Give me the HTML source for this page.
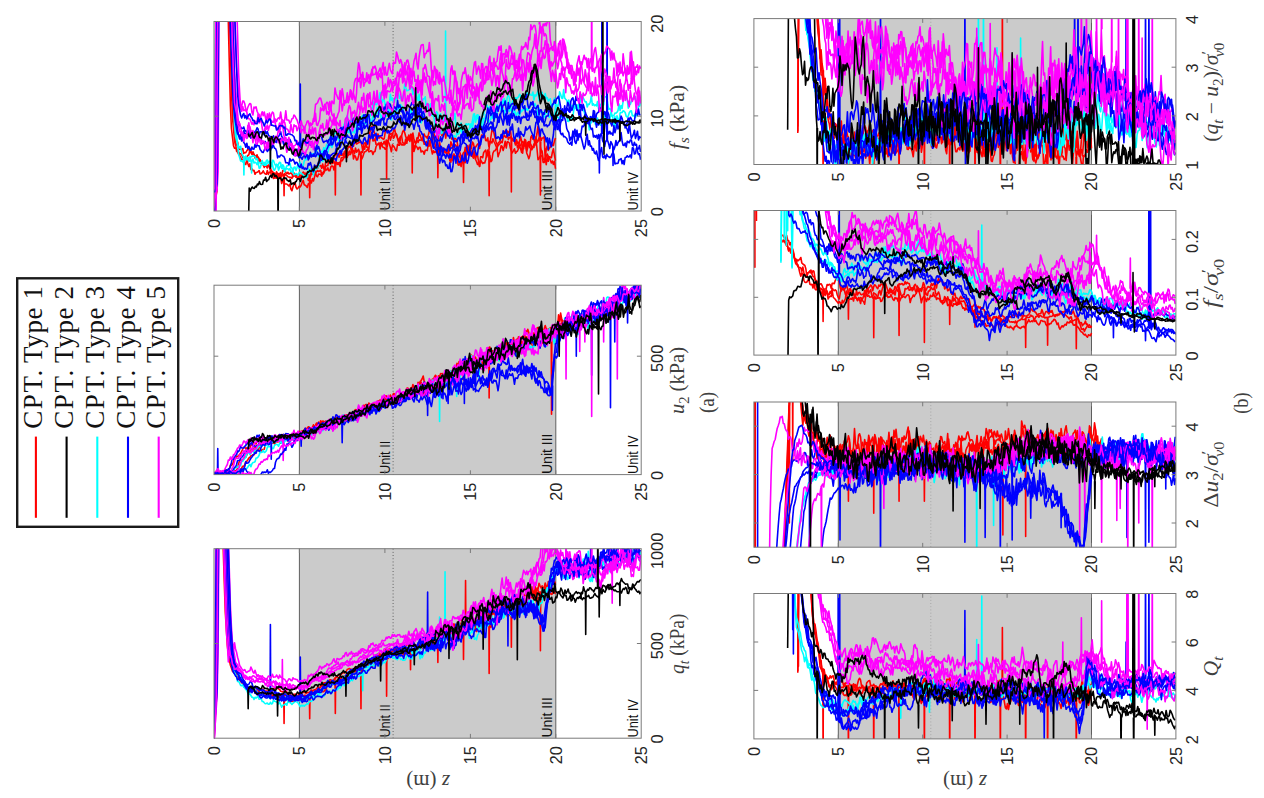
<!DOCTYPE html>
<html><head><meta charset="utf-8"><title>CPT profiles</title>
<style>html,body{margin:0;padding:0;background:#fff}body{width:1264px;height:798px;overflow:hidden;font-family:"Liberation Sans",sans-serif}svg{display:block}.ns path{vector-effect:non-scaling-stroke}</style>
</head><body>
<svg width="1264" height="798" viewBox="0 0 1264 798">
<rect width="1264" height="798" fill="#fff"/>
<rect x="299.4" y="21.5" width="256.3" height="189.5" fill="#cbcbcb"/>
<path d="M299.4,21.5V211.0M555.8,21.5V211.0" stroke="#5e5e5e" stroke-width="1" fill="none"/>
<path d="M393.1,21.5V211.0" stroke="#3a3a3a" stroke-width="0.8" stroke-dasharray="0.9,2.3" fill="none"/>
<text transform="translate(389.5,210.4) rotate(-90)" font-size="14" text-anchor="start" font-family="Liberation Sans, sans-serif" fill="#111" textLength="33.3" lengthAdjust="spacingAndGlyphs">Unit II</text>
<text transform="translate(552.2,210.4) rotate(-90)" font-size="14" text-anchor="start" font-family="Liberation Sans, sans-serif" fill="#111" textLength="40.5" lengthAdjust="spacingAndGlyphs">Unit III</text>
<text transform="translate(637.6,210.4) rotate(-90)" font-size="14" text-anchor="start" font-family="Liberation Sans, sans-serif" fill="#111" textLength="38.5" lengthAdjust="spacingAndGlyphs">Unit IV</text>
<clipPath id="c_fs"><rect x="214.0" y="21.5" width="427.2" height="189.5"/></clipPath>
<g clip-path="url(#c_fs)"><g transform="translate(214.00 0) scale(1.02540 0.25)" fill="none" stroke-width="1.60" stroke-linejoin="round" vector-effect="non-scaling-stroke" class="ns">
<path d="M0.00 817l1-14 1-20 1-21 1-903 1 0 1 0 1 0 1 0 1 0 1 0 1 0 1 0 1 26 1 209 1 173 1 157 1 90 1 34 1 35 1 10 1-1 1 5 1 4 1 6 1 8 1 0 1 4 1 11 1-2 1 5 1 2 1-7 1-6 1-3 1-19 1 11 1 5 1-9 1 10 1 15 1-9 1-4 1 20 1 10 1-11 1 15 1 2 1 3 1 0 1 0 1 7 1 7 1-10 1 0 1 10 1 12 1 2 1 5 1 1 1 11 1-16 1 11 1-3 1 2 1-7 1 12 1 0 1-5 1-2 1 5 1 2 1 5 1 1 1 3 1-2 1 5 1-13 1-9 1 7 1 10 1 1 1 7 1-6 1-10 1 5 1-8 1-10 1 4 1 1 1 0 1 6 1-13 1 23 1-2 1-12 1 2 1-11 1-4 1 11 1 11 1 3 1-11 1 1 1 0 1 8 1-13 1-6 1-6 1-15 1-2 1-1 1-23 1-2 1 3 1 15 1-8 1-1 1 10 1-7 1 4 1-2 1 2 1-5 1-5 1 0 1-7 1-29 1-4 1 17 1-19 1-14 1 2 1-8 1 24 1-11 1 42 1-15 1 5 1 14 1-1 1-16 1-18 1 15 1-14 1 4 1-33 1-5 1-2 1 19 1 0 1 10 1-38 1-18 1-13 1 34 1-2 1-7 1 22 1 1 1 0 1-1 1 1 1-8 1 11 1-6 1-10 1 14 1-19 1 26 1-29 1-23 1 27 1-14 1-12 1-9 1-13 1 20 1 4 1 15 1 9 1 20 1-33 1-6 1-15 1-6 1 10 1 16 1 7 1 2 1-16 1 26 1-18 1-7 1 36 1 29 1-14 1-26 1-5 1 9 1-11 1 2 1-1 1-6 1 7 1 16 1-3 1-8 1 10 1 9 1-21 1-2 1-5 1 0 1-12 1 19 1 23 1 5 1-2 1 0 1-21 1 25 1 1 1-3 1 17 1-11 1 3 1 16 1-5 1-6 1-4 1-35 1 9 1 20 1-13 1-5 1 6 1 0 1 20 1 22 1 3 1 30 1-18 1 9 1-7 1 8 1-27 1-42 1 11 1 16 1 5 1 11 1-22 1 15 1-7 1 27 1 8 1 12 1-7 1 15 1-39 1 0 1 4 1-21 1-5 1-5 1 28 1-15 1-8 1-40 1 2 1 5 1-17 1 11 1 8 1 10 1 11 1-22 1-4 1-6 1-16 1-11 1-2 1-9 1 2 1 6 1-9 1 35 1-8 1-3 1 0 1 12 1 4 1-2 1 13 1-7 1 23 1-5 1-22 1-17 1 19 1 47 1-41 1 12 1-3 1 32 1 9 1 13 1-12 1-31 1 7 1-8 1-15 1 6 1-26 1-22 1-30 1 37 1 26 1 32 1 6 1 32 1 3 1-9 1 28 1-32 1 18 1-18 1 2 1 2 1-22 1-14 1 26 1 22M68.03 697 L68.33 783 68.63 697M93.03 709 L93.33 791 93.63 709M118.03 656 L118.33 780 118.63 656M143.03 620 L143.33 780 143.63 620M168.03 560 L168.33 715 168.63 560M193.03 541 L193.33 692 193.63 541M218.03 590 L218.33 711 218.63 590M243.03 650 L243.33 730 243.63 650M268.03 605 L268.33 783 268.63 605M289.70 548 L290.00 768 290.30 548M318.03 567 L318.33 780 318.63 567" stroke="#ff0000"/>
<path d="M0.00 831l1-40 1-108 1-824 1 0 1 0 1 0 1 0 1 0 1 0 1 0 1 0 1 0 1 0 1 0 1 171 1 169 1 159 1 113 1 42 1 50 1 18 1-2 1-11 1 24 1 6 1-2 1 2 1-4 1 20 1-4 1 1 1-8 1-5 1 1 1-6 1 11 1 13 1 2 1-1 1 7 1 0 1 5 1-2 1 7 1 9 1 1 1 7 1 8 1 10 1-12 1 7 1 1 1-6 1 9 1 13 1 2 1 7 1 4 1 13 1-6 1 8 1-17 1 13 1-10 1 10 1 2 1-26 1 1 1-8 1 16 1 4 1-6 1 7 1-2 1-3 1 5 1 11 1-3 1-3 1 7 1-10 1 7 1 6 1 4 1-14 1 6 1 0 1-8 1 0 1 4 1 1 1 17 1-7 1-15 1-22 1 12 1 4 1 6 1-27 1-10 1 12 1-11 1 0 1-1 1 11 1-17 1 20 1-5 1-23 1-3 1-18 1 18 1-4 1 6 1 3 1 3 1-19 1-15 1-10 1 12 1-7 1 15 1-12 1 4 1 0 1-7 1 5 1-10 1-10 1 17 1 5 1-4 1 1 1-14 1-22 1 3 1-21 1 5 1 7 1-3 1-2 1-2 1-5 1 13 1 24 1-16 1 12 1-27 1 9 1-16 1-8 1-26 1-9 1-16 1 12 1 9 1 16 1 13 1-16 1-2 1 17 1-8 1 5 1 3 1 4 1-2 1-27 1-7 1-1 1 4 1 7 1 6 1-2 1-2 1 20 1-6 1-14 1 7 1 14 1 17 1-18 1-7 1-2 1 28 1 0 1 6 1-9 1-11 1-5 1 7 1-14 1-10 1 11 1-15 1 26 1 13 1 2 1-22 1 4 1-24 1 10 1 12 1 10 1-21 1-6 1 11 1-1 1 7 1-13 1-15 1-3 1-7 1 37 1-26 1 17 1 5 1 4 1 16 1-25 1-26 1-8 1 32 1 2 1-29 1 12 1 27 1-31 1 8 1-15 1 16 1 4 1 22 1-13 1 18 1-10 1 4 1 8 1 27 1 11 1 11 1 12 1 7 1-20 1-4 1-9 1-6 1 22 1-18 1-17 1 9 1 5 1-26 1 6 1 21 1-6 1-6 1-6 1-4 1 21 1-37 1-17 1 5 1-9 1 5 1 21 1 1 1-12 1 35 1-10 1-27 1-26 1-2 1 10 1 19 1 16 1 11 1 6 1-5 1-4 1-8 1 5 1-21 1-9 1 6 1 3 1-21 1 0 1-3 1-11 1 39 1 1 1 6 1-1 1 20 1-22 1 15 1-4 1 18 1 7 1 16 1-27 1 12 1-38 1 4 1 44 1-15 1-24 1 25 1-42 1-7 1 15 1 1 1 15 1-26 1 23 1-5 1-14 1-8 1 20 1-11 1 0 1-5 1 90 1-41 1-12 1 18 1-9 1-5 1-18 1 12 1 0 1-18 1-12" stroke="#ff0000"/>
<path d="M0.00 850l1-51 1-639 1-301 1 0 1 0 1 0 1 0 1 0 1 0 1 0 1 0 1 0 1 0 1 0 1 0 1 87 1 217 1 163 1 157 1 39 1 51 1 32 1 4 1 7 1 5 1 9 1 9 1-2 1 3 1 17 1 1 1-20 1 16 1 12 1-11 1 23 1-3 1 8 1-2 1 16 1-7 1-1 1-2 1-5 1 14 1-2 1-3 1-8 1 9 1 4 1 1 1-15 1 16 1-9 1-2 1 11 1-1 1 17 1-2 1-1 1 2 1 0 1-6 1 0 1 4 1 23 1-11 1 1 1 12 1 0 1 0 1 4 1 4 1-8 1 20 1 7 1-15 1-11 1-8 1 20 1 7 1-4 1-7 1 3 1-7 1-12 1-8 1 18 1 2 1 3 1 6 1-15 1 3 1-16 1 10 1-18 1 10 1-16 1-13 1-9 1-3 1 3 1-2 1-3 1 17 1 0 1-5 1-9 1-7 1 3 1-9 1 12 1 0 1-16 1-3 1 1 1 15 1-19 1-15 1 12 1-2 1 1 1 9 1-34 1-2 1 0 1 1 1-10 1 10 1-2 1-17 1-8 1 13 1-10 1-5 1 0 1 12 1-22 1 17 1-6 1-6 1 16 1 1 1 23 1-8 1-14 1-8 1-1 1-5 1-5 1 11 1-1 1-3 1 2 1 13 1-11 1-1 1-19 1-8 1-3 1-5 1 25 1-26 1 14 1 6 1 0 1 7 1-1 1-32 1 3 1 9 1 14 1 17 1-28 1 5 1 6 1 10 1 3 1-26 1 4 1-4 1-6 1 9 1-1 1 1 1-2 1-22 1 17 1-22 1-7 1 8 1-4 1 16 1-1 1 37 1-17 1 1 1 5 1 9 1-9 1 0 1 19 1-4 1 2 1 11 1-16 1 0 1 1 1-26 1 8 1-17 1 30 1 19 1-13 1 7 1-4 1 5 1-13 1 21 1-20 1 7 1-5 1 11 1-8 1 4 1 3 1-3 1-23 1 24 1 34 1 6 1-30 1 24 1-28 1 14 1-6 1-3 1 39 1 2 1-11 1 16 1-20 1-7 1-7 1-43 1 15 1 15 1-4 1 6 1-34 1 29 1 9 1 8 1-29 1 32 1-15 1-1 1 27 1 18 1-25 1 7 1 7 1-3 1 1 1-14 1-23 1-15 1 22 1-1 1 26 1-5 1-29 1-9 1-1 1-6 1-9 1 39 1-13 1-9 1-22 1 3 1 16 1-16 1-21 1 27 1-25 1 1 1 4 1 20 1 12 1 7 1-8 1-8 1 18 1-6 1-3 1-10 1-6 1-8 1-9 1-5 1 8 1-10 1 7 1 29 1-30 1-3 1 5 1 5 1 14 1-5 1 4 1-28 1-6 1 39 1 44 1-4 1-11 1 0 1-1 1 27 1 0 1-11 1-15 1-8 1 9 1 5 1 10 1 12 1-8 1 14 1-13 1 30" stroke="#ff0000"/>
<path d="M0.00 862l1-431 1-572 1 0 1 0 1 0 1 0 1 0 1 0 1 0 1 0 1 0 1 0 1 0 1 0 1 0 1 136 1 137 1 141 1 135 1 95 1 43 1 16 1 14 1 9 1 7 1-7 1 28 1 8 1 7 1 0 1-4 1 9 1 6 1-8 1-3 1 18 1-3 1-7 1 16 1-3 1 2 1 8 1-11 1 2 1 2 1-2 1-8 1 13 1 6 1 0 1-2 1-7 1-4 1-3 1 17 1 5 1-26 1 1 1 12 1 8 1-5 1 9 1-10 1-7 1 3 1 22 1-15 1 6 1 22 1-13 1-11 1 0 1-4 1-6 1 17 1 2 1 16 1-19 1-1 1 14 1-12 1-15 1 20 1-26 1 20 1-6 1 0 1-19 1-6 1 1 1-18 1 14 1-16 1 4 1-5 1-3 1 1 1 3 1-12 1-6 1 12 1 13 1 1 1-15 1-8 1 7 1-21 1 7 1-5 1-15 1 10 1 2 1-40 1 10 1-14 1 14 1-19 1-7 1 0 1-17 1 23 1 8 1-16 1 1 1-6 1-8 1-22 1 2 1-24 1-13 1 26 1 8 1-5 1-13 1 15 1 4 1 10 1-14 1-27 1 30 1-8 1 2 1-12 1-10 1-6 1 5 1-7 1 20 1 0 1-8 1 1 1-7 1-7 1-18 1-21 1-13 1 8 1 5 1-3 1-13 1-8 1-25 1 13 1 27 1-11 1 2 1 26 1-15 1 6 1 25 1-28 1-38 1 24 1-9 1 17 1 0 1-20 1 9 1-20 1-3 1 18 1-8 1 17 1-8 1-20 1-38 1 14 1 13 1-1 1-2 1-8 1-7 1 7 1 26 1-19 1 16 1-9 1 29 1 7 1-25 1 48 1-6 1-10 1-14 1 1 1-9 1 47 1 5 1-24 1 14 1-14 1 26 1 7 1 15 1 4 1-11 1-9 1 6 1 23 1 6 1-27 1 24 1 9 1-9 1-25 1 33 1-26 1 35 1 9 1-1 1 4 1-21 1-4 1-9 1-20 1 55 1-15 1 1 1 13 1-6 1-10 1 22 1-1 1-4 1-7 1-7 1 5 1-5 1 3 1 13 1-15 1 15 1-21 1-20 1-1 1-8 1 12 1-12 1 20 1 1 1 15 1-45 1 7 1-26 1-3 1-11 1 10 1 10 1-14 1 8 1 14 1-2 1-19 1 27 1-4 1-30 1 4 1 9 1-6 1-6 1-22 1 18 1-22 1 11 1 10 1-26 1-8 1 8 1 42 1-7 1-17 1-10 1 1 1-7 1 6 1-7 1-2 1-11 1 5 1 26 1 3 1-9 1-7 1-4 1-21 1 6 1 5 1-5 1 4 1 1 1-13 1 32 1-21 1 5 1-10 1-11 1 40 1-30 1 15 1-19 1 26 1 1 1-22 1 21 1-5 1 14 1-5 1-4 1 34 1-5 1-5 1-27 1 28 1-2 1 21 1-29 1-43 1 10 1 15 1 2 1-36 1 34 1 5 1 4 1 18 1-19 1 21 1 4 1-4 1 11 1-17 1 20 1-3 1-3 1 8 1-19 1-10 1-29 1 6 1 6 1 8 1 9 1-1 1 21 1-12 1 2 1-10 1-26 1 39 1-6 1 8 1-4 1 5 1-18 1 28 1-3 1-14 1 21 1-26 1 8 1-34 1 2 1-2 1 32 1 20 1-4 1 5 1 25 1-1 1-1 1-10 1 1 1-4 1-7 1-26 1 26 1-20 1 12 1-30 1-24 1 2 1 13 1 1 1 37 1-26 1 11 1-12 1-10 1-4 1 4 1-9 1 33 1-9 1 7 1 4 1-26M225.53 487 L225.83 124 226.13 487M28.87 628 L29.17 700 29.47 628M36.37 643 L36.67 692 36.97 643" stroke="#00ffff"/>
<path d="M0.00 868l1-27 1-27 1-581 1-374 1 0 1 0 1 0 1 0 1 0 1 0 1 0 1 0 1 0 1 0 1 0 1 0 1 10 1 157 1 160 1 124 1 124 1 106 1 39 1 39 1 12 1 14 1-1 1 5 1-7 1-8 1 8 1-9 1-2 1 15 1-2 1-17 1 0 1-3 1 2 1 1 1 13 1-5 1 13 1 26 1-1 1-15 1 1 1-4 1-5 1 10 1-16 1-3 1 10 1 3 1-2 1 0 1 7 1 20 1 3 1-9 1-14 1 3 1 20 1-12 1-6 1 7 1 4 1 3 1 6 1-5 1-4 1 1 1 5 1-6 1 13 1-2 1 3 1 11 1-1 1-4 1 3 1 5 1-12 1-1 1 4 1 3 1 4 1 7 1-5 1 10 1-4 1-33 1 17 1-16 1 3 1 1 1 20 1-19 1-1 1-8 1 0 1-8 1-13 1-33 1 23 1 5 1-9 1-2 1 4 1-19 1-10 1-19 1-9 1-2 1 10 1-15 1-10 1-4 1-4 1-5 1 3 1 11 1-11 1 8 1-5 1-12 1-10 1-6 1 7 1-21 1 15 1-14 1 17 1 5 1-25 1 14 1 4 1-20 1 0 1 14 1-22 1-2 1-9 1-14 1 21 1-9 1 0 1 5 1-4 1-17 1-5 1 4 1 12 1 2 1-29 1 15 1-22 1 11 1-34 1 24 1 2 1 0 1 19 1-13 1 2 1-14 1 13 1 3 1-2 1-30 1-7 1 31 1 23 1-43 1 21 1-9 1-16 1 13 1-17 1-8 1 27 1-30 1 22 1-14 1 20 1 14 1 27 1 3 1-6 1-20 1-17 1-14 1 42 1-25 1-2 1 11 1 0 1 3 1 19 1 5 1-6 1 12 1-16 1-8 1-20 1-2 1-32 1 14 1 15 1 11 1 2 1 2 1 5 1-3 1 22 1 40 1-8 1-15 1 40 1-5 1-16 1 16 1-6 1-13 1-6 1 17 1-20 1 22 1 16 1-4 1 4 1 2 1 3 1-7 1 5 1 1 1-21 1 11 1-6 1-9 1-11 1 23 1-32 1 10 1 10 1 3 1-5 1-1 1-3 1-21 1 9 1-20 1-27 1-3 1 34 1-15 1-15 1 21 1 12 1-1 1 30 1-9 1-38 1 2 1-17 1 9 1 19 1 2 1-7 1-6 1-23 1 20 1-14 1 16 1-33 1 10 1-22 1-1 1 4 1 9 1-16 1 5 1 28 1-17 1 0 1-4 1-20 1 28 1-17 1 14 1 0 1 15 1-20 1 17 1 9 1-15 1 4 1 11 1-24 1 7 1-9 1 2 1-17 1 19 1-8 1 8 1-10 1-12 1 2 1-7 1 1 1 7 1-9 1 9 1 21 1 42 1-54 1 13 1 4 1-2 1 3 1 19 1-14 1-4 1 2 1 8 1 9 1-9 1-3 1 18 1 14 1-10 1-55 1 13 1 32 1-1 1 28 1-18 1-20 1 1 1-6 1 7 1-25 1 30 1 19 1 1 1-15 1 5 1-2 1-9 1-28 1-10 1-5 1-3 1 7 1 3 1-3 1 4 1 2 1 6 1 9 1 16 1 31 1-7 1-3 1 36 1-28 1-1 1-21 1 0 1 9 1 19 1-1 1-25 1 24 1-8 1 13 1-11 1 6 1-10 1-24 1 25 1 13 1-26 1 4 1 3 1-30 1 9 1 11 1 34 1-39 1 45 1-48 1 19 1 5 1-34 1-3 1 0 1-7 1 2 1 5 1 15 1 3 1-4 1-13 1-6 1-2 1 20 1 1 1-4 1 10 1-11 1-4 1-28 1-2 1-21" stroke="#00ffff"/>
<path d="M0.00 848l1-33 1-26 1-828 1-102 1 0 1 0 1 0 1 0 1 0 1 0 1 0 1 0 1 0 1 0 1 124 1 144 1 107 1 118 1 70 1 42 1 26 1 28 1 17 1 5 1 6 1-10 1 16 1-3 1-26 1 11 1 2 1 16 1-15 1-6 1 3 1 19 1-8 1-9 1 17 1-15 1 9 1 2 1 1 1 9 1-1 1-3 1 19 1-6 1 5 1-7 1 8 1 1 1-4 1 16 1-14 1-5 1 23 1-30 1 6 1 1 1-12 1 4 1-5 1 6 1-7 1 8 1-4 1 20 1-2 1-10 1 9 1-13 1-3 1-2 1 10 1 15 1 24 1 2 1-8 1 1 1-5 1 26 1 9 1-2 1 2 1 6 1-11 1-2 1-8 1 4 1 1 1 4 1 2 1-5 1 6 1-7 1 4 1-3 1 5 1-6 1-12 1 10 1-3 1 16 1-17 1 11 1-18 1-6 1 13 1 11 1 14 1-16 1 7 1-10 1-3 1-4 1-1 1 2 1-18 1-13 1-6 1-1 1-19 1-22 1 0 1 14 1-1 1-12 1 17 1-14 1 9 1 0 1 4 1 0 1-10 1 21 1-8 1-15 1-9 1-47 1 2 1-6 1 14 1 40 1-19 1-23 1 21 1-9 1-5 1 12 1 3 1-3 1 8 1-10 1 1 1-5 1-18 1 4 1-3 1-1 1-8 1 21 1-22 1-4 1 2 1 1 1-17 1-18 1 5 1-2 1 23 1-19 1-1 1 13 1 2 1 9 1-21 1 5 1-2 1 21 1 14 1-1 1 13 1-23 1-18 1 6 1 19 1 10 1-19 1-11 1 2 1-1 1 5 1-12 1-22 1 13 1 4 1 11 1-15 1 3 1 11 1 4 1 13 1-12 1 4 1-1 1 21 1-17 1 31 1-14 1 18 1 22 1 35 1 18 1 1 1 11 1 2 1 18 1 5 1 29 1-17 1-10 1-4 1-7 1 6 1 12 1-16 1 6 1 9 1-16 1 15 1-19 1-12 1-4 1 6 1 10 1 9 1-4 1-11 1-4 1-23 1-4 1-24 1 11 1-40 1 32 1-6 1 9 1 9 1-4 1-21 1 13 1-1 1 2 1-11 1 10 1-12 1 23 1 19 1-22 1-13 1-7 1 3 1-19 1-25 1 5 1 3 1 11 1-10 1-3 1 12 1-30 1 34 1-11 1-1 1-11 1-31 1 3 1-16 1 14 1 12 1 18 1-23 1-12 1-12 1 37 1-29 1 41 1-26 1-16 1 13 1-19 1 8 1 18 1-14 1 23 1-24 1 3 1 26 1-25 1 3 1-7 1 5 1 0 1-18 1 16 1-4 1-20 1 7 1-12 1 8 1-3 1 26 1-2 1 5 1 24 1-18 1-6 1 6 1-11 1 15 1 20 1 0 1-5 1 9 1-6 1-1 1-15 1-5 1-13 1 33 1-11 1-21 1 25 1-9 1-6 1 15 1-39 1 6 1 11 1-8 1 9 1 14 1 28 1 10 1 6 1 33 1-14 1 8 1-33 1 14 1-21 1 29 1-25 1 40 1-26 1 13 1-15 1-29 1 3 1-5 1-24 1-2 1 17 1-11 1 11 1 15 1 10 1-5 1 35 1-6 1 7 1-8 1 14 1-17 1 22 1-24 1 0 1 27 1 7 1 16 1-22 1 0 1-1 1 14 1 17 1-28 1 8 1 12 1 13 1-12 1-25 1 20 1-11 1-7 1-3 1-31 1 35 1 16 1 1 1-10 1 16 1-23 1 3 1 3 1-11 1 0 1 20 1 4 1-15 1 12 1-4 1 30 1 11 1-3 1 24M83.87 629 L84.17 336 84.47 629M378.03 536 L378.33 -141 378.63 536M383.03 564 L383.33 -141 383.63 564M375.53 560 L375.83 692 376.13 560M388.87 586 L389.17 662 389.47 586" stroke="#0000ff"/>
<path d="M0.00 869l1-48 1-25 1-918 1-19 1 0 1 0 1 0 1 0 1 0 1 0 1 0 1 0 1 0 1 0 1 0 1 0 1 0 1 0 1 56 1 122 1 118 1 113 1 53 1 54 1 44 1 17 1 9 1-19 1 16 1-2 1 3 1 5 1 24 1 3 1 1 1 10 1 11 1-7 1 9 1-15 1 5 1-4 1-27 1-1 1 30 1-4 1 28 1 23 1-6 1-23 1 12 1-17 1 21 1-16 1-5 1-18 1 7 1 0 1-15 1 25 1 10 1 4 1-4 1-17 1 6 1 3 1-14 1 2 1 1 1 24 1 2 1 2 1 11 1 1 1-33 1 22 1 12 1-32 1 6 1-2 1 20 1-9 1-18 1 10 1 25 1-11 1-2 1-9 1 18 1 8 1 16 1-14 1-21 1-23 1 4 1 0 1-23 1 11 1-32 1 46 1 3 1-13 1-10 1-48 1 11 1-8 1 9 1-10 1-12 1 36 1-11 1 14 1-19 1-9 1 26 1 6 1 0 1 8 1 3 1-6 1-14 1-9 1-56 1 6 1 48 1-28 1-2 1-6 1-9 1-28 1 40 1-24 1-28 1 7 1 32 1-30 1-39 1-13 1-3 1 1 1 12 1-16 1 41 1-27 1-35 1 31 1-5 1 12 1-5 1-9 1-15 1 31 1-33 1 6 1-35 1 5 1-8 1 13 1 24 1-9 1-10 1-10 1 29 1-30 1-21 1 50 1-32 1 33 1-1 1-26 1-21 1 27 1 8 1 7 1-47 1 6 1-2 1-44 1 14 1 19 1 12 1-15 1 10 1 39 1 29 1-65 1 49 1-9 1-27 1-2 1 71 1-60 1 36 1-7 1-17 1 41 1-7 1 27 1-45 1 52 1-12 1 7 1 32 1-107 1 1 1-16 1 20 1 24 1 3 1 1 1 67 1-60 1-31 1 29 1-46 1 12 1 36 1-30 1 37 1 16 1-24 1 12 1 82 1-20 1 3 1-2 1 15 1-16 1 6 1 21 1-53 1 62 1-25 1-48 1-64 1 43 1 66 1 46 1-15 1-29 1-20 1 5 1-34 1 0 1-7 1-3 1 15 1-52 1 52 1 15 1 13 1-60 1 33 1-5 1 53 1-49 1 29 1 8 1-36 1-24 1 19 1-71 1 53 1 3 1-4 1-47 1 18 1 8 1-6 1-45 1-6 1 45 1-21 1-13 1-2 1 6 1 11 1-1 1-40 1-25 1 53 1-9 1-4 1-33 1 10 1-14 1 15 1 41 1-10 1-38 1 5 1 18 1-33 1 76 1 25 1-14 1-66 1 53 1-16 1-3 1-29 1 4 1 44 1 3 1-50 1-28 1 3 1 5 1 19 1-29 1-15 1-11 1-47 1 57 1 0 1-17 1-34 1-44 1 36 1-28 1 11 1 27 1-9 1 7 1 38 1-3 1 29 1-13 1-4 1 12 1-3 1-32 1 15 1 38 1 4 1-49 1 51 1 11 1-25 1-55 1 2 1 16 1 15 1 61 1 23 1-13 1 2 1 0 1 0 1 22 1 14 1 38 1 3 1 27 1-6 1-10 1-60 1-41 1 9 1-21 1-16 1 17 1-6 1 39 1-37 1 45 1-9 1-2 1 17 1-56 1-29 1-10 1 31 1 42 1-14 1-14 1 2 1 41 1 16 1 11 1-29 1 12 1 13 1 23 1-16 1-2 1 50 1-32 1 3 1-55 1 46 1 19 1 18 1-48 1-9 1-6 1-22 1 13 1 20 1-15 1-15 1 39 1-17 1-16 1 16 1-86 1 105 1-68 1 2 1 49 1-29 1 1 1-10 1 32 1-27 1 10M368.03 268 L368.33 -141 368.63 268M317.20 98 L317.50 48 317.80 98" stroke="#ff00ff"/>
<path d="M0.00 854l1-74 1-921 1 0 1 0 1 0 1 0 1 0 1 0 1 0 1 0 1 0 1 0 1 0 1 0 1 0 1 56 1 145 1 113 1 122 1 132 1 23 1 33 1 23 1-21 1 15 1 8 1 6 1 0 1-6 1 14 1 2 1 6 1-10 1 10 1 8 1-13 1 10 1 5 1-6 1-8 1-4 1-11 1 5 1 25 1-14 1 0 1 1 1 3 1 9 1-16 1 11 1-9 1 14 1 5 1 1 1 7 1-2 1-8 1 12 1 1 1 14 1-21 1-3 1-8 1-11 1 19 1 4 1 26 1 3 1 0 1-21 1 17 1 5 1 15 1-2 1 8 1 5 1 15 1-12 1 14 1-12 1 6 1 4 1 0 1 0 1-9 1 0 1 3 1 17 1-8 1-4 1 20 1-8 1-23 1 14 1 1 1-8 1 7 1-16 1-23 1 12 1-10 1 13 1 19 1 5 1-2 1-6 1-9 1-1 1-8 1-9 1-12 1 5 1-24 1 23 1-4 1-25 1 8 1 26 1-6 1-8 1 8 1 11 1-14 1-9 1-21 1-9 1-7 1-12 1 2 1-27 1 20 1 12 1 18 1 13 1 10 1 7 1-32 1 25 1-44 1-10 1 5 1-3 1-29 1 8 1-32 1 8 1 22 1-30 1 47 1 14 1-7 1-3 1-2 1 19 1-12 1-15 1-1 1-13 1 13 1-18 1 3 1-10 1 3 1-13 1 35 1-8 1 9 1-26 1 0 1-11 1 11 1-10 1-3 1 2 1 12 1 1 1-5 1-13 1-13 1-8 1 5 1-1 1 7 1 17 1-6 1 14 1-31 1 12 1-3 1 27 1-23 1-4 1 7 1-5 1-11 1-21 1 20 1-15 1 12 1 49 1-26 1-9 1-8 1 12 1 17 1 28 1-8 1-1 1 31 1 1 1 8 1-6 1 16 1 10 1 9 1 7 1 42 1 7 1 2 1-37 1 4 1 33 1-29 1 7 1-2 1 8 1-16 1-11 1 24 1-10 1 0 1-4 1-16 1 20 1 15 1-20 1 21 1-21 1-8 1-41 1 5 1 18 1 12 1 1 1 4 1 24 1 11 1 3 1-36 1-23 1-23 1-20 1 15 1 6 1 4 1-16 1-23 1-33 1 46 1-7 1 13 1-3 1-8 1 16 1-28 1-4 1-42 1-9 1-14 1 18 1-5 1 46 1-43 1 27 1-16 1 34 1 2 1-27 1-13 1-17 1-13 1 0 1-16 1 33 1 18 1-45 1 24 1-8 1-10 1 0 1-3 1 8 1 7 1-10 1 13 1 4 1-10 1-15 1-1 1 19 1 6 1-11 1 36 1 19 1 3 1-1 1-19 1 3 1-16 1-18 1 28 1-14 1 0 1 44 1-23 1 23 1-22 1 9 1 12 1-36 1 6 1-18 1 2 1 3 1-1 1 3 1-4 1 20 1 22 1-23 1 5 1 12 1 15 1 25 1-13 1 18 1-30 1-15 1 4 1-30 1-29 1 36 1-27 1-23 1 11 1 29 1-22 1 15 1-13 1-24 1 6 1 9 1 21 1-1 1 21 1-26 1 39 1-1 1 0 1-4 1-13 1 19 1 19 1-13 1 17 1-32 1 8 1-9 1 22 1-43 1 35 1 30 1-22 1 13 1-12 1-2 1-3 1-8 1 10 1-9 1 8 1 45 1-4 1 11 1-11 1 11 1-4 1 9 1-39 1 29 1-16 1-21 1 22 1-13 1-17 1-22 1 9 1 20 1 8 1-2 1 10 1 9 1 15 1-43 1 37 1 27 1-9 1-7 1-17 1 33 1-13 1-16 1 35 1-14 1 7" stroke="#0000ff"/>
<path d="M0.00 939l1-442 1-638 1 0 1 0 1 0 1 0 1 0 1 0 1 0 1 0 1 0 1 0 1 0 1 0 1 0 1 21 1 46 1 106 1 95 1 152 1 84 1 39 1 51 1 41 1-1 1 20 1 14 1 12 1 9 1-9 1 2 1 7 1-35 1-22 1 36 1 16 1 1 1 27 1-31 1-3 1-7 1 35 1-24 1 3 1 26 1 8 1-13 1-1 1 1 1 9 1-2 1 25 1-33 1-15 1 10 1 16 1-2 1 5 1-27 1 8 1-9 1-11 1-26 1 16 1-22 1-24 1 18 1 38 1 14 1-4 1 20 1-4 1-16 1 34 1-6 1-4 1 21 1-11 1-1 1-5 1-14 1 12 1 28 1 0 1-3 1-14 1-22 1 6 1 5 1 8 1-24 1 7 1-20 1-27 1 17 1-28 1 28 1-22 1-2 1 53 1-10 1-1 1-33 1-20 1 11 1-18 1 29 1-7 1-1 1-35 1 39 1-31 1-21 1 15 1 6 1 6 1-39 1 45 1 1 1-12 1 7 1 7 1-21 1 61 1-1 1 5 1-27 1-43 1-6 1-5 1-28 1-16 1 10 1 49 1-33 1 5 1-11 1 16 1 1 1-29 1-21 1 29 1 2 1-50 1 10 1-27 1 57 1-9 1-40 1 10 1 37 1-8 1 9 1 32 1-11 1-28 1-15 1 1 1-13 1 13 1 12 1-10 1-33 1-12 1-8 1 39 1-60 1 55 1-28 1 2 1 2 1-1 1-15 1-9 1-18 1 12 1-23 1 9 1 35 1-15 1-54 1-12 1 11 1 45 1-11 1-7 1 31 1-17 1-40 1 35 1 34 1-15 1 5 1 5 1 6 1 15 1-32 1 1 1 29 1-11 1-7 1-34 1 29 1-25 1-31 1 37 1-21 1 29 1 16 1 18 1 20 1-17 1 47 1 11 1-25 1-13 1 2 1 7 1-21 1 56 1 7 1-28 1 4 1 20 1-27 1 53 1 17 1 59 1-59 1 51 1-80 1 7 1-45 1-5 1-10 1 18 1 29 1-38 1 11 1-8 1-41 1-12 1 65 1-17 1-62 1 3 1 43 1-90 1 30 1 11 1-3 1 50 1-22 1-4 1 38 1-68 1 23 1 3 1-17 1-10 1 30 1-3 1-38 1 13 1-43 1 28 1-6 1 3 1-32 1 24 1 32 1-21 1-40 1 23 1 41 1-43 1 1 1 55 1-61 1-50 1 44 1 13 1 26 1-17 1-75 1 24 1 14 1-2 1-21 1 3 1 2 1-14 1 37 1-36 1-3 1 19 1-21 1-23 1 2 1 38 1 55 1-11 1-14 1 35 1-42 1-29 1 4 1 22 1 25 1-14 1-17 1 38 1-20 1-26 1 3 1-51 1 30 1 18 1-32 1-1 1-39 1 5 1-33 1 14 1 34 1-12 1 25 1 53 1-30 1 17 1-12 1-7 1-58 1 51 1 37 1-19 1-50 1 34 1 11 1 31 1-14 1 21 1-18 1-6 1-29 1 56 1-2 1-25 1 31 1 12 1 34 1-8 1-30 1-43 1 41 1-30 1 27 1 37 1-16 1-9 1 22 1 8 1 8 1 2 1 4 1-15 1-7 1 38 1 13 1-11 1-28 1 23 1 1 1-29 1 8 1-2 1-5 1 37 1-35 1 37 1-47 1-32 1 30 1 37 1-3 1-32 1 17 1-9 1-9 1-3 1-9 1 29 1-16 1 79 1-66 1-28 1 36 1 41 1 11 1-65 1-8 1-28 1 18 1 38 1-23 1 17 1-42 1 23 1-68 1 59 1 35 1 13 1 1 1 45 1-57 1 42" stroke="#ff00ff"/>
<path d="M0.00 883l1-41 1-27 1-913 1-43 1 0 1 0 1 0 1 0 1 0 1 0 1 0 1 0 1 0 1 0 1 0 1 0 1 59 1 156 1 123 1 121 1 125 1 54 1 19 1 26 1 14 1-5 1 13 1-14 1 20 1 5 1 14 1-16 1 21 1-8 1 14 1 1 1-13 1 9 1-1 1-19 1 12 1-10 1 4 1 0 1 15 1 5 1 6 1 1 1-10 1-6 1 3 1 9 1-5 1-7 1 8 1-13 1-3 1-4 1 11 1 1 1 10 1 28 1-8 1 4 1-8 1 0 1 4 1 1 1 9 1 17 1 0 1 0 1 8 1-25 1 10 1-3 1-4 1 7 1 12 1-7 1 1 1 10 1 6 1 4 1-14 1 18 1-6 1 9 1-5 1 5 1-3 1-20 1 6 1-10 1 14 1 18 1 5 1-27 1 6 1-1 1-2 1-16 1 5 1-23 1 12 1-9 1 0 1-19 1-10 1 3 1 19 1-6 1 17 1 1 1 10 1-16 1 4 1-1 1 9 1-17 1-8 1-5 1-11 1 15 1-18 1-3 1-6 1-34 1 13 1 4 1 4 1-4 1-1 1-3 1 19 1-14 1-12 1-15 1-12 1 8 1 20 1-6 1 8 1 8 1 2 1-18 1-7 1 14 1 2 1 10 1-37 1 10 1 5 1-26 1 27 1-17 1 4 1-9 1 28 1-18 1 1 1 0 1-1 1-1 1-23 1 7 1-5 1 0 1 11 1-10 1 10 1-9 1 0 1-12 1 5 1-2 1-7 1-12 1-12 1 2 1-8 1-14 1 13 1 8 1 6 1 31 1-21 1-20 1 21 1-3 1-16 1 8 1 5 1 2 1 20 1-19 1-12 1-21 1 40 1-3 1 23 1 2 1 11 1-1 1 28 1 4 1 14 1 0 1-25 1-12 1 9 1 8 1 13 1 17 1-35 1-9 1-7 1 28 1 28 1-7 1 22 1 22 1 15 1-9 1 4 1 18 1-4 1 14 1 1 1-23 1 36 1-1 1-20 1-42 1 4 1 25 1-41 1 22 1 16 1-3 1 0 1-26 1 20 1 3 1-33 1 27 1 15 1-14 1-24 1-8 1 16 1-10 1-21 1-3 1 17 1 14 1-2 1-34 1-4 1-2 1-25 1-7 1 5 1-25 1 0 1-6 1-11 1-12 1-2 1-8 1 8 1 5 1 23 1-9 1 40 1-1 1-6 1 4 1 8 1-21 1 15 1-30 1 12 1-3 1-15 1 29 1-10 1 6 1-34 1 11 1-23 1 41 1 29 1-17 1-15 1 12 1-34 1 40 1-26 1 10 1 3 1 6 1-11 1-27 1 13 1-4 1-5 1-7 1 17 1 10 1 10 1 14 1-38 1-28 1 0 1 6 1 18 1 32 1-28 1-1 1 15 1 7 1 8 1 21 1-16 1 47 1-45 1 17 1 17 1-25 1-23 1-52 1 32 1-23 1-10 1 18 1-5 1 34 1 6 1-6 1 14 1-1 1 4 1 4 1 14 1 5 1 4 1-8 1 12 1-51 1 10 1 27 1 7 1-16 1-20 1 5 1-8 1 13 1 16 1 18 1 14 1-13 1-30 1-16 1 43 1-17 1 22 1-1 1 17 1-7 1 18 1 4 1-12 1 20 1 18 1-9 1-30 1-13 1 38 1 3 1-9 1 13 1-18 1 8 1 2 1 3 1-3 1-10 1-8 1 8 1 39 1-3 1 1 1-1 1-15 1 0 1-4 1 21 1-13 1 16 1-28 1-1 1-6 1 5 1-1 1-7 1 12 1-41 1 1 1 24 1-2 1-22 1 2 1 2 1-14 1 26" stroke="#0000ff"/>
<path d="M0.00 821l1-28 1-22 1-9 1-76 1-827 1 0 1 0 1 0 1 0 1 0 1 0 1 0 1 0 1 0 1 0 1 0 1 0 1 0 1 0 1 0 1 37 1 108 1 135 1 153 1 77 1 67 1-12 1-20 1 0 1 11 1 24 1 4 1-14 1-9 1-6 1 3 1 33 1 10 1-32 1 4 1-5 1 18 1 9 1 38 1-15 1-18 1-12 1 16 1-15 1 19 1 18 1-30 1 24 1-27 1 24 1-18 1-10 1 4 1 28 1-3 1 9 1-11 1-4 1 5 1-28 1 30 1 2 1 11 1-13 1-35 1 37 1 0 1 1 1 12 1-5 1-13 1-1 1-14 1 4 1 9 1 7 1 13 1 10 1-3 1-17 1 18 1 4 1 28 1-29 1-8 1-12 1 0 1 20 1-12 1 10 1-9 1-8 1-26 1-41 1-3 1-4 1-11 1-8 1 1 1 15 1 19 1 6 1-16 1 1 1-9 1 1 1 29 1-33 1 32 1-34 1 7 1 4 1-63 1 22 1 10 1 11 1 2 1-35 1 34 1-41 1 25 1 41 1-19 1 9 1-4 1-11 1 3 1-34 1 23 1 10 1-24 1 15 1 20 1-36 1-80 1-42 1 17 1 47 1-17 1 5 1 42 1-14 1-7 1-33 1 32 1 9 1 2 1-33 1-24 1 23 1-2 1-1 1-9 1 23 1 8 1-25 1 12 1 5 1-19 1 90 1-40 1 15 1-2 1-12 1-32 1 36 1-29 1 8 1 39 1-19 1-5 1-1 1-21 1-31 1 17 1-12 1 15 1-9 1-40 1 22 1-14 1-6 1-19 1-2 1 18 1 34 1 45 1 0 1-58 1-33 1-14 1-19 1 43 1 20 1-48 1-25 1-21 1-3 1-1 1 53 1-16 1-2 1-12 1 5 1-36 1 46 1 64 1 25 1 37 1-16 1 12 1-60 1 21 1 33 1-42 1 34 1-3 1 4 1-20 1 26 1 23 1 26 1 14 1-15 1-33 1-69 1-14 1 35 1-14 1 16 1 18 1 10 1 46 1-21 1 55 1-79 1-23 1-17 1 5 1-23 1 30 1 32 1-8 1 8 1-27 1 14 1 0 1-40 1-30 1-4 1 51 1-18 1-15 1 18 1 31 1-59 1 1 1 51 1-30 1-10 1 0 1 44 1-69 1-16 1 56 1-5 1 0 1-43 1 32 1-16 1-4 1-34 1-25 1 15 1-18 1 71 1-39 1 2 1-2 1-17 1 12 1 18 1-44 1 5 1 14 1 20 1 2 1 33 1-11 1 26 1-16 1 29 1-46 1-23 1-32 1 13 1-11 1 1 1-18 1 17 1 10 1-48 1 10 1-60 1 19 1-9 1-8 1 2 1 23 1 47 1 66 1 4 1-40 1 3 1-81 1-29 1 7 1-10 1 10 1-15 1-35 1 36 1 72 1 22 1 9 1-7 1 22 1 8 1 14 1-20 1-20 1-21 1-6 1 69 1-16 1-44 1 29 1 31 1-22 1 52 1-9 1 43 1-3 1 21 1-11 1-16 1 14 1 26 1-68 1-17 1-18 1 34 1-10 1 33 1 36 1 11 1-48 1 25 1 28 1 31 1-98 1-30 1 9 1 32 1-2 1 16 1-20 1 1 1-23 1 24 1 73 1-118 1-10 1 32 1-40 1 6 1-13 1-18 1 4 1 6 1 3 1 44 1-37 1 35 1-27 1 28 1 6 1 57 1-50 1 37 1-42 1 44 1-7 1-70 1 38 1 31 1 24 1-46 1 35 1-29 1-5 1-58 1 42 1 16 1 45 1-29 1 20 1-15 1-10 1 0 1-5" stroke="#ff00ff"/>
<path d="M0.00 769l1-5 1-12 1-17 1-362 1-514 1 0 1 0 1 0 1 0 1 0 1 0 1 0 1 0 1 0 1 0 1 0 1 0 1 0 1 18 1 151 1 128 1 114 1 107 1 41 1 23 1 21 1 10 1-12 1-6 1 18 1-10 1 14 1-10 1-7 1-4 1 12 1 5 1 11 1-2 1 12 1 2 1 0 1-24 1 16 1-9 1-5 1 12 1 7 1 12 1-11 1-12 1 11 1-9 1-7 1 1 1 24 1 0 1 2 1 1 1-1 1 17 1-2 1-7 1-8 1-1 1 2 1-1 1 9 1-4 1 33 1 0 1-6 1 1 1 0 1 2 1 1 1 4 1 4 1 16 1-2 1 15 1 3 1-10 1 21 1-8 1-13 1-14 1 10 1 1 1 6 1-1 1 2 1-7 1 15 1-13 1 12 1 6 1 3 1 18 1-16 1-21 1-16 1-13 1 3 1 4 1 15 1 7 1-5 1 0 1-4 1 11 1-14 1 1 1-16 1 15 1-6 1 8 1-16 1 17 1-13 1-10 1-16 1-8 1-4 1 18 1-20 1 21 1-2 1-23 1 6 1-8 1-18 1 14 1 4 1-11 1-18 1 1 1 18 1-5 1 6 1 8 1-20 1 38 1-22 1-15 1-22 1 0 1-1 1 15 1-10 1-6 1 37 1-4 1 2 1-8 1-3 1-9 1-11 1 2 1 5 1-27 1-1 1-16 1 23 1-4 1-16 1 18 1-29 1 18 1-11 1-9 1 3 1 15 1 12 1-11 1-8 1 7 1 6 1-38 1 30 1-11 1 9 1 17 1-6 1 9 1 12 1 12 1 22 1-8 1-33 1-26 1-6 1-12 1 7 1 3 1 43 1-22 1 12 1-17 1-16 1 29 1-15 1 28 1 13 1-7 1 35 1 13 1-20 1 22 1-35 1 17 1 4 1-1 1 20 1 7 1-8 1 4 1 35 1 2 1 1 1-17 1 20 1-14 1-14 1-7 1-9 1 7 1 13 1 0 1 10 1-23 1 8 1 16 1 16 1-7 1 4 1-2 1-13 1-3 1 15 1-22 1-1 1-16 1 21 1 1 1-12 1 6 1 8 1-7 1-13 1-7 1-8 1 2 1 5 1-19 1 20 1-20 1-5 1 6 1 3 1 12 1 14 1-28 1-11 1-16 1-20 1-25 1 22 1-12 1 20 1-9 1-3 1 1 1 13 1-28 1-11 1 20 1-18 1-9 1-11 1 39 1-4 1 37 1-12 1 9 1 23 1-21 1-6 1-16 1 12 1-32 1-12 1 16 1-9 1 1 1-15 1 13 1 25 1-43 1-2 1 7 1-17 1-15 1 13 1-20 1 41 1 14 1-6 1-18 1 10 1-13 1 25 1 1 1 4 1-10 1-5 1 39 1-20 1-1 1 15 1 34 1 8 1-14 1-17 1-1 1 0 1-44 1 14 1 8 1-24 1-3 1-15 1 13 1-18 1-3 1-7 1 19 1 23 1 34 1-26 1 24 1-18 1-6 1 6 1-7 1 11 1 3 1-43 1-10 1-4 1 20 1 7 1-33 1 16 1-7 1 10 1 27 1-13 1 24 1-25 1 14 1 16 1 13 1 7 1 22 1-2 1-7 1-9 1 9 1-38 1 17 1 26 1-28 1-6 1-2 1-19 1 8 1-9 1 22 1 6 1-11 1 21 1-23 1 4 1 10 1 31 1 4 1 11 1-22 1 6 1-13 1 16 1 1 1-2 1-1 1-11 1 14 1-6 1 2 1-1 1 25 1-9 1-14 1-17 1 9 1-12 1 7 1 8 1-1 1 0 1-28 1-17 1 24 1-26 1 23 1 0" stroke="#0000ff"/>
<path d="M0.00 907l1-1 1-18 1-518 1-511 1 0 1 0 1 0 1 0 1 0 1 0 1 0 1 0 1 0 1 0 1 8 1 75 1 97 1 147 1 105 1 119 1 26 1 18 1 40 1 12 1 21 1 0 1 16 1-14 1 36 1-15 1-11 1 15 1-52 1 3 1 2 1 18 1 4 1-7 1 28 1 4 1 21 1 1 1-9 1-11 1-6 1 15 1 0 1 8 1 4 1 23 1-11 1-20 1 22 1-17 1 1 1 4 1-21 1 17 1-13 1-17 1 5 1-1 1 22 1-9 1 15 1-26 1 9 1 2 1-11 1 33 1 25 1-14 1-24 1 9 1-4 1 16 1 13 1-14 1 34 1-15 1 10 1-15 1-16 1 9 1-2 1 1 1 12 1 0 1 11 1-18 1-5 1-12 1-13 1-7 1 24 1-25 1 35 1-29 1-9 1 15 1-1 1-26 1-26 1 14 1 6 1 4 1-14 1 8 1-6 1-1 1 2 1-9 1 5 1-23 1-8 1-21 1 20 1-23 1 2 1 60 1-20 1-1 1 0 1 39 1-34 1 12 1-16 1-13 1 1 1-38 1 10 1 4 1 20 1-11 1 32 1-10 1-44 1-16 1 12 1 23 1-22 1-11 1-27 1-5 1 25 1-17 1-2 1 21 1-51 1-25 1 21 1-26 1 48 1 1 1-18 1-36 1 39 1 4 1-46 1 40 1 20 1-22 1 5 1 23 1 39 1 0 1-26 1 9 1-42 1 2 1 24 1-4 1 9 1 6 1-16 1-33 1-7 1-43 1 48 1-46 1 10 1 14 1 31 1 1 1-37 1-8 1 85 1-47 1-15 1 23 1-28 1-2 1 14 1 27 1-5 1-41 1-36 1 11 1 25 1-48 1 8 1 49 1 33 1 2 1 19 1 16 1-25 1-10 1 4 1 45 1-2 1-9 1-85 1 47 1 36 1 6 1 79 1 17 1-43 1 26 1-55 1-2 1 20 1-11 1-4 1-25 1 37 1-5 1 41 1-25 1 25 1-48 1-5 1-58 1 19 1-1 1 15 1 11 1-10 1 4 1 20 1-39 1-20 1 16 1-15 1 0 1-6 1 0 1 21 1-46 1 55 1-3 1-6 1-55 1-11 1 15 1-35 1 17 1 49 1-10 1 20 1-4 1 20 1-7 1-20 1-28 1 12 1-1 1-12 1-22 1 35 1 33 1 15 1-64 1 15 1-23 1 18 1-24 1-11 1 45 1-15 1 0 1-22 1-37 1-24 1 23 1 43 1-21 1 31 1-7 1-58 1 1 1-17 1-18 1 43 1-8 1-7 1-21 1 33 1-23 1 64 1-54 1-16 1-18 1 2 1-16 1 28 1-57 1 34 1 38 1 41 1-17 1-35 1 15 1-13 1-11 1-28 1-5 1 24 1-43 1-18 1 21 1-4 1-38 1-15 1 65 1 28 1 18 1 38 1-45 1 16 1 29 1-48 1 34 1 40 1-18 1-40 1 24 1-45 1 24 1 13 1-19 1 80 1-60 1 19 1 13 1-4 1 17 1 17 1-10 1 14 1-17 1-16 1 44 1 15 1 9 1-45 1 18 1 28 1-41 1 10 1-2 1-7 1-23 1-58 1 12 1 71 1-28 1-20 1 25 1 30 1-72 1 72 1-30 1 25 1 69 1-2 1-11 1-44 1 17 1-37 1-36 1 14 1 25 1-66 1 28 1 82 1 31 1-63 1 4 1-2 1-20 1 36 1 20 1-51 1 26 1-61 1 27 1 6 1-8 1 41 1-40 1 36 1 11 1 18 1-65 1 27 1 17 1-11 1-23 1 32 1 46 1-82 1-19 1 41 1 24" stroke="#ff00ff"/>
<path d="M33.33 962l1-210 1 13 1-11 1-6 1 5 1 1 1-9 1 3 1-12 1 3 1-13 1 11 1 1 1-1 1-17 1 1 1-12 1 17 1-6 1-1 1-12 1-6 1 9 1-15 1 0 1 11 1-5 1 6 1 7 1 1 1-5 1 5 1 8 1-8 1-4 1 3 1-2 1 9 1 2 1 3 1-7 1 19 1-3 1-4 1 6 1-9 1-3 1-10 1 0 1 0 1 11 1-16 1-5 1 6 1-5 1 0 1-7 1-12 1 2 1-8 1 4 1-1 1-8 1 6 1-17 1 7 1-3 1-9 1-13 1-25 1-2 1 7 1 10 1-1 1 1 1 13 1-2 1-9 1 8 1 8 1-24 1 19 1-25 1-3 1-4 1-7 1-18 1 3 1-9 1-15 1-3 1 0 1 9 1 4 1 13 1-12 1 2 1-12 1-9 1 15 1 2 1-14 1-7 1-3 1 12 1-11 1 7 1-8 1-17 1 4 1-1 1 2 1-8 1 0 1-2 1-1 1-1 1-21 1-11 1-11 1 7 1 4 1 0 1 0 1 4 1 17 1-5 1 1 1-3 1 5 1-6 1-7 1 8 1 5 1-5 1-10 1 4 1-1 1 3 1-5 1-3 1-15 1 8 1 0 1-1 1-17 1 0 1-6 1 17 1 11 1-11 1 3 1 5 1-6 1 9 1-5 1 15 1-11 1-5 1-13 1-5 1 0 1 6 1-23 1 13 1-8 1 1 1 2 1 6 1 5 1-2 1-2 1-1 1-5 1 16 1-4 1 2 1 14 1-8 1 17 1 16 1-8 1-17 1 8 1 5 1-12 1 12 1 4 1 1 1 9 1-9 1 6 1-25 1 20 1-8 1 6 1-19 1 17 1 19 1-8 1 4 1-10 1-12 1-13 1 6 1 5 1-3 1-2 1 21 1-6 1 0 1 17 1-6 1 21 1-5 1-7 1 18 1-17 1 9 1-7 1-1 1-11 1 14 1 3 1-3 1-29 1-26 1-13 1-18 1-11 1-3 1-23 1-12 1-17 1-5 1 23 1 15 1 2 1-1 1-11 1-6 1 4 1-23 1-3 1-4 1 10 1-13 1 4 1-11 1 2 1-6 1 10 1 6 1-9 1-5 1-1 1 24 1 9 1 4 1 20 1-22 1 19 1 12 1 10 1-31 1 1 1-2 1-32 1 18 1 5 1-2 1 0 1-12 1-13 1-28 1-13 1-35 1-4 1-20 1-10 1 29 1 32 1 42 1 23 1 28 1-12 1-23 1 12 1 10 1 17 1 30 1-29 1 18 1-8 1 19 1 13 1 0 1 1 1 4 1 15 1-22 1 2 1-9 1-7 1-3 1 10 1 10 1 1 1-6 1 6 1-1 1-1 1 7 1-1 1 1 1-10 1 5 1 8 1-1 1 6 1-5 1 1 1-7 1 7 1 10 1 6 1-4 1 3 1-2 1 0 1 0 1-9 1 1 1 2 1-2 1 0 1 7 1-3 1-1 1 7 1 2 1 5 1-9 1 5 1 1 1-1 1-1 1-6 1 1 1 10 1-3 1-10 1-2 1 0 1 1 1-2 1 5 1 8 1-7 1 1 1-3 1 3 1 0 1 4 1 0 1 6 1 3 1 3 1-1 1 1 1-5 1-1 1-1 1-5 1 2 1-5 1-3 1 5 1-1 1 2 1 2 1-1 1-6M62.20 714 L62.50 958 62.80 714M128.87 583 L129.17 647 129.47 583M196.37 482 L196.67 351 196.97 482M378.87 491 L379.17 -141 379.47 491M380.03 490 L380.33 617 380.63 490M395.53 486 L395.83 564 396.13 486M362.20 486 L362.50 541 362.80 486" stroke="#000000"/>
<path d="M33.33 534l1 13 1-5 1-6 1-6 1 20 1 2 1-13 1-11 1-1 1 9 1 12 1 3 1 1 1-23 1-2 1 12 1 9 1-6 1 8 1 13 1-11 1 8 1-14 1 12 1 13 1-17 1-6 1 2 1 8 1 2 1 14 1 23 1-9 1 7 1-13 1-6 1-5 1 20 1 5 1 5 1-8 1 9 1 13 1 2 1-13 1-7 1 3 1 9 1 15 1-4 1-21 1-1 1-23 1-13 1 1 1-7 1-17 1 6 1-6 1 14 1 3 1-6 1-1 1 3 1-1 1 8 1 4 1-13 1 3 1-14 1 0 1-1 1 11 1-14 1 0 1-5 1 5 1-6 1-17 1 7 1 23 1-23 1 28 1-30 1 8 1 2 1 13 1-6 1 18 1-11 1-6 1 6 1-2 1 4 1 1 1-19 1-14 1 4 1-6 1-2 1-11 1-4 1 16 1-24 1-8 1-8 1 23 1-13 1-11 1 10 1-3 1-3 1 0 1 1 1-5 1-4 1-20 1 0 1 5 1 0 1-5 1 8 1 17 1-10 1-11 1-6 1-6 1-10 1 5 1 18 1-1 1 8 1-1 1-5 1 4 1 2 1 13 1-15 1 6 1-7 1 2 1-9 1-1 1 5 1 5 1-2 1 2 1-15 1 0 1-9 1 0 1 2 1-2 1 12 1-22 1 0 1 8 1 0 1 5 1 7 1-8 1-4 1 6 1-11 1-6 1 9 1-18 1-2 1 22 1-16 1 22 1 0 1-7 1 19 1-1 1-4 1 1 1-9 1 15 1 9 1 1 1 7 1-5 1 21 1-3 1 8 1-25 1 2 1 13 1-12 1-3 1 1 1 0 1 16 1-3 1 25 1-29 1 15 1 2 1 18 1 18 1-6 1-1 1 13 1-17 1 2 1-3 1-4 1 5 1-6 1-4 1-1 1 10 1 12 1 7 1 8 1 10 1-7 1-16 1-6 1-2 1-3 1 10 1 0 1 4 1-25 1 13 1 2M54.70 560 L55.00 673 55.30 560" stroke="#000000"/>
<path d="M263.33 421l1-18 1-12 1 5 1-7 1 17 1-3 1-11 1-18 1-7 1 9 1 6 1-10 1-22 1 7 1-3 1 11 1-5 1-6 1-17 1-3 1-12 1 6 1 6 1-3 1 9 1 21 1 3 1-7 1 32 1 16 1 4 1 5 1 4 1 10 1-20 1-15 1-11 1 5 1 4 1-10 1-17 1 2 1-24 1-17 1-4 1-27 1-12 1 5 1-29 1-1 1 13 1 13 1 30 1 28 1 18 1 23 1 13 1-10 1 4 1 23 1 2 1 0 1 3 1 7 1 7 1 5 1 22 1 22 1-7 1-18 1-11 1-14 1 5 1 21 1-2 1-6 1 4 1 9 1-2 1-5 1 15 1 2 1-5 1 15 1 0 1-2 1-6 1 10 1-5 1-5 1-2 1 2 1-3 1 10 1-3 1-5 1 6 1-13 1 6 1 3 1 2 1-4 1 5 1-1 1-1 1 3 1-1 1-2 1 7 1 0 1 1 1-3 1 2 1-4 1-2 1 4 1 1 1-6 1 2 1 3 1-1 1-1 1 5 1 4 1 1 1-2 1-3 1-5 1 4 1 3 1-2 1 3 1 1 1 6 1-6 1 3 1-1 1-4 1-1 1 1 1 2 1-2 1 6 1-3 1 9 1-4 1 4 1-6 1 0 1-1 1-2 1-8 1 3" stroke="#000000"/>
</g></g>
<rect x="214.0" y="21.5" width="427.2" height="189.5" fill="none" stroke="#7a7a7a" stroke-width="1"/>
<path d="M299.4,21.5v4.3M299.4,211.0v-4.3M384.9,21.5v4.3M384.9,211.0v-4.3M470.4,21.5v4.3M470.4,211.0v-4.3M555.8,21.5v4.3M555.8,211.0v-4.3M214.0,116.2h4.3M641.2,116.2h-4.3" stroke="#7a7a7a" stroke-width="1" fill="none"/>
<text transform="translate(219.9,219.0) rotate(-90)" font-size="16.3" text-anchor="end" font-family="Liberation Sans, sans-serif" fill="#262626" >0</text>
<text transform="translate(305.3,219.0) rotate(-90)" font-size="16.3" text-anchor="end" font-family="Liberation Sans, sans-serif" fill="#262626" >5</text>
<text transform="translate(390.8,219.0) rotate(-90)" font-size="16.3" text-anchor="end" font-family="Liberation Sans, sans-serif" fill="#262626" >10</text>
<text transform="translate(476.2,219.0) rotate(-90)" font-size="16.3" text-anchor="end" font-family="Liberation Sans, sans-serif" fill="#262626" >15</text>
<text transform="translate(561.7,219.0) rotate(-90)" font-size="16.3" text-anchor="end" font-family="Liberation Sans, sans-serif" fill="#262626" >20</text>
<text transform="translate(647.1,219.0) rotate(-90)" font-size="16.3" text-anchor="end" font-family="Liberation Sans, sans-serif" fill="#262626" >25</text>
<text transform="translate(662.9,211.8) rotate(-90)" font-size="16.3" text-anchor="middle" font-family="Liberation Sans, sans-serif" fill="#262626" >0</text>
<text transform="translate(662.9,118.5) rotate(-90)" font-size="16.3" text-anchor="middle" font-family="Liberation Sans, sans-serif" fill="#262626" >10</text>
<text transform="translate(662.9,23.7) rotate(-90)" font-size="16.3" text-anchor="middle" font-family="Liberation Sans, sans-serif" fill="#262626" >20</text>
<rect x="299.4" y="285.2" width="256.3" height="189.4" fill="#cbcbcb"/>
<path d="M299.4,285.2V474.6M555.8,285.2V474.6" stroke="#5e5e5e" stroke-width="1" fill="none"/>
<path d="M393.1,285.2V474.6" stroke="#3a3a3a" stroke-width="0.8" stroke-dasharray="0.9,2.3" fill="none"/>
<text transform="translate(389.5,474.0) rotate(-90)" font-size="14" text-anchor="start" font-family="Liberation Sans, sans-serif" fill="#111" textLength="33.3" lengthAdjust="spacingAndGlyphs">Unit II</text>
<text transform="translate(552.2,474.0) rotate(-90)" font-size="14" text-anchor="start" font-family="Liberation Sans, sans-serif" fill="#111" textLength="40.5" lengthAdjust="spacingAndGlyphs">Unit III</text>
<text transform="translate(637.6,474.0) rotate(-90)" font-size="14" text-anchor="start" font-family="Liberation Sans, sans-serif" fill="#111" textLength="38.5" lengthAdjust="spacingAndGlyphs">Unit IV</text>
<clipPath id="c_u2"><rect x="214.0" y="285.2" width="427.2" height="189.4"/></clipPath>
<g clip-path="url(#c_u2)"><g transform="translate(214.00 0) scale(1.02540 0.25)" fill="none" stroke-width="1.60" stroke-linejoin="round" vector-effect="non-scaling-stroke" class="ns">
<path d="M0.00 1890l1 7 1-2 1 5 1-2 1 6 1-4 1-4 1 5 1-6 1-4 1 9 1-7 1-2 1-5 1-11 1-15 1 2 1-4 1-11 1-12 1-3 1-5 1-2 1-1 1-7 1-4 1-8 1-8 1-8 1 0 1 6 1-4 1 4 1-1 1-1 1-12 1-3 1-5 1-2 1 2 1 3 1-11 1-11 1 12 1-8 1 3 1 4 1-5 1-4 1 7 1-4 1-2 1-2 1 0 1 12 1-7 1 13 1-8 1-6 1-1 1 2 1-11 1-3 1-4 1 4 1 9 1-3 1-6 1 3 1 4 1-1 1 2 1-1 1 4 1-8 1-3 1-12 1 9 1-5 1 0 1-4 1-7 1 2 1-3 1 8 1-10 1 1 1-5 1-7 1 1 1 2 1 1 1-1 1-5 1 5 1 4 1-10 1 2 1-9 1 9 1-4 1 2 1-4 1 0 1 1 1 2 1 5 1-2 1 5 1-26 1 7 1-13 1-3 1-2 1 13 1-11 1-6 1-3 1 6 1-1 1-6 1-3 1 3 1-6 1 8 1 1 1-8 1-2 1-6 1 9 1 6 1-12 1 2 1 7 1-17 1-4 1 11 1 3 1-3 1-9 1 5 1-7 1-7 1-3 1-3 1-16 1 14 1 2 1-12 1 3 1 2 1 8 1-15 1-5 1-4 1 3 1-1 1 18 1-6 1-19 1 10 1-20 1 11 1-19 1-2 1-2 1-2 1-2 1 19 1 0 1-2 1 19 1-10 1-6 1 1 1 0 1-6 1 4 1 3 1 1 1 6 1-10 1-7 1-7 1 2 1-4 1-21 1-12 1-1 1 5 1 17 1-20 1 2 1-3 1 8 1-10 1-5 1-2 1 2 1 3 1-23 1-4 1-7 1-11 1 22 1 14 1-2 1 4 1-11 1-4 1-6 1 11 1-16 1 3 1-11 1-7 1 6 1 11 1-15 1 4 1-13 1 1 1-1 1 12 1 10 1-7 1-9 1-10 1-4 1 29 1-31 1 2 1 35 1-33 1-6 1 11 1-11 1 21 1-19 1-7 1-13 1 12 1-1 1 4 1 2 1-28 1 33 1-40 1 23 1-12 1-37 1 9 1 11 1 1 1 20 1 3 1-19 1-8 1 5 1-5 1-5 1 12 1 6 1-15 1-13 1-16 1 15 1-30 1-3 1 15 1 17 1 2 1 2 1-6 1 9 1-12 1-11 1 12 1-12 1-10 1 9 1-22 1 7 1-11 1-6 1 10 1-4 1 12 1 1 1-9 1 0 1-31 1 21 1-2 1-8 1 14 1 41 1-27 1-10 1-16 1 10 1-6 1-27 1 14 1-7 1 37 1-18 1-26 1-6 1 25 1-1 1-27 1 16 1-6 1-28 1-3 1 3 1 6 1 12 1 11 1-9 1-17 1-14 1 13 1 24 1-18 1 9 1-20 1 26 1 22 1-4 1 2 1-9 1-28 1-5 1-12 1 11 1-18 1 1 1-14 1 13 1-11 1 40M118.03 1673 L118.33 1690 118.63 1673M143.03 1643 L143.33 1662 143.63 1643M268.03 1391 L268.33 1592 268.63 1391M328.87 1336 L329.17 1657 329.47 1336M243.03 1475 L243.33 1520 243.63 1475M218.03 1518 L218.33 1557 218.63 1518M93.03 1716 L93.33 1747 93.63 1716M193.03 1556 L193.33 1586 193.63 1556" stroke="#ff0000"/>
<path d="M0.00 1911l1-10 1-4 1-6 1 3 1-4 1-1 1 6 1-2 1-4 1 2 1-6 1 7 1 7 1-6 1 3 1 0 1-3 1-4 1-4 1-4 1 4 1-5 1-8 1-17 1-13 1-2 1 1 1 1 1-5 1-8 1 0 1-9 1-22 1 5 1 2 1-5 1-5 1 0 1 6 1-13 1 11 1-1 1 3 1-10 1-2 1-10 1-7 1 5 1-2 1-11 1-4 1-1 1 2 1-3 1 0 1 8 1-10 1 11 1 9 1-6 1-4 1 2 1-1 1-1 1 7 1-7 1-2 1 3 1-6 1-1 1-3 1 9 1-8 1-6 1 2 1-2 1-2 1-2 1 9 1-2 1-5 1-14 1 6 1-4 1-4 1-2 1 1 1-7 1 3 1 14 1-14 1-4 1-6 1 9 1-12 1 4 1-4 1-8 1-6 1-7 1 11 1 5 1-14 1-14 1 6 1 0 1 4 1 7 1-16 1 4 1 0 1 1 1 3 1-2 1 1 1-3 1 12 1-7 1-3 1 3 1-2 1 1 1-8 1-6 1 9 1 0 1 0 1 4 1-13 1 2 1-7 1 11 1-6 1-13 1 0 1-8 1 0 1-6 1-12 1 2 1-7 1 2 1 12 1 0 1-2 1 0 1-4 1-10 1 0 1 10 1-3 1 7 1-19 1 2 1 2 1-11 1 13 1-12 1-8 1-10 1 4 1 12 1-12 1-1 1-5 1-10 1 2 1 6 1 16 1-10 1-6 1 12 1-2 1-7 1-1 1 9 1-3 1-16 1-1 1-4 1-4 1-2 1 13 1-9 1 8 1 5 1 1 1-14 1 1 1-12 1-1 1-1 1 1 1 16 1-12 1-1 1 1 1-3 1-9 1-13 1-3 1 11 1-6 1 7 1 26 1-24 1 2 1-4 1-11 1 1 1-4 1-8 1-12 1 3 1-17 1-4 1 3 1 12 1 2 1-14 1-5 1 8 1 4 1-5 1-17 1-2 1 5 1-3 1 13 1-3 1 11 1-24 1-3 1-1 1-19 1 5 1-22 1 11 1 21 1-1 1-25 1 9 1 4 1 6 1-7 1 18 1-27 1 6 1-11 1-14 1 13 1 8 1-4 1-27 1-5 1 16 1 1 1-8 1 9 1-19 1 12 1 19 1 25 1-33 1-9 1-1 1-20 1-2 1-3 1-5 1-7 1 2 1 6 1-13 1 10 1-3 1 18 1-2 1 16 1-24 1-8 1-10 1-18 1 2 1 19 1 12 1-18 1-12 1 1 1-10 1 24 1 7 1 13 1 1 1 1 1-8 1-25 1-15 1 21 1-20 1 10 1-7 1-3 1 22 1-15 1 1 1-17 1-5 1 1 1 21 1 9 1-1 1-15 1 7 1-11 1-21 1 21 1 0 1-3 1 7 1 2 1 5 1-24 1-4 1-21 1-14 1 10 1 24 1 13 1-14 1 3 1 3 1-7 1-8 1-29 1-51 1 33 1-40 1 22 1 23 1-6 1 33 1 19" stroke="#ff0000"/>
<path d="M0.00 1890l1 4 1-9 1 7 1-10 1 8 1-5 1 3 1 6 1-4 1 1 1-13 1 6 1 5 1 1 1 0 1-1 1 1 1 0 1 2 1 0 1-2 1 2 1-2 1-7 1 1 1-6 1-6 1-7 1 1 1-7 1-13 1-1 1-6 1-7 1-2 1-7 1-1 1-3 1 0 1-5 1-14 1-1 1 3 1-1 1 8 1-5 1-6 1 1 1-2 1-19 1-7 1-4 1-2 1 1 1-2 1 0 1-6 1 4 1 2 1-10 1-5 1 6 1-14 1 7 1 0 1-1 1-9 1 12 1 4 1 0 1 0 1 9 1-3 1-8 1-5 1-2 1 1 1-6 1-1 1 4 1-5 1 1 1-5 1 0 1-9 1 0 1 5 1-9 1-4 1 1 1-4 1-7 1 2 1 5 1-1 1-3 1-11 1 12 1-9 1-10 1 5 1-9 1 12 1-1 1-11 1-4 1 1 1 6 1 1 1 3 1-9 1 0 1 0 1 0 1-7 1-6 1-3 1 10 1-11 1 2 1-1 1 4 1 1 1 3 1-6 1-1 1-11 1 10 1-8 1 6 1-9 1-6 1-3 1 11 1-6 1-6 1-6 1-5 1 5 1-3 1 8 1 3 1-5 1-13 1 3 1 1 1-15 1-4 1 0 1 5 1-11 1 7 1 1 1-5 1 10 1-2 1 2 1-6 1-3 1 2 1-3 1-7 1-5 1-4 1 1 1 1 1-7 1-2 1-5 1 11 1-6 1-12 1 8 1 2 1-16 1 2 1 5 1 24 1-15 1 8 1-1 1-7 1-8 1 14 1-25 1-4 1 14 1-12 1 23 1-14 1 8 1-35 1 3 1-16 1 21 1 13 1-6 1-6 1-31 1 21 1-17 1-5 1 23 1-10 1-4 1-7 1 20 1 17 1-6 1-21 1 11 1-20 1 7 1 15 1-8 1 15 1-17 1 2 1 26 1-38 1-4 1-1 1 20 1-26 1 1 1 18 1-47 1-5 1 27 1-4 1-2 1 5 1-23 1 25 1-6 1-12 1-14 1 5 1-44 1 3 1 15 1-1 1 2 1-11 1 23 1-5 1 13 1-23 1-14 1 8 1-4 1-2 1-25 1 17 1 2 1 2 1 25 1-4 1-21 1-26 1 15 1-2 1 10 1-16 1-17 1 4 1 14 1-7 1 26 1 0 1-7 1-14 1-12 1-20 1 24 1-10 1 2 1 9 1-1 1 12 1-22 1-15 1 5 1-7 1 6 1-19 1-7 1 23 1-25 1 6 1 4 1 14 1-6 1-19 1-11 1 5 1-15 1 6 1 6 1-12 1 3 1-10 1 16 1-33 1 7 1-13 1 13 1 12 1 6 1-2 1 14 1-8 1-18 1 11 1 13 1-30 1 1 1-18 1 7 1 27 1 29 1-31 1 5 1 1 1-27 1 0 1-2 1-2 1 21 1-10 1 3 1-19 1-9 1 14 1-23 1-12 1 1 1-18 1 14 1 2 1 7 1 11 1 28" stroke="#ff0000"/>
<path d="M0.00 1901l1 1 1-10 1 5 1-1 1 5 1 6 1-8 1 4 1-5 1-5 1 16 1-6 1-1 1-8 1-5 1 8 1-14 1-11 1 9 1-4 1-8 1 0 1 1 1-6 1-1 1 0 1-19 1 1 1-7 1-4 1-4 1-15 1-4 1 1 1 6 1-6 1-8 1 2 1 5 1-10 1-2 1-5 1-4 1-7 1-1 1 5 1-6 1-1 1-1 1 6 1-4 1-1 1-5 1-2 1-2 1 2 1-4 1-6 1 3 1 2 1-4 1-4 1-8 1 3 1 5 1-9 1 10 1 0 1-1 1 3 1-1 1-10 1 8 1 9 1-10 1-9 1 0 1 9 1-2 1-4 1 0 1 1 1 0 1-1 1-11 1 5 1-11 1 1 1 9 1-7 1 5 1-11 1-1 1 5 1 3 1-11 1-3 1 1 1 5 1-3 1-1 1-2 1-18 1 8 1-6 1 1 1-2 1-6 1 0 1-5 1-3 1 4 1 10 1-9 1-2 1 2 1-7 1-5 1-2 1-1 1 2 1-4 1 1 1-2 1-2 1 15 1-2 1-16 1 6 1-4 1 5 1-14 1 6 1-11 1-1 1-6 1-11 1 1 1 7 1 5 1 6 1-8 1 2 1-8 1-9 1 3 1-6 1 10 1 4 1-15 1 2 1 11 1-6 1-2 1-8 1 3 1-8 1 7 1 10 1-15 1-2 1-5 1-13 1 1 1 8 1 9 1-2 1-16 1 2 1 1 1-1 1-11 1-14 1 15 1 12 1 1 1-18 1 1 1 12 1-10 1-2 1 1 1-19 1-1 1 3 1-15 1 16 1 6 1 2 1-4 1-5 1-2 1-7 1-22 1 7 1 1 1 9 1-7 1-2 1 14 1-27 1-9 1 10 1-3 1 9 1-15 1 14 1 5 1-14 1-20 1 10 1 20 1-3 1 0 1 6 1-9 1-10 1 7 1-6 1 1 1-10 1 4 1 5 1-21 1 1 1 14 1-26 1 0 1-8 1-17 1 1 1 48 1-30 1-20 1 27 1 1 1-1 1 19 1-9 1-10 1-15 1-3 1-37 1 25 1 2 1 2 1-5 1-17 1-5 1-6 1-28 1 21 1-7 1 23 1-6 1-15 1 8 1-2 1-3 1-29 1 27 1 0 1-10 1-1 1-17 1 3 1 13 1-10 1 14 1-11 1 0 1-11 1 3 1-8 1 16 1-5 1 10 1 18 1-8 1-24 1 5 1 5 1-10 1 7 1 2 1 1 1-24 1-1 1-6 1-8 1 14 1 5 1-9 1 20 1 1 1-25 1-13 1 23 1-8 1 4 1 5 1-3 1-13 1-8 1-2 1 19 1-3 1 4 1-9 1 3 1 16 1-34 1 16 1-22 1 2 1-2 1-2 1-4 1-12 1-6 1-9 1 11 1-3 1-2 1 3 1-5 1-20 1 22 1 15 1-13 1 15 1-12 1-27 1-4 1-1 1 29 1-15 1-8 1 15 1-5 1-3 1-51 1 27 1 4 1-3 1 16 1 11 1-5 1-35 1 0 1 10 1-8 1 22 1-14 1 41 1-14 1-7 1-20 1-2 1 15 1-18 1-10 1 12 1 4 1 21 1-31 1 8 1-16 1 6 1-17 1 17 1-31 1-8 1-14 1-12 1 30 1-13 1-9 1-10 1-24 1 37 1-19 1 9 1 26 1 5 1-55 1 30 1-7 1 20 1-24 1 0 1 22 1-1 1-23 1-14 1 0 1 0 1-27 1 4 1 17 1-4 1 11 1 25 1-11 1-21 1 10 1-5 1-11 1-24 1 1 1-35 1 0 1-7 1 31 1 13 1-31M219.70 1542 L220.00 1686 220.30 1542M236.37 1510 L236.67 1586 236.97 1510M258.03 1445 L258.33 1520 258.63 1445" stroke="#00ffff"/>
<path d="M0.00 1895l1 0 1 10 1-18 1 4 1-4 1 3 1 1 1 0 1 0 1 4 1 1 1 5 1-1 1-5 1 2 1 0 1-3 1 4 1-1 1 2 1-5 1-1 1-3 1-13 1 7 1-1 1 1 1 1 1-9 1 3 1-5 1 0 1-6 1-7 1-4 1 10 1-12 1-5 1-1 1-2 1-15 1 0 1-4 1-7 1-14 1 3 1-1 1-8 1 9 1-2 1-5 1-13 1-5 1 2 1-1 1 0 1 9 1-1 1-13 1-2 1-2 1 2 1 6 1-12 1-8 1 9 1-9 1 9 1-9 1-4 1 0 1 1 1 2 1 0 1-4 1-3 1-2 1-10 1 0 1 1 1-4 1 3 1-7 1 2 1 2 1-5 1 7 1-3 1-8 1 5 1-1 1 1 1 0 1-2 1-6 1-8 1-1 1-2 1-4 1 0 1 4 1-5 1-10 1 6 1-12 1 25 1-6 1-9 1 1 1 1 1-1 1-4 1 3 1-3 1-12 1-7 1 1 1 15 1-14 1-6 1 4 1-5 1 14 1-11 1-15 1-10 1 6 1 7 1-8 1 11 1-9 1-12 1 5 1-9 1 1 1-3 1 13 1-9 1 9 1-5 1 4 1-14 1 0 1-2 1 1 1-4 1 16 1-1 1 0 1-15 1 10 1-5 1-14 1 8 1-23 1 9 1-7 1 6 1 9 1-12 1 11 1-16 1-9 1-4 1 4 1 7 1-4 1-8 1 6 1-1 1 2 1-7 1-6 1-4 1-2 1 9 1-6 1 7 1-3 1-1 1-10 1-8 1 16 1-11 1-8 1 11 1-10 1 1 1-16 1 0 1-1 1 2 1-5 1-1 1 0 1 26 1-17 1-17 1-5 1-3 1 12 1 1 1 13 1-13 1-4 1-14 1 6 1 10 1 7 1-31 1 11 1-4 1-15 1 2 1 22 1-6 1-2 1 0 1-22 1 2 1 43 1-38 1-3 1 1 1 4 1-4 1-15 1 2 1-12 1 7 1-5 1-3 1-5 1-1 1 10 1-10 1 4 1-15 1-2 1-3 1 13 1-20 1 12 1 0 1-7 1-18 1 24 1 10 1 0 1-5 1-7 1-13 1 14 1-23 1-7 1 28 1-15 1-10 1 5 1-35 1 12 1-11 1 16 1 0 1 1 1 2 1-23 1 13 1-8 1-8 1 14 1-2 1 24 1-10 1-8 1 3 1-3 1 7 1-36 1 24 1-27 1-22 1-3 1 25 1 15 1 9 1-11 1-10 1-8 1-2 1 3 1 7 1-21 1 24 1 18 1-25 1 16 1-33 1 1 1 9 1-11 1 11 1-9 1-16 1 8 1 0 1 15 1-37 1-12 1 26 1 3 1 1 1-14 1-15 1 7 1 8 1 7 1-16 1 1 1 0 1 19 1 0 1 7 1 14 1-36 1 7 1-9 1-7 1 16 1 1 1 1 1 17 1-33 1-3 1 22 1-22 1 8 1 4 1-13 1-6 1-18 1-3 1 27 1-26 1-2 1-17 1-8 1-19 1-2 1-12 1 16 1 23 1-33 1 6 1 19 1 3 1-21 1 5 1-3 1 6 1 8 1-10 1 8 1 14 1-17 1 17 1-14 1-2 1-20 1-2 1-13 1-6 1 38 1 20 1-18 1-32 1 9 1 18 1-9 1-35 1-18 1 14 1-33 1-3 1 1 1 11 1 4 1 12 1 21 1-4 1-16 1 27 1-34 1-17 1-7 1 16 1 35 1-17 1-15 1-27 1 7 1-8 1 1 1 1 1-11 1-10 1 0 1 29 1-26 1 12 1 29 1-30 1-28 1-14 1 7 1 43" stroke="#00ffff"/>
<path d="M0.00 1894l1-5 1 8 1 3 1-9 1 0 1-1 1-1 1 4 1 2 1-4 1-6 1-6 1 4 1-8 1 2 1-12 1-15 1-23 1 10 1-5 1-11 1-1 1-17 1 4 1-9 1-14 1 8 1 0 1 0 1-7 1-2 1-15 1 5 1-6 1-2 1-2 1 0 1 5 1-19 1 4 1-1 1-11 1 7 1-8 1 16 1 3 1 4 1-5 1 6 1-9 1 1 1-8 1 7 1-6 1-3 1-2 1 0 1 8 1-7 1 4 1 3 1 12 1-19 1 5 1 2 1 5 1 4 1-2 1-1 1-4 1-8 1 12 1 6 1 2 1-12 1 1 1 2 1 9 1-11 1 3 1-4 1 0 1 4 1-9 1-5 1 2 1-11 1 2 1 1 1-5 1-4 1-8 1 12 1-9 1 3 1-4 1-9 1-6 1 6 1 8 1-5 1 2 1-5 1-6 1-2 1 4 1-12 1 5 1-2 1 5 1 3 1 12 1-9 1-10 1-7 1 9 1-6 1-19 1 14 1-4 1-1 1 0 1 3 1 2 1 5 1-1 1-15 1-4 1-3 1 0 1-1 1 3 1 5 1 1 1-1 1-6 1-1 1-4 1-16 1-3 1 15 1-12 1-2 1-9 1 3 1-8 1-9 1 0 1 19 1-13 1 1 1 6 1-8 1-12 1 0 1 1 1 2 1 2 1 1 1 11 1 6 1-6 1-4 1-14 1-3 1 8 1 1 1-18 1 12 1 1 1-10 1-9 1 8 1 21 1-2 1-6 1-20 1 1 1 1 1 7 1-3 1-12 1-2 1-7 1 2 1 14 1-10 1-5 1-8 1-3 1 8 1-8 1-7 1 2 1 15 1-1 1-7 1 7 1-28 1 1 1 12 1 16 1-11 1-16 1-7 1 3 1-10 1 5 1 4 1 0 1 10 1-12 1-22 1 12 1 12 1 7 1-16 1-32 1 14 1 0 1 18 1-4 1-19 1-11 1 2 1-20 1 11 1-22 1 21 1 9 1 10 1-19 1-35 1 19 1 4 1 1 1-12 1-1 1-9 1-5 1-12 1-3 1-18 1 17 1-27 1 26 1-5 1 18 1-9 1-19 1 18 1 16 1-18 1 9 1-8 1 33 1 19 1-22 1-19 1-12 1 11 1-2 1-4 1 12 1-7 1-14 1 3 1-3 1-10 1 17 1-14 1 10 1-17 1-13 1 4 1-41 1 37 1-3 1 12 1-15 1 1 1 12 1-50 1 14 1 5 1 13 1-5 1-6 1-41 1 0 1 11 1-6 1 27 1 31 1 4 1 0 1-22 1-6 1-19 1 1 1 24 1-8 1-4 1-8 1 4 1 0 1-36 1 6 1 1 1 12 1-6 1 15 1-25 1-20 1 30 1 16 1 7 1 5 1-28 1-5 1-6 1 30 1 4 1-21 1 9 1-21 1-15 1-5 1-6 1 20 1-6 1-13 1-12 1-4 1-14 1 33 1 0 1-16 1 25 1-20 1 5 1-15 1-5 1 3 1-18 1 16 1-8 1 12 1-28 1 16 1 6 1-21 1-12 1 10 1 8 1 21 1-10 1-48 1 8 1 4 1-8 1-9 1-8 1 30 1-2 1-8 1 19 1-10 1-10 1-28 1 17 1 4 1-15 1 31 1 3 1-16 1-15 1-5 1 10 1-22 1 7 1 5 1 16 1 5 1-15 1-10 1 6 1-4 1-5 1-36 1-6 1 18 1 21 1 25 1-40 1-20 1 10 1-12 1-6 1-17 1 6 1 4 1 31 1-28 1-14 1 25 1 4 1 4 1-43 1-22 1 7 1-22 1 54 1-4 1-5 1-23M3.37 1891 L3.67 1794 3.97 1891M55.53 1744 L55.83 1837 56.13 1744M84.70 1744 L85.00 1785 85.30 1744M124.70 1698 L125.00 1771 125.30 1698M208.03 1554 L208.33 1662 208.63 1554M228.03 1486 L228.33 1614 228.63 1486M238.03 1483 L238.33 1576 238.63 1483M243.87 1453 L244.17 1614 244.47 1453M368.03 1270 L368.33 1501 368.63 1270M386.37 1238 L386.67 1631 386.97 1238M390.53 1187 L390.83 1368 391.13 1187" stroke="#0000ff"/>
<path d="M0.00 1900l1-5 1 5 1 0 1 4 1-7 1 5 1 0 1-5 1 1 1-15 1-10 1-8 1-7 1-18 1 1 1-13 1 10 1-4 1-15 1-2 1-8 1-7 1-10 1-1 1-11 1 1 1 3 1-9 1-11 1 2 1 7 1-5 1-9 1 6 1 0 1-13 1 12 1-2 1 0 1-11 1 4 1 7 1-1 1-10 1-2 1 8 1-2 1-11 1 24 1 1 1 2 1 2 1-14 1 6 1-2 1-1 1-4 1-7 1-11 1 2 1 5 1-1 1-3 1-5 1 6 1 4 1-8 1 13 1-4 1 6 1-2 1-1 1-13 1 1 1 3 1-10 1 16 1-10 1 7 1 5 1-13 1 14 1-10 1-3 1 3 1-10 1 8 1-6 1-4 1 0 1 2 1-2 1-3 1 0 1-9 1 9 1 8 1-18 1 2 1 1 1-5 1-1 1-9 1 3 1 0 1-11 1 19 1-8 1 5 1 4 1-13 1 11 1-11 1-4 1-12 1-7 1 7 1-2 1 5 1 0 1-7 1 2 1-4 1-8 1 3 1-5 1 7 1 0 1 3 1-6 1-2 1-3 1-8 1 2 1 2 1 12 1-8 1 5 1-21 1-5 1 1 1-10 1 5 1 4 1-15 1 2 1 11 1 6 1-9 1 2 1 9 1-21 1 0 1-6 1 1 1-8 1 16 1 9 1-17 1 1 1-4 1 2 1-3 1-1 1-6 1 1 1-5 1-10 1 8 1 0 1 4 1 1 1-9 1-1 1 5 1-7 1 14 1-16 1 3 1-2 1-11 1 11 1-16 1-6 1 4 1 2 1-7 1-5 1 12 1-18 1-1 1-11 1 8 1 9 1 0 1-23 1 0 1 6 1 8 1-6 1 4 1-3 1 15 1 8 1-7 1-5 1-26 1 15 1 22 1-49 1 39 1-19 1-8 1-1 1 6 1-8 1 4 1 11 1-17 1 28 1-22 1-10 1-8 1 0 1-2 1-9 1-6 1-1 1-31 1 10 1 33 1 3 1 13 1-4 1-1 1-24 1 1 1 5 1-22 1-15 1 19 1-4 1 5 1-15 1-16 1-12 1 20 1 16 1 9 1-28 1 8 1-25 1 1 1-18 1 19 1-19 1 0 1-6 1-24 1 8 1 9 1 4 1-18 1-4 1 21 1-39 1-1 1 26 1 8 1-10 1-3 1 6 1-13 1 12 1 17 1-23 1 7 1-37 1 12 1-17 1 5 1-25 1 19 1 15 1 20 1-26 1 13 1-5 1 4 1 2 1-10 1 25 1-20 1 7 1 1 1-35 1 36 1 0 1-13 1 24 1-10 1 3 1 21 1-42 1 9 1-1 1-13 1-16 1-21 1 9 1-2 1 6 1-14 1 1 1 20 1 9 1 0 1 11 1 2 1-30 1-8 1 3 1-22 1 15 1-24 1 19 1 16 1-33 1-1 1-21 1 19 1 21 1 13 1-11 1-13 1-10 1 1 1-5 1 0 1 21 1-5 1-30 1 2 1 30 1-65 1 3 1 6 1 8 1-21 1-17 1 16 1 42 1 27 1 0 1-16 1 15 1-45 1 22 1-45 1 43 1-25 1 38 1-14 1-6 1-9 1-5 1 2 1 5 1-37 1-3 1 24 1-11 1 6 1-17 1-15 1 4 1 11 1 19 1-19 1-13 1 7 1 14 1-7 1-8 1 7 1-33 1 57 1-23 1-17 1-9 1 25 1-37 1 2 1 10 1-11 1-44 1 2 1-11 1 7 1-7 1 12 1-20 1 8 1 34 1-15 1 18 1-8 1-1 1-15 1-20 1-13 1 2 1-9 1 29 1-5 1 1M67.20 1753 L67.50 1842 67.80 1753M343.03 1301 L343.33 1516 343.63 1301M368.03 1290 L368.33 1666 368.63 1290M393.03 1217 L393.33 1516 393.63 1217M356.37 1284 L356.67 1406 356.97 1284M379.70 1239 L380.00 1368 380.30 1239" stroke="#ff00ff"/>
<path d="M0.00 1891l1 1 1 5 1 6 1-11 1 8 1-8 1 3 1-7 1-3 1 0 1-2 1-1 1 4 1-1 1 4 1 11 1-6 1-10 1-5 1-10 1-1 1-10 1-16 1 0 1 0 1-10 1-3 1-4 1-6 1-11 1-7 1 3 1-12 1-7 1-7 1-6 1-1 1 17 1-6 1 2 1 1 1-4 1 0 1-9 1 8 1-10 1 4 1-7 1-8 1 3 1-6 1-3 1 1 1-2 1-6 1 14 1-7 1-1 1 2 1-3 1 6 1-4 1-4 1-11 1 2 1 2 1-1 1-4 1 8 1-11 1 1 1 0 1 3 1 7 1-3 1 14 1-11 1-4 1-2 1-3 1 8 1-3 1-6 1 4 1-2 1-4 1 6 1 2 1 6 1-7 1-7 1-6 1 17 1-18 1-4 1 4 1 1 1-9 1-6 1-2 1 2 1 5 1-7 1 7 1-13 1 7 1-6 1 5 1 6 1-22 1 10 1-7 1 3 1-1 1 6 1 10 1-13 1-12 1 1 1-9 1 1 1-5 1 4 1 5 1 1 1 4 1 7 1-8 1-13 1 5 1 7 1-11 1-11 1-11 1-3 1 14 1 0 1 11 1 1 1-17 1-9 1 9 1-10 1 10 1-11 1-16 1-3 1-2 1 13 1-2 1-3 1-4 1 13 1-12 1-4 1-11 1 5 1 10 1-6 1 3 1-7 1-17 1 8 1-2 1-11 1 17 1 12 1-11 1 3 1-5 1-9 1-12 1 11 1-17 1 5 1-12 1 22 1-4 1-2 1-7 1-1 1-3 1 2 1 2 1-21 1 6 1-16 1 7 1 9 1 2 1-1 1-1 1-16 1-10 1 15 1 4 1 2 1-10 1-7 1 1 1 0 1-18 1 20 1 4 1-11 1-3 1 35 1-12 1-10 1-8 1 17 1-14 1 8 1-6 1-3 1-9 1 19 1-45 1 30 1-10 1-5 1-4 1 6 1-7 1-18 1-20 1 22 1-24 1 10 1 34 1-5 1-15 1 0 1 11 1-10 1 35 1-16 1-12 1 25 1-19 1-17 1 4 1-9 1-4 1 32 1-20 1 35 1-40 1 37 1-15 1 16 1-35 1 18 1-44 1-2 1-5 1 12 1 8 1 5 1 13 1-7 1-10 1 17 1-4 1 13 1-8 1 11 1-35 1 7 1 9 1-32 1-7 1-1 1 14 1-1 1-8 1-22 1 2 1 4 1-3 1-15 1-1 1 9 1-1 1 7 1-1 1-26 1 27 1 19 1-15 1 19 1-6 1-2 1 7 1 4 1-16 1-6 1 5 1 28 1-36 1-22 1 32 1 30 1 6 1-18 1-21 1 17 1 2 1-4 1 6 1-7 1-16 1 21 1-14 1 23 1 8 1 6 1-12 1 13 1 1 1 3 1 5 1 14 1-6 1 2 1 7 1 11 1 10 1 24 1-38 1-56 1-68 1-9 1 0 1-40 1-26 1-16 1-12 1 20 1 6 1 13 1-23 1-37 1 32 1-32 1 15 1-7 1 3 1 0 1-11 1-11 1-5 1-32 1 8 1-12 1 8 1 14 1 12 1 30 1-24 1 25 1-27 1-15 1-4 1 6 1-5 1-42 1-12 1 13 1 21 1 7 1-28 1-3 1-16 1 11 1 4 1-10 1-4 1 31 1 34 1-44 1-13 1 29 1-27 1-5 1-10 1 7 1-15 1 3 1-12 1 11 1-6 1 5 1-35 1-2 1 6 1 15 1-3 1 9 1 5 1 16 1 22 1-21 1 2 1-26 1-12 1 28 1-46 1 23 1 3 1-39 1 6 1 4 1 11 1-23 1 24M223.03 1540 L223.33 1595 223.63 1540M254.70 1487 L255.00 1567 255.30 1487M329.70 1542 L330.00 1641 330.30 1542M353.03 1246 L353.33 1425 353.63 1246" stroke="#0000ff"/>
<path d="M0.00 1902l1-6 1-3 1-4 1-7 1 4 1 7 1-3 1 4 1 0 1-7 1 17 1-7 1-1 1-7 1-3 1-3 1-2 1-11 1-5 1-18 1-15 1 2 1-1 1 0 1-13 1 9 1-14 1-3 1-9 1 7 1-10 1-1 1 6 1-2 1-3 1-7 1 3 1-11 1-8 1-6 1-4 1 2 1-2 1-5 1 5 1 0 1 6 1-7 1 8 1-1 1 4 1-10 1 4 1-5 1 3 1-4 1-5 1 4 1-11 1 2 1 11 1-8 1 7 1-1 1-6 1-2 1 10 1-14 1 6 1-8 1 4 1 10 1 0 1-1 1 0 1-12 1 9 1-1 1-1 1-2 1 2 1-11 1 13 1-9 1-6 1 13 1-7 1-6 1 0 1-1 1 1 1-6 1-2 1 1 1 17 1-7 1 9 1-5 1-17 1-8 1-7 1-3 1-6 1 6 1-11 1 13 1-2 1 0 1 4 1-6 1-12 1-2 1 1 1 10 1-6 1 19 1-9 1 0 1-10 1 5 1-16 1-1 1-10 1-2 1 1 1 1 1-6 1-4 1 4 1-7 1 2 1-13 1 21 1-4 1-4 1 3 1-1 1-2 1-4 1 20 1-12 1-12 1-1 1 1 1-4 1-20 1 22 1 1 1 8 1-22 1-10 1-9 1-3 1 6 1-1 1 5 1 2 1-20 1 11 1-13 1 5 1 0 1 13 1-16 1-5 1 0 1 3 1 6 1 7 1-15 1 2 1-4 1-1 1-16 1-13 1 10 1-2 1-3 1 4 1 13 1-6 1 5 1-9 1-13 1-2 1-3 1-13 1-9 1 5 1 18 1-1 1-8 1 5 1-10 1 1 1 6 1 5 1-5 1 5 1-6 1 2 1-1 1-15 1-4 1-3 1 14 1 13 1-18 1 1 1 8 1-9 1 9 1-11 1-9 1 10 1 5 1-20 1 23 1-31 1 6 1-19 1 21 1-28 1 14 1-19 1-2 1 8 1-3 1-1 1 6 1 5 1-5 1-16 1-1 1 1 1 13 1 13 1-6 1-7 1-48 1 12 1 20 1-21 1-4 1 16 1-18 1 10 1 25 1-13 1-7 1-5 1-11 1-10 1-1 1-21 1 6 1 3 1-9 1 30 1 6 1-2 1 6 1 5 1-16 1-7 1 13 1-29 1 12 1-10 1-7 1-8 1 1 1-14 1-4 1 10 1 16 1-24 1 13 1-2 1-15 1 26 1-6 1 8 1-8 1-21 1 10 1-20 1 15 1-8 1 14 1-22 1 9 1-13 1-21 1-3 1-13 1 12 1-7 1 22 1 27 1-30 1-23 1-5 1 26 1 19 1-18 1 16 1-3 1 1 1 19 1-24 1 28 1-19 1 11 1-4 1 8 1-52 1-29 1 16 1 9 1 4 1 1 1-32 1 34 1 16 1-26 1 12 1-8 1 3 1-40 1 4 1 9 1-8 1-10 1-8 1 7 1 8 1 3 1 21 1-13 1 2 1-1 1-23 1 11 1-16 1-10 1-3 1 1 1-6 1-4 1-39 1 25 1-6 1 22 1 5 1 3 1 20 1 2 1-13 1-42 1 17 1-4 1-15 1-27 1-3 1-5 1 39 1 18 1-22 1 7 1 1 1-20 1 48 1-39 1-22 1-12 1 10 1 6 1 23 1 2 1-26 1-11 1-13 1 20 1-16 1 37 1-11 1-4 1-20 1-30 1-10 1 15 1 1 1-14 1 4 1 12 1-28 1 24 1-3 1-12 1-17 1 9 1-19 1 39 1 19 1-42 1 20 1 5 1-28 1 24 1-2 1-3 1-22 1 7 1-17 1-23M128.03 1674 L128.33 1662 128.63 1674M361.37 1278 L361.67 1368 361.97 1278" stroke="#ff00ff"/>
<path d="M0.00 1891l1 6 1 4 1-7 1 5 1-8 1-5 1 11 1-3 1 1 1 0 1 0 1 0 1-2 1-8 1 2 1 10 1-5 1-2 1-4 1 5 1 12 1-5 1 4 1 7 1-7 1-19 1-7 1 1 1-3 1-8 1-19 1 6 1-1 1-3 1-9 1-7 1-5 1-6 1-5 1-7 1 3 1-11 1-1 1 4 1-3 1-13 1-7 1-8 1 8 1-2 1-12 1 3 1 8 1-1 1-10 1-4 1-10 1 12 1 3 1-3 1-4 1-6 1 2 1-13 1 3 1-10 1 8 1 6 1 3 1 1 1-1 1 8 1-6 1-11 1 0 1-2 1-3 1 0 1 1 1 5 1-9 1-3 1 2 1-5 1 1 1-3 1 8 1-11 1-14 1 11 1-5 1 5 1-13 1 7 1-1 1 0 1-2 1-3 1 6 1-10 1 1 1-18 1 10 1 9 1-13 1 7 1 10 1-7 1-11 1 17 1-12 1-14 1-7 1 8 1-4 1-13 1 13 1 4 1-14 1 8 1-5 1 8 1-6 1 4 1 0 1-14 1 10 1-6 1 1 1-5 1 0 1 8 1 2 1-5 1-17 1 26 1-5 1-6 1-14 1 4 1-8 1 3 1-9 1-9 1 7 1-12 1 2 1 6 1-2 1 4 1-10 1 13 1-17 1 1 1-5 1 11 1 0 1 10 1-16 1-9 1 6 1-3 1 8 1-21 1 17 1-19 1 3 1-5 1 15 1-13 1-5 1-1 1 6 1-13 1 4 1-2 1-1 1 2 1 2 1-2 1 3 1-12 1-2 1-10 1 9 1 4 1 14 1-12 1-5 1-1 1 7 1-3 1-27 1 12 1-4 1-5 1 17 1-26 1 9 1 1 1 6 1-7 1-14 1 4 1-30 1 27 1-13 1 9 1 11 1-21 1 3 1 16 1 5 1-7 1 14 1-19 1 26 1-22 1 28 1-8 1-8 1 22 1-16 1-29 1 4 1-6 1-10 1 15 1 18 1 13 1-42 1-13 1-19 1 23 1 19 1 1 1-4 1-5 1 2 1 23 1 13 1-9 1-31 1-6 1 20 1 13 1-13 1 7 1-7 1-41 1 22 1-17 1-20 1 33 1 17 1-8 1-11 1-6 1-9 1 23 1-20 1 23 1-2 1-3 1 8 1-9 1 17 1-17 1-49 1 31 1 0 1-23 1-15 1 7 1 15 1 14 1-31 1-19 1 23 1 14 1 3 1 1 1 0 1 12 1-10 1-10 1-19 1-12 1 20 1-21 1 14 1-1 1 7 1-6 1-4 1 19 1-10 1-17 1-14 1 48 1-15 1 11 1-30 1 21 1-25 1 29 1 2 1-22 1 28 1 18 1-34 1 11 1 30 1 10 1-17 1-8 1-25 1 20 1-16 1 16 1 9 1 8 1 50 1-1 1 7 1 6 1 1 1-4 1-4 1-73 1-17 1-66 1-44 1-1 1-36 1 31 1-5 1-43 1 2 1-4 1-25 1-2 1-22 1 3 1 12 1 10 1-17 1 49 1-28 1 4 1-39 1 42 1-10 1-4 1-20 1 15 1 5 1-9 1-26 1 37 1-52 1 9 1-4 1 10 1-6 1-10 1-1 1 3 1 12 1-44 1 7 1-3 1 4 1-8 1 12 1 0 1 31 1-20 1 26 1 13 1-24 1-5 1-9 1-8 1-2 1-1 1-14 1-3 1 19 1-20 1-20 1-12 1 6 1 8 1-16 1-27 1 27 1-12 1 25 1 14 1-37 1 33 1-8 1-4 1 11 1-33 1-7 1 41 1-24 1-25 1-13 1 5 1-2 1-18 1 12 1-5M214.70 1572 L215.00 1586 215.30 1572" stroke="#0000ff"/>
<path d="M0.00 1896l1-6 1-4 1-8 1-4 1 13 1 0 1-3 1 1 1-3 1 13 1 3 1 3 1-13 1 2 1-8 1 7 1 5 1-6 1-4 1 3 1 0 1-2 1-6 1-1 1-16 1-11 1-10 1-4 1-5 1-11 1-9 1 0 1-2 1-4 1 5 1 1 1-9 1 2 1-8 1-3 1 2 1-9 1-9 1 1 1-7 1 3 1-2 1 0 1-4 1-1 1 0 1-3 1-3 1 3 1-11 1 3 1-1 1 0 1 1 1-17 1 11 1 3 1 6 1-1 1-6 1 1 1-13 1 6 1-7 1 2 1 5 1-8 1 1 1 10 1-3 1-5 1-8 1-13 1 19 1-8 1 0 1-8 1 14 1-6 1-6 1 13 1-1 1-1 1-2 1-4 1-14 1 10 1-9 1-1 1-7 1 3 1 4 1-4 1-8 1 6 1-6 1-6 1 3 1 9 1 3 1-11 1-2 1-10 1-2 1 2 1 1 1-14 1 0 1 6 1 6 1-13 1 9 1-8 1-3 1 1 1-3 1-8 1 1 1 8 1-13 1 14 1-14 1 0 1 1 1 2 1-3 1-10 1 10 1-11 1 7 1 1 1 2 1-5 1-7 1-2 1-8 1 1 1-5 1 1 1-13 1 16 1-8 1-1 1-10 1 4 1 0 1-4 1-3 1 0 1-4 1-2 1-1 1 0 1-5 1 7 1 2 1 1 1-11 1-19 1 7 1-12 1 9 1 4 1 1 1-12 1 10 1 1 1 10 1-18 1 15 1-8 1-12 1-11 1-4 1 4 1-12 1 19 1-4 1 6 1-1 1-9 1 1 1-5 1-7 1 2 1 12 1 6 1-21 1 7 1 2 1-21 1 0 1 1 1-9 1 20 1 8 1 4 1-4 1-12 1 6 1-10 1-4 1 5 1 15 1-9 1-20 1-11 1 6 1 2 1-19 1 8 1-11 1 7 1 32 1-19 1-19 1 5 1-6 1 1 1-16 1 3 1-17 1 8 1 1 1 12 1 3 1 1 1-34 1-5 1-6 1 20 1-11 1-10 1 4 1-1 1-10 1 5 1 11 1-17 1 21 1-29 1-8 1 30 1-7 1-1 1 11 1-11 1-22 1-12 1-23 1 3 1 20 1 0 1 0 1-25 1 0 1 35 1 13 1 1 1-25 1 26 1-2 1 19 1-28 1 12 1-7 1-13 1 3 1 0 1-24 1-9 1 0 1 24 1-3 1 28 1-45 1-5 1 17 1-10 1 13 1 13 1-11 1-14 1-32 1 1 1-15 1 27 1 2 1 4 1-11 1 0 1 12 1-5 1 19 1 8 1-24 1 22 1 6 1 2 1-36 1-7 1-10 1-35 1 15 1-33 1-17 1 16 1 6 1 22 1 8 1 2 1-34 1 10 1 18 1-10 1-9 1 5 1-16 1 13 1-9 1 18 1 3 1-6 1-17 1 10 1 18 1-50 1 4 1-3 1-8 1 15 1 12 1 3 1-8 1 25 1-27 1-6 1-3 1-36 1-12 1-3 1 34 1 10 1 4 1-20 1 22 1-9 1 15 1-48 1 17 1 7 1 24 1-11 1 3 1-19 1 0 1-11 1-19 1 38 1-31 1 29 1-19 1-38 1 43 1-26 1 9 1 17 1-9 1 0 1-5 1 8 1-11 1-16 1 10 1-58 1 41 1-7 1-17 1 16 1-23 1-10 1 5 1 6 1-17 1 22 1-22 1 16 1 4 1-21 1-1 1 6 1-21 1-25 1-6 1 20 1-12 1 14 1 4 1 22 1-15 1 20 1 2 1-12 1-3 1 18 1 4 1-8 1-11 1-15 1 7 1 18" stroke="#ff00ff"/>
<path d="M0.00 1899l1-8 1 7 1-8 1 8 1-1 1 1 1-2 1-3 1 6 1-8 1-6 1 9 1-2 1 3 1-11 1 3 1 4 1 1 1 8 1-6 1 1 1-4 1-4 1-1 1 1 1-10 1 5 1 12 1-17 1-4 1 4 1 9 1 4 1-1 1 6 1-2 1 5 1 4 1-3 1 1 1 0 1 3 1-2 1 5 1-4 1-6 1-8 1 3 1-3 1 2 1-2 1-9 1 14 1-5 1 2 1-4 1-4 1-8 1 0 1-25 1-10 1-5 1 0 1-7 1-11 1 2 1-9 1-2 1-12 1 6 1-25 1 3 1-7 1 4 1-2 1 15 1-7 1-10 1-4 1-15 1 10 1-4 1 0 1-27 1 13 1-9 1 2 1 1 1-2 1-6 1-3 1-6 1 1 1 5 1-1 1-11 1 1 1-10 1 8 1-3 1 1 1-4 1 2 1-4 1-12 1-4 1 4 1-1 1-4 1-5 1 6 1-2 1-5 1-3 1-2 1-12 1 13 1-6 1-15 1 2 1 9 1-5 1 8 1 0 1-5 1 4 1-2 1 4 1 1 1-7 1-3 1 1 1-1 1-1 1-10 1-4 1-1 1 1 1-6 1-5 1 2 1 8 1 8 1-12 1 11 1-6 1 4 1-2 1-9 1 2 1 5 1 9 1-19 1 13 1-13 1 3 1-6 1 19 1-12 1-1 1-21 1-3 1-3 1-12 1-1 1 4 1 8 1 2 1-7 1-16 1 5 1 3 1 18 1-19 1 11 1-7 1 25 1-8 1-12 1 7 1 5 1 0 1-8 1-10 1 3 1-19 1 13 1-3 1-17 1 17 1-2 1-11 1 5 1 10 1 8 1-17 1-8 1 17 1 1 1 8 1-12 1-7 1 9 1-7 1-6 1 4 1 13 1 15 1-7 1-21 1 24 1 12 1-23 1-30 1 15 1 2 1-12 1 1 1-12 1 2 1-7 1-7 1 6 1 15 1-3 1 11 1 20 1-25 1-6 1-21 1-3 1 30 1-16 1-18 1-2 1 22 1-3 1 5 1-2 1-26 1-17 1 15 1 3 1-11 1-7 1 14 1 10 1 9 1-26 1 17 1-14 1 7 1 21 1-5 1 2 1 6 1-1 1 4 1-10 1-5 1-8 1-2 1 3 1-17 1 9 1-24 1 20 1-9 1 0 1-21 1 29 1 1 1-12 1 5 1-3 1 17 1 24 1-26 1-49 1 9 1-16 1 14 1 11 1 7 1-33 1 36 1-10 1-12 1 7 1 1 1-8 1 15 1 28 1-25 1 0 1 2 1-14 1-2 1-1 1-15 1 5 1-19 1 2 1 24 1-5 1-7 1-9 1 11 1-9 1-21 1 24 1 13 1 18 1 14 1-7 1 26 1-20 1 6 1 24 1-3 1 6 1 15 1-2 1-16 1 21 1-32 1 16 1 22 1-13 1-53 1-63 1-17 1-8 1 7 1-9 1-53 1-6 1-11 1-25 1-35 1 0 1-1 1 8 1 33 1 9 1-12 1-34 1-9 1 3 1 16 1 11 1 8 1-14 1 20 1-46 1-5 1-11 1 1 1-28 1-2 1 12 1 18 1 14 1-10 1 20 1-32 1-15 1 13 1-7 1 20 1-8 1 33 1-31 1 15 1-29 1-19 1 30 1-34 1 9 1-35 1 11 1 14 1 0 1 34 1 2 1-14 1-23 1 11 1-7 1-4 1-3 1-5 1 16 1-32 1-38 1 36 1-4 1-48 1 26 1 34 1-2 1-29 1 31 1-15 1-14 1 8 1-1 1-14 1-21 1 19 1 0 1-3 1 2 1 3 1 15 1-33M403.03 1210 L403.33 1292 403.63 1210" stroke="#0000ff"/>
<path d="M0.00 1902l1 0 1 3 1-6 1 6 1 5 1-3 1 9 1-14 1 6 1-2 1 7 1 2 1-4 1-2 1-6 1-4 1 7 1 7 1-2 1 1 1-7 1 1 1-9 1-4 1 9 1-4 1-1 1-7 1 3 1 10 1-9 1 1 1 4 1-10 1 8 1-7 1 10 1 0 1-5 1-13 1-6 1-1 1-9 1-10 1 1 1-11 1 3 1-5 1-6 1 2 1-5 1 3 1-18 1 5 1-6 1-3 1-6 1 1 1 1 1-6 1 4 1-9 1 8 1-12 1-7 1-7 1 5 1-15 1 9 1 3 1-5 1 4 1-6 1-4 1 6 1-9 1 1 1-3 1 5 1-13 1-5 1 3 1 3 1-12 1 0 1-4 1-8 1 8 1 3 1 1 1-3 1-6 1-5 1 0 1-9 1 1 1 13 1-8 1-5 1 0 1-3 1-4 1 13 1-3 1-16 1 3 1-4 1-5 1-1 1-6 1 10 1-28 1 5 1 9 1 19 1-6 1-9 1 6 1-27 1-3 1 1 1 9 1-9 1-14 1 9 1-3 1 6 1 7 1-5 1-15 1 7 1-11 1 2 1 0 1-1 1 1 1 4 1-9 1-11 1-8 1-18 1 10 1 16 1 4 1-18 1 3 1 8 1-5 1-6 1-5 1 5 1-6 1 1 1-6 1-4 1 5 1 2 1-8 1 2 1-7 1-6 1 6 1-5 1 3 1-20 1 11 1 9 1 8 1-9 1 7 1-14 1 0 1-7 1 13 1-11 1 17 1-26 1 0 1 10 1 11 1-39 1-1 1 9 1-10 1 0 1 18 1-5 1-12 1 9 1 7 1-1 1 11 1-12 1 2 1-5 1-1 1-16 1 12 1-19 1 16 1-14 1 27 1-51 1 4 1-3 1-4 1 17 1-1 1-7 1-25 1 19 1 10 1 13 1-15 1 2 1 4 1-13 1-28 1 18 1 13 1-5 1-24 1-7 1 10 1-29 1 10 1 32 1-16 1-5 1 1 1-8 1-1 1 6 1-13 1 13 1 0 1-8 1-26 1 13 1-44 1 12 1-2 1 4 1-7 1 32 1 20 1-19 1 1 1 4 1-32 1 10 1-33 1 2 1 12 1 25 1-24 1 5 1 11 1-23 1-43 1 54 1-36 1 5 1-3 1 21 1 9 1-5 1-14 1 13 1-29 1 27 1-16 1-15 1 11 1 24 1-39 1 3 1 15 1 1 1 28 1-23 1 9 1-6 1-3 1 1 1-39 1 0 1 26 1-11 1 10 1 17 1-30 1 6 1-42 1 2 1-1 1 8 1-23 1 18 1-8 1 0 1-12 1-29 1 25 1-10 1 9 1 6 1 22 1-27 1 4 1-28 1-14 1 22 1-10 1 31 1 0 1-16 1 3 1 3 1-8 1-4 1 2 1 24 1 28 1-14 1-25 1-1 1 18 1-1 1 3 1-31 1 2 1-2 1-9 1 18 1-26 1-19 1 53 1-37 1-10 1 10 1-23 1-4 1-4 1 12 1-7 1-4 1-4 1 2 1 15 1 5 1 3 1-38 1 13 1-4 1 9 1 19 1-17 1-20 1 25 1-4 1-6 1-11 1 12 1-27 1-25 1 16 1 18 1 3 1-24 1-14 1 12 1 6 1 17 1-19 1 12 1 2 1 2 1-37 1-3 1 15 1-12 1 13 1-1 1 4 1-40 1 22 1 21 1 34 1-54 1 18 1-48 1-3 1 9 1 15 1-1 1-2 1-3 1-23 1-3 1 4 1-3 1-7 1 11 1-6 1-15 1-6 1-1 1 8 1 8 1-10 1 1 1-20 1-25 1 14 1 5" stroke="#ff00ff"/>
<path d="M33.33 1781l1-24 1 1 1-1 1-6 1 6 1-9 1 11 1-5 1 2 1 10 1-9 1-9 1 1 1-15 1 5 1 13 1-1 1 6 1-15 1 5 1-5 1 7 1 9 1-7 1 1 1-10 1 4 1 4 1-5 1-3 1 5 1 5 1-6 1-2 1 9 1-12 1 1 1 1 1 3 1-2 1 9 1-14 1 2 1-5 1 8 1-8 1 0 1 2 1 2 1-3 1-4 1 1 1-4 1-8 1 11 1-11 1 9 1-1 1 3 1-6 1-11 1 2 1 3 1 5 1-6 1 12 1-17 1 3 1-10 1 2 1-5 1 4 1-4 1-2 1-6 1-6 1-5 1-4 1 1 1-6 1-1 1 15 1 4 1-18 1-2 1 6 1-9 1 4 1 0 1-2 1 9 1-17 1 0 1-4 1 5 1 0 1-6 1-2 1-9 1 4 1-1 1-7 1 9 1-12 1 0 1 5 1-2 1-7 1 4 1 0 1 6 1-7 1-6 1-3 1 4 1-18 1 16 1 5 1-15 1-4 1-3 1 0 1 3 1 7 1-4 1 7 1-9 1-9 1 14 1-4 1 3 1 1 1-9 1-13 1-1 1-3 1-2 1 10 1 8 1-7 1-2 1 9 1-26 1 13 1-14 1-6 1 6 1-8 1-9 1 12 1 2 1 6 1-14 1-19 1-1 1 15 1-17 1 8 1-13 1 11 1-1 1-8 1-11 1 0 1 25 1-2 1-9 1-11 1 15 1-23 1 17 1 2 1-14 1 8 1-16 1 8 1 15 1-18 1 0 1 9 1 15 1-26 1-8 1 22 1-23 1-15 1-5 1 4 1-11 1-2 1 28 1-26 1-18 1 31 1-28 1 0 1 14 1-11 1 11 1-1 1 5 1-19 1-12 1 36 1-38 1 4 1-10 1 16 1-6 1-9 1 4 1 13 1-41 1 16 1-23 1-23 1 29 1-7 1 44 1-33 1 10 1-1 1-15 1 27 1-17 1 22 1-14 1 7 1 4 1-21 1-5 1 9 1-13 1 1 1-3 1-13 1 7 1-10 1-5 1-8 1-18 1 2 1 2 1 10 1 34 1-14 1-22 1-34 1 30 1-8 1-37 1 8 1 10 1 28 1-20 1 19 1-11 1 14 1-29 1 23 1 0 1-2 1 9 1 26 1-20 1-16 1-1 1 0 1-8 1-14 1-18 1 10 1 3 1-2 1 13 1-25 1 5 1 2 1-6 1 30 1-16 1-21 1-19 1-12 1 0 1-28 1 47 1 39 1-1 1 2 1 5 1-7 1-3 1 6 1-27 1-21 1 11 1-18 1-8 1-11 1 5 1-18 1 14 1 21 1-17 1 18 1-27 1 27 1-39 1 31 1-29 1 34 1-21 1-2 1 15 1 8 1-14 1-8 1-11 1 6 1-7 1-22 1 40 1-24 1 11 1-5 1 23 1 3 1 15 1 9 1-17 1 18 1-35 1 4 1 10 1-22 1-8 1 7 1 6 1-21 1 42 1-16 1-39 1 19 1-11 1 5 1-18 1 10 1 24 1-16 1 7 1-33 1-1 1 5 1 1 1 6 1 11 1-39 1-26 1 33 1 36 1-13 1-47 1 0 1 7 1 45 1-26 1-11 1-4 1 8 1-59 1 47 1 12 1 5 1-1 1-16 1-3 1-17 1-16 1-4 1 24 1 22 1-7M195.53 1554 L195.83 1586 196.13 1554M228.87 1487 L229.17 1557 229.47 1487M336.37 1300 L336.67 1425 336.97 1300M374.70 1303 L375.00 1576 375.30 1303M262.20 1469 L262.50 1491 262.80 1469M295.53 1393 L295.83 1434 296.13 1393" stroke="#000000"/>
<path d="M33.33 1797l1-37 1 5 1-5 1 3 1 5 1-10 1-2 1 2 1 3 1 3 1-13 1 13 1 3 1-10 1 2 1-1 1 4 1-2 1 5 1-9 1 3 1-5 1 6 1 0 1 11 1-5 1-4 1-3 1 1 1-12 1 3 1-11 1-1 1 7 1-3 1-3 1 10 1 3 1-7 1 0 1-7 1-1 1 6 1-7 1 1 1 4 1 7 1-1 1-2 1-3 1 1 1 1 1 1 1 3 1 5 1-4 1-6 1-1 1 10 1-18 1-1 1-13 1 11 1 1 1-7 1-2 1-5 1-8 1-2 1-9 1-3 1 0 1 1 1 7 1-8 1 5 1 5 1-5 1-1 1-3 1-8 1-6 1-1 1 10 1-2 1-3 1-3 1 12 1 1 1-5 1-12 1 9 1-10 1-3 1 1 1-5 1-7 1 16 1-11 1-6 1-3 1 18 1-10 1-13 1 16 1-13 1 3 1 0 1-13 1 14 1-9 1-3 1 5 1 3 1-19 1 3 1 3 1-11 1 3 1-15 1-2 1-3 1 0 1 4 1-1 1 10 1 9 1-3 1-11 1-6 1-14 1-10 1 16 1 16 1 1 1-1 1-10 1-20 1-4 1-5 1 27 1-6 1-2 1 5 1-2 1-11 1-19 1 5 1 0 1-8 1 2 1 6 1-17 1 7 1 7 1-24 1 6 1 10 1 2 1-9 1-2 1-8 1 9 1-1 1 2 1 1 1-7 1-12 1-1 1-1 1 11 1-9 1 2 1 1 1-25 1 4 1 16 1 13 1 7 1 0 1-16 1-2 1 3 1 25 1-10 1-1 1-41 1 25 1 15 1-21 1 5 1-42 1-30 1 3 1-2 1 24 1-7 1 13 1-20 1-14 1-4 1 7 1 6 1 0 1-16 1 3 1 14 1-20 1 9 1-1 1-29 1 37 1-10 1-3 1 0 1 17 1 4 1-2 1 4 1-21 1 20 1-37 1 20 1-15 1-4 1-23 1 4 1 2 1-14 1 22 1-6 1 19 1-28 1-31 1-2 1 8 1-13 1 45 1-11 1 30 1-22 1-24 1 3 1-23 1 3 1 24 1-4 1 8 1-5 1 20 1-25 1-8 1 3 1-9 1-6 1-7 1 33 1-27 1-13 1 21 1 9 1-8 1-11 1-7 1 3 1-34 1 4 1-10 1 14 1-3 1 20 1-19 1 2 1 4 1 8 1-25 1 17 1-16 1-9 1 20 1 15 1-27 1 5 1-43 1 19 1-14 1 16 1 27 1-21 1 21 1-3 1-3 1-11 1 2 1-14 1-13 1-13 1-1 1-2 1 7 1 13 1-4 1 19 1 5 1-1 1 12 1 5 1-19 1-7 1-27 1 23 1 1 1-12 1 14 1 18 1-24 1-13 1 23 1-9 1 26 1-21 1-15 1-23 1-15 1-8 1 18 1-12 1 21 1-18 1-15 1 5 1 0 1 17 1-29 1 41 1 24 1-20 1 13 1-4 1 8 1-38 1 25 1 12 1 5 1-14 1 0 1-33 1-7 1-10 1 31 1 3 1-21 1 10 1-22 1-11 1 11 1-4 1-11 1 19 1-11 1-4 1-21 1 44 1-38 1-8 1 35 1-8 1 2 1-15 1-12 1-1 1 30 1-6 1 9 1-43 1 4 1-20 1-4 1-4 1 6 1 13 1-3 1-25" stroke="#000000"/>
</g></g>
<rect x="214.0" y="285.2" width="427.2" height="189.4" fill="none" stroke="#7a7a7a" stroke-width="1"/>
<path d="M299.4,285.2v4.3M299.4,474.6v-4.3M384.9,285.2v4.3M384.9,474.6v-4.3M470.4,285.2v4.3M470.4,474.6v-4.3M555.8,285.2v4.3M555.8,474.6v-4.3M214.0,356.2h4.3M641.2,356.2h-4.3" stroke="#7a7a7a" stroke-width="1" fill="none"/>
<text transform="translate(219.9,482.6) rotate(-90)" font-size="16.3" text-anchor="end" font-family="Liberation Sans, sans-serif" fill="#262626" >0</text>
<text transform="translate(305.3,482.6) rotate(-90)" font-size="16.3" text-anchor="end" font-family="Liberation Sans, sans-serif" fill="#262626" >5</text>
<text transform="translate(390.8,482.6) rotate(-90)" font-size="16.3" text-anchor="end" font-family="Liberation Sans, sans-serif" fill="#262626" >10</text>
<text transform="translate(476.2,482.6) rotate(-90)" font-size="16.3" text-anchor="end" font-family="Liberation Sans, sans-serif" fill="#262626" >15</text>
<text transform="translate(561.7,482.6) rotate(-90)" font-size="16.3" text-anchor="end" font-family="Liberation Sans, sans-serif" fill="#262626" >20</text>
<text transform="translate(647.1,482.6) rotate(-90)" font-size="16.3" text-anchor="end" font-family="Liberation Sans, sans-serif" fill="#262626" >25</text>
<text transform="translate(662.9,475.4) rotate(-90)" font-size="16.3" text-anchor="middle" font-family="Liberation Sans, sans-serif" fill="#262626" >0</text>
<text transform="translate(662.9,358.4) rotate(-90)" font-size="16.3" text-anchor="middle" font-family="Liberation Sans, sans-serif" fill="#262626" >500</text>
<rect x="299.4" y="548.7" width="256.3" height="189.5" fill="#cbcbcb"/>
<path d="M299.4,548.7V738.2M555.8,548.7V738.2" stroke="#5e5e5e" stroke-width="1" fill="none"/>
<path d="M393.1,548.7V738.2" stroke="#3a3a3a" stroke-width="0.8" stroke-dasharray="0.9,2.3" fill="none"/>
<text transform="translate(389.5,737.6) rotate(-90)" font-size="14" text-anchor="start" font-family="Liberation Sans, sans-serif" fill="#111" textLength="33.3" lengthAdjust="spacingAndGlyphs">Unit II</text>
<text transform="translate(552.2,737.6) rotate(-90)" font-size="14" text-anchor="start" font-family="Liberation Sans, sans-serif" fill="#111" textLength="40.5" lengthAdjust="spacingAndGlyphs">Unit III</text>
<text transform="translate(637.6,737.6) rotate(-90)" font-size="14" text-anchor="start" font-family="Liberation Sans, sans-serif" fill="#111" textLength="38.5" lengthAdjust="spacingAndGlyphs">Unit IV</text>
<clipPath id="c_qt"><rect x="214.0" y="548.7" width="427.2" height="189.5"/></clipPath>
<g clip-path="url(#c_qt)"><g transform="translate(214.00 0) scale(1.02540 0.25)" fill="none" stroke-width="1.60" stroke-linejoin="round" vector-effect="non-scaling-stroke" class="ns">
<path d="M0.00 2956l1-72 1-75 1-66 1-518 1-258 1 0 1 0 1 65 1 164 1 130 1 122 1 66 1 68 1 36 1 22 1 21 1 11 1 13 1 3 1 5 1 6 1 8 1 0 1 4 1 5 1 9 1 6 1 0 1 11 1-3 1 7 1 7 1 6 1-4 1 11 1-7 1-1 1 0 1 4 1 1 1 2 1 5 1 2 1-3 1 2 1 0 1 3 1 6 1-1 1-3 1 1 1-3 1 8 1 5 1-2 1-8 1 4 1 3 1-5 1 6 1-3 1-7 1 13 1-4 1-2 1 5 1-5 1-7 1 8 1 0 1 2 1 5 1-5 1 3 1 3 1-2 1 5 1 0 1-6 1-2 1 5 1 0 1-1 1-3 1 4 1 0 1-6 1-4 1 0 1 7 1-1 1-9 1 5 1-5 1 4 1-8 1 4 1-2 1-3 1-8 1-3 1-7 1-3 1-4 1-5 1 1 1 4 1 6 1-4 1-10 1 2 1-1 1-3 1-5 1 7 1-9 1-7 1 2 1-5 1 1 1 2 1 5 1-10 1 6 1-4 1-10 1-3 1-1 1-7 1 2 1-11 1-1 1-4 1 2 1-7 1-4 1 6 1-4 1 9 1-4 1-2 1-8 1-4 1-1 1-8 1-9 1-5 1 1 1 2 1 0 1-5 1 0 1-2 1-3 1-7 1 0 1 3 1-7 1-11 1 1 1-5 1 3 1 0 1 2 1-3 1-2 1-2 1-3 1 4 1-2 1 0 1-5 1-1 1-3 1 5 1-1 1-4 1 2 1 3 1 0 1-4 1 9 1-2 1 6 1 2 1-13 1 3 1-5 1 1 1 3 1-4 1-2 1 7 1-13 1 2 1 1 1-6 1-8 1 12 1-4 1-16 1 3 1 5 1-3 1 3 1 3 1 6 1-15 1 17 1-13 1-2 1-6 1 2 1 3 1 0 1-16 1 1 1 9 1-10 1 4 1 16 1-17 1-12 1 16 1-26 1 1 1-21 1-15 1-8 1 14 1-1 1-12 1 30 1-5 1 15 1-7 1-22 1-22 1-2 1-11 1-1 1 6 1 25 1 1 1-13 1 0 1-19 1-1 1 23 1 15 1 1 1-3 1-9 1 0 1 15 1-36 1 14 1 17 1-29 1 16 1-6 1-25 1-1 1 6 1-2 1-8 1-9 1-8 1 18 1-13 1 5 1-5 1-5 1 14 1 8 1-17 1-25 1 13 1-8 1-3 1 18 1-16 1-12 1 25 1 0 1-12 1-33 1 35 1-3 1-10 1 17 1-22 1-4 1-5 1 12 1-3 1-9 1-17 1-11 1-11 1-12 1 3 1 1 1-8 1 16 1 21 1-10 1-1 1-11 1-20 1 32 1-13 1-21 1 19 1-7 1 4 1 22 1-16 1 17 1-1 1-11 1-11 1-13 1 21 1-11 1-8 1 15 1 8 1 5 1-3 1-16 1 10 1 6M68.03 2775 L68.33 2894 68.63 2775M93.03 2783 L93.33 2875 93.63 2783M118.03 2726 L118.33 2854 118.63 2726M143.03 2670 L143.33 2835 143.63 2670M168.03 2609 L168.33 2785 168.63 2609M191.37 2601 L191.67 2679 191.97 2601M218.03 2573 L218.33 2650 218.63 2573M243.03 2508 L243.33 2638 243.63 2508M245.03 2496 L245.33 2322 245.63 2496M268.03 2447 L268.33 2694 268.63 2447M289.70 2421 L290.00 2589 290.30 2421M318.03 2367 L318.33 2603 318.63 2367" stroke="#ff0000"/>
<path d="M0.00 2943l1-125 1-239 1-612 1 0 1 0 1 0 1 0 1 0 1 0 1 107 1 151 1 130 1 108 1 66 1 72 1 20 1 20 1 21 1 16 1 4 1 13 1 12 1 10 1-6 1 11 1-2 1 7 1 3 1 3 1 7 1 3 1 3 1 10 1-2 1 5 1-4 1 6 1-6 1 1 1-4 1 4 1-6 1 13 1 3 1-8 1-1 1 1 1-2 1 11 1-3 1 0 1 0 1 7 1-4 1 0 1 3 1-8 1-8 1 0 1-4 1 5 1-2 1 2 1 3 1 7 1 1 1 2 1-2 1 0 1-1 1 5 1-1 1 4 1 7 1 2 1-1 1-5 1 4 1-4 1 1 1 5 1 4 1-13 1 3 1 0 1-5 1-3 1 2 1-2 1 6 1-4 1 0 1 0 1-5 1-5 1 3 1-1 1-3 1 1 1-6 1-4 1 2 1 2 1-11 1-7 1 6 1-11 1 2 1-3 1 13 1-14 1-3 1-7 1 0 1 7 1 0 1-8 1-6 1-2 1-6 1-4 1 0 1 3 1-5 1-6 1-3 1 3 1-2 1-5 1-8 1-1 1-2 1 2 1 1 1 1 1-1 1-5 1-6 1 3 1 2 1-5 1-5 1 5 1 0 1 0 1-3 1-4 1-6 1-7 1-4 1-3 1 3 1-4 1-4 1 1 1-2 1-2 1-2 1-6 1-6 1 8 1-4 1 4 1-10 1-6 1-4 1-2 1-6 1 6 1 3 1-12 1 3 1 1 1 4 1-2 1 1 1-6 1 4 1-6 1 3 1-4 1 1 1 4 1-1 1 3 1-8 1-7 1-7 1 2 1-1 1-2 1-8 1-2 1 16 1-10 1 7 1 1 1 10 1-2 1-17 1 11 1-11 1 5 1-10 1 4 1-6 1-6 1 14 1 7 1-28 1 0 1 14 1-3 1-10 1-3 1 0 1 16 1-7 1-17 1-15 1 12 1-2 1-8 1-11 1 14 1-30 1-2 1 4 1 4 1 11 1 0 1 8 1-6 1-25 1 13 1 18 1-17 1-1 1-16 1 0 1 17 1 11 1 1 1-1 1-16 1 3 1 9 1-5 1-7 1-27 1-4 1 17 1 12 1 2 1-6 1-15 1 0 1-6 1 4 1-15 1-25 1 1 1 12 1-1 1 11 1-18 1-10 1 1 1 8 1-8 1 22 1-2 1-15 1-8 1 4 1 6 1-7 1 4 1-1 1 5 1-6 1-1 1 2 1-5 1-5 1-1 1-1 1 25 1-2 1-7 1 4 1-1 1 1 1-7 1-11 1-18 1-3 1 1 1-6 1 16 1-23 1 4 1-20 1-9 1 13 1-9 1-18 1-9 1 29 1-17 1 19 1-3 1-13 1 15 1-27 1 5 1-24 1 10 1 9 1-9 1 9 1-1 1-19 1 12 1 13 1-31 1 29 1-12 1 3 1-17 1-1 1-2 1 8" stroke="#ff0000"/>
<path d="M0.00 2961l1-116 1-108 1-695 1-75 1 0 1 0 1 0 1 0 1 0 1 0 1 14 1 166 1 135 1 135 1 84 1 61 1 52 1 18 1 26 1 12 1 15 1 16 1 5 1 7 1 4 1 8 1-1 1 8 1 1 1 5 1 8 1 5 1 11 1-5 1-3 1-2 1 7 1 2 1 4 1 2 1 7 1-7 1 10 1-8 1 10 1-4 1 0 1 3 1 3 1-4 1 8 1 0 1 1 1 0 1 1 1-2 1 1 1-3 1-3 1-3 1 10 1 5 1-1 1 3 1-2 1-4 1 12 1-3 1 6 1-2 1-4 1-2 1 1 1 10 1 0 1-3 1 3 1-1 1-3 1 2 1-12 1 5 1-3 1-2 1 0 1 4 1-6 1 4 1-8 1-1 1 2 1-1 1 3 1-16 1 1 1-7 1 4 1 4 1-3 1-2 1 5 1-15 1 6 1 4 1-1 1-7 1 5 1-7 1 3 1-16 1-4 1-6 1-2 1-7 1-2 1 9 1-10 1-8 1-8 1-6 1 8 1 0 1 1 1 2 1-7 1 1 1-4 1-1 1 0 1 1 1-5 1 2 1 0 1-3 1-2 1-2 1-9 1-7 1 7 1 4 1-6 1-7 1-5 1 10 1 0 1-10 1-13 1 6 1-1 1 4 1-8 1-4 1 10 1-1 1 3 1-4 1-11 1-3 1-4 1-3 1-14 1 11 1-6 1-7 1 3 1-1 1 7 1 0 1-2 1 1 1-9 1-6 1 4 1-3 1-2 1-2 1-2 1 0 1-3 1 7 1 0 1-6 1 0 1-6 1 8 1 6 1-11 1-2 1-2 1 9 1-3 1 2 1 5 1-3 1-13 1-2 1-4 1 7 1-17 1 0 1-4 1 12 1-1 1-8 1-6 1-7 1-6 1 12 1-2 1-16 1 6 1-7 1 0 1 10 1-8 1-11 1 2 1-8 1 1 1 18 1-7 1-3 1-19 1 24 1-12 1 7 1-17 1 6 1-1 1-5 1 16 1-2 1-10 1-9 1 2 1-2 1-5 1 7 1 2 1 0 1 6 1-19 1 2 1-2 1-6 1 0 1 12 1-4 1-14 1-6 1-4 1-7 1 24 1-5 1 8 1 6 1-10 1-14 1 11 1-13 1 15 1-25 1-6 1-12 1-13 1 25 1 11 1-14 1 20 1 9 1-12 1-6 1-5 1-11 1-14 1-1 1 12 1 2 1-24 1-11 1 1 1 17 1-22 1 8 1 13 1 7 1 1 1-5 1-13 1 8 1-3 1-3 1 3 1-14 1-1 1 10 1-9 1-19 1-3 1-3 1 24 1-7 1-11 1-7 1-2 1-15 1 0 1-3 1-1 1-3 1 5 1 6 1-29 1 30 1 20 1-31 1 10 1-17 1 15 1-5 1-4 1-5 1-1 1-7 1 8 1-13 1-12 1-34 1 24 1-14 1-1 1-6 1 14" stroke="#ff0000"/>
<path d="M0.00 2966l1-139 1-383 1-477 1 0 1 0 1 0 1 0 1 0 1 0 1 0 1 99 1 159 1 132 1 113 1 66 1 70 1 23 1 31 1 24 1-5 1 21 1 2 1 24 1-1 1 8 1 9 1 1 1-5 1 11 1 2 1 7 1 4 1 11 1 4 1-2 1 7 1 7 1 0 1 9 1-9 1 3 1-3 1-4 1 12 1-1 1-2 1 12 1 0 1 5 1 4 1-1 1-2 1 5 1 0 1-8 1 7 1-2 1-14 1 5 1 1 1 2 1 2 1 6 1-8 1 10 1 11 1-8 1-1 1-2 1-4 1 7 1-14 1 2 1 1 1 3 1 5 1-5 1-3 1-7 1 4 1 1 1 4 1 7 1 8 1-6 1 3 1-3 1 4 1-5 1-2 1-3 1 1 1-11 1 0 1 1 1-5 1-5 1-9 1-4 1 4 1-3 1 0 1-2 1 1 1-1 1 2 1 2 1-7 1-6 1-11 1 7 1 4 1-9 1 4 1 4 1-12 1 4 1-7 1 2 1 1 1-5 1-9 1 7 1-8 1-6 1-10 1 14 1-15 1 8 1-2 1-3 1-3 1-5 1-4 1 4 1-11 1-4 1 0 1-3 1 1 1 0 1-3 1-1 1-8 1 2 1-2 1-7 1-6 1 1 1 2 1-14 1 1 1-13 1 4 1-2 1 5 1-6 1 0 1 0 1-5 1 10 1-2 1 1 1-8 1-4 1 0 1-2 1-10 1-9 1-3 1 2 1-6 1 3 1 4 1 3 1-5 1 7 1 2 1 2 1-13 1 3 1 9 1-3 1 6 1 0 1 0 1-5 1-14 1 1 1 6 1 7 1-6 1 6 1-25 1 7 1 8 1-7 1-13 1 5 1-1 1 25 1-17 1 13 1-8 1-14 1 3 1-9 1-3 1-2 1 3 1 1 1-7 1 4 1 2 1-16 1-2 1-11 1 5 1-4 1 20 1-6 1-11 1 4 1-23 1-4 1-3 1-4 1 4 1-10 1 16 1 15 1 1 1-33 1-6 1-10 1 16 1 3 1-26 1-35 1 44 1-12 1-15 1 23 1 10 1 0 1-12 1-13 1 12 1 35 1-22 1-1 1-16 1 20 1 23 1-5 1 7 1-19 1-4 1-32 1-15 1 11 1 14 1-13 1 0 1 14 1-20 1 8 1-5 1-10 1 8 1-33 1 35 1-5 1-16 1 11 1-26 1 18 1-38 1 12 1 3 1-17 1 33 1-4 1-23 1 9 1-25 1 32 1-8 1 2 1 8 1 0 1-12 1 9 1 0 1-23 1 29 1-18 1 2 1-5 1-11 1-4 1 10 1 5 1-30 1-6 1 22 1-42 1 7 1 2 1 11 1-8 1 25 1-1 1 11 1 11 1 2 1-11 1-26 1 0 1-3 1-33 1 10 1 0 1-18 1-19 1 8 1-23 1-15 1 14 1-28 1 10 1-24 1-7 1-15 1-14 1-8 1-35 1 31 1 22 1-2 1-8 1 31 1-30 1 2 1-9 1 23 1-11 1-10 1 33 1-5 1-9 1-14 1 15 1 4 1 9 1 27 1-27 1-9 1-5 1-35 1 1 1 28 1-14 1 9 1-55 1 39 1 18 1 33 1-10 1-18 1 0 1-4 1 17 1-18 1 15 1-15 1-3 1-14 1 3 1 8 1-7 1 20 1-8 1 5 1-4 1-22 1 18 1-21 1-13 1 4 1-11 1 20 1 5 1 0 1 25 1 0 1-32 1-3 1-12 1 0 1-19 1 8 1-13 1 27 1-1 1-26 1 0 1-6 1-3 1 26 1-17 1 23 1-24 1 6 1 23 1-12M219.70 2593 L220.00 2468 220.30 2593M225.03 2553 L225.33 2287 225.63 2553M144.70 2696 L145.00 2763 145.30 2696" stroke="#00ffff"/>
<path d="M0.00 2941l1-76 1-73 1-65 1-662 1-98 1 0 1 0 1 0 1 0 1 0 1 0 1 0 1 132 1 151 1 120 1 102 1 70 1 64 1 19 1 24 1 14 1 21 1 4 1 6 1 6 1 12 1-4 1 10 1 15 1 1 1 1 1 3 1 6 1 9 1-6 1 4 1-3 1 10 1-12 1 14 1 5 1 3 1 10 1-3 1-5 1 6 1 6 1 0 1-1 1 2 1-1 1 6 1 0 1 5 1-3 1 1 1 0 1 0 1 1 1 1 1-7 1 11 1 5 1-9 1 1 1 3 1-6 1-4 1 5 1-4 1 0 1 14 1-10 1 6 1-7 1 9 1-5 1 2 1-2 1 0 1-7 1-2 1 8 1 12 1-9 1-12 1 13 1-4 1 0 1 3 1-6 1-1 1-5 1 4 1-3 1 3 1-10 1-3 1-3 1 0 1-1 1 9 1-14 1 6 1-19 1 8 1-9 1-4 1-3 1-1 1-4 1 7 1-3 1-9 1-3 1 5 1-2 1-10 1-1 1 9 1-7 1 16 1-15 1-1 1-2 1-14 1-6 1 8 1-1 1 2 1-1 1-7 1-13 1 8 1-10 1 2 1 4 1-3 1 1 1-5 1-8 1 5 1-11 1 1 1-8 1-1 1 7 1-9 1 5 1-5 1 3 1-11 1-6 1-1 1 2 1-3 1 1 1-7 1 3 1-12 1 2 1-1 1-9 1 6 1 12 1-8 1-13 1 9 1-6 1-4 1 2 1-11 1 8 1 4 1-15 1-3 1 3 1 3 1 1 1 4 1-12 1 6 1 1 1-6 1-9 1-2 1-3 1-2 1-2 1 3 1 5 1 3 1 12 1-14 1 9 1-2 1-6 1 1 1-14 1 6 1 10 1-13 1-8 1 8 1-10 1-4 1 11 1-12 1 13 1-18 1-6 1-12 1-15 1 17 1 1 1-9 1 26 1-20 1 22 1 3 1-6 1-31 1 20 1 4 1 5 1-22 1-14 1-13 1-12 1 22 1 11 1 5 1-13 1 15 1 20 1-34 1 11 1-15 1 7 1-25 1 21 1-31 1 25 1-10 1-30 1 7 1-22 1 8 1 19 1-23 1 20 1 11 1 12 1-25 1 0 1-3 1 25 1-1 1-2 1-12 1 13 1-18 1-8 1-14 1-6 1 22 1-24 1 26 1-11 1-5 1-4 1 5 1 0 1-10 1-7 1 6 1 3 1-9 1 8 1-15 1-14 1 18 1-10 1 13 1-54 1 54 1-3 1-38 1 39 1-4 1-19 1-1 1 6 1-3 1 0 1 13 1 12 1-2 1-15 1-19 1-2 1 32 1-20 1-7 1 10 1-25 1-19 1 32 1-2 1-2 1 5 1 7 1-15 1 0 1 3 1 8 1-24 1-24 1 8 1-10 1-25 1 12 1-7 1 8 1-7 1 0 1-13 1-2 1-36 1-3 1 13 1-16 1-25 1-4 1 10 1-19 1 11 1-7 1 9 1-1 1 34 1-18 1-9 1 13 1 19 1-8 1-2 1-30 1 0 1-14 1 18 1-18 1-20 1 34 1 12 1-8 1 3 1-11 1 12 1-12 1-12 1 25 1 1 1-4 1 3 1 32 1 7 1-17 1 17 1-39 1 17 1 10 1-3 1-33 1-4 1-21 1-4 1-6 1 20 1-15 1-2 1 8 1 8 1 16 1-12 1 21 1-10 1-42 1 10 1 27 1-46 1-9 1 26 1 24 1-2 1-4 1-41 1 16 1-6 1-21 1 17 1-15 1 27 1-15 1-5 1 33 1 4 1-14 1-28 1 50 1-27 1-10 1-6 1-17 1 14 1-11" stroke="#00ffff"/>
<path d="M0.00 2948l1-96 1-101 1-564 1-220 1 0 1 0 1 0 1 0 1 24 1 169 1 144 1 132 1 73 1 64 1 40 1 23 1 19 1 21 1 14 1 6 1 8 1 3 1 13 1-4 1 2 1 1 1 1 1 4 1 0 1 17 1 11 1 1 1 7 1 2 1 6 1-7 1 10 1-10 1-1 1 13 1-9 1 10 1-4 1 8 1 0 1 5 1-11 1 1 1 11 1 6 1 2 1 0 1-9 1 5 1-2 1 4 1-1 1 7 1-13 1 1 1 4 1-5 1-2 1 9 1 4 1 1 1-4 1-6 1 11 1 6 1-11 1 5 1-4 1 0 1-1 1 4 1-1 1-4 1 4 1-3 1 4 1-10 1 7 1 5 1-6 1 7 1 3 1-5 1 9 1-17 1 3 1-3 1-13 1 5 1-15 1 12 1-4 1 0 1-5 1 3 1-5 1 3 1-5 1-4 1 1 1-10 1 2 1-1 1 1 1-8 1 1 1-4 1 7 1-1 1-13 1-10 1 2 1 10 1-3 1-9 1 7 1-10 1 11 1 0 1-6 1-9 1 3 1-3 1-3 1-4 1-1 1 3 1-10 1 6 1-14 1 1 1 2 1-6 1 3 1-19 1 3 1 2 1-19 1-10 1 3 1-11 1 3 1 2 1-5 1 7 1-12 1-4 1 2 1-6 1 1 1-9 1 6 1-8 1-3 1 10 1-1 1-1 1 9 1-4 1 11 1-7 1-1 1 3 1-4 1-13 1-5 1-8 1 4 1 8 1-2 1 1 1-11 1 6 1-1 1 4 1 7 1-1 1-11 1-3 1 0 1-9 1-11 1 6 1-4 1 3 1-19 1-1 1 10 1-3 1 7 1-6 1 11 1-12 1 7 1-23 1 2 1 15 1-10 1 3 1 11 1-25 1 28 1-13 1 5 1 7 1-4 1 11 1 2 1-5 1-11 1 10 1-15 1 11 1 4 1 11 1-33 1-6 1 29 1-23 1-1 1-37 1 20 1 12 1-37 1 34 1 31 1-24 1-29 1 9 1-8 1 2 1 15 1-36 1 5 1 0 1 4 1 24 1-15 1-6 1-40 1-13 1 7 1 32 1-2 1 4 1-16 1 7 1-30 1 23 1-8 1 4 1-20 1 23 1-14 1 5 1-20 1 44 1-7 1-20 1 0 1 14 1-12 1 4 1-1 1-1 1 2 1 22 1-2 1-11 1-17 1 10 1-26 1 18 1-13 1-1 1-17 1-21 1 3 1-6 1 17 1-25 1-17 1-5 1 3 1 30 1-28 1 24 1 40 1-30 1-14 1-11 1 37 1-31 1 15 1 7 1-2 1-2 1 15 1-25 1 29 1-53 1 41 1-15 1-33 1 35 1-21 1 59 1-36 1 2 1 18 1 16 1 16 1 6 1-9 1 18 1 19 1-12 1-3 1-49 1-41 1-26 1-62 1-30 1 4 1-16 1 3 1-25 1-3 1-17 1 20 1-20 1 9 1 15 1 4 1-12 1 0 1 26 1-15 1-2 1-8 1 9 1 6 1 0 1-10 1 20 1 21 1-15 1-8 1-6 1 0 1 5 1-5 1 17 1-25 1-20 1-10 1 34 1-8 1-30 1 17 1-14 1 30 1-18 1 17 1 38 1-9 1-33 1-5 1-30 1 43 1-2 1-27 1 15 1 16 1-10 1 6 1-17 1-12 1-11 1-37 1 17 1-3 1 20 1-15 1-27 1 17 1 33 1 25 1-20 1-17 1 3 1 16 1-41 1 32 1-45 1 54 1 1 1-30 1 14 1-26 1 1 1-19 1 36 1 17 1 16 1-25 1-27 1 16 1-13 1 36 1-17M54.70 2786 L55.00 2498 55.30 2786M83.87 2797 L84.17 2628 84.47 2797M208.03 2575 L208.33 2368 208.63 2575M286.37 2410 L286.67 2584 286.97 2410M367.20 2255 L367.50 1967 367.80 2255M386.37 2211 L386.67 1967 386.97 2211M389.70 2189 L390.00 1967 390.30 2189" stroke="#0000ff"/>
<path d="M0.00 2970l1-363 1-640 1 0 1 0 1 0 1 0 1 0 1 0 1 0 1 60 1 176 1 127 1 135 1 63 1 71 1 12 1-6 1 12 1 21 1 5 1 13 1 7 1 6 1 3 1 2 1 11 1 3 1 5 1 9 1-1 1 3 1 3 1 4 1 1 1 1 1-4 1 10 1-3 1 8 1 1 1-2 1-1 1 2 1-13 1 6 1-6 1 2 1 8 1-3 1 1 1-5 1 7 1 2 1-2 1 7 1 1 1 2 1-7 1 8 1-8 1 5 1 5 1 6 1 3 1-6 1 3 1 3 1-5 1 2 1 2 1-4 1 3 1-4 1 2 1 3 1 11 1-4 1 4 1-6 1-1 1 4 1 3 1-2 1 1 1-12 1 9 1-9 1 6 1-1 1-6 1-7 1 7 1-6 1-12 1-1 1 1 1 4 1-13 1-1 1 1 1-2 1 2 1-3 1 2 1-7 1-6 1 8 1-9 1-3 1-7 1-9 1-6 1 1 1 2 1-7 1 1 1-8 1 2 1-7 1 1 1-9 1 13 1 0 1-9 1 0 1-1 1 9 1-11 1-2 1-2 1 2 1 4 1-16 1 1 1-10 1-3 1 3 1-6 1 2 1 0 1-6 1-5 1 2 1-14 1 3 1 6 1 3 1 2 1-8 1-7 1 6 1 1 1-5 1 0 1-8 1 12 1-7 1-6 1 1 1-8 1 6 1-5 1 3 1-8 1-9 1 12 1-1 1 1 1-3 1-2 1-3 1 8 1-7 1 4 1 2 1-8 1 0 1-3 1 2 1 2 1 1 1 2 1-4 1-1 1-8 1-11 1 10 1 9 1-19 1 7 1 2 1-4 1-3 1-17 1-12 1-5 1-8 1 11 1 10 1 22 1-30 1 24 1-5 1 6 1-5 1 6 1-8 1 17 1-3 1-22 1 14 1 14 1-30 1 6 1 2 1-23 1-13 1 36 1-12 1-26 1-1 1 22 1-10 1-17 1-20 1 34 1-14 1-14 1 15 1 12 1-4 1-18 1 18 1 1 1 23 1-34 1 19 1-5 1-38 1 7 1-5 1-9 1-26 1 7 1 32 1-15 1-15 1-4 1 10 1-23 1-11 1 26 1 6 1-1 1-22 1 25 1-8 1-31 1 44 1-59 1 1 1 5 1-18 1 24 1 9 1-14 1 5 1 22 1-21 1-35 1-23 1 33 1-20 1 26 1-17 1 31 1 17 1 24 1-12 1-8 1 11 1-5 1-2 1-7 1 19 1-27 1 33 1-18 1-15 1 11 1 4 1-33 1-26 1 5 1-4 1 32 1-51 1 10 1-53 1 11 1-25 1-20 1 8 1 9 1-14 1 15 1-13 1-1 1-9 1 47 1-30 1-4 1-17 1 7 1 28 1-8 1-10 1-3 1-29 1-22 1-50 1-7 1 32 1-6 1-15 1 31 1 15 1-24 1 15 1-6 1 4 1-15 1 3 1-20 1 29 1 10 1 15 1 8 1-7 1 16 1 2 1 4 1-23 1 19 1-10 1 2 1-50 1 33 1 3 1-1 1-12 1-14 1 20 1-16 1 0 1 39 1-17 1 10 1 6 1 21 1-3 1-14 1 16 1-5 1-20 1-17 1 3 1 7 1 17 1-18 1 4 1 22 1 32 1-31 1 0 1-2 1 3 1-28 1-5 1-14 1 23 1 9 1-38 1 3 1 20 1-24 1-26 1 17 1-9 1 18 1 19 1-13 1 6 1-37 1 26 1-4 1 0 1-1 1 15 1-20 1 30 1-5 1 33 1-29 1 21 1-13 1 0 1 7 1 24 1-29 1 3 1-36 1 5 1 14 1 5 1-15M66.37 2743 L66.67 2638 66.97 2743M388.03 2210 L388.33 2413 388.63 2210M368.03 2246 L368.33 1967 368.63 2246M343.03 2246 L343.33 1967 343.63 2246" stroke="#ff00ff"/>
<path d="M0.00 2930l1-151 1-471 1-341 1 0 1 0 1 0 1 0 1 0 1 0 1 0 1 94 1 155 1 127 1 117 1 71 1 51 1 15 1 30 1 12 1 17 1 6 1 7 1 18 1 2 1 4 1-1 1 11 1 10 1 8 1 4 1 9 1 9 1-5 1-1 1-8 1-5 1 9 1 15 1 2 1 0 1-2 1 0 1 2 1 11 1 2 1-8 1 5 1 0 1 2 1 6 1-1 1 4 1 4 1-12 1 0 1 4 1-7 1 2 1 4 1-1 1 9 1-2 1 2 1 0 1 7 1 8 1 2 1 13 1-5 1-6 1-6 1-2 1 3 1 6 1 12 1-9 1-2 1 3 1 1 1 2 1-8 1 1 1 2 1 2 1-4 1 4 1-3 1 3 1-8 1-7 1-1 1 2 1-6 1-1 1-3 1-2 1 3 1-9 1-2 1 2 1-2 1 2 1 4 1-1 1-2 1-11 1-7 1-14 1 9 1-2 1-3 1-10 1 5 1-3 1-9 1-1 1 6 1 1 1 2 1 3 1-11 1-7 1 4 1 3 1-3 1 4 1 1 1-11 1 1 1 6 1-4 1-2 1-1 1-15 1-10 1-6 1-8 1 1 1-5 1-5 1 7 1 7 1-7 1 4 1 0 1-5 1-10 1 7 1-13 1-8 1 7 1 0 1 0 1-1 1-6 1-3 1 8 1-6 1-1 1 3 1-8 1 1 1-6 1 6 1-14 1-4 1-4 1 5 1 3 1-9 1 6 1 6 1-2 1-11 1 1 1-15 1 8 1-15 1 11 1-9 1 0 1-1 1 3 1-7 1-8 1-4 1 9 1 17 1-5 1-7 1 10 1-9 1-10 1-23 1 11 1 7 1 1 1 12 1-23 1 1 1-19 1 10 1 13 1-26 1 26 1-23 1-6 1-16 1 17 1-9 1 7 1 18 1-14 1 12 1-30 1 29 1 17 1 12 1-31 1-5 1-5 1 7 1-28 1-9 1-5 1 7 1-8 1-1 1 7 1 16 1 34 1-14 1 1 1 38 1-13 1 0 1-37 1-10 1-16 1-13 1 31 1-10 1-33 1 24 1 8 1 11 1-19 1-13 1 0 1-23 1 9 1 29 1-34 1 5 1-1 1 2 1-7 1 12 1 10 1-37 1-8 1 16 1-3 1 11 1-17 1-11 1 8 1 18 1 4 1 9 1-21 1 2 1 5 1-10 1-12 1 19 1 5 1-16 1 3 1-36 1-9 1 19 1 0 1 13 1-2 1-22 1 0 1 10 1 11 1-29 1 6 1-30 1 34 1-32 1 4 1 19 1-2 1 5 1-21 1 2 1-25 1 36 1-18 1 50 1-21 1 9 1-3 1 6 1-13 1 6 1 5 1 31 1-27 1 25 1-25 1-9 1 13 1 14 1 11 1-17 1 29 1-1 1-19 1-46 1-30 1-20 1-26 1-25 1-48 1 7 1-16 1-23 1-1 1-11 1 2 1 11 1 35 1-6 1 20 1-11 1-9 1 6 1 25 1-24 1-7 1-8 1 2 1-17 1 33 1-11 1-9 1-27 1 6 1-2 1-19 1 6 1 23 1 18 1-5 1 9 1 8 1 37 1-25 1-24 1-36 1 44 1-20 1 19 1 16 1-19 1-23 1-6 1 20 1-21 1 13 1-10 1-1 1-24 1 14 1-36 1 36 1 16 1-24 1 2 1 2 1 22 1-17 1 8 1 9 1-9 1-33 1 2 1-30 1 6 1-12 1 4 1 6 1-10 1 29 1 0 1 4 1-3 1 15 1-34 1 40 1 32 1-7 1-28 1-9 1-3 1-15 1-18 1 31 1 20 1 1 1-10" stroke="#0000ff"/>
<path d="M0.00 2974l1-100 1-96 1-505 1-306 1 0 1 0 1 0 1 0 1 0 1 0 1 0 1 143 1 147 1 128 1 114 1 68 1 63 1-33 1 2 1 21 1 27 1 9 1 1 1 22 1-1 1 12 1-2 1 0 1 11 1 9 1 9 1-6 1 3 1-4 1-3 1 4 1-3 1-5 1 1 1 4 1 2 1 7 1-3 1 0 1-1 1 5 1 2 1 1 1-3 1 2 1-4 1 16 1-1 1-3 1 8 1-6 1 1 1-5 1 1 1 20 1-15 1 3 1 0 1-4 1 21 1-1 1-2 1 0 1 6 1-15 1-12 1 21 1 3 1-17 1 9 1 1 1-6 1 3 1 2 1 2 1 2 1-1 1 1 1 3 1 3 1 5 1-1 1-13 1 2 1-5 1 14 1-12 1 2 1-16 1-8 1-1 1-2 1-3 1-11 1 8 1-4 1 7 1-8 1 1 1 0 1 9 1-2 1-3 1-11 1-4 1-3 1-6 1-4 1 0 1-10 1 1 1-2 1-2 1-1 1-3 1-2 1-1 1 9 1-1 1-5 1-10 1-4 1 2 1 2 1 3 1 3 1-4 1 1 1-9 1-7 1 3 1-2 1 2 1-2 1 2 1-13 1-3 1-7 1 5 1-8 1-5 1 5 1 1 1 9 1-11 1-9 1-6 1 1 1-5 1 9 1-6 1-12 1 11 1-1 1-11 1 10 1 1 1 5 1 3 1 6 1-16 1 12 1-11 1-5 1 0 1 4 1-7 1 6 1-2 1-8 1-5 1 3 1-9 1 6 1 2 1 5 1-16 1 2 1 5 1-16 1 11 1 2 1-6 1 2 1-25 1 12 1 8 1 10 1-18 1-5 1 7 1-10 1-9 1 9 1-3 1-6 1 1 1 16 1-6 1-3 1 21 1-2 1-27 1-3 1 17 1-3 1-23 1 10 1 1 1-2 1 0 1-11 1-15 1-18 1 12 1-1 1 9 1 24 1-39 1 30 1-56 1 38 1 3 1 67 1-21 1 4 1 8 1 24 1-16 1-32 1-52 1 29 1-22 1 15 1 24 1-11 1-6 1-19 1 25 1-26 1 15 1-33 1 12 1-29 1-16 1-19 1 5 1-37 1 24 1-25 1 36 1-2 1 16 1-3 1 2 1-15 1 2 1 36 1-25 1 24 1-27 1 26 1 2 1 4 1-9 1-54 1 10 1-9 1 8 1 45 1 25 1-56 1-11 1-14 1-42 1 26 1 10 1 1 1-20 1 15 1-13 1 21 1 4 1-20 1-7 1-14 1 8 1-11 1 8 1 3 1 22 1-24 1 1 1-6 1-34 1 22 1-9 1-11 1 30 1-24 1-15 1 29 1-25 1-8 1-9 1-43 1 15 1-8 1-4 1-33 1 6 1 17 1 24 1 1 1-8 1-37 1 28 1-38 1 2 1-8 1-23 1-2 1-11 1 16 1-28 1 5 1-17 1 32 1-3 1 15 1 16 1-23 1 36 1 35 1-10 1 11 1 2 1-23 1 22 1 3 1-31 1 11 1 24 1-2 1 23 1-4 1-17 1-4 1 16 1-21 1-29 1 0 1 12 1-4 1 44 1-40 1 1 1 9 1 4 1 27 1-16 1 12 1-9 1-40 1 11 1-7 1 34 1-3 1 17 1 4 1 18 1 12 1-18 1-39 1 11 1 13 1-34 1 5 1 12 1-38 1-5 1 37 1 6 1-53 1 5 1 31 1-22 1 34 1-16 1-14 1-6 1 6 1-37 1 28 1 1 1-5 1-14 1 26 1-10 1 19 1-3 1 41 1-7 1 7 1-42 1 6 1 1 1-4 1 14 1 0 1-40" stroke="#ff00ff"/>
<path d="M0.00 2954l1-106 1-92 1-515 1-274 1 0 1 0 1 0 1 0 1 0 1 0 1 0 1 111 1 151 1 138 1 101 1 70 1 71 1 18 1 25 1 25 1 9 1 3 1 4 1 6 1 14 1 10 1-3 1 3 1 7 1 5 1 3 1 1 1 11 1-2 1 11 1-4 1 3 1-1 1 3 1 9 1 5 1 5 1-2 1 5 1 7 1 3 1-2 1-9 1 6 1-5 1 3 1-6 1-1 1 10 1 7 1-6 1 0 1-1 1 0 1 9 1-2 1 4 1-1 1 5 1-11 1 12 1-4 1-9 1 3 1 2 1 0 1-2 1 10 1-6 1 3 1-2 1 1 1-2 1 6 1-8 1 4 1 3 1-2 1-5 1 5 1 9 1-6 1 2 1-4 1 5 1-2 1-10 1-1 1 0 1-10 1 10 1 6 1-4 1-9 1 0 1-3 1 2 1 0 1 1 1 3 1-6 1-4 1-2 1-7 1-11 1 13 1-8 1 4 1 6 1-5 1-10 1 1 1 4 1-8 1-9 1-4 1-3 1-5 1 6 1-9 1 1 1-3 1 0 1 1 1-4 1 5 1-25 1 0 1 7 1-12 1 11 1-9 1 11 1-3 1-16 1 0 1-6 1 2 1-1 1-8 1-2 1 2 1 9 1 0 1-10 1-3 1-4 1-8 1 1 1 3 1 1 1 0 1-19 1-1 1 11 1-14 1 4 1 6 1-18 1-2 1-7 1 1 1-5 1-7 1-1 1 0 1-8 1 6 1 2 1 1 1-2 1 1 1 11 1 1 1-13 1-2 1 5 1 0 1 0 1 11 1-21 1-2 1 5 1 4 1 6 1-6 1 11 1-8 1-4 1 4 1-1 1-1 1-5 1-5 1-4 1 9 1-9 1 11 1-17 1-17 1-8 1 27 1-2 1 5 1-41 1 32 1-28 1 28 1-6 1 12 1-21 1 12 1-21 1 7 1 0 1 26 1-23 1-12 1 0 1-3 1 27 1-19 1-6 1 2 1 26 1-25 1 11 1-28 1-7 1 18 1-6 1-16 1 19 1-19 1 17 1 6 1-29 1-11 1-13 1 24 1-20 1 7 1-16 1 32 1 0 1 12 1-9 1 1 1-25 1 2 1-8 1 3 1 9 1-1 1-5 1 11 1 5 1-41 1 54 1 0 1-64 1-6 1-5 1-9 1 32 1-19 1-4 1 14 1-6 1-16 1-22 1 14 1-1 1-19 1 22 1-26 1-7 1 22 1-16 1-26 1 10 1 9 1 2 1 28 1-6 1 20 1-24 1 31 1-7 1-31 1 20 1-15 1 24 1-27 1 9 1-6 1-5 1 12 1-32 1-4 1 2 1 10 1-7 1-16 1 34 1 12 1-36 1 21 1-2 1-28 1 46 1 5 1 3 1 30 1-18 1 29 1 23 1-42 1-43 1-27 1-11 1-60 1 27 1-4 1-49 1 23 1-27 1-13 1-21 1 24 1-5 1-23 1 26 1 21 1-45 1-1 1 35 1 9 1-46 1 16 1 2 1 23 1-37 1-1 1 2 1 28 1-25 1 6 1-4 1 0 1 26 1-45 1 20 1-7 1-8 1 49 1 0 1-19 1-11 1 12 1-19 1-1 1-4 1 10 1 11 1 10 1-29 1-2 1-29 1 22 1-4 1-27 1-14 1-15 1-2 1 31 1-12 1 13 1 2 1-7 1-7 1-17 1 13 1-11 1-27 1 33 1 25 1-31 1 8 1 19 1 4 1-35 1-14 1 15 1-31 1-7 1 16 1-7 1 21 1-37 1 34 1 26 1 0 1-5 1-2 1-21 1 10 1-9 1-18 1 30 1-8" stroke="#0000ff"/>
<path d="M0.00 2962l1-54 1-64 1-58 1-176 1-643 1 0 1 0 1 0 1 0 1 0 1 0 1 0 1 15 1 167 1 140 1 135 1 83 1 62 1 34 1-32 1 25 1 13 1 20 1 14 1 19 1 6 1 7 1 5 1 2 1-4 1 9 1 3 1-4 1-2 1-1 1-15 1 9 1 11 1 5 1-12 1 13 1 12 1-7 1 7 1-3 1 4 1-4 1 7 1 2 1 3 1 2 1-4 1-9 1 1 1 8 1-6 1-10 1 12 1-1 1 0 1-8 1 7 1 7 1-14 1 9 1 0 1 5 1 2 1 1 1 8 1 2 1-4 1-8 1 1 1 6 1 1 1-12 1 5 1 0 1 2 1 0 1 7 1 2 1-4 1 2 1-3 1 7 1-11 1 2 1 1 1 4 1-24 1 5 1-6 1-4 1 8 1-7 1 0 1-4 1-5 1-3 1-7 1-13 1 1 1 10 1-8 1 2 1-7 1 2 1-10 1 2 1 6 1-6 1-2 1-3 1-10 1-7 1 14 1 1 1-16 1 1 1 4 1-4 1 0 1-3 1-9 1 4 1-14 1-3 1 14 1-2 1-10 1 4 1-10 1 11 1-4 1 4 1-4 1-1 1 9 1-16 1 2 1-9 1-2 1-1 1 1 1 5 1-1 1 9 1-6 1-20 1 6 1-14 1 3 1-6 1 10 1 3 1-7 1 4 1 9 1-15 1 3 1-8 1-10 1 2 1 0 1-2 1-12 1 5 1-7 1 0 1 6 1-1 1-14 1 7 1-6 1 7 1 0 1-7 1 1 1-2 1 10 1-2 1 3 1-7 1 12 1-14 1 19 1-15 1-19 1 16 1 2 1-8 1 20 1-22 1 9 1 8 1-16 1 16 1-8 1-4 1-9 1-16 1 9 1 6 1 11 1 2 1-4 1-5 1-1 1-23 1 15 1 2 1 7 1-1 1-4 1 13 1-38 1-5 1-1 1-22 1 36 1 0 1 5 1-3 1 10 1 3 1 8 1-5 1-45 1 0 1 1 1-18 1 3 1 6 1-4 1 4 1-9 1 18 1-20 1-4 1 4 1 13 1-14 1 19 1-18 1 2 1-1 1-5 1 4 1 31 1-23 1-18 1-18 1 5 1 4 1 1 1-31 1-4 1 17 1-19 1 6 1 30 1-4 1-15 1-15 1 23 1-35 1 25 1-3 1 7 1-27 1 22 1 9 1-23 1-2 1 13 1-22 1-13 1-45 1-28 1 39 1 3 1-13 1-33 1 33 1-22 1 33 1-22 1 26 1 21 1-16 1 17 1-26 1-20 1 16 1-19 1-1 1 22 1-3 1-23 1-4 1 22 1 11 1-8 1 30 1-30 1-24 1-11 1 24 1-45 1-20 1 17 1-24 1-13 1 10 1-23 1-5 1-45 1-15 1-2 1-20 1 49 1-14 1-16 1-43 1 68 1 14 1-34 1-5 1 9 1-14 1 10 1 2 1 25 1 10 1 29 1-39 1 22 1-12 1 23 1-1 1 32 1-29 1-28 1 23 1 9 1 16 1 4 1 18 1 4 1-55 1 36 1-51 1-2 1-6 1 2 1 41 1 4 1 22 1 20 1-1 1-9 1-21 1 12 1-31 1 15 1 8 1-15 1-17 1 19 1 18 1-12 1 39 1-21 1 10 1 13 1 1 1-9 1-11 1-4 1 21 1-20 1-7 1 7 1 1 1 4 1-8 1-32 1 4 1-25 1 12 1 22 1-21 1 7 1-14 1-44 1 31 1-14 1 23 1-9 1-4 1-29 1 31 1 50 1-32 1-64 1-26 1 8 1 24 1 14 1 25 1-8 1-19 1-8 1-16" stroke="#ff00ff"/>
<path d="M0.00 2939l1-67 1-50 1-65 1-364 1-426 1 0 1 0 1 0 1 0 1 0 1 0 1 0 1 62 1 167 1 133 1 135 1 72 1 59 1 35 1 21 1 12 1 14 1 19 1 4 1 13 1-3 1 20 1-7 1 13 1 8 1-7 1 18 1 5 1 3 1-11 1 7 1-6 1-6 1 3 1-2 1-2 1 10 1-6 1 2 1 5 1 1 1 7 1 5 1 2 1-1 1 0 1-1 1-3 1 3 1-4 1 8 1-3 1 4 1-5 1 2 1 6 1-2 1-4 1 4 1 3 1-3 1 9 1-7 1-2 1 0 1 9 1 0 1-3 1 1 1-2 1 15 1-13 1 6 1-1 1-7 1 10 1-7 1 0 1 8 1-3 1-12 1 10 1-1 1 6 1-2 1-5 1-7 1 0 1-10 1 7 1 2 1-5 1 10 1-9 1-4 1-10 1-6 1 8 1-1 1-1 1-11 1 5 1-11 1-7 1-6 1-8 1 6 1 9 1-4 1 0 1-3 1 8 1 2 1-6 1 0 1 3 1-1 1-9 1 1 1-5 1-7 1-2 1-4 1-10 1-6 1-5 1 1 1-10 1 2 1-4 1 0 1 1 1-9 1 11 1-8 1 1 1 6 1 1 1-12 1-12 1 1 1 2 1 2 1-6 1-4 1 4 1-6 1 9 1-11 1-9 1-1 1-7 1 1 1 9 1 11 1-13 1-11 1 1 1-9 1-4 1-1 1-2 1-8 1 12 1-2 1 2 1-14 1-5 1 3 1-1 1-9 1 1 1-5 1 4 1 4 1 1 1-8 1 1 1-2 1 16 1 4 1-2 1-12 1 11 1 5 1-11 1 8 1-10 1 2 1 8 1-16 1 11 1-13 1-4 1 8 1-3 1-17 1-6 1 11 1 4 1 9 1-6 1 18 1-20 1 5 1 4 1-19 1 24 1-12 1-7 1 2 1-1 1-17 1-3 1-2 1 13 1 9 1-24 1-19 1-8 1 5 1-16 1 43 1-20 1-28 1 14 1 8 1 0 1-1 1-5 1-30 1 22 1 22 1-34 1 26 1-26 1-12 1 1 1 20 1-20 1 14 1-24 1 23 1 2 1 0 1-21 1 12 1-8 1 9 1-11 1 4 1-4 1 11 1-21 1-5 1 4 1-16 1-10 1-10 1 3 1-10 1 13 1-21 1 23 1-7 1-5 1 9 1-6 1 5 1 11 1-19 1-36 1 8 1-12 1 12 1 15 1-30 1-8 1 27 1 20 1-8 1-4 1-16 1-11 1 10 1-20 1 21 1-29 1 13 1 30 1 4 1 7 1 20 1-14 1 8 1-33 1 16 1 17 1 23 1-26 1-1 1-6 1-24 1 26 1 9 1-13 1-4 1 19 1-19 1 31 1-17 1 16 1-8 1 21 1 2 1 6 1-18 1-30 1-26 1-2 1-14 1-64 1-14 1 11 1-5 1 6 1-56 1 2 1-2 1-25 1 52 1-46 1 20 1 5 1-34 1-4 1 16 1-9 1-13 1 12 1 30 1-35 1-4 1 26 1 14 1-13 1-20 1 8 1-17 1 38 1-10 1-12 1 22 1-13 1 6 1-13 1-18 1-17 1 24 1-2 1 11 1 8 1-6 1 1 1-28 1 19 1 10 1-6 1-14 1-7 1 28 1-44 1-2 1 7 1-23 1 19 1 2 1-4 1-21 1 9 1-40 1 32 1 20 1 7 1-18 1-34 1 3 1-11 1 40 1-19 1-37 1 16 1 35 1 1 1-8 1 8 1 16 1-14 1 2 1-9 1-9 1 6 1 2 1-17 1 43 1-3 1-16 1 23 1 5 1-47 1 0" stroke="#0000ff"/>
<path d="M0.00 2991l1-81 1-87 1-278 1-578 1 0 1 0 1 0 1 0 1 158 1 149 1 125 1 123 1 54 1 72 1-47 1 20 1 12 1 24 1 5 1 15 1 0 1-5 1 8 1 4 1-6 1 5 1 3 1 14 1 11 1-2 1 5 1-5 1 9 1-5 1 7 1 4 1 2 1 0 1-1 1 5 1-10 1 4 1 3 1 0 1 1 1-3 1 1 1 3 1-2 1 13 1-6 1 11 1 0 1-12 1 8 1-5 1 8 1 3 1 2 1 2 1 0 1-3 1 1 1 4 1-8 1 4 1-3 1 16 1-7 1 4 1 2 1-9 1 3 1 0 1-8 1 4 1 3 1 3 1 0 1 1 1-8 1-1 1 7 1 0 1-8 1 1 1 1 1 8 1-11 1-1 1-2 1-7 1 2 1-5 1-3 1-6 1-6 1 5 1-8 1 6 1-6 1 9 1-4 1 6 1-18 1 4 1-12 1 13 1-3 1-4 1 1 1 0 1-9 1-8 1-6 1 5 1-3 1-5 1-1 1-5 1-1 1 1 1-7 1-11 1-2 1 2 1 0 1-6 1-3 1-7 1 12 1 3 1-9 1 5 1 6 1-9 1-6 1 7 1 0 1-6 1 4 1-4 1-5 1-2 1 0 1-11 1 9 1-11 1 6 1-4 1-2 1-4 1-3 1-4 1 0 1 10 1-5 1 1 1-1 1-1 1-8 1-4 1-5 1 14 1-9 1-11 1-1 1-2 1-2 1-4 1-1 1-8 1 1 1 1 1-5 1 1 1-2 1-3 1-12 1 18 1 5 1 5 1-6 1-1 1-8 1 2 1-7 1 6 1 5 1 4 1-10 1-3 1 0 1-22 1 12 1-1 1-9 1 11 1-4 1-10 1 2 1-20 1 6 1 2 1 8 1 2 1 1 1-9 1 14 1 13 1-18 1-42 1 7 1 22 1-12 1 2 1-1 1 1 1 33 1-31 1 22 1 1 1-11 1-21 1 7 1-2 1-18 1 20 1-20 1 30 1-2 1 0 1 17 1 30 1-43 1 9 1-13 1-10 1-2 1 31 1-39 1 4 1-2 1 8 1 3 1-3 1-30 1-4 1-4 1-17 1 44 1-20 1-21 1 16 1-11 1 0 1-6 1 9 1-30 1 10 1 5 1-21 1 45 1-10 1 3 1-11 1-56 1 8 1 17 1 3 1-40 1 5 1-1 1-1 1-11 1 31 1-20 1 8 1-38 1 1 1 19 1-9 1 2 1 9 1-43 1 12 1-19 1 43 1-26 1-10 1 25 1 36 1-22 1 3 1-8 1 9 1 6 1-44 1 17 1-10 1 5 1 21 1-3 1 28 1-10 1-7 1-11 1 11 1-64 1-14 1-1 1 37 1-27 1 12 1-25 1-18 1-12 1 4 1 0 1-40 1 0 1-30 1-15 1 1 1-28 1 14 1-29 1 17 1 0 1 21 1-19 1 0 1 33 1-19 1 16 1 16 1-10 1 20 1 12 1 19 1 26 1 1 1-24 1 8 1 0 1 3 1 14 1-19 1-24 1 27 1-10 1-25 1 42 1-19 1 9 1-11 1 7 1 21 1-28 1 67 1-23 1-13 1 13 1-31 1-24 1 4 1 2 1-2 1 34 1 0 1 11 1 1 1 21 1 0 1-5 1-2 1 42 1-42 1 4 1-24 1 3 1-39 1 1 1-9 1 17 1-7 1-19 1 11 1 4 1 20 1-20 1-21 1 9 1 1 1 7 1 14 1-17 1-21 1 12 1 31 1-17 1 3 1-6 1-28 1-14 1 29 1 15 1 25 1-18 1-27 1 27 1-42 1-10 1 11 1 3 1-8" stroke="#ff00ff"/>
<path d="M33.33 2759l1-7 1-7 1 0 1 3 1 5 1 7 1 11 1 1 1 6 1-4 1-2 1-1 1 1 1-4 1 4 1 1 1-1 1 5 1-6 1 5 1-3 1 2 1-5 1 2 1 8 1-1 1 4 1-7 1 5 1-6 1 5 1-2 1-2 1-1 1-5 1-7 1 7 1 2 1 6 1-10 1 6 1-6 1 7 1 5 1 4 1-2 1-5 1-9 1 5 1 2 1-6 1 4 1-6 1-2 1-3 1 8 1-5 1-4 1-6 1 0 1-1 1-6 1 3 1-3 1-7 1-2 1 0 1 7 1-9 1 1 1 2 1-11 1 10 1 0 1 2 1-2 1-7 1-4 1 0 1 5 1-5 1 2 1 0 1 3 1-5 1-4 1 1 1-11 1-3 1-8 1 6 1-4 1 3 1 7 1-1 1-11 1 2 1-15 1-3 1-1 1 2 1-6 1-7 1-2 1-6 1 6 1-3 1-7 1 4 1-1 1-11 1 6 1-3 1-4 1-6 1-12 1 10 1-6 1 3 1 3 1-2 1-3 1-6 1 4 1-5 1 9 1-2 1-4 1 7 1-6 1-1 1-16 1 0 1-5 1-9 1 9 1-10 1 1 1 9 1 1 1 0 1-2 1 1 1 1 1 3 1-4 1-1 1-2 1-1 1 1 1-2 1-7 1 0 1-1 1 3 1 7 1 0 1-15 1-1 1 5 1-7 1 0 1 7 1-8 1 2 1-7 1-4 1 5 1-1 1-7 1 2 1 8 1-12 1-5 1 4 1-10 1-2 1-4 1 1 1 0 1-3 1 0 1-39 1 8 1 2 1 10 1-10 1-19 1 14 1-1 1-24 1-4 1 11 1-5 1-4 1 6 1 8 1-2 1-2 1 48 1-32 1-1 1-1 1 1 1 30 1-41 1-8 1-2 1-4 1-13 1 15 1-22 1-8 1 15 1 4 1-6 1-9 1-11 1 11 1 15 1 4 1-21 1-18 1 0 1 21 1-48 1 10 1 5 1 2 1-16 1 15 1-1 1 24 1 13 1-20 1 14 1-19 1-10 1-21 1 5 1 1 1-17 1 14 1-10 1 2 1-14 1 16 1-3 1-9 1-19 1-3 1-1 1 11 1-4 1 7 1 30 1-8 1-11 1 9 1 0 1-23 1-3 1-1 1 4 1-2 1-39 1 7 1 3 1-10 1 1 1-1 1-4 1-22 1 21 1-15 1 35 1 12 1-6 1 2 1 10 1 12 1 3 1 15 1-31 1 11 1-21 1 7 1-3 1 19 1-27 1-1 1 16 1-19 1 26 1-1 1-7 1 23 1-3 1-3 1-18 1 3 1-23 1-1 1 8 1 7 1 5 1 5 1-15 1-17 1 14 1-7 1-11 1 16 1 1 1 16 1-9 1 13 1 1 1 15 1-11 1-8 1 4 1-8 1 8 1-25 1 6 1-28 1 15 1 7 1-3 1-9 1 4 1-10 1 1 1 7 1 1 1 8 1-10 1-8 1 4 1-3 1-3 1 7 1 4 1-5 1-13 1 2 1 2 1 10 1-12 1-2 1 17 1-8 1 8 1-7 1-3 1-2 1-1 1-11 1-2 1 6 1-5 1-5 1-14 1 11 1 4 1 4 1 4 1-1 1 0 1 19 1-5 1 4 1 0 1-18 1 5 1 1 1-5 1-8 1-3 1 2 1-6 1-4M33.03 2759 L33.33 2835 33.63 2759M61.70 2781 L62.00 2864 62.30 2781M128.37 2714 L128.67 2785 128.97 2714M162.20 2644 L162.50 2724 162.80 2644M195.03 2595 L195.33 2659 195.63 2595M228.87 2506 L229.17 2634 229.47 2506M262.20 2446 L262.50 2597 262.80 2446M295.53 2395 L295.83 2639 296.13 2395M362.20 2369 L362.50 2538 362.80 2369M374.03 2351 L374.33 1967 374.63 2351M375.37 2348 L375.67 2468 375.97 2348M395.53 2333 L395.83 2422 396.13 2333" stroke="#000000"/>
<path d="M33.33 2754l1-3 1-1 1-1 1 6 1-4 1 0 1-6 1 2 1 0 1 4 1 3 1 2 1-3 1-11 1 5 1 7 1-1 1 2 1-2 1 9 1-3 1-5 1 2 1-2 1 5 1 3 1-2 1-13 1 5 1-7 1 4 1-2 1 7 1 4 1-1 1-6 1 3 1 3 1 1 1 1 1 5 1-7 1 2 1-2 1 0 1-5 1 0 1-4 1-9 1-1 1-3 1-3 1 1 1-3 1 4 1-6 1 5 1 6 1-9 1-7 1-3 1-5 1-3 1-7 1 5 1-11 1-2 1 7 1-13 1 3 1-6 1 3 1 8 1-6 1 5 1-1 1-1 1 4 1 7 1-6 1 1 1-7 1 9 1-13 1 11 1 1 1 1 1-5 1-3 1 1 1-5 1-3 1-7 1 8 1-3 1 6 1 1 1 1 1-1 1-3 1-7 1 5 1-5 1-1 1-16 1 4 1-2 1-11 1 4 1-8 1 6 1 2 1 6 1-7 1-1 1-2 1-7 1-1 1 1 1 0 1-6 1-1 1 1 1-5 1-10 1 3 1 0 1-5 1-1 1-4 1-5 1-6 1 6 1 3 1-5 1 0 1 1 1-6 1 0 1 1 1 2 1 2 1-4 1-1 1-6 1 5 1-5 1 2 1-7 1 10 1-15 1-1 1-3 1 6 1 5 1-10 1-11 1 3 1-1 1 0 1 2 1-7 1 3 1 6 1 6 1-5 1-2 1 5 1-7 1-7 1 10 1-8 1-5 1-4 1 7 1 8 1-5 1-10 1-11 1 12 1-1 1 6 1-6 1-11 1-5 1-8 1-6 1-3 1 2 1-12 1 0 1 10 1 11 1-11 1-7 1 14 1-19 1-19 1 4 1 5 1 14 1-20 1 25 1-45 1-2 1 33 1 7 1-15 1-32 1-9 1-3 1-2 1 14 1-9 1 3 1 4 1-29 1 19 1-38 1 1 1 8 1 6 1 3 1-7 1 12 1-29 1 0 1-9 1 23 1 2 1-11 1 10 1 11 1-47 1 16 1-8 1 10 1 10 1-48 1 20 1 11 1-16 1-6 1-7 1 18 1 2 1-1 1 10 1 3 1-30 1 15 1 29 1-2 1-7 1 19 1 1 1-2 1-16 1 13 1-30 1-8 1-3 1 4 1 18 1-14 1-6 1 10 1 18 1-9 1-1 1-6 1-29 1-12 1 25 1-26 1 5 1 6 1 10 1 11 1 0 1-4 1-24 1 2 1 3 1 13 1-1 1-38 1 19 1-11 1 22 1-5 1 7 1-11 1-14 1 4 1 4 1-13 1 19 1-39 1 32 1 5 1 4 1-8 1 3 1-17 1 8 1 16 1-3 1 10 1-1 1 19 1-2 1-6 1-10 1 21 1-4 1-16 1-8 1-5 1-5 1 8 1-4 1 2 1 2 1 19 1 6 1-8 1 3 1 0 1-9 1 1 1-5 1 11 1 1 1-3 1 0 1-8 1-8 1 7 1 4 1 2 1 5 1-18 1-13 1 14 1-17 1 7 1 4 1-10 1-7 1-14 1 7 1-8 1 11 1 5 1 5 1 5 1-3 1 5 1 2 1 0 1 0 1-2 1 7 1-12 1-6 1 4 1-9 1 4 1 20 1 1 1-15 1-5 1 5 1-8 1-8 1 11 1 4 1 7 1 4 1-5 1 11 1-8" stroke="#000000"/>
</g></g>
<rect x="214.0" y="548.7" width="427.2" height="189.5" fill="none" stroke="#7a7a7a" stroke-width="1"/>
<path d="M299.4,548.7v4.3M299.4,738.2v-4.3M384.9,548.7v4.3M384.9,738.2v-4.3M470.4,548.7v4.3M470.4,738.2v-4.3M555.8,548.7v4.3M555.8,738.2v-4.3M214.0,643.5h4.3M641.2,643.5h-4.3" stroke="#7a7a7a" stroke-width="1" fill="none"/>
<text transform="translate(219.9,746.2) rotate(-90)" font-size="16.3" text-anchor="end" font-family="Liberation Sans, sans-serif" fill="#262626" >0</text>
<text transform="translate(305.3,746.2) rotate(-90)" font-size="16.3" text-anchor="end" font-family="Liberation Sans, sans-serif" fill="#262626" >5</text>
<text transform="translate(390.8,746.2) rotate(-90)" font-size="16.3" text-anchor="end" font-family="Liberation Sans, sans-serif" fill="#262626" >10</text>
<text transform="translate(476.2,746.2) rotate(-90)" font-size="16.3" text-anchor="end" font-family="Liberation Sans, sans-serif" fill="#262626" >15</text>
<text transform="translate(561.7,746.2) rotate(-90)" font-size="16.3" text-anchor="end" font-family="Liberation Sans, sans-serif" fill="#262626" >20</text>
<text transform="translate(647.1,746.2) rotate(-90)" font-size="16.3" text-anchor="end" font-family="Liberation Sans, sans-serif" fill="#262626" >25</text>
<text transform="translate(662.9,739.0) rotate(-90)" font-size="16.3" text-anchor="middle" font-family="Liberation Sans, sans-serif" fill="#262626" >0</text>
<text transform="translate(662.9,645.7) rotate(-90)" font-size="16.3" text-anchor="middle" font-family="Liberation Sans, sans-serif" fill="#262626" >500</text>
<text transform="translate(662.9,550.9) rotate(-90)" font-size="16.3" text-anchor="middle" font-family="Liberation Sans, sans-serif" fill="#262626" >1000</text>
<rect x="838.3" y="18.6" width="253.2" height="145.9" fill="#cbcbcb"/>
<path d="M838.3,18.6V164.5M1091.5,18.6V164.5" stroke="#5e5e5e" stroke-width="1" fill="none"/>
<path d="M930.8,18.6V164.5" stroke="#999" stroke-width="0.8" stroke-dasharray="0.9,2.3" fill="none"/>
<clipPath id="c_b1"><rect x="753.9" y="18.6" width="422.0" height="145.9"/></clipPath>
<g clip-path="url(#c_b1)"><g transform="translate(753.90 0) scale(1.01280 0.25)" fill="none" stroke-width="1.60" stroke-linejoin="round" vector-effect="non-scaling-stroke" class="ns">
<path d="M43.33 526l1-627 1 0 1 0 1 0 1 0 1 0 1 0 1 0 1 0 1 0 1 0 1 0 1 0 1 0 1 0 1 0 1 40 1 43 1 46 1 43 1 62 1 100 1-34 1 57 1 25 1 50 1 48 1-24 1 34 1 50 1 2 1 35 1 7 1 33 1-15 1 32 1-7 1 10 1 3 1-54 1 29 1 81 1 39 1-56 1-14 1-34 1-3 1 81 1 0 1-29 1 16 1-21 1-25 1 25 1 48 1-10 1 18 1-36 1-27 1 17 1-11 1-18 1-2 1 49 1 5 1-11 1-2 1-15 1-31 1-3 1 70 1-30 1-13 1-48 1 17 1 2 1 34 1-24 1 3 1 7 1-31 1 55 1-46 1 40 1-16 1 33 1-15 1-37 1 27 1 3 1-16 1-11 1 15 1 49 1-18 1-9 1 13 1-11 1-30 1 11 1-31 1-24 1 53 1-8 1 9 1-17 1 16 1-25 1-12 1 52 1-26 1 9 1 2 1-48 1-1 1 60 1 26 1-50 1 10 1 22 1-11 1-17 1-21 1 15 1-20 1 5 1 4 1 10 1-44 1-1 1 31 1 48 1-3 1 4 1-38 1 40 1 4 1-21 1-4 1-33 1 21 1-6 1 20 1-68 1-5 1 56 1-2 1-34 1 13 1 15 1 28 1-7 1-14 1-22 1 33 1-64 1-16 1 37 1-20 1 6 1 18 1 9 1 28 1 40 1-4 1-29 1-6 1 12 1 38 1-48 1-41 1 35 1-43 1 34 1-19 1 28 1 15 1 33 1-1 1-21 1-17 1 2 1-30 1-47 1 26 1 78 1-17 1-19 1 30 1-11 1 3 1-35 1-10 1 1 1 4 1 2 1-18 1-37 1 86 1 16 1-27 1 37 1 9 1-54 1-14 1-18 1 65 1 1 1-45 1-20 1 27 1 24 1-15 1 0 1-17 1 13 1 45 1-58 1 8 1-2 1 40 1-2 1 56 1-35 1-30 1-38 1 53 1-18 1 14 1-19 1-21 1 88 1 7 1-55 1 36 1-64 1-34 1 65 1-80 1 16 1 5 1 39 1-1 1-19 1 22 1 42 1-6 1-48 1-8 1 86 1-51 1 46 1-24 1 9 1 7 1 8 1-40 1-43 1 47 1-56 1 25 1-48 1 68 1 5 1 49 1-54 1-27 1 40 1-44 1 50 1 67 1-56 1-32 1-12 1 54 1-23 1 10 1-6 1 0 1-11 1 26 1-46 1-62 1 49 1-25 1 52 1-1 1-31 1-25 1 58M68.03 281 L68.33 755 68.63 281M93.03 579 L93.33 755 93.63 579M118.03 541 L118.33 755 118.63 541M143.03 569 L143.33 755 143.63 569M168.03 532 L168.33 755 168.63 532M193.03 544 L193.33 755 193.63 544M218.03 529 L218.33 755 218.63 529M243.03 590 L243.33 755 243.63 590M268.03 578 L268.33 755 268.63 578M289.70 610 L290.00 755 290.30 610M318.03 628 L318.33 755 318.63 628M245.03 600 L245.33 -101 245.63 600" stroke="#ff0000"/>
<path d="M43.33 506l1-607 1 0 1 0 1 0 1 0 1 0 1 0 1 0 1 0 1 0 1 0 1 0 1 0 1 0 1 0 1 0 1 6 1 76 1 63 1 41 1 57 1 84 1 20 1 46 1 5 1 43 1-27 1 52 1 33 1 55 1-15 1 29 1 47 1 9 1 4 1-12 1 26 1-5 1 16 1-16 1-4 1 11 1-59 1 57 1 57 1-18 1-12 1-50 1 25 1 6 1 31 1-2 1-68 1 73 1-9 1-46 1 31 1-13 1-15 1 35 1 1 1-24 1 19 1 1 1-52 1-9 1 8 1 28 1-14 1-5 1-21 1 39 1 18 1-34 1 1 1 62 1-4 1-32 1-5 1-11 1 14 1 8 1 6 1 31 1-24 1-50 1 24 1-33 1 24 1 59 1-69 1 45 1 44 1-12 1 10 1-23 1 0 1-23 1-42 1 80 1 11 1-23 1-47 1-13 1-15 1 57 1 10 1-43 1-31 1-6 1-6 1 15 1-24 1 62 1-53 1 33 1-1 1-10 1 35 1-51 1 21 1-19 1-27 1 20 1 38 1 3 1-22 1-18 1-5 1 2 1-45 1 18 1 21 1 16 1-36 1 66 1 17 1-29 1-5 1-3 1 26 1-28 1 0 1-8 1 44 1 23 1-19 1-31 1 36 1-7 1 27 1-57 1-16 1-7 1 30 1 14 1-44 1 11 1 17 1 18 1-3 1-45 1 55 1-46 1 17 1 43 1-21 1-26 1 79 1 9 1-58 1-14 1-50 1 10 1-57 1 48 1 29 1-31 1 34 1 14 1 11 1 53 1-62 1 8 1-16 1 7 1-21 1-4 1-1 1 27 1 52 1 23 1-59 1 50 1-64 1-34 1 30 1 60 1-53 1-18 1-4 1-10 1 20 1 14 1 18 1-58 1 81 1-43 1 10 1-14 1 15 1 31 1 30 1-5 1 11 1-36 1-74 1-39 1 60 1 27 1 21 1 26 1-74 1 14 1 39 1-14 1 36 1-39 1 2 1-9 1 26 1 53 1-4 1-54 1 4 1 52 1 3 1-12 1-17 1-31 1-48 1 28 1-21 1-14 1 2 1-6 1 41 1-33 1 32 1-26 1 25 1-19 1 39 1-57 1 10 1 38 1-9 1 18 1-25 1 44 1 18 1-113 1 44 1 16 1-45 1 52 1-33 1 6 1-14 1-1 1 68 1 5 1-53 1 41 1-14 1-46 1 54 1 47 1-13 1-52 1-29 1-29 1 3 1 46 1-14 1-55 1 25 1 58 1 8 1-3" stroke="#ff0000"/>
<path d="M43.33 532l1-633 1 0 1 0 1 0 1 0 1 0 1 0 1 0 1 0 1 0 1 0 1 0 1 0 1 0 1 0 1 0 1 0 1 83 1 93 1 58 1 27 1 73 1 67 1 0 1 29 1 18 1 7 1 49 1 35 1 42 1 14 1 29 1 1 1-1 1 34 1-4 1-59 1 6 1 10 1 48 1 71 1-54 1-4 1 13 1-18 1-27 1 51 1 20 1 48 1-35 1-16 1 6 1 16 1-32 1 24 1-52 1 28 1-3 1-27 1 25 1 19 1 4 1-33 1 0 1-25 1 30 1 46 1-14 1-3 1-9 1 51 1-53 1 1 1 15 1-28 1 15 1 25 1-49 1 3 1 23 1-20 1-40 1 32 1-7 1 2 1 36 1 3 1-23 1 34 1-5 1-29 1-55 1 16 1 1 1 45 1-14 1 26 1-6 1-7 1-15 1-36 1-9 1 3 1-20 1 25 1 27 1-31 1 54 1 1 1-14 1 10 1 1 1 12 1 20 1-41 1-8 1 2 1-12 1 4 1 15 1-48 1 70 1-25 1-52 1-47 1 24 1 22 1 9 1-3 1 15 1-2 1 31 1 11 1-8 1-33 1 6 1 5 1-41 1-2 1 0 1 27 1 29 1-26 1-1 1-3 1 55 1 15 1-54 1 15 1-24 1 27 1-60 1-5 1 27 1 38 1 28 1 0 1-12 1-3 1 8 1-29 1 22 1 12 1-51 1 34 1 40 1-16 1-30 1-1 1-3 1-40 1 1 1-26 1 12 1 7 1 55 1 22 1 2 1-11 1-3 1 19 1 11 1-57 1 56 1-28 1-24 1-21 1 61 1-22 1 4 1 47 1 3 1-19 1-8 1-23 1-11 1-47 1 9 1 23 1 8 1 24 1-16 1-51 1 15 1 10 1 43 1-49 1 14 1-13 1 60 1-42 1 52 1 25 1-22 1 41 1 24 1-12 1 7 1-68 1-2 1-12 1 30 1-28 1 20 1 22 1-23 1-23 1-18 1-9 1 31 1-6 1-37 1 48 1 29 1 10 1-17 1-15 1 3 1-18 1-35 1 13 1-1 1 113 1-45 1-31 1 34 1-84 1 26 1 33 1-35 1 40 1-21 1-39 1 55 1-40 1 0 1 29 1 56 1-58 1-12 1 24 1-2 1 13 1-3 1-6 1-65 1-36 1 19 1 9 1 34 1-39 1 1 1 0 1 29 1 8 1-26 1 56 1-20 1 30 1 24 1 43 1-73 1 3 1-12 1-16 1 11 1-13 1-68 1 46 1-21" stroke="#ff0000"/>
<path d="M38.33 -101l1 0 1 0 1 0 1 0 1 0 1 1 1-1 1 0 1 89 1 44 1-9 1 39 1 60 1-25 1 55 1 23 1 28 1 40 1 16 1-10 1 46 1 71 1-3 1 9 1 33 1 4 1 43 1 23 1 16 1 61 1 14 1-41 1 34 1 20 1 7 1 24 1-22 1 46 1-28 1 6 1 14 1 38 1-15 1 0 1-9 1-13 1-45 1 43 1-39 1-8 1 8 1 22 1-2 1 22 1 26 1-24 1-47 1 17 1 9 1 1 1 6 1-16 1-35 1-1 1 5 1-5 1 23 1-24 1 19 1-28 1-18 1 17 1 31 1-33 1 59 1-25 1 7 1 7 1 56 1-45 1-9 1-6 1-26 1-12 1 39 1-36 1-4 1-36 1 24 1 15 1 29 1-10 1-75 1 55 1 9 1-15 1 22 1-39 1 18 1-23 1 45 1-4 1-13 1-32 1-8 1 51 1-58 1 37 1 27 1-30 1-18 1-9 1 65 1-22 1 22 1-18 1-40 1 31 1-40 1-39 1 6 1 40 1-7 1 30 1-58 1 0 1 11 1-56 1 31 1 18 1 33 1 25 1-29 1-8 1-8 1 56 1 21 1-57 1-10 1 22 1-43 1 11 1-41 1 42 1-14 1 7 1-5 1-32 1 25 1 49 1-4 1-20 1-23 1 19 1 44 1-35 1-8 1 34 1-59 1-23 1-17 1 78 1-20 1 8 1 8 1-35 1-7 1 6 1 15 1 73 1-48 1 7 1-28 1 28 1 6 1-21 1 56 1-35 1 13 1-22 1-21 1 39 1 20 1-47 1 44 1-34 1-14 1-5 1-8 1 39 1-71 1 31 1 71 1-55 1 27 1 4 1-62 1 58 1 1 1-43 1 4 1-11 1-10 1-8 1-33 1 83 1 21 1 23 1-8 1-58 1-5 1 27 1 17 1-22 1 7 1-66 1 24 1 52 1-28 1 16 1 12 1-34 1-12 1-3 1 92 1-11 1 8 1-49 1 34 1 13 1-32 1 49 1 0 1 5 1-41 1-10 1-19 1 22 1-13 1 9 1 9 1 23 1-5 1-6 1-42 1 27 1-55 1 116 1-84 1 9 1 19 1-14 1 7 1-17 1-23 1-12 1 7 1 60 1-31 1-26 1-23 1 28 1 71 1-41 1 1 1 40 1-30 1 22 1-54 1-13 1 27 1 9 1-9 1 43 1-25 1 37 1 18 1-19 1-111 1-14 1 24 1 7 1 5 1-15 1 23 1 21 1-69 1 10 1-13 1 105 1-59 1-60 1-34 1 49 1 17 1-54 1 57 1-43 1 13 1 2 1 52 1-45 1 18 1 56 1-12 1-61 1-27 1 19 1 31 1 53 1-78 1 11 1 63 1-37 1 29 1 12 1-71 1 13 1 32 1-17 1-5 1-2 1 21 1 16 1 19 1-7 1-45 1-9 1-40 1-8 1 23 1 69 1-21 1 3 1-3 1 26 1 2 1 60 1 0 1-52 1-15 1-1 1-13 1-5 1 58 1-20 1 6 1-39 1 30 1 52 1-50 1-8 1 20 1-10 1-25 1 17 1 19 1 22 1 12 1-46 1-24 1 62 1 3 1-80 1-11 1 43 1-14 1-6 1 23 1-29 1 15 1 9 1-2 1 38 1-10 1 31 1-15 1 3M221.37 564 L221.67 -101 221.97 564M226.37 508 L226.67 -101 226.97 508M239.70 493 L240.00 191 240.30 493M263.03 580 L263.33 152 263.63 580" stroke="#00ffff"/>
<path d="M38.33 -101l1 0 1 0 1 0 1 0 1 0 1 0 1 4 1 45 1 38 1-6 1-2 1 23 1 39 1 97 1 5 1 3 1 57 1 62 1 15 1 42 1-8 1 41 1-12 1 46 1 17 1 13 1 2 1 8 1-2 1 53 1-10 1 12 1-12 1 46 1 34 1-25 1 24 1-35 1 66 1 5 1 17 1-7 1-15 1 11 1-4 1 23 1 15 1-25 1 5 1 2 1-10 1 5 1 27 1-33 1-31 1 24 1 8 1-9 1-29 1 20 1 0 1-13 1 46 1-35 1 14 1-21 1-17 1 39 1-53 1 50 1-43 1 36 1 29 1-8 1-16 1-72 1 48 1-21 1-6 1-3 1 1 1 18 1-3 1 32 1-2 1-6 1-3 1 33 1-53 1 23 1 11 1-17 1-26 1-22 1 34 1 0 1 3 1 3 1-31 1 29 1 4 1-40 1-44 1 71 1 10 1-37 1 17 1 23 1-48 1 32 1-50 1-35 1 37 1-8 1 27 1 22 1-47 1 41 1-23 1 21 1 11 1-37 1 31 1-50 1 9 1-10 1-7 1-3 1 26 1 18 1 33 1-21 1 6 1-7 1-28 1 29 1-36 1-5 1-1 1 3 1 6 1-36 1 16 1 15 1 50 1 1 1-109 1 20 1-19 1 10 1 43 1 31 1-12 1-54 1 77 1 16 1-10 1-52 1-5 1 8 1-23 1 1 1 13 1 35 1-47 1 46 1-6 1 33 1-28 1 14 1 63 1-47 1 12 1 27 1-34 1-18 1-42 1 49 1-29 1-21 1 5 1-6 1 9 1 14 1 7 1-2 1 11 1-44 1-29 1-6 1 84 1-44 1-24 1 52 1-20 1-5 1-4 1 9 1 48 1-76 1 42 1 21 1 10 1 35 1-11 1-55 1-32 1 31 1-7 1 28 1 3 1-78 1 20 1 32 1 72 1-8 1-63 1 69 1 6 1-26 1-19 1-20 1-6 1-14 1 21 1 24 1 1 1-2 1 5 1 20 1-7 1-22 1-77 1 62 1 23 1 2 1-14 1 47 1-60 1-20 1 26 1-21 1-28 1 35 1 20 1-10 1-51 1 12 1 19 1-46 1 23 1 56 1-46 1 32 1 1 1 8 1 17 1 4 1 7 1-16 1 13 1 48 1-68 1 90 1-27 1-66 1 54 1-10 1-120 1 52 1 8 1 44 1-85 1-73 1 56 1 68 1-94 1 0 1 73 1 2 1-29 1-2 1-32 1-20 1 0 1 35 1 7 1-22 1 62 1 35 1-78 1 31 1-87 1 58 1-3 1-1 1 36 1-11 1 32 1-74 1-62 1 22 1 36 1 11 1-29 1-52 1 1 1 71 1-27 1 64 1 41 1-12 1-30 1-18 1 35 1-6 1-22 1 34 1 15 1-16 1-51 1 48 1-31 1-32 1 12 1-29 1 77 1 20 1 21 1 6 1-47 1 51 1 7 1-80 1 77 1-21 1-27 1-26 1 19 1 17 1-27 1 33 1-30 1 7 1-8 1-39 1 60 1-49 1 27 1 12 1-2 1 38 1-31 1-2 1 18 1 11 1-7 1 4 1-35 1-6 1 50 1-39 1 2 1 32 1-13 1 10 1 18 1 5 1-36 1 16 1 29 1 7 1-39 1 22 1-6 1 16 1-3 1-2" stroke="#00ffff"/>
<path d="M43.33 -101l1 0 1 0 1 0 1 0 1 11 1 50 1 13 1 64 1 13 1 46 1 32 1 89 1-22 1 31 1 50 1 28 1 2 1 21 1 85 1-31 1 52 1 28 1 37 1 3 1-9 1 9 1 21 1 45 1 39 1 1 1 5 1-17 1 53 1-46 1-54 1 34 1 66 1-45 1 43 1-11 1 22 1-21 1-2 1 31 1 5 1-41 1-35 1-29 1-10 1-5 1 49 1-25 1-20 1 85 1-52 1-14 1-22 1-29 1 61 1-62 1-4 1 47 1 40 1 64 1-53 1 3 1 9 1-93 1 12 1 16 1-7 1 31 1-9 1-3 1-19 1-27 1 73 1-8 1 2 1-14 1-26 1-12 1 9 1 71 1 16 1-72 1-13 1-16 1 39 1 44 1-8 1 27 1-30 1-38 1 20 1-36 1-18 1 12 1 16 1 7 1 43 1-27 1-59 1 6 1-12 1-43 1 15 1 27 1 62 1-81 1-40 1 64 1-36 1-22 1 10 1-27 1 28 1 42 1-36 1 18 1 20 1 27 1 27 1-22 1 6 1-17 1-69 1-58 1 26 1 42 1-8 1 3 1-3 1-4 1-30 1-8 1-20 1-29 1 94 1 20 1-40 1 68 1 0 1-74 1-33 1 108 1 3 1-6 1-37 1-36 1 109 1-5 1-21 1-87 1 0 1 11 1-6 1 62 1-59 1 29 1-13 1 18 1 58 1-8 1-60 1 15 1 7 1-17 1-8 1 14 1 1 1 26 1 10 1-17 1 38 1-31 1 17 1-46 1 28 1-43 1 21 1-18 1-70 1 30 1-46 1 13 1 21 1-14 1 29 1 32 1 1 1-18 1 50 1 49 1-57 1-78 1 93 1 9 1 20 1-80 1 32 1 34 1-72 1 54 1-41 1 15 1-32 1 28 1 23 1-20 1 1 1-41 1 61 1 0 1 19 1-7 1-50 1 57 1 11 1-2 1-100 1 22 1 55 1 45 1-66 1-52 1 24 1 98 1-118 1 92 1-50 1 106 1-74 1 6 1-36 1 3 1 2 1 41 1-34 1-10 1 3 1 8 1-56 1-41 1 63 1-34 1 16 1 38 1-70 1 91 1-9 1 41 1-12 1-28 1 23 1 71 1-27 1-62 1-40 1 13 1-25 1 59 1-88 1 22 1-10 1 17 1 2 1 37 1-67 1-24 1-11 1-11 1-19 1 6 1-102 1 8 1 49 1-44 1 42 1 0 1 15 1-13 1-20 1 15 1 12 1 53 1-26 1-78 1 14 1 0 1 36 1-25 1-11 1 63 1-7 1-57 1 77 1-8 1 56 1-27 1 2 1-17 1-51 1 11 1-3 1 57 1-36 1-36 1 106 1 36 1-57 1-19 1 2 1-9 1 8 1 59 1-34 1 22 1 32 1 65 1-38 1-53 1 42 1-44 1 35 1 47 1-50 1-39 1 70 1 27 1 62 1-42 1-71 1 11 1-54 1 81 1-23 1-6 1 20 1-60 1 44 1-44 1 65 1-14 1 29 1-11 1-56 1 39 1 37 1 29 1-25 1-25 1 46 1-24 1 33 1 1 1-21 1-10 1 1 1 11 1-68 1 28 1 17 1-19 1 75 1-27 1-6 1 12 1 9 1-52 1-24 1 109 1-39M83.03 635 L83.33 -101 83.63 635M83.70 657 L84.00 833 84.30 657M124.70 543 L125.00 -101 125.30 543M208.03 483 L208.33 -101 208.63 483M208.70 498 L209.00 833 209.30 498M316.37 358 L316.67 -101 316.97 358M367.20 431 L367.50 -101 367.80 431M386.37 504 L386.67 -101 386.97 504M389.70 452 L390.00 -101 390.30 452" stroke="#0000ff"/>
<path d="M55.00 -101l1 0 1 0 1 0 1 0 1 0 1 0 1 0 1 0 1 0 1 0 1 0 1 11 1 100 1-11 1 45 1-1 1 110 1-50 1-5 1-8 1 25 1-42 1 74 1 11 1 60 1 5 1 17 1-13 1 22 1 12 1 31 1-48 1-82 1 77 1 11 1-39 1-5 1-82 1 129 1 21 1-26 1-32 1-14 1 6 1-25 1 18 1-37 1-86 1 20 1 4 1-10 1-7 1 44 1 15 1-17 1-21 1-40 1 65 1-40 1-11 1 75 1-31 1 37 1 36 1-110 1 87 1-6 1-64 1 117 1-22 1 12 1-23 1 67 1-37 1-113 1 17 1 49 1-9 1 53 1 18 1-17 1 37 1-52 1-17 1 3 1-8 1 54 1-95 1 17 1-29 1 2 1 76 1-54 1 31 1 32 1 35 1-17 1-12 1 9 1-39 1-7 1-8 1 98 1-40 1-65 1 7 1-28 1-5 1-34 1 60 1-21 1 13 1 23 1 31 1-41 1 39 1-41 1 108 1-97 1 16 1 15 1-12 1-22 1 37 1 15 1 36 1-103 1 73 1 55 1-71 1 19 1-104 1 49 1 44 1-31 1 20 1 5 1-40 1 67 1 53 1 42 1-31 1 84 1-32 1 31 1 11 1-94 1-18 1 50 1 35 1-84 1-20 1-17 1-17 1-68 1 3 1 160 1-62 1 87 1-47 1-6 1-33 1-102 1 2 1-28 1 94 1 37 1-30 1 98 1-74 1-27 1-37 1 1 1 58 1 67 1 65 1-32 1-132 1 11 1 53 1-24 1-48 1-36 1 24 1 8 1 1 1 44 1-20 1-38 1 42 1 118 1-7 1-9 1-68 1 29 1 40 1-105 1 56 1-2 1 74 1-97 1 2 1 108 1-144 1-27 1 118 1 26 1-40 1-93 1 47 1 67 1 68 1-28 1-22 1 25 1 43 1-88 1-5 1 12 1 29 1 81 1-34 1 88 1-46 1-17 1-30 1-19 1 13 1 28 1-56 1-58 1 50 1-50 1 28 1-12 1-43 1 80 1-20 1-39 1 74 1 19 1-113 1-44 1 70 1-71 1 135 1-10 1-58 1-74 1 72 1-30 1 88 1-98 1 0 1 93 1-111 1 19 1-41 1 32 1-38 1-119 1 182 1 0 1 35 1-121 1 83 1 23 1-39 1 100 1 11 1-91 1 56 1-95 1-2 1-49 1-28 1-5 1-56 1 92 1 132 1-47 1 19 1-192 1 101 1 35 1-9 1 29 1-166 1 118 1 35 1-47 1 47 1 7 1 64 1-53 1 27 1-3 1 79 1-104 1 43 1 49 1 3 1-33 1 2 1-20 1-44 1 18 1-8 1 22 1-41 1 74 1-46 1 41 1 18 1 53 1-14 1-30 1 77 1-89 1 58 1-34 1-83 1 91 1-13 1-3 1-3 1 45 1-24 1 38 1-7 1 37 1-5 1-43 1-8 1-40 1 20 1 99 1-78 1 85 1 58 1-57 1-102 1 20 1-12 1-34 1 11 1-76 1 87 1 2 1 8 1-22 1 85 1-33 1 17 1 6 1-7 1 0 1-21 1 29 1 26 1 12M343.03 117 L343.33 -101 343.63 117M368.03 347 L368.33 -101 368.63 347M379.70 378 L380.00 -101 380.30 378M393.03 409 L393.33 -101 393.63 409M323.03 282 L323.33 -101 323.63 282" stroke="#ff00ff"/>
<path d="M43.33 -101l1 0 1 0 1 0 1 0 1 0 1 0 1 32 1-8 1 103 1 72 1-12 1-11 1 103 1 21 1 19 1 41 1 50 1 21 1 35 1-3 1-5 1 12 1 56 1 57 1 47 1-29 1 1 1-15 1 86 1-42 1 34 1-22 1-9 1-2 1 61 1 14 1 28 1-8 1-36 1 17 1-13 1 5 1-48 1 27 1 19 1-12 1 24 1-48 1 16 1 7 1-15 1 28 1-10 1-10 1-13 1 18 1 43 1 10 1 4 1 25 1-72 1-3 1-29 1 4 1 4 1-1 1-12 1 31 1-15 1 16 1 20 1-38 1-23 1 3 1-31 1 4 1 54 1-86 1-12 1-51 1 112 1-9 1-38 1 34 1-11 1 29 1 41 1-49 1 8 1 16 1-34 1-12 1-3 1-23 1 10 1 65 1-29 1-57 1-3 1 39 1 67 1-46 1-7 1-9 1 19 1-36 1 54 1-57 1 63 1-2 1-23 1-54 1 22 1 41 1-33 1-50 1 20 1 28 1-34 1 0 1-36 1-12 1 22 1 28 1-12 1 38 1-45 1 45 1-1 1 12 1-61 1-13 1-30 1-13 1 47 1-14 1-20 1 25 1-21 1-24 1 68 1 62 1-111 1 29 1 18 1-48 1 81 1-4 1-87 1 39 1 16 1 17 1-33 1 37 1 29 1-12 1-13 1-48 1-3 1-18 1 30 1 74 1-55 1-31 1 65 1-21 1-72 1 68 1-45 1 1 1 26 1 28 1-38 1 18 1 3 1-47 1-3 1-6 1-18 1-37 1 58 1 34 1-6 1-64 1 54 1 51 1-36 1-38 1 6 1-30 1 7 1-24 1 49 1 47 1-16 1 29 1-17 1 24 1-15 1 33 1-17 1-39 1 38 1-20 1 13 1 47 1-38 1-1 1 2 1-4 1-77 1-58 1 58 1 24 1-7 1 9 1-10 1 91 1-31 1-11 1 104 1-43 1-28 1-38 1-50 1 22 1-54 1 10 1 58 1 5 1 36 1-42 1-31 1-24 1 13 1-37 1 66 1 13 1-51 1-15 1 6 1 6 1 44 1 68 1-66 1 27 1 16 1-10 1 9 1-27 1-42 1 38 1 13 1 5 1-25 1-2 1-27 1 55 1-52 1 41 1 16 1-31 1-90 1 40 1-61 1-54 1 9 1-22 1-44 1 33 1-27 1 80 1-52 1 36 1 1 1 0 1 84 1 1 1-3 1-108 1 65 1-4 1-92 1-38 1 45 1 54 1-16 1-68 1-4 1 48 1-26 1 85 1 27 1-85 1 29 1-11 1 53 1-5 1-7 1-53 1 54 1-17 1 97 1-41 1 10 1-1 1-40 1-5 1 13 1 8 1-20 1 30 1 23 1 29 1 11 1-49 1 30 1 41 1 2 1 9 1-56 1-21 1-1 1 9 1 56 1-48 1 19 1-7 1-26 1 11 1 78 1 27 1-121 1 74 1-11 1 9 1-39 1-34 1 2 1 41 1-50 1 56 1 42 1-33 1-50 1 44 1-12 1 8 1 20 1-36 1 64 1-21 1-72 1 66 1 34 1 11 1-71 1 40 1-79 1 12 1 15 1 40 1 31 1 4 1-1 1-13 1-60 1 19 1-18 1 53 1 55 1 9 1-32M84.37 594 L84.67 -101 84.97 594" stroke="#0000ff"/>
<path d="M55.00 -101l1 0 1 0 1 0 1 0 1 0 1 0 1 0 1 0 1 0 1 0 1 10 1-10 1 40 1 20 1 63 1 73 1 31 1-35 1 125 1-17 1 23 1-2 1-4 1 46 1-75 1-4 1 75 1 39 1 5 1-41 1-13 1-46 1 35 1 50 1 13 1-122 1-5 1 52 1-31 1-46 1 37 1 29 1 1 1-26 1-26 1 27 1 14 1-34 1-109 1 63 1 95 1-26 1 70 1 12 1-48 1-56 1 5 1 34 1 84 1-18 1-34 1 40 1-43 1-47 1-45 1 131 1-74 1-24 1 60 1 12 1 42 1-64 1 43 1-41 1-34 1 9 1 75 1-23 1 18 1-36 1-13 1 70 1-126 1 38 1-23 1 84 1-1 1-14 1 41 1-29 1 35 1 9 1 18 1-76 1 78 1-71 1 39 1-61 1 29 1-25 1 31 1-16 1 62 1-34 1-2 1-41 1 53 1-50 1-3 1 44 1-45 1-50 1 75 1-26 1-14 1-16 1 91 1-76 1 49 1 98 1-13 1-90 1 20 1-16 1 25 1 57 1-25 1-80 1-41 1 60 1-103 1 93 1 56 1-39 1 44 1-31 1 88 1-62 1 4 1 7 1-30 1 28 1-12 1 18 1 105 1-87 1 50 1 56 1 0 1-45 1-55 1-32 1 30 1 49 1-52 1 27 1-114 1 88 1 30 1-20 1 28 1 32 1-63 1 21 1-71 1 30 1 32 1-55 1 34 1 42 1-76 1 108 1 26 1-41 1 23 1 37 1-10 1-41 1-74 1 1 1 42 1-55 1 89 1-99 1 3 1-62 1-17 1 31 1 140 1-59 1 24 1 13 1-26 1 26 1-26 1-67 1-50 1 85 1 46 1 39 1-26 1 24 1-95 1 52 1-28 1 92 1-151 1-24 1 137 1-31 1 0 1-15 1 30 1 12 1 3 1 44 1 60 1-3 1 28 1 4 1-85 1-42 1 14 1-46 1 45 1-23 1-42 1-17 1 29 1-14 1 79 1-29 1 96 1-109 1-29 1-19 1 41 1-31 1 28 1-95 1 87 1-13 1-50 1 52 1 63 1-36 1 95 1-56 1 17 1 0 1-3 1-3 1-55 1-73 1 120 1-73 1-53 1 77 1 17 1-104 1 31 1 54 1-81 1 42 1 93 1-5 1 17 1-60 1 23 1-1 1-45 1 82 1-34 1 64 1-100 1-68 1 29 1 19 1-19 1 25 1 53 1-11 1-45 1-46 1-61 1 86 1 12 1-14 1 13 1 13 1 88 1-28 1-70 1 15 1 2 1-90 1 30 1-57 1 155 1-48 1-19 1-46 1-87 1 103 1 24 1-38 1 18 1 70 1 27 1 26 1 17 1-31 1-46 1 73 1-34 1-43 1 85 1-7 1-54 1 19 1 19 1-2 1 13 1-11 1-61 1-1 1 73 1-78 1-9 1 51 1-70 1 32 1 45 1 52 1-66 1-4 1 5 1-34 1 3 1 29 1-3 1-9 1 14 1 119 1 10 1-67 1 34 1-21 1 19 1-89 1 31 1 7 1 43 1 7 1 22 1 10 1 29 1-69 1 15 1 21 1 50M338.03 357 L338.33 -101 338.63 357M353.03 250 L353.33 -101 353.63 250M368.87 448 L369.17 -101 369.47 448M233.03 417 L233.33 94 233.63 417" stroke="#ff00ff"/>
<path d="M43.33 -101l1 0 1 0 1 0 1 0 1 21 1 45 1 47 1 63 1 31 1 25 1-28 1 67 1 56 1 59 1 6 1 60 1-25 1 90 1 25 1 39 1-3 1-1 1-25 1 82 1 39 1 37 1 36 1-20 1 42 1-25 1 3 1 30 1 26 1-22 1-36 1-80 1 54 1 0 1 20 1 41 1-13 1 15 1-90 1 32 1-25 1 11 1-31 1 75 1-18 1-3 1-10 1 5 1 16 1-26 1 44 1-22 1 31 1-81 1 60 1 13 1-24 1-11 1 6 1-26 1-36 1 21 1-37 1 36 1 34 1-5 1-35 1 32 1 11 1-46 1 26 1-48 1 21 1 60 1-27 1-9 1 5 1-1 1-19 1-8 1-18 1-28 1 36 1-7 1 24 1-2 1-36 1-8 1 20 1 25 1 20 1 14 1-26 1-57 1-5 1-17 1 18 1 26 1-18 1-44 1 58 1-1 1 25 1-26 1-10 1 1 1-9 1 28 1-34 1 26 1-39 1 42 1-19 1-15 1-7 1 76 1-57 1 1 1-28 1 37 1 18 1-43 1-4 1 55 1-61 1 59 1-45 1 16 1 51 1-3 1-47 1-88 1 70 1 19 1 28 1-25 1-36 1 27 1-23 1 44 1-14 1-51 1-3 1 54 1-34 1 22 1-32 1-17 1 83 1-4 1-18 1 0 1 14 1-55 1 35 1 43 1-105 1 92 1-80 1-36 1 34 1 11 1-41 1-22 1 79 1 13 1 53 1 8 1-70 1 30 1-8 1-59 1 32 1 25 1 22 1-55 1 33 1 43 1-94 1 43 1 60 1-15 1-97 1-70 1 41 1 43 1 109 1-15 1-56 1 41 1 30 1-23 1-16 1-31 1 49 1-41 1 24 1-76 1-48 1 107 1-36 1 62 1 32 1-88 1-12 1 29 1-23 1 48 1 80 1 5 1-107 1-8 1 9 1-85 1 56 1-14 1-19 1 25 1 28 1-67 1 74 1 31 1-71 1-52 1 11 1 78 1 32 1-62 1-53 1 36 1 13 1 21 1 37 1 7 1 51 1-46 1-16 1-40 1-21 1 7 1 32 1-23 1 63 1-13 1 34 1 40 1-71 1-55 1 67 1 17 1-11 1-54 1 16 1-62 1 0 1-4 1-24 1 43 1-71 1 37 1-18 1 14 1 12 1-70 1 2 1 49 1 1 1 2 1-45 1 30 1-68 1-23 1 40 1 2 1-15 1-31 1 36 1-12 1-27 1 31 1 60 1-58 1-9 1 59 1-36 1-12 1-19 1 23 1 4 1-93 1 24 1 8 1 30 1 54 1-2 1-113 1 99 1 9 1-8 1-17 1-26 1 56 1 14 1-17 1 68 1-42 1 28 1-10 1 61 1 4 1-92 1 51 1 94 1-17 1-41 1-25 1 15 1 78 1-81 1-21 1 1 1 1 1-52 1 78 1 9 1 22 1-49 1 33 1-15 1-36 1 16 1 26 1-49 1-15 1 24 1 3 1 5 1 73 1-12 1-17 1 33 1-11 1-18 1 8 1-13 1-30 1 16 1-61 1 24 1 43 1-57 1 51 1 56 1-27 1 46 1 22 1-49 1 31 1 20 1 19 1-6 1-87 1 15 1 4 1 34 1-2 1 26 1 17 1-9M319.70 385 L320.00 -101 320.30 385" stroke="#0000ff"/>
<path d="M55.00 -101l1 0 1 0 1 0 1 0 1 0 1 0 1 0 1 41 1 45 1 7 1 36 1 19 1 37 1 22 1 50 1 18 1 104 1-72 1 55 1-10 1 8 1 57 1-46 1-30 1 43 1 26 1-62 1 118 1-54 1 51 1 23 1-17 1-60 1-42 1 7 1 4 1-30 1 9 1 20 1-16 1-7 1 1 1-47 1 74 1 21 1-33 1-23 1-53 1 64 1 81 1 37 1-76 1 18 1-7 1 2 1 7 1 91 1-71 1 49 1 29 1-44 1-20 1-75 1-40 1 71 1 25 1-74 1 72 1-11 1-41 1-11 1 90 1-31 1-113 1-33 1 29 1 44 1 30 1 12 1-20 1 60 1-30 1-46 1-33 1 75 1-56 1 52 1-76 1 94 1-25 1-4 1 38 1 34 1 42 1-14 1 30 1-14 1-9 1-34 1-27 1-17 1 26 1 41 1-53 1 69 1 1 1-69 1 45 1-19 1-3 1-28 1 38 1-80 1 30 1 32 1 26 1 36 1-7 1-37 1 15 1-56 1 26 1-13 1-6 1-8 1-51 1 105 1-36 1 104 1 22 1 41 1-57 1-30 1 24 1-140 1 57 1 14 1-13 1-28 1 22 1-65 1 167 1-35 1-53 1-35 1 96 1-35 1-41 1 29 1-37 1 8 1-8 1 51 1-20 1 27 1 81 1-24 1-77 1 42 1 6 1 86 1 6 1-73 1-59 1-5 1 13 1 46 1 8 1 26 1-64 1-19 1-13 1-33 1 18 1 78 1-12 1-28 1-37 1 53 1 20 1-74 1-35 1 27 1 23 1-14 1-28 1 26 1 92 1-57 1 21 1-8 1-56 1 101 1-13 1-71 1 89 1-73 1 34 1 21 1 4 1 26 1 73 1-99 1-28 1 38 1-50 1-29 1-23 1 62 1-35 1 74 1-8 1-41 1 150 1 64 1-158 1-36 1 6 1 5 1 73 1-59 1 64 1 16 1-14 1-23 1 0 1-139 1 128 1 24 1 13 1-34 1 15 1-27 1-6 1-5 1 13 1-26 1 97 1 25 1-37 1-71 1-85 1-12 1 16 1 136 1-67 1 51 1-25 1-33 1 11 1 31 1-71 1 66 1-65 1 89 1-75 1 123 1-131 1 13 1 12 1 29 1 1 1-112 1 22 1 2 1-49 1-16 1 28 1 100 1-36 1-57 1 17 1 42 1-66 1-27 1 95 1 33 1-66 1-21 1-38 1-102 1 35 1 7 1 10 1 25 1 21 1 5 1 88 1-111 1 92 1-93 1 101 1 48 1-59 1-111 1 66 1 56 1 9 1-32 1 2 1-61 1 35 1 136 1-42 1-18 1-60 1 22 1-13 1-47 1 30 1 26 1-1 1 112 1 15 1-83 1-23 1 37 1 24 1-64 1 40 1-78 1 150 1-54 1-1 1 33 1-11 1-66 1 109 1 12 1-11 1-45 1-4 1 82 1 14 1 20 1-104 1 129 1-46 1-10 1 9 1-2 1-6 1-97 1 22 1-10 1 84 1 59 1 17 1 0 1-63 1-19 1-43 1 42 1 108 1-104 1 44 1 21 1-78 1 19 1 31 1 6M359.70 444 L360.00 -101 360.30 444M219.70 389 L220.00 113 220.30 389M383.03 541 L383.33 152 383.63 541" stroke="#ff00ff"/>
<path d="M43.33 -101l1 0 1 0 1 0 1 0 1 0 1 0 1 0 1 19 1 72 1 29 1 67 1 38 1 17 1 9 1 25 1 37 1-11 1-9 1 69 1 61 1-31 1 35 1 27 1 41 1 58 1-10 1-3 1 7 1-19 1 43 1-17 1 11 1-8 1 57 1 15 1-37 1 51 1-12 1 58 1-19 1-46 1 28 1-12 1-12 1-23 1-5 1 63 1-40 1-75 1 76 1 6 1-76 1-6 1 15 1 16 1-30 1-12 1-33 1 11 1 47 1 61 1-20 1 53 1-24 1-81 1 43 1-62 1 20 1-16 1 24 1 34 1-4 1-12 1-60 1 37 1 41 1 41 1-20 1-16 1-36 1 19 1 13 1-14 1 5 1 6 1 1 1 20 1 5 1-77 1 43 1-13 1 2 1 11 1 66 1-27 1-8 1 22 1-20 1-89 1 87 1-61 1-7 1-22 1 8 1-20 1 52 1-35 1 52 1 34 1-21 1 14 1-5 1-4 1-67 1 35 1-25 1 59 1-55 1-13 1 46 1 5 1-53 1-30 1 3 1 1 1 13 1 49 1-150 1 81 1 8 1-9 1 61 1-14 1 63 1-34 1 23 1-49 1 29 1-1 1-15 1-46 1 61 1-41 1-57 1 52 1-17 1-5 1 22 1-34 1 32 1-34 1 57 1-80 1 19 1-39 1 46 1 59 1 16 1-73 1-14 1 63 1-48 1-27 1-5 1 33 1-11 1 43 1-44 1 8 1 1 1-13 1-7 1-28 1-22 1 59 1 78 1 16 1-33 1 10 1-27 1-30 1-65 1 59 1-22 1 19 1-15 1 79 1 1 1-26 1-10 1 14 1-7 1-17 1 13 1 35 1-11 1-92 1 1 1 3 1-15 1 26 1-10 1-39 1 17 1 13 1-18 1 69 1-31 1 39 1-7 1 3 1 27 1 8 1-15 1-26 1-9 1 27 1-10 1-47 1 77 1-100 1-1 1 69 1-37 1 29 1 122 1-64 1-36 1 27 1 52 1-81 1-34 1 33 1 68 1-24 1 39 1-16 1 8 1 27 1-80 1-44 1-15 1-3 1 1 1 24 1-82 1 38 1 132 1-4 1-8 1 11 1-49 1-11 1-24 1 20 1 40 1-21 1-73 1 79 1-13 1-26 1-49 1-50 1 84 1-16 1 22 1-10 1 6 1-43 1 3 1-40 1-9 1 33 1-60 1-7 1-22 1-64 1-3 1 19 1 13 1-26 1-20 1-67 1 114 1-37 1-23 1-23 1 11 1 39 1 31 1 11 1 52 1-18 1-22 1 81 1-57 1 69 1-50 1 43 1-9 1-53 1-38 1 31 1 66 1 48 1-3 1-55 1 53 1 57 1-80 1-21 1-34 1-4 1 76 1-97 1 97 1-43 1 39 1-13 1 34 1-17 1-3 1-43 1 120 1-28 1-4 1-13 1 22 1-29 1 5 1 50 1-95 1 63 1-12 1-13 1 29 1-32 1-12 1 41 1-37 1-10 1 7 1 18 1-71 1 30 1 39 1-48 1 33 1-38 1 27 1 52 1 60 1 19 1-56 1-20 1 24 1-3 1 35 1-46 1-19 1-9 1 39 1-18 1 74 1-90 1-11 1 8 1 18 1 14 1-9 1 37 1 50 1-20" stroke="#0000ff"/>
<path d="M55.00 -101l1 0 1 0 1 0 1 0 1 0 1 0 1 0 1 0 1 0 1 0 1 0 1 1 1-1 1 59 1-12 1 41 1 79 1 11 1 77 1-45 1-3 1 56 1-55 1 72 1 44 1-99 1 37 1 29 1-45 1 83 1-23 1-60 1 92 1-51 1 64 1-24 1 45 1-93 1 73 1-22 1-15 1-52 1 42 1-77 1 46 1 43 1-37 1-27 1 6 1 22 1-38 1 55 1 45 1-25 1-41 1 20 1-109 1 28 1-21 1 59 1-25 1 53 1 13 1-46 1 58 1 3 1 23 1 2 1-75 1-36 1-16 1 39 1 71 1-15 1-59 1 66 1-73 1 47 1 40 1 9 1-44 1 14 1-5 1 58 1-61 1 13 1 24 1-51 1 39 1-53 1 26 1 74 1-115 1 37 1 3 1 69 1-31 1 12 1-32 1 14 1-40 1 91 1-19 1-61 1 58 1-30 1-33 1-10 1 23 1 22 1-24 1-10 1 70 1-15 1-47 1 87 1-11 1-150 1-14 1 123 1-19 1 49 1 26 1-14 1 29 1-12 1 51 1 31 1-39 1 8 1-26 1-59 1-63 1 95 1 32 1 35 1-2 1-101 1 43 1-47 1 2 1 38 1 38 1-20 1 16 1 103 1-80 1-44 1 76 1-31 1-99 1 99 1-21 1 34 1-11 1-39 1-66 1 3 1 22 1-21 1 167 1-89 1 8 1 46 1-90 1 46 1-11 1-141 1-14 1 0 1 171 1-82 1 32 1-32 1 31 1-17 1 9 1 41 1 51 1 35 1 7 1-41 1-103 1 30 1 24 1-60 1 35 1 14 1-80 1 97 1 64 1 5 1 14 1-4 1-37 1-33 1-28 1 67 1-8 1-156 1 69 1-51 1 35 1 3 1-44 1 63 1 35 1 143 1-58 1-52 1-73 1 66 1-28 1-14 1 56 1-3 1 27 1-81 1 40 1-13 1-40 1 7 1 39 1-12 1 19 1 89 1-11 1-55 1-115 1-92 1 134 1-8 1 55 1 76 1 28 1-179 1 25 1-110 1 154 1-88 1 10 1-22 1 74 1 39 1-32 1-87 1 93 1 124 1-21 1-91 1-53 1-33 1 202 1-94 1 57 1-72 1-27 1-24 1-17 1 25 1-17 1-89 1-9 1 55 1 174 1-51 1-78 1 68 1-59 1 52 1 1 1-97 1 111 1 16 1 68 1-56 1-89 1-85 1 6 1 133 1 144 1-78 1-84 1-46 1-8 1 44 1 31 1-20 1 1 1-48 1 26 1 68 1 9 1-24 1 4 1 33 1-49 1 13 1 16 1-105 1-18 1 1 1-42 1 86 1 73 1 72 1-93 1 7 1-15 1 33 1-38 1-16 1 11 1-36 1 65 1 33 1-11 1 13 1-46 1-8 1 71 1-78 1-3 1 88 1-28 1 10 1 90 1-18 1 58 1-53 1 43 1-127 1-33 1 47 1-13 1-5 1 3 1 32 1-8 1-22 1 9 1 66 1-19 1-28 1 54 1 35 1-65 1-24 1 55 1 3 1-58 1 6 1 51 1-57 1 66 1-56 1 67 1 46 1-34 1 30 1-16M328.03 365 L328.33 -101 328.63 365" stroke="#ff00ff"/>
<path d="M33.33 519l1-620 1 0 1 0 1 0 1 0 1 0 1 0 1 0 1 0 1 0 1 0 1 0 1 0 1 0 1 0 1 0 1 0 1 0 1 0 1 0 1 0 1 0 1 0 1 0 1 0 1 0 1 309 1 247 1 57 1 53 1-5 1-34 1 40 1 12 1-54 1 6 1-78 1 100 1-28 1 6 1 71 1-7 1-54 1-39 1-54 1 92 1-33 1 44 1 9 1-81 1-6 1 148 1 42 1 119 1-180 1 36 1-61 1 30 1 16 1 14 1-42 1 3 1-105 1 25 1 47 1 0 1 10 1-16 1-67 1 133 1-85 1-48 1-64 1 31 1-50 1 101 1 18 1 49 1-25 1 17 1-86 1 20 1 63 1 24 1-43 1 54 1 28 1-46 1 6 1 94 1-102 1-123 1 83 1 32 1-131 1 48 1 22 1 64 1-90 1 7 1 95 1-72 1-35 1 39 1 11 1 5 1-68 1 77 1-99 1-29 1 7 1 37 1-115 1 190 1 33 1-59 1-14 1-22 1 67 1-18 1 19 1-42 1 100 1-40 1-23 1-99 1-3 1 82 1 33 1-31 1-44 1 74 1 31 1-58 1-86 1-45 1 132 1-38 1-18 1 86 1-95 1 29 1 88 1 12 1-45 1-31 1 14 1-13 1-63 1 102 1-88 1-55 1 8 1 113 1 5 1 57 1-9 1-109 1 25 1 17 1-117 1 4 1 64 1-32 1 54 1-50 1 85 1-62 1 50 1 23 1 27 1 28 1-37 1 7 1-143 1 22 1 71 1 96 1-68 1-19 1-48 1-67 1 35 1 48 1-5 1 111 1 9 1-17 1 78 1-110 1-5 1-26 1 42 1-79 1-3 1-26 1 59 1-24 1 78 1-36 1-37 1-71 1 94 1-126 1 38 1 60 1 44 1 2 1-30 1-5 1-29 1 80 1 81 1-109 1-62 1 20 1 110 1 3 1-34 1-54 1-17 1-26 1-39 1 36 1-4 1 136 1-105 1 1 1 67 1-86 1 46 1-36 1 77 1-2 1-145 1 47 1-2 1-38 1 177 1-136 1-5 1 109 1-38 1-46 1 64 1-53 1 19 1 16 1-92 1-82 1 141 1 55 1-19 1 43 1-83 1-1 1 53 1 34 1-168 1 93 1-66 1-31 1 92 1 40 1-53 1-105 1 9 1 63 1 59 1 42 1-21 1-170 1 75 1-28 1 4 1-12 1 46 1 33 1 68 1 50 1-65 1-38 1 10 1-65 1-7 1 54 1-70 1 102 1 40 1-14 1-19 1-32 1-16 1 95 1 135 1-68 1 33 1-106 1-32 1-2 1-46 1 9 1-121 1 49 1 26 1 43 1 60 1 42 1-71 1 82 1-48 1 15 1-12 1 38 1 98 1-62 1-80 1-3 1 11 1 94 1-28 1-16 1 7 1-14 1-3 1 23 1 40 1-27 1-1 1-16 1-36 1 13 1-1 1 9 1 38 1-3 1-13 1-34 1 82 1 2 1 4 1-23 1 1 1-18 1 18 1-21 1 10 1 8 1-24 1 4 1 10 1 16 1 7 1-7 1-7 1 34 1-36 1 3 1 4 1 0 1-3 1-1 1 3 1-1 1 7 1-20 1-1 1 11 1 24 1-2M62.20 512 L62.50 794 62.80 512M128.87 489 L129.17 794 129.47 489M162.20 549 L162.50 794 162.80 549M195.53 401 L195.83 794 196.13 401M228.87 454 L229.17 794 229.47 454M262.20 555 L262.50 794 262.80 555M295.53 400 L295.83 794 296.13 400M362.20 632 L362.50 794 362.80 632M395.53 652 L395.83 794 396.13 652M374.03 677 L374.33 -101 374.63 677M374.70 654 L375.00 833 375.30 654M375.37 654 L375.67 -101 375.97 654M221.37 583 L221.67 191 221.97 583M254.70 463 L255.00 211 255.30 463M308.03 407 L308.33 172 308.63 407" stroke="#000000"/>
<path d="M35.00 -101l1 0 1 0 1 16 1 46 1 107 1 45 1 34 1 85 1-1 1-36 1 16 1 50 1 38 1-7 1-47 1 96 1-31 1 12 1-6 1-33 1-14 1-2 1 10 1 46 1 7 1-15 1 18 1-2 1 65 1-53 1 81 1 63 1-40 1 24 1-44 1-52 1 19 1-48 1-1 1 80 1 20 1-24 1-68 1 72 1-52 1-8 1-7 1-10 1-28 1-96 1 43 1 75 1-84 1 25 1-24 1 21 1-27 1 11 1 11 1 69 1 57 1 33 1-30 1-109 1-147 1 35 1 51 1 42 1 20 1-26 1-12 1-78 1-33 1 69 1 166 1-49 1-27 1 23 1 18 1 100 1-74 1-15 1-75 1 87 1 68 1 11 1-80 1 76 1 88 1-55 1 12 1 18 1 14 1-120 1 90 1-100 1 52 1 56 1-53 1 112 1-82 1 20 1 39 1-100 1 8 1 68 1-1 1 45 1-81 1-15 1-31 1-7 1 59 1-27 1-19 1 38 1 5 1 67 1-77 1 10 1-59 1 1 1 89 1-131 1 50 1-3 1-21 1-94 1 158 1 94 1-79 1 42 1 22 1-68 1-65 1 72 1 40 1-37 1-61 1-18 1 101 1-45 1 87 1-79 1 38 1 29 1-93 1-75 1 49 1 25 1 37 1-27 1 68 1-15 1-81 1-10 1 92 1-16 1 11 1-86 1 37 1 5 1-125 1 16 1 29 1 67 1 119 1-112 1-8 1 27 1 125 1-104 1-87 1 137 1 38 1 95 1-55 1-75 1-44 1 19 1-52 1-26 1 31 1 8 1 13 1-20 1 70 1-55 1-9 1 10 1-4 1 57 1-28 1 52 1-13 1 100 1-102 1-21 1 28 1 58 1-24 1-66 1-87 1 74 1-10 1-95 1 114 1-7 1 29 1 68 1-67 1-33 1-43 1 13 1-58 1 106 1-11 1 9 1-1 1-42 1-35 1 12 1 21 1-119 1 65 1 91 1-17 1 87 1-129 1 2 1 68 1-13 1-38 1 23 1 7 1-55 1 34 1-69 1 23 1 27 1 62 1-9 1-11 1-64 1 12 1 33 1-20 1 31 1 2 1-51 1 38 1-21 1-26 1 44 1-39 1 14 1-163 1 199 1-88 1-18 1 41 1-36 1 56 1 1 1 54 1-89 1-104 1-11 1 27 1 85 1 7 1-21 1 56 1 35 1-107 1 84 1 9 1 79 1 90 1-105 1-79 1-46 1 46 1-32 1 4 1-9 1 39 1-29 1 30 1 57 1-19 1-26 1-32 1 44 1-40 1 126 1 14 1-110 1-69 1 14 1 97 1 69 1 65 1-94 1-66 1 77 1-28 1-7 1-19 1 20 1 7 1 41 1-1 1-49 1-10 1-12 1 51 1-38 1 40 1-2 1 0 1-7 1 4 1 29 1-35 1 96 1-35 1 28 1-58 1 21 1-25 1 46 1 56 1-57 1-31 1 9 1-3 1 6 1-27 1 46 1 65 1-52 1 15 1-12 1 19 1-50 1 6 1 22 1-57 1 42 1 16 1-16 1-12 1 10 1 53 1-32 1-26 1-33 1 49 1 34 1-11M279.70 465 L280.00 269 280.30 465M331.37 599 L331.67 269 331.97 599" stroke="#000000"/>
</g></g>
<rect x="753.9" y="18.6" width="422.0" height="145.9" fill="none" stroke="#7a7a7a" stroke-width="1"/>
<path d="M838.3,18.6v4.3M838.3,164.5v-4.3M922.7,18.6v4.3M922.7,164.5v-4.3M1007.1,18.6v4.3M1007.1,164.5v-4.3M1091.5,18.6v4.3M1091.5,164.5v-4.3M753.9,115.9h4.3M1175.9,115.9h-4.3M753.9,67.2h4.3M1175.9,67.2h-4.3" stroke="#7a7a7a" stroke-width="1" fill="none"/>
<text transform="translate(759.8,172.5) rotate(-90)" font-size="16.3" text-anchor="end" font-family="Liberation Sans, sans-serif" fill="#262626" >0</text>
<text transform="translate(844.2,172.5) rotate(-90)" font-size="16.3" text-anchor="end" font-family="Liberation Sans, sans-serif" fill="#262626" >5</text>
<text transform="translate(928.6,172.5) rotate(-90)" font-size="16.3" text-anchor="end" font-family="Liberation Sans, sans-serif" fill="#262626" >10</text>
<text transform="translate(1013.0,172.5) rotate(-90)" font-size="16.3" text-anchor="end" font-family="Liberation Sans, sans-serif" fill="#262626" >15</text>
<text transform="translate(1097.4,172.5) rotate(-90)" font-size="16.3" text-anchor="end" font-family="Liberation Sans, sans-serif" fill="#262626" >20</text>
<text transform="translate(1181.8,172.5) rotate(-90)" font-size="16.3" text-anchor="end" font-family="Liberation Sans, sans-serif" fill="#262626" >25</text>
<text transform="translate(1197.5,165.3) rotate(-90)" font-size="16.3" text-anchor="middle" font-family="Liberation Sans, sans-serif" fill="#262626" >1</text>
<text transform="translate(1197.5,116.7) rotate(-90)" font-size="16.3" text-anchor="middle" font-family="Liberation Sans, sans-serif" fill="#262626" >2</text>
<text transform="translate(1197.5,68.0) rotate(-90)" font-size="16.3" text-anchor="middle" font-family="Liberation Sans, sans-serif" fill="#262626" >3</text>
<text transform="translate(1197.5,19.4) rotate(-90)" font-size="16.3" text-anchor="middle" font-family="Liberation Sans, sans-serif" fill="#262626" >4</text>
<rect x="838.3" y="210.5" width="253.2" height="144.6" fill="#cbcbcb"/>
<path d="M838.3,210.5V355.1M1091.5,210.5V355.1" stroke="#5e5e5e" stroke-width="1" fill="none"/>
<path d="M930.8,210.5V355.1" stroke="#999" stroke-width="0.8" stroke-dasharray="0.9,2.3" fill="none"/>
<clipPath id="c_b2"><rect x="753.9" y="210.5" width="422.0" height="144.6"/></clipPath>
<g clip-path="url(#c_b2)"><g transform="translate(753.90 0) scale(1.01280 0.25)" fill="none" stroke-width="1.60" stroke-linejoin="round" vector-effect="non-scaling-stroke" class="ns">
<path d="M28.33 964l1-3 1 7 1 4 1-6 1 19 1 19 1-12 1 14 1-2 1 5 1 18 1 8 1 0 1 16 1 15 1 4 1 0 1 2 1 13 1-17 1 22 1 14 1 1 1-12 1-2 1 0 1-7 1 8 1 4 1 10 1 1 1 12 1 22 1 12 1-14 1 7 1 12 1 18 1-7 1-7 1-1 1 12 1-14 1 6 1 15 1-2 1-13 1 10 1-22 1 6 1 4 1-4 1 4 1 17 1 10 1 6 1-26 1-14 1-6 1 1 1 10 1 16 1-3 1 18 1 6 1 0 1-4 1 3 1-8 1 15 1-18 1 1 1 6 1 10 1-13 1 4 1-4 1 4 1 2 1-12 1-22 1 4 1 3 1-15 1 20 1-9 1-6 1 21 1 12 1 0 1-8 1 12 1-3 1-5 1-20 1-6 1 18 1-17 1-16 1-6 1 13 1 24 1-8 1-2 1 7 1-14 1-4 1 6 1 13 1-10 1 14 1-20 1-10 1-11 1 11 1 15 1 15 1 10 1-12 1 1 1-25 1 2 1-1 1-8 1 14 1-1 1-5 1-5 1 7 1-12 1 18 1 8 1-27 1 22 1-9 1-2 1 11 1-17 1 0 1 1 1 17 1 11 1 4 1-18 1 0 1-7 1-7 1 8 1 0 1-12 1 25 1 11 1-7 1-7 1 12 1 22 1 8 1-8 1 2 1-18 1 7 1 13 1-19 1 13 1-1 1 5 1 10 1-29 1 19 1-11 1 12 1 15 1-1 1-9 1 2 1-8 1 1 1 1 1-3 1 7 1 15 1-5 1 6 1-2 1-5 1 11 1-1 1 23 1-9 1-5 1-2 1 0 1 23 1-2 1-7 1 7 1-2 1 14 1 1 1-4 1-1 1 9 1 9 1-12 1 2 1 14 1-7 1-9 1-2 1 3 1-3 1 6 1 0 1-13 1 12 1 2 1 7 1-4 1-6 1 3 1 2 1-1 1 1 1 9 1 1 1-1 1 2 1-2 1 4 1-7 1 11 1-10 1-2 1-3 1 0 1-8 1 6 1 0 1 0 1-5 1-5 1 2 1 0 1-1 1-9 1 5 1-1 1 11 1 2 1-11 1 1 1-8 1 10 1-7 1 1 1 4 1 1 1 0 1 4 1-3 1 2 1-2 1-1 1-3 1 1 1-1 1-4 1 1 1-2 1-1 1 4 1-3 1-1 1-5 1-1 1 4 1 5 1 2 1-6 1 4 1 5 1 3 1 6 1-7 1-2 1 20 1-5 1-1 1-4 1 0 1-9 1 10 1 11 1 12 1 14 1 3 1-4 1 12 1-10 1-6 1-8 1 1 1-4 1 9 1 1M68.03 1162 L68.33 1286 68.63 1162M93.03 1198 L93.33 1277 93.63 1198M118.03 1192 L118.33 1351 118.63 1192M143.03 1150 L143.33 1342 143.63 1150M168.03 1150 L168.33 1370 168.63 1150M193.03 1199 L193.33 1298 193.63 1199M218.03 1238 L218.33 1309 218.63 1238M243.03 1274 L243.33 1309 243.63 1274M268.03 1273 L268.33 1390 268.63 1273M289.70 1269 L290.00 1381 290.30 1269M318.03 1277 L318.33 1395 318.63 1277" stroke="#ff0000"/>
<path d="M28.33 938l1 10 1 0 1 10 1-16 1 19 1 2 1 16 1-9 1 22 1 4 1 16 1 24 1 10 1-8 1 6 1-4 1-3 1-7 1 22 1 4 1 3 1 3 1 14 1 32 1-16 1-4 1-4 1-4 1 13 1-10 1 3 1 28 1 9 1 1 1 8 1 9 1-5 1-1 1 7 1 11 1 4 1-1 1-1 1-17 1 3 1-4 1 2 1 14 1-20 1 0 1 2 1-13 1-8 1 2 1 5 1 5 1 25 1 13 1-18 1 14 1-2 1-7 1-13 1 15 1 17 1 0 1 2 1-3 1-7 1 10 1 7 1 6 1-22 1 17 1-9 1-2 1 8 1 2 1-2 1-2 1 12 1-22 1-9 1 6 1-11 1-4 1-7 1 4 1 19 1-17 1-7 1 4 1 8 1 4 1-15 1 5 1-7 1-2 1 5 1-1 1-13 1 11 1 13 1 13 1 2 1-13 1 18 1-3 1-6 1-1 1-15 1 6 1 9 1 5 1-31 1 3 1-2 1-2 1 6 1-2 1-12 1 10 1-7 1 4 1 1 1 16 1 3 1 10 1-5 1-16 1-5 1 8 1 4 1 2 1 15 1-10 1 8 1-16 1-18 1 9 1 25 1-6 1-9 1-3 1 4 1-3 1-13 1 8 1-8 1 7 1-3 1 14 1-27 1-12 1 16 1-9 1 1 1 8 1 0 1 27 1-7 1-5 1 19 1-3 1-8 1 14 1 11 1-8 1 11 1-7 1 17 1 2 1 2 1 23 1-25 1-7 1 10 1-3 1-2 1 5 1 2 1 2 1 1 1-5 1 18 1 23 1-9 1-2 1-5 1-7 1 8 1 12 1-8 1 7 1-5 1 12 1-9 1 7 1 2 1 14 1 4 1-1 1 14 1-9 1 14 1 6 1-4 1-9 1-2 1 4 1-4 1 8 1-6 1-5 1-1 1 3 1-4 1 6 1 1 1 4 1-2 1 5 1-5 1-3 1 0 1 3 1-10 1 1 1-1 1-2 1 9 1-4 1-15 1 11 1 4 1-4 1 11 1-10 1 4 1 0 1 1 1-5 1 0 1-9 1-16 1 3 1 6 1 0 1 3 1 3 1 7 1 3 1-5 1 0 1-1 1-16 1 11 1 17 1-11 1-9 1 0 1 5 1 5 1-13 1 6 1-7 1 14 1 7 1 4 1-6 1-4 1 0 1 1 1-6 1-2 1-3 1 3 1-4 1-2 1-3 1 6 1-2 1 0 1 3 1 9 1-5 1-8 1 12 1 12 1-4 1 5 1 8 1 16 1-3 1 0 1 13 1-6 1-2 1-11 1 14 1-2 1 13 1 0 1 1 1-7" stroke="#ff0000"/>
<path d="M28.33 970l1-12 1 2 1 16 1 7 1 4 1 15 1-7 1 17 1-5 1 8 1 1 1 24 1 15 1 4 1-1 1 15 1 18 1 14 1-14 1 5 1 25 1 8 1 1 1-2 1-7 1-3 1 19 1 2 1-2 1 15 1-22 1 26 1 4 1-5 1-3 1 6 1-5 1 0 1 8 1-4 1 17 1 8 1-12 1 3 1 23 1-8 1-3 1 1 1-24 1 27 1 4 1 4 1 6 1 5 1 5 1-7 1 5 1 12 1-22 1 10 1-8 1-8 1-31 1 6 1 7 1-21 1-2 1 20 1 4 1 1 1 5 1 8 1 2 1 7 1-4 1 1 1 16 1-21 1 10 1 4 1 10 1-29 1-16 1 13 1-4 1 8 1-1 1-2 1 1 1-16 1 4 1 2 1 6 1 10 1-1 1-1 1 15 1-2 1-11 1-6 1-14 1 12 1-7 1 12 1-3 1 2 1-11 1 10 1 10 1 4 1-12 1 5 1-3 1 13 1 4 1-8 1-10 1-3 1-1 1 0 1 4 1-6 1-5 1-1 1 6 1 25 1-16 1-4 1-10 1 6 1-8 1-4 1-14 1 0 1 9 1 17 1 25 1-16 1-7 1-3 1 10 1 11 1-14 1 7 1-3 1-15 1 5 1-1 1-15 1 17 1-3 1 14 1-6 1 3 1 0 1 12 1-4 1 13 1-5 1-2 1-15 1 9 1 19 1-4 1 8 1-18 1 14 1 4 1-12 1 4 1-3 1 5 1-12 1 4 1 3 1-5 1 12 1 11 1-2 1 10 1-10 1 7 1 2 1-1 1-8 1 10 1 13 1 10 1 2 1-3 1 8 1-6 1 17 1-16 1 11 1 7 1-1 1 7 1 5 1-2 1 12 1-3 1 1 1 0 1 1 1-5 1 1 1 13 1-1 1-7 1-4 1-6 1 2 1 0 1-15 1 2 1 2 1 2 1-2 1 19 1-4 1 9 1-1 1 2 1-6 1 6 1 1 1 7 1-13 1 1 1-9 1 9 1 2 1 3 1 2 1-6 1 0 1-3 1 6 1-8 1-9 1-6 1-10 1 9 1 0 1-4 1 4 1-10 1 9 1-5 1 10 1 5 1 4 1-6 1-12 1 0 1 4 1-1 1 1 1 12 1 5 1-9 1 5 1-5 1 1 1-9 1-2 1-7 1 2 1 7 1 12 1-6 1 18 1 7 1-8 1-6 1 5 1-6 1-5 1 4 1-13 1 2 1 2 1-9 1 7 1-2 1 12 1 1 1-3 1 4 1 5 1 3 1 6 1 7 1 5 1 1 1 7 1 4 1-3 1 8 1 4 1-10 1 2 1 2 1-11" stroke="#ff0000"/>
<path d="M0.00 1071 V495" stroke="#ff0000"/>
<path d="M1.00 1071 V495" stroke="#ff0000"/>
<path d="M2.50 884 V495" stroke="#ff0000"/>
<path d="M26.67 1043l1-375 1 0 1 0 1 0 1 0 1 0 1 0 1 0 1 0 1 0 1 404 1-317 1-2 1 16 1 39 1 3 1 13 1-5 1-11 1 30 1 30 1 17 1 9 1 5 1 17 1 4 1 12 1-8 1 9 1 19 1 3 1 3 1 10 1 16 1-7 1 2 1 7 1 13 1-6 1 7 1 14 1 6 1-13 1 6 1 6 1 8 1 15 1 24 1-17 1 9 1 13 1 20 1-19 1 13 1 1 1-2 1 1 1 12 1 1 1-1 1 8 1-23 1-8 1 17 1-5 1 1 1-13 1-4 1-5 1-13 1 11 1 11 1-13 1 1 1 2 1-1 1-14 1-11 1 1 1-9 1 10 1 9 1 2 1 6 1-5 1-13 1-4 1 11 1-1 1-6 1 1 1-11 1-13 1-8 1 16 1 4 1-2 1 5 1-12 1-3 1-27 1 25 1-27 1 13 1 14 1-9 1 12 1-30 1 3 1-7 1 1 1 23 1 16 1-16 1 11 1-17 1 3 1-12 1 6 1-5 1 3 1 2 1-25 1 2 1 3 1 11 1 3 1-1 1-15 1 10 1-7 1 12 1 11 1-21 1-7 1-15 1 17 1 15 1-6 1-2 1 24 1-3 1-7 1 9 1 8 1 5 1-3 1 9 1 2 1 16 1 4 1-1 1 0 1-19 1 1 1-26 1 16 1 16 1 6 1 32 1-14 1-10 1 7 1-10 1 6 1 7 1-20 1 20 1-11 1-11 1-4 1-10 1 18 1 17 1 12 1-17 1 6 1 14 1-4 1 2 1 14 1 18 1-1 1 24 1 4 1 4 1-12 1-8 1-3 1-11 1-17 1 18 1 7 1 12 1-8 1 23 1-15 1 4 1 6 1 17 1-10 1-4 1 23 1 3 1-5 1 11 1-9 1 6 1 19 1-6 1-9 1 4 1-10 1 13 1-23 1-3 1 2 1 6 1 26 1 6 1-4 1-18 1 7 1-18 1 9 1-1 1 3 1 9 1 7 1-5 1-2 1-2 1-14 1 0 1-7 1 3 1 23 1 19 1-17 1 15 1-24 1-11 1 2 1 5 1 7 1-3 1-2 1-9 1 6 1-14 1-3 1 3 1 10 1-6 1-15 1 10 1-12 1-10 1 24 1-12 1 22 1 10 1-4 1-12 1-1 1 8 1 20 1 5 1-27 1-9 1 11 1-3 1-2 1-40 1 19 1 4 1 4 1-10 1 5 1 23 1-11 1 4 1-15 1 12 1 7 1-9 1-23 1 23 1 6 1-8 1 2 1 11 1 4 1-4 1-1 1-1 1 23 1-4 1-6 1 5 1-3 1 1 1 4 1-7 1-13 1 1 1 9 1 18 1-1 1-5 1 14 1 8 1 4 1-13 1-3 1 1 1 5 1 13 1 3 1-13 1-5 1 8 1 16 1-23 1-3 1 2 1-1 1 18 1 4 1-3 1-1 1-10 1 9 1-4 1 19 1-7 1-3 1 0 1 11 1-11 1 5 1 2 1 6 1-10 1-8 1 17 1 12 1 15 1-2 1-4 1-9 1-7 1-2 1-6 1-1 1 13 1 9 1 10 1-3 1-13 1 20 1-19 1 17 1-6 1-21 1 8 1 6 1-2 1 1 1-4 1-4 1-5 1 11 1 4 1 8 1-3 1-10 1 4 1 10 1-11 1 25 1 3 1 2 1 5 1-24 1 12 1-8 1-4 1 1 1-3M224.70 1123 L225.00 900 225.30 1123M29.70 668 L30.00 958 30.30 668M33.03 668 L33.33 923 33.63 668" stroke="#00ffff"/>
<path d="M26.67 1051l1-383 1 0 1 0 1 0 1 0 1 0 1 0 1 0 1 0 1 0 1 398 1-336 1 26 1-14 1 23 1 29 1 14 1 11 1 40 1-4 1 24 1 13 1 21 1 5 1 26 1 19 1 3 1 7 1 14 1-16 1 20 1 1 1-16 1 10 1 13 1 3 1 21 1-6 1 26 1 5 1-5 1 3 1 7 1-15 1 5 1 13 1-4 1 7 1-1 1-6 1 5 1 10 1 0 1 24 1 28 1 1 1-14 1-6 1 19 1 7 1-14 1-1 1-4 1-6 1 0 1-8 1 13 1-17 1 0 1 2 1-13 1 25 1-5 1-8 1-1 1-19 1 4 1-11 1 5 1 5 1 5 1-8 1 14 1-12 1-7 1-3 1-20 1 1 1-4 1 5 1 1 1 4 1-2 1-6 1 9 1-10 1 4 1-5 1 4 1-12 1 0 1-9 1 3 1-16 1-4 1 10 1 14 1-8 1 5 1 5 1-11 1 15 1-3 1-7 1 9 1 0 1 15 1-14 1 10 1 12 1-15 1-19 1-14 1-8 1-7 1-18 1 20 1 2 1 14 1-5 1-13 1 8 1-1 1 13 1 2 1-10 1-1 1-8 1 9 1-15 1 14 1-18 1 20 1 15 1-1 1 1 1 0 1-2 1-13 1 11 1 14 1-8 1 19 1 3 1 0 1 18 1-13 1 22 1 2 1 7 1 2 1 18 1-21 1-4 1-3 1-6 1 16 1-10 1-6 1 4 1-12 1 2 1 4 1-3 1 1 1 26 1-8 1 1 1 4 1 7 1 7 1 7 1 6 1 8 1 5 1-21 1 17 1 10 1-8 1 12 1 14 1 7 1-2 1 2 1 28 1-27 1-4 1-1 1 2 1-16 1-27 1 29 1 21 1-4 1 6 1-8 1 22 1 2 1-14 1-2 1 4 1-5 1 13 1-15 1 22 1-1 1-2 1 12 1 11 1-4 1 1 1 16 1-25 1 7 1-2 1 4 1-2 1 11 1-1 1 6 1-24 1-11 1 16 1-9 1-9 1-5 1 4 1-12 1 26 1 3 1-2 1-18 1 0 1 4 1 3 1-6 1 8 1 17 1-10 1-7 1-11 1-12 1 13 1-4 1-6 1 7 1 4 1 7 1-32 1 8 1 8 1 22 1-19 1 4 1-4 1-15 1 11 1 19 1 16 1-26 1 17 1-3 1-18 1-24 1-18 1 22 1 28 1 2 1 4 1 14 1 17 1-14 1 1 1-30 1-19 1-4 1 5 1 12 1 28 1-9 1-16 1 20 1-21 1 7 1 0 1 15 1 15 1-18 1 1 1 5 1 9 1-13 1 6 1 9 1-6 1-15 1-3 1 7 1 2 1 6 1 15 1 8 1-15 1-1 1 12 1 4 1 10 1 25 1-13 1-22 1-6 1 17 1 18 1-12 1-6 1-15 1 15 1-11 1 11 1-10 1 9 1-15 1 8 1-4 1 11 1 9 1-9 1-25 1 27 1-4 1 11 1 17 1-7 1 8 1-6 1 8 1-2 1 17 1-15 1-10 1 3 1 13 1-6 1 8 1-13 1 12 1 14 1-11 1 1 1 6 1-2 1-8 1 14 1 9 1-9 1-6 1 1 1-8 1-15 1 9 1-18 1 15 1-1 1 8 1-7 1-4 1 7 1 5 1 7 1-1 1 0 1-10 1 4 1 2 1 4 1-6 1 1 1 6 1 6 1-4M31.70 668 L32.00 981 32.30 668" stroke="#00ffff"/>
<path d="M32.50 668l1 39 1 154 1 6 1-11 1 8 1 19 1 10 1-9 1 6 1 22 1 3 1-1 1 10 1 9 1-2 1-5 1 3 1-6 1 11 1 0 1 21 1 13 1 10 1-8 1 6 1 19 1-4 1 15 1 6 1 13 1-6 1 12 1 20 1-9 1 27 1 0 1-20 1 10 1 26 1-13 1-1 1 11 1 10 1-6 1 5 1 12 1 7 1-2 1 3 1-5 1-14 1 2 1 2 1 8 1 10 1 13 1 0 1 14 1-20 1-13 1 0 1 8 1 14 1-10 1-6 1 10 1-2 1 9 1-19 1-36 1 14 1 12 1-3 1-13 1 5 1 22 1-8 1 0 1-34 1 3 1 13 1 17 1 2 1 22 1 8 1-12 1-8 1-3 1-10 1-11 1-4 1-13 1-3 1 5 1-1 1 1 1-6 1 1 1 1 1 9 1-1 1-17 1 15 1 7 1-8 1 9 1 6 1-4 1 5 1 11 1 0 1-3 1 3 1 4 1 14 1-16 1-13 1 13 1 3 1 6 1-4 1-5 1-12 1-3 1 9 1 14 1-22 1 1 1-7 1 9 1 10 1 4 1-5 1-17 1 14 1-7 1 20 1 20 1-7 1-11 1 7 1 4 1-21 1 16 1-6 1 6 1 5 1-4 1 10 1-7 1-1 1-14 1 10 1 17 1 3 1-9 1 4 1 14 1-2 1-27 1 11 1 38 1-2 1 8 1-22 1-4 1 7 1-5 1-1 1-12 1 6 1-3 1 18 1 9 1 9 1 0 1 1 1 17 1-3 1 20 1 8 1 29 1 8 1-6 1 37 1-13 1 21 1-19 1 4 1-3 1 2 1 8 1 10 1-14 1 20 1 6 1 4 1 3 1 8 1 35 1-25 1-20 1 3 1-5 1 5 1-35 1-11 1 8 1 4 1 4 1 13 1-9 1-10 1-4 1 6 1-7 1-12 1 5 1-15 1-15 1 14 1-6 1-7 1 15 1-13 1-11 1 3 1-3 1 2 1 3 1-10 1 5 1-13 1-21 1 21 1 11 1 5 1-26 1 14 1-13 1 2 1-1 1-5 1 6 1-2 1-4 1 16 1-6 1 9 1 0 1-13 1-6 1-9 1 2 1 0 1 6 1 13 1 23 1 3 1-28 1-4 1 5 1-11 1 10 1-6 1-9 1-24 1 22 1 2 1 3 1 17 1-11 1 3 1 5 1 20 1-2 1 16 1-16 1-19 1 10 1-10 1 6 1-7 1 7 1-16 1 9 1 21 1 1 1-12 1 3 1-4 1 6 1 18 1-17 1 7 1 8 1 9 1-10 1-25 1 5 1 20 1 10 1-4 1 9 1-25 1 3 1 3 1-3 1-2 1 7 1-2 1-26 1 30 1 19 1-7 1-8 1 6 1 13 1 22 1 8 1-18 1-10 1-2 1 9 1 17 1 6 1-14 1 2 1-4 1 14 1-4 1-5 1-4 1 4 1 13 1-2 1 13 1-4 1-5 1-9 1 10 1-15 1-6 1 3 1 14 1-20 1 23 1-7 1 2 1-7 1 4 1-3 1 4 1 12 1 8 1-11 1-2 1 6 1-8 1 14 1-17 1-3 1 13 1-5 1 12 1-3 1-7 1 11 1 3 1 7 1-1 1 7 1-10 1-4 1 18 1-6 1-19 1 9 1-6 1 14 1-8 1 10 1-2 1-1M83.87 1094 L84.17 668 84.47 1094M389.70 1313 L390.00 668 390.30 1313M391.37 1305 L391.67 668 391.97 1305M386.37 1312 L386.67 1363 386.97 1312M354.70 1271 L355.00 1351 355.30 1271" stroke="#0000ff"/>
<path d="M55.00 668l1 0 1 0 1 0 1 0 1 0 1 0 1 0 1 14 1-10 1 10 1 1 1 52 1 1 1 18 1 18 1 14 1 16 1 28 1 34 1 1 1 34 1 6 1 26 1 1 1 12 1-14 1 17 1 1 1-5 1 21 1-18 1 8 1 7 1-27 1 1 1 10 1 2 1-23 1-32 1-6 1-7 1-29 1 21 1-7 1-3 1 31 1 4 1-5 1-13 1 34 1 7 1 23 1-45 1 10 1 24 1-13 1 1 1 8 1-3 1-12 1-3 1-16 1-9 1 15 1-4 1-14 1 12 1-11 1 18 1 36 1 1 1 31 1-25 1-5 1-21 1-20 1 3 1 9 1-19 1 0 1 10 1-28 1 9 1 24 1-22 1-18 1-12 1 25 1 30 1 17 1 4 1-29 1 20 1 1 1 20 1-5 1-33 1 8 1-12 1 3 1-24 1 5 1 15 1-3 1-17 1 37 1 7 1 17 1 32 1-1 1-20 1-1 1-6 1 42 1 24 1 10 1-5 1-17 1-20 1-22 1 45 1-20 1-32 1 10 1 23 1-40 1-7 1 4 1-1 1-1 1 12 1 3 1-18 1 17 1 25 1-6 1-3 1-2 1 3 1 39 1 7 1 25 1 9 1-25 1 6 1 3 1 7 1-41 1 29 1-22 1-4 1-6 1-13 1-25 1 37 1-4 1 2 1-10 1 21 1-11 1 28 1 23 1-8 1 29 1-23 1-10 1 31 1 28 1-2 1 2 1-10 1 14 1 18 1-10 1-31 1 11 1 29 1 10 1-18 1 16 1 37 1 3 1 8 1-41 1-25 1 19 1-20 1-17 1 13 1 3 1-25 1 35 1 40 1-19 1 3 1 17 1-29 1 10 1 28 1 16 1-61 1 4 1-7 1 11 1-4 1 7 1 34 1-28 1 7 1 0 1 5 1-45 1 25 1-32 1 24 1-29 1-4 1 14 1 2 1 2 1 25 1 25 1-36 1-9 1-15 1-29 1 4 1-44 1 13 1 20 1 7 1 9 1 20 1 28 1-6 1 0 1 30 1-44 1-22 1-3 1 5 1-13 1 5 1-26 1 9 1 19 1-32 1-5 1-12 1 24 1-9 1 17 1 15 1 19 1-15 1 12 1 16 1 19 1-13 1-61 1 21 1 2 1 10 1-4 1-17 1-27 1 15 1-9 1-12 1 2 1-10 1-9 1-26 1 18 1 2 1-7 1-20 1 15 1-14 1 5 1 28 1 47 1-36 1-5 1 42 1 0 1 17 1-3 1 38 1-13 1-27 1 33 1 7 1 42 1 19 1-3 1 5 1 3 1 19 1-9 1 18 1-29 1-12 1 0 1-9 1-8 1-23 1 7 1-2 1 25 1 2 1 10 1 2 1 17 1-14 1 33 1-47 1 5 1-29 1 5 1 25 1 20 1 4 1-16 1-18 1-1 1 6 1 10 1 3 1 9 1-13 1 4 1 3 1 10 1-9 1 11 1-3 1 10 1 12 1 1 1-12 1 21 1-3 1-12 1-10 1 1 1-10 1-3 1-8 1 44 1-19 1-13 1-6 1-18 1 4 1 26 1 9 1-5 1-11 1 3 1 3M221.37 1061 L221.67 923 221.97 1061M371.37 1155 L371.67 1032 371.97 1155M338.03 1020 L338.33 941 338.63 1020" stroke="#ff00ff"/>
<path d="M36.67 668l1 0 1 21 1 56 1 34 1 3 1 8 1 14 1 12 1 8 1-8 1 19 1 19 1 3 1-5 1-3 1 4 1 22 1 16 1-12 1 20 1-8 1 2 1 33 1 15 1 1 1 16 1 0 1 18 1 2 1 6 1 1 1-5 1 11 1 2 1 7 1 17 1-25 1 0 1-13 1 22 1 3 1 1 1 19 1 8 1-3 1 20 1 1 1 0 1 3 1-12 1-13 1 9 1 8 1 2 1 3 1 25 1 0 1-6 1 3 1-5 1 3 1 9 1-14 1-1 1 6 1-20 1 4 1 21 1 5 1 5 1-8 1-8 1 1 1 12 1 1 1-5 1-8 1-9 1-1 1-15 1 0 1-2 1-2 1 1 1-6 1-5 1 15 1 2 1 6 1 6 1 12 1-30 1 10 1-7 1-3 1 7 1-5 1 5 1-11 1 8 1-3 1 10 1-8 1-11 1-4 1 7 1 4 1 3 1 18 1-19 1-10 1 13 1 10 1 0 1-8 1 2 1-3 1 23 1-15 1-4 1 14 1-7 1 6 1-5 1 5 1 15 1-9 1 14 1 4 1-16 1 10 1 3 1-23 1 4 1-23 1-8 1 12 1 15 1-16 1 13 1-9 1-11 1 22 1-16 1 12 1 10 1 11 1 10 1 7 1-21 1-23 1 7 1-11 1 18 1-9 1 3 1 5 1 26 1 3 1 2 1-7 1 8 1 17 1-14 1 2 1 7 1-2 1-8 1 5 1 16 1 8 1 27 1 4 1-11 1 17 1 13 1 5 1 3 1 9 1-9 1 15 1 30 1 26 1 4 1 15 1-7 1 4 1-27 1 21 1-2 1 8 1-26 1 12 1-15 1 6 1 16 1-3 1-1 1-9 1 6 1-3 1-24 1 8 1-8 1 10 1 15 1 10 1-6 1-20 1-1 1-12 1 9 1-10 1-3 1 3 1-13 1-8 1-14 1 13 1-2 1-19 1 8 1 7 1-23 1 1 1-2 1 22 1-31 1-4 1 9 1-8 1 10 1 8 1-6 1 8 1-16 1 7 1 13 1 2 1-2 1-6 1 3 1-10 1-7 1-13 1-12 1-11 1 21 1-12 1 21 1-9 1 9 1 0 1-12 1-26 1 23 1 2 1-10 1 28 1-12 1 23 1-23 1 22 1-6 1 18 1-10 1-9 1-8 1 5 1 7 1 2 1-8 1 19 1-22 1 6 1 5 1 14 1 0 1 3 1-16 1 6 1 16 1 5 1-11 1 8 1-13 1 11 1-6 1 17 1 14 1-9 1 0 1-8 1 0 1 2 1-17 1-7 1 20 1 16 1 17 1 5 1-17 1 17 1 6 1 7 1-2 1-9 1 1 1-17 1 14 1-10 1 2 1 10 1-5 1 5 1 10 1-11 1 5 1 1 1-1 1 17 1 2 1 2 1-14 1 5 1-4 1 14 1 4 1 3 1 19 1 12 1 0 1-7 1-27 1 1 1 15 1-7 1 0 1 27 1 2 1-10 1-22 1 10 1-10 1 1 1 16 1 0 1-4 1-10 1 3 1-8 1 9 1-1 1 1 1-3 1 17 1-7 1 6 1-12 1 5 1 16 1 10 1 19 1-7 1-9 1 2 1-9 1-3 1 8 1-2 1 6 1-4 1 6 1 2 1-9 1 0 1 3 1 7 1 2 1 8" stroke="#0000ff"/>
<path d="M55.00 668l1 0 1 0 1 0 1 0 1 0 1 0 1 0 1 0 1 9 1 33 1-1 1-1 1 51 1 58 1-11 1 20 1 24 1-4 1 35 1 0 1 22 1 44 1-16 1-27 1 8 1 41 1 19 1 22 1-31 1-4 1 1 1 18 1 0 1 23 1-7 1-29 1 11 1 21 1-31 1-12 1 10 1-1 1-22 1 1 1-4 1 17 1-8 1-21 1-4 1 16 1 1 1 23 1-17 1 9 1-10 1-37 1 9 1 27 1-27 1-1 1 2 1 9 1 6 1 0 1 28 1-15 1 14 1-21 1 8 1-13 1 28 1-8 1-4 1-3 1-4 1 2 1-26 1 20 1-9 1-11 1 15 1-14 1 23 1 4 1 25 1 8 1-17 1-5 1-4 1 8 1-25 1-1 1-1 1-14 1-6 1 18 1 23 1-25 1 54 1 18 1-35 1 12 1 2 1 21 1-2 1-10 1-8 1-7 1-12 1 20 1-30 1 26 1 5 1 16 1-4 1 11 1 2 1-14 1-8 1 7 1 32 1 0 1-5 1 4 1 1 1-23 1 0 1 12 1-16 1-31 1 26 1 19 1 4 1-11 1-18 1 11 1 32 1-28 1-53 1-3 1 0 1-4 1 28 1-1 1 9 1-1 1 2 1 37 1-38 1 20 1 33 1-17 1 24 1-13 1 20 1 8 1-36 1 1 1 11 1 39 1 8 1-2 1-11 1 7 1-4 1 23 1 11 1 17 1 3 1 36 1-28 1 14 1-51 1 46 1-2 1 8 1 9 1-1 1-25 1 6 1 17 1-2 1-7 1 18 1 3 1-9 1 16 1-10 1 25 1-1 1 15 1-7 1-23 1-3 1-12 1-8 1 0 1-5 1-1 1-11 1 12 1-37 1 37 1-11 1 32 1-19 1-12 1 6 1-1 1 12 1 11 1 8 1 4 1-14 1 3 1-7 1 23 1-16 1 17 1-34 1-36 1-7 1 11 1 13 1 3 1 15 1 19 1-2 1-6 1 20 1 3 1-19 1 3 1 5 1 23 1-16 1 1 1-12 1-12 1-2 1 24 1 4 1 12 1 6 1-19 1-30 1-1 1-7 1 46 1-13 1-22 1-26 1-7 1 13 1 33 1-3 1 28 1-24 1-7 1-24 1 11 1 19 1-13 1-22 1 10 1-19 1 20 1-9 1-6 1 13 1-10 1 2 1 16 1-29 1-3 1 24 1 0 1-24 1-21 1-14 1-11 1-36 1 23 1 8 1-32 1 34 1 17 1 0 1 10 1 18 1 28 1 22 1 1 1-14 1 1 1-13 1 46 1 6 1 8 1-6 1-7 1-36 1 9 1 36 1 21 1 14 1-14 1-7 1-13 1 21 1-8 1 5 1-14 1 16 1-5 1-18 1 10 1 50 1-36 1-2 1 12 1 0 1-15 1-8 1-7 1 0 1 22 1 8 1-5 1-8 1 5 1 0 1-13 1 25 1-7 1-5 1-19 1 0 1 22 1 13 1 22 1 10 1-8 1 10 1-19 1 2 1 7 1-16 1-5 1 14 1 2 1-19 1 8 1 4 1-16 1-2 1 16 1-6 1 17 1-3 1-13M331.37 1133 L331.67 969 331.97 1133" stroke="#ff00ff"/>
<path d="M45.00 668l1 0 1 40 1 104 1 44 1 7 1 15 1 17 1 4 1 18 1 26 1 9 1 10 1 12 1 23 1 7 1 11 1 8 1 10 1 9 1 9 1-18 1 21 1 2 1 2 1-20 1 26 1-6 1 16 1 18 1-3 1-3 1-15 1 12 1-3 1 6 1 8 1 0 1 13 1 4 1 22 1 10 1 1 1 5 1-7 1 6 1-4 1-15 1-6 1 20 1-1 1 7 1-11 1 6 1 3 1-3 1-4 1-5 1 11 1 0 1 7 1-12 1 7 1-2 1-21 1 21 1-8 1 5 1-12 1 0 1-6 1-25 1 9 1-1 1 4 1 5 1 6 1-9 1-10 1 0 1 22 1-12 1-7 1-4 1-11 1 6 1-6 1 6 1 0 1-12 1 1 1-1 1 24 1-7 1-1 1-7 1 28 1-2 1-13 1-3 1 10 1 2 1 3 1-10 1-15 1 15 1-2 1-4 1-22 1 7 1-23 1 19 1 4 1 10 1-13 1-5 1-2 1 10 1-9 1 6 1 12 1 9 1 8 1 1 1-4 1-8 1-15 1 21 1-4 1-5 1 5 1 17 1-4 1 5 1 13 1-28 1-6 1 6 1-6 1 7 1 8 1 3 1 16 1 6 1-12 1 5 1-17 1 3 1 5 1 0 1 12 1-2 1 3 1-9 1 19 1-7 1 2 1 6 1 3 1 9 1 6 1 11 1 9 1-3 1 12 1 8 1 10 1 33 1-21 1 16 1 4 1 8 1 5 1 18 1 18 1 10 1 0 1-10 1-2 1 11 1-18 1-5 1 9 1-15 1-14 1 16 1 15 1-2 1 15 1-18 1 11 1 4 1 20 1 6 1-29 1-14 1 2 1 27 1 13 1-18 1-9 1-4 1-3 1 10 1-21 1 6 1-21 1-3 1-10 1-4 1 18 1 0 1 0 1-25 1 10 1 6 1 11 1-24 1 14 1-5 1-8 1 9 1-28 1 4 1 8 1-5 1-3 1 13 1-17 1-22 1 14 1 16 1 4 1-9 1 2 1-2 1-21 1-10 1 12 1-13 1 0 1 7 1 3 1-6 1 4 1-11 1-15 1 6 1 31 1-5 1 5 1-14 1 10 1 7 1 2 1-3 1 21 1 5 1-4 1 10 1 2 1 13 1-16 1-7 1-3 1-6 1-2 1 21 1-1 1-16 1 0 1-25 1 13 1 13 1 12 1 14 1-5 1-14 1 5 1 4 1-2 1-11 1 30 1 4 1-25 1 17 1-11 1 1 1 3 1 6 1-19 1 9 1 9 1 1 1 19 1-26 1 17 1-6 1 9 1 12 1 6 1 2 1-8 1-20 1-7 1-7 1 4 1 13 1-9 1 7 1 19 1-4 1-7 1 22 1-8 1-10 1-24 1 16 1 10 1-4 1 17 1 9 1-17 1 4 1-19 1 20 1 12 1 11 1-23 1 10 1-9 1 18 1 7 1 1 1-24 1-1 1-3 1 11 1-3 1 20 1-3 1 4 1-7 1 4 1-6 1 7 1 8 1 11 1 10 1 1 1-4 1 9 1 8 1-18 1-16 1 15 1-8 1 3 1-12 1 4 1 2 1 12 1-7 1-4 1 3 1 4 1 5 1 6 1 1 1 2 1 5 1 3" stroke="#0000ff"/>
<path d="M55.00 668l1 0 1 0 1 0 1 0 1 0 1 0 1 7 1 14 1 6 1-6 1 51 1-10 1-16 1 31 1-1 1 30 1 28 1 14 1 20 1 57 1 15 1-4 1 16 1-19 1 11 1 18 1 19 1 7 1-24 1 36 1 30 1-5 1 8 1 1 1-34 1-19 1-27 1 10 1-4 1-42 1-9 1 44 1-6 1 4 1-14 1-12 1-10 1-9 1 9 1 12 1 6 1-5 1 28 1-13 1-18 1 35 1-9 1 32 1-11 1-12 1 12 1-11 1 5 1-5 1-5 1-1 1 3 1 6 1-20 1-31 1 14 1 20 1-21 1-10 1 3 1-19 1 16 1 15 1-37 1 4 1 2 1 24 1 0 1-3 1 8 1 20 1-2 1 12 1-18 1 2 1-22 1 11 1 18 1 10 1-9 1-26 1 3 1-42 1 50 1-5 1 16 1-29 1-19 1-15 1-17 1 37 1 42 1 15 1-17 1 16 1 5 1 8 1-43 1 2 1 29 1 23 1-20 1-8 1 12 1 27 1-45 1-10 1 5 1 20 1-8 1-2 1-5 1-26 1 23 1 28 1 3 1 19 1 17 1 13 1-26 1-6 1-3 1-7 1 28 1-31 1 14 1-2 1 30 1-27 1 2 1 5 1 25 1-2 1 1 1 0 1 15 1-5 1-13 1 23 1 4 1 8 1 2 1 3 1-10 1 27 1-17 1 6 1 4 1 30 1-15 1-18 1 18 1 7 1 12 1 0 1 4 1-27 1 22 1 4 1 16 1-5 1 38 1-17 1 16 1-10 1 11 1 6 1-1 1 7 1-23 1-14 1 20 1-7 1-15 1 12 1 5 1 14 1-9 1 10 1 9 1 7 1-8 1-6 1 8 1 13 1-25 1 27 1-6 1-2 1-25 1 1 1-17 1 19 1 10 1 10 1-18 1 4 1-32 1-8 1-26 1 6 1-6 1-13 1 15 1 12 1 23 1-22 1 17 1-11 1-1 1 8 1 1 1-23 1 26 1 6 1-18 1 8 1-5 1-7 1 11 1 17 1-5 1-1 1-9 1 23 1-3 1-12 1 26 1-49 1 2 1 13 1 1 1 6 1-9 1 3 1 18 1-11 1-5 1 40 1-22 1 8 1-30 1-23 1 33 1-6 1 31 1-9 1 0 1-3 1-31 1 20 1-47 1 17 1-25 1-30 1 5 1 17 1 2 1-4 1 10 1-11 1-32 1 48 1 0 1-10 1 8 1-1 1-37 1-6 1 41 1 16 1 10 1-4 1 37 1-12 1 21 1 10 1 21 1-6 1-42 1 33 1 21 1 13 1-14 1-13 1 18 1 9 1 0 1 33 1-20 1-21 1 9 1-29 1 17 1-11 1 15 1 9 1 1 1 22 1 5 1-13 1-20 1-3 1-7 1-14 1-16 1 26 1 24 1-5 1 6 1 4 1 4 1-11 1 24 1 1 1-1 1 9 1-17 1-7 1 7 1 22 1 3 1 17 1-21 1 8 1-1 1-48 1 10 1-12 1 5 1 9 1 11 1-3 1 2 1 1 1-18 1 27 1-34 1 5 1 26 1-4 1-3 1-2 1 7 1-4 1 20" stroke="#ff00ff"/>
<path d="M54.17 668l1 0 1 18 1 84 1 17 1 32 1 8 1 21 1 15 1 4 1 27 1 14 1 48 1 2 1 10 1 14 1 25 1-7 1-14 1 5 1-16 1 30 1-8 1-11 1 14 1-1 1 10 1 11 1 9 1 14 1-11 1 1 1-20 1 4 1 11 1 6 1-25 1 3 1-5 1 21 1-15 1 23 1-15 1 14 1-11 1 9 1 10 1-25 1 0 1-1 1 6 1 20 1-25 1 7 1 15 1-9 1-9 1 10 1 12 1-18 1-11 1 3 1 7 1 3 1 11 1-15 1-17 1 16 1 2 1-14 1 21 1-17 1 1 1 5 1 2 1 6 1 0 1 1 1 6 1 4 1 5 1 19 1-16 1-5 1-9 1-5 1 25 1-22 1 14 1-6 1-19 1-6 1-6 1-2 1 16 1-4 1 10 1-15 1 4 1 3 1 7 1 7 1-13 1 0 1 1 1-5 1 3 1 5 1 12 1-5 1 5 1-7 1 0 1-1 1 2 1 8 1 12 1 5 1-9 1-1 1 8 1-2 1-24 1 16 1-13 1 2 1 3 1-9 1 16 1 7 1-1 1 7 1-5 1 13 1 13 1-5 1-1 1 21 1-24 1-2 1 7 1-2 1-8 1 4 1 11 1 1 1 10 1 1 1-25 1 16 1-13 1 20 1-34 1 13 1 42 1-1 1 22 1 5 1 17 1-21 1 26 1 9 1 17 1 0 1 21 1 26 1-2 1 19 1 0 1 2 1-14 1-5 1 4 1-17 1-18 1 11 1 27 1-6 1-15 1-4 1-6 1-11 1 6 1-11 1 4 1-10 1 0 1-5 1 17 1-1 1-11 1 0 1 11 1 0 1 14 1-8 1-22 1-7 1-5 1 5 1-4 1 5 1-13 1 9 1 2 1 1 1-10 1-10 1 1 1-10 1 5 1 11 1-14 1 4 1 3 1-17 1-14 1 18 1 10 1 4 1 10 1-21 1-12 1 9 1 5 1 4 1-8 1 11 1 11 1-19 1 22 1 3 1-26 1 11 1 0 1 19 1-4 1 16 1 2 1-22 1-3 1-3 1 14 1-29 1 10 1 4 1 5 1-13 1-3 1-9 1 16 1 16 1-13 1-12 1-8 1 25 1-26 1 34 1-8 1 6 1 23 1 1 1 9 1-22 1 4 1 7 1 7 1 7 1 4 1 1 1-5 1 16 1-1 1-14 1 0 1 13 1-12 1 1 1-11 1-2 1 4 1-5 1 23 1 1 1-2 1-13 1 13 1 12 1-5 1-26 1 15 1-5 1-9 1 5 1 23 1 0 1 16 1-20 1 24 1-16 1-3 1-5 1 16 1-13 1-19 1 22 1 7 1 17 1-20 1 3 1 5 1-6 1 12 1-21 1-13 1 9 1 6 1 6 1 1 1-6 1 5 1 8 1 11 1-2 1-19 1 1 1 7 1 18 1-4 1 14 1 0 1 2 1-11 1 5 1 11 1-12 1-13 1 12 1 1 1 3 1-2 1-6 1 2 1 5 1-11 1 0 1 1 1-4 1-3 1 13 1 1 1 4 1-12 1 5 1 4 1 1 1 1 1 11 1 7 1-9 1 2 1-2 1-10" stroke="#0000ff"/>
<path d="M55.00 668l1 0 1 0 1 0 1 0 1 0 1 0 1 0 1 20 1 32 1 28 1 36 1-16 1 32 1 14 1 0 1 43 1 23 1 34 1-8 1 39 1 12 1 28 1-22 1 49 1-21 1-35 1 29 1 33 1 16 1-3 1-10 1 0 1 7 1 23 1-42 1-28 1 16 1-15 1-5 1 21 1-1 1-6 1-4 1-28 1 21 1-32 1 11 1 17 1-16 1 7 1 29 1 20 1-15 1-13 1-39 1 16 1 11 1-6 1-16 1 6 1-24 1-22 1 21 1 40 1 7 1-18 1 10 1-6 1-10 1 10 1-35 1-1 1 10 1 12 1-8 1 17 1 41 1-24 1 19 1-26 1 11 1-24 1 1 1 10 1 22 1-2 1 13 1-8 1 22 1-19 1-40 1-32 1-5 1 16 1 35 1 8 1-26 1-34 1 18 1 46 1-16 1-2 1 28 1-34 1-21 1 22 1-30 1 8 1 19 1 21 1 15 1-2 1-18 1 10 1 22 1 6 1-2 1-51 1 25 1 6 1-31 1-42 1 26 1 33 1 27 1-4 1 13 1 8 1-41 1 22 1-1 1-20 1 77 1-16 1-12 1-15 1 29 1-7 1-10 1 14 1-11 1-15 1-26 1 21 1 4 1-20 1 23 1-10 1 9 1 41 1 8 1 1 1 11 1 31 1-38 1 36 1-29 1-5 1 17 1 13 1-31 1 20 1 23 1 14 1 5 1-11 1 14 1 49 1-54 1-1 1 11 1 6 1 28 1 26 1-16 1 7 1-21 1-2 1 10 1 3 1-41 1 39 1 18 1 12 1-7 1-4 1-13 1 3 1-13 1-48 1 18 1 50 1 8 1-46 1-17 1 26 1-5 1 1 1 29 1-1 1 23 1 20 1 4 1-27 1-25 1-20 1-12 1 15 1 3 1-3 1 9 1-41 1 4 1-13 1 3 1 61 1 4 1-26 1-22 1-6 1 1 1-25 1-13 1-14 1 12 1 16 1-28 1 15 1 4 1 31 1-4 1 17 1-22 1 0 1-11 1 39 1 30 1-5 1 5 1 5 1-18 1 4 1 15 1-27 1 4 1 15 1 37 1-46 1-10 1-2 1 12 1-6 1 18 1-19 1 42 1-19 1 20 1-26 1 34 1-21 1 21 1-1 1-21 1-13 1-28 1-37 1 3 1-24 1-2 1 47 1 8 1-33 1 0 1-21 1 3 1-12 1-12 1-4 1 3 1 21 1 4 1-15 1-10 1 43 1 30 1-12 1 4 1 8 1 18 1 40 1 9 1-5 1-24 1-3 1 39 1-26 1 29 1-13 1 20 1-2 1-13 1-19 1 8 1-10 1-7 1 6 1-15 1 24 1 29 1-16 1-10 1 13 1-24 1-21 1 10 1-2 1-8 1 20 1-4 1 9 1 12 1-9 1 5 1-20 1 18 1 10 1 21 1-1 1-12 1-13 1 10 1-8 1 7 1 14 1 6 1 0 1-1 1 16 1 15 1 2 1-24 1 9 1-16 1-7 1 1 1 22 1-20 1 15 1 4 1 0 1-10 1-5 1 0 1 5 1 0 1 25 1 0 1-12 1-3 1 15 1 6" stroke="#ff00ff"/>
<path d="M33.33 1541l1-340 1-14 1 4 1-3 1-4 1-19 1-3 1 0 1-7 1-10 1 1 1 2 1-1 1-17 1-19 1-13 1 2 1 9 1-1 1-2 1 15 1-17 1 2 1 9 1 4 1 12 1 2 1-8 1 14 1 18 1 3 1 9 1 13 1 15 1-8 1 6 1-1 1 11 1 19 1 1 1 7 1 5 1 10 1-11 1-9 1 0 1-1 1 3 1 8 1-4 1-2 1 4 1-16 1 8 1 3 1-7 1-9 1-7 1-17 1 3 1-11 1-12 1 12 1-3 1-22 1-4 1 5 1 1 1-6 1 0 1-1 1-7 1 1 1 15 1-6 1-7 1-4 1 8 1-16 1-7 1-5 1 4 1-7 1-8 1-9 1 8 1 6 1-1 1 8 1-8 1 2 1 12 1-8 1 8 1 9 1-11 1-7 1 0 1-8 1-4 1 24 1 5 1 5 1-4 1-11 1-3 1-5 1-9 1 4 1-12 1 3 1-10 1 9 1-8 1-5 1-3 1 3 1-17 1 11 1-3 1 21 1-2 1-8 1-12 1-13 1 21 1-12 1 4 1-8 1 3 1 11 1-10 1-8 1-17 1 15 1 7 1 13 1-13 1 4 1-3 1-7 1 0 1 5 1-10 1 9 1-4 1-1 1-2 1 18 1 11 1 2 1-12 1-17 1 19 1 11 1 6 1-19 1 6 1-4 1-4 1 1 1-2 1 17 1 0 1-8 1-3 1 2 1-5 1-5 1 18 1-3 1-2 1 6 1 3 1-7 1 2 1 10 1 20 1 5 1 0 1 13 1 7 1 13 1-1 1-4 1-7 1 8 1 6 1 20 1 3 1-17 1 0 1 5 1-2 1-10 1 4 1 0 1-4 1-17 1 7 1 9 1 13 1 3 1-3 1 11 1 3 1 12 1 8 1 22 1-7 1-4 1-3 1-4 1 2 1 2 1-6 1-2 1-22 1 8 1-3 1 15 1-2 1-23 1-31 1-4 1 7 1-11 1 5 1-2 1 6 1-4 1 5 1 3 1 14 1-30 1 1 1-5 1-6 1 11 1-6 1 8 1 6 1 10 1-8 1-17 1 15 1 0 1-9 1 3 1-14 1 11 1-30 1 9 1 12 1 8 1-10 1-13 1 3 1 2 1 27 1-6 1 11 1 14 1-7 1-5 1-18 1 0 1-10 1-1 1-28 1 23 1-4 1 6 1-3 1-13 1-12 1 7 1 9 1 15 1 5 1 38 1 11 1 23 1-9 1-2 1-7 1 5 1 23 1 25 1-6 1-17 1-17 1 5 1-1 1-13 1 8 1 14 1 5 1 20 1-9 1-4 1 4 1 6 1 0 1-4 1 0 1-1 1 0 1-5 1 5 1 8 1-4 1 1 1 0 1 6 1 7 1 1 1-6 1 0 1 0 1-1 1 9 1 0 1 3 1-1 1 9 1-3 1 3 1-4 1-5 1 3 1-1 1-2 1 0 1-1 1-5 1 12 1 4 1 2 1 2 1 1 1-3 1-4 1-1 1-8 1 2 1 0 1-2 1 4 1 6 1-4 1 3 1 3 1 5 1 7 1 0 1 4 1-4 1-1 1 0 1-1 1 1 1-2 1 1 1 0 1 1 1 2 1 2 1 1 1 0 1-2 1 1 1 4 1-1 1 0 1-3 1-3 1 1 1 3 1 5 1-2 1-2 1 1M63.03 1157 L63.33 1536 63.63 1157M63.70 1160 L64.00 668 64.30 1160M128.87 1129 L129.17 1254 129.47 1129M374.03 1270 L374.33 1090 374.63 1270M375.37 1267 L375.67 1328 375.97 1267M362.20 1260 L362.50 1293 362.80 1260M395.53 1277 L395.83 1316 396.13 1277" stroke="#000000"/>
<path d="M55.00 668l1 0 1 0 1 0 1 0 1 14 1 41 1 37 1 43 1 40 1 23 1 32 1 13 1-2 1 27 1-11 1-1 1 10 1 11 1 11 1 8 1 15 1 5 1 2 1-10 1-9 1 26 1 9 1 9 1 12 1-10 1-8 1-29 1 20 1-9 1-9 1-23 1 10 1-11 1 4 1-13 1 6 1-30 1 11 1-6 1-10 1 28 1 7 1 7 1-17 1 21 1 31 1 2 1 8 1 5 1 6 1 5 1-6 1-9 1-10 1 0 1 10 1-4 1-3 1 4 1 2 1-13 1 6 1 0 1 9 1 7 1-19 1 1 1 15 1 1 1-1 1 17 1 5 1-4 1-9 1 4 1-1 1 2 1-27 1 26 1-3 1-11 1 2 1 0 1 7 1 7 1 9 1-25 1 13 1-22 1 7 1 5 1 15 1-1 1 6 1-1 1 3 1 10 1-1 1 11 1 0 1-12 1 7 1-2 1-5 1 10 1-13 1 24 1-1 1-22 1-10 1 7 1 0 1 5 1-15 1 15 1-3 1-5 1 2 1-7 1 9 1-19 1 23 1 17 1-4 1-10 1 13 1 3 1 13 1-4 1 4 1 0 1-14 1-3 1-10 1 31 1-10 1-10 1 20 1 8 1-6 1 2 1-7 1 24 1-14 1 2 1 12 1 13 1 1 1-9 1 18 1 3 1 15 1 7 1 23 1-2 1-11 1 7 1 0 1 1 1 6 1-3 1 5 1 8 1-11 1-4 1 0 1 0 1 8 1 6 1-37 1 25 1 16 1-14 1 6 1 2 1-3 1 9 1 4 1 5 1 8 1 1 1 11 1-1 1-2 1-11 1 7 1 2 1 0 1-5 1 15 1-18 1 10 1-1 1-2 1-4 1-5 1 8 1 9 1-12 1 27 1 9M196.37 1057 L196.67 1027 196.97 1057" stroke="#000000"/>
<path d="M263.33 1117l1 11 1-7 1 12 1 17 1-15 1-14 1-3 1-7 1 3 1 2 1 14 1 4 1 7 1-4 1-17 1 5 1-7 1 1 1 1 1-13 1 12 1 8 1-8 1-4 1-4 1-1 1-1 1-6 1 18 1 2 1 18 1 8 1 20 1 2 1 9 1-13 1-4 1-23 1-5 1-30 1 4 1-2 1-2 1 10 1-21 1 3 1-8 1 14 1 15 1 15 1 13 1 13 1 23 1-1 1 17 1-3 1 22 1-7 1 0 1 12 1 0 1 8 1-5 1 2 1-1 1 10 1-9 1-1 1 6 1-2 1 1 1-3 1-2 1 0 1 13 1 12 1-1 1 7 1-2 1-7 1 1 1 5 1 1 1-12 1 7 1 0 1-1 1-2 1-7 1-1 1 2 1 5 1 5 1 0 1-5 1 5 1-3 1 7 1 4 1-1 1 1 1-3 1 1 1-5 1 7 1-1 1 6 1-1 1-1 1-1 1-1 1-1 1 1 1 5 1-1 1 3 1 4 1-4 1 9 1-3 1-5 1 2 1-5 1 1 1 1 1-2 1 2 1 8 1-1 1 0 1 3 1-4 1 3 1 0 1-7 1 1 1 2 1 1 1 4 1-3 1 5 1 2 1-4 1-1 1-3 1 10 1-1 1 2 1 0 1-3 1-1 1 1 1-2" stroke="#000000"/>
</g></g>
<rect x="753.9" y="210.5" width="422.0" height="144.6" fill="none" stroke="#7a7a7a" stroke-width="1"/>
<path d="M838.3,210.5v4.3M838.3,355.1v-4.3M922.7,210.5v4.3M922.7,355.1v-4.3M1007.1,210.5v4.3M1007.1,355.1v-4.3M1091.5,210.5v4.3M1091.5,355.1v-4.3M753.9,297.3h4.3M1175.9,297.3h-4.3M753.9,239.4h4.3M1175.9,239.4h-4.3" stroke="#7a7a7a" stroke-width="1" fill="none"/>
<text transform="translate(759.8,363.1) rotate(-90)" font-size="16.3" text-anchor="end" font-family="Liberation Sans, sans-serif" fill="#262626" >0</text>
<text transform="translate(844.2,363.1) rotate(-90)" font-size="16.3" text-anchor="end" font-family="Liberation Sans, sans-serif" fill="#262626" >5</text>
<text transform="translate(928.6,363.1) rotate(-90)" font-size="16.3" text-anchor="end" font-family="Liberation Sans, sans-serif" fill="#262626" >10</text>
<text transform="translate(1013.0,363.1) rotate(-90)" font-size="16.3" text-anchor="end" font-family="Liberation Sans, sans-serif" fill="#262626" >15</text>
<text transform="translate(1097.4,363.1) rotate(-90)" font-size="16.3" text-anchor="end" font-family="Liberation Sans, sans-serif" fill="#262626" >20</text>
<text transform="translate(1181.8,363.1) rotate(-90)" font-size="16.3" text-anchor="end" font-family="Liberation Sans, sans-serif" fill="#262626" >25</text>
<text transform="translate(1197.5,355.9) rotate(-90)" font-size="16.3" text-anchor="middle" font-family="Liberation Sans, sans-serif" fill="#262626" >0</text>
<text transform="translate(1197.5,299.5) rotate(-90)" font-size="16.3" text-anchor="middle" font-family="Liberation Sans, sans-serif" fill="#262626" >0.1</text>
<text transform="translate(1197.5,241.6) rotate(-90)" font-size="16.3" text-anchor="middle" font-family="Liberation Sans, sans-serif" fill="#262626" >0.2</text>
<rect x="838.3" y="402.0" width="253.2" height="145.2" fill="#cbcbcb"/>
<path d="M838.3,402.0V547.2M1091.5,402.0V547.2" stroke="#5e5e5e" stroke-width="1" fill="none"/>
<path d="M930.8,402.0V547.2" stroke="#999" stroke-width="0.8" stroke-dasharray="0.9,2.3" fill="none"/>
<clipPath id="c_b3"><rect x="753.9" y="402.0" width="422.0" height="145.2"/></clipPath>
<g clip-path="url(#c_b3)"><g transform="translate(753.90 0) scale(1.01280 0.25)" fill="none" stroke-width="1.60" stroke-linejoin="round" vector-effect="non-scaling-stroke" class="ns">
<path d="M28.33 2363l1-75 1-137 1-139 1-100 1-97 1-128 1-112 1-105 1-36 1 0 1 0 1 0 1 0 1 3 1-3 1 13 1 40 1 32 1 99 1 39 1 21 1-12 1 13 1 5 1 8 1-6 1 46 1-51 1 51 1-2 1 39 1 11 1 1 1-7 1-35 1 26 1 1 1 46 1-13 1 25 1 32 1-39 1 5 1-28 1-27 1 14 1 37 1 14 1-16 1 27 1-18 1 52 1-66 1-26 1 28 1-28 1 24 1-10 1-20 1 12 1-28 1 28 1 61 1-8 1 2 1-78 1 52 1 6 1-8 1 8 1-29 1 19 1-29 1 6 1-17 1 29 1 25 1-47 1-14 1 20 1 41 1 9 1-69 1 17 1-46 1 20 1 11 1-14 1-10 1 56 1-66 1 15 1 36 1 55 1-73 1-7 1 54 1-67 1 26 1 14 1 34 1-34 1-29 1 41 1 11 1-16 1 10 1-20 1 8 1 23 1-61 1 52 1-35 1 22 1-43 1 58 1-8 1 24 1-44 1 1 1 37 1-52 1 70 1-48 1-68 1 33 1 37 1-33 1 30 1-36 1 18 1 26 1-16 1-36 1 96 1-24 1-1 1 33 1 7 1 1 1-63 1 6 1-29 1 6 1-12 1 39 1-10 1 1 1-5 1 27 1-9 1-3 1-8 1 8 1-20 1 55 1-30 1-6 1-7 1 30 1-30 1-15 1-50 1 66 1-4 1 4 1-4 1 38 1-55 1 11 1-21 1 20 1-20 1-25 1 15 1-5 1 64 1 8 1 4 1 11 1 8 1 19 1-46 1 1 1-45 1 22 1-26 1 22 1 4 1 4 1-29 1-33 1 51 1 13 1 13 1-12 1-3 1 20 1-57 1 14 1-23 1 23 1 20 1-48 1-4 1-5 1 2 1-16 1 77 1-17 1 23 1-25 1-11 1 24 1 41 1-46 1 2 1-10 1-12 1 10 1 14 1-25 1 22 1-19 1-11 1 32 1-48 1-13 1 31 1 12 1 15 1 24 1-60 1 1 1 24 1-101 1 19 1 8 1-10 1 17 1 31 1 42 1-18 1 3 1-3 1-5 1-7 1 5 1 48 1-26 1-17 1 34 1-8 1-25 1-6 1 37 1-29 1 20 1-38 1-31 1 24 1-36 1 27 1 41 1-61 1 24 1-20 1 28 1 18 1 32 1-17 1 25 1-79 1 9 1 35 1-6 1 3 1 0 1-21 1 18 1-19 1 5 1 14 1-17 1 5 1-6 1 7 1-6 1 24 1-2 1-4 1 1 1-16 1-29 1 44 1 25 1 7 1-34 1-15 1 31 1-22 1-23 1-15 1 7 1 52 1 22 1-5 1-34 1-47 1 53 1-28 1 47 1-5 1 26 1-25M93.03 1846 L93.33 2005 93.63 1846M118.03 1804 L118.33 2053 118.63 1804M143.03 1754 L143.33 2005 143.63 1754M168.03 1859 L168.33 2005 168.63 1859M245.53 1788 L245.83 2140 246.13 1788M268.03 1718 L268.33 2146 268.63 1718M193.03 1796 L193.33 1918 193.63 1796M218.03 1804 L218.33 1937 218.63 1804" stroke="#ff0000"/>
<path d="M28.33 2327l1-100 1-66 1-152 1-123 1-107 1-116 1-116 1-113 1 0 1 0 1 0 1 0 1 0 1 0 1 0 1 15 1 50 1 77 1 32 1 17 1 40 1 15 1 13 1-44 1 13 1 43 1 16 1 45 1-8 1-16 1-10 1-11 1 2 1 32 1-24 1 27 1 14 1 16 1-35 1 68 1-42 1 8 1-4 1-34 1 31 1 10 1-49 1 63 1 28 1-35 1-15 1 7 1 25 1 32 1-57 1-2 1-10 1 23 1 12 1-28 1 17 1-10 1-20 1-5 1-23 1 14 1 42 1 14 1-6 1-18 1-75 1 62 1 14 1-9 1-40 1-6 1 13 1 44 1 21 1-4 1-51 1 20 1-2 1 39 1-26 1-26 1 17 1 5 1 22 1-8 1-37 1 8 1 11 1 23 1-52 1 33 1-38 1 20 1-7 1 4 1 8 1 1 1 47 1-46 1-45 1 50 1-6 1-26 1 32 1-58 1 29 1-33 1 39 1 25 1 12 1 31 1-53 1-21 1 18 1-24 1 13 1-6 1-24 1-19 1 45 1 41 1-1 1-31 1 13 1-10 1 58 1-24 1-35 1-14 1 33 1-38 1 11 1 12 1-27 1 32 1 13 1-26 1 20 1 42 1-39 1-10 1 39 1 6 1 2 1 13 1-49 1-11 1 38 1-28 1 11 1-48 1 2 1 21 1 6 1-9 1 23 1 22 1-16 1-39 1 44 1 22 1 24 1 8 1-14 1-43 1 20 1-22 1-17 1 53 1-9 1-41 1-37 1 18 1-9 1 6 1-6 1-21 1-5 1 18 1 19 1-5 1 0 1 8 1 33 1-19 1-5 1 23 1-15 1-11 1 1 1-28 1 23 1 27 1-47 1 11 1-46 1 16 1 32 1-43 1 9 1-9 1 25 1 5 1-24 1 12 1 11 1-24 1 23 1-6 1 22 1 8 1 0 1 32 1-9 1-70 1 34 1-6 1-38 1 29 1 29 1-13 1 14 1-9 1-43 1 19 1 30 1-2 1 4 1 8 1-36 1 3 1-35 1 25 1 14 1 29 1-51 1 25 1-10 1 7 1 74 1-41 1 2 1-32 1 34 1-36 1-1 1-12 1 23 1-4 1-13 1 23 1-30 1 6 1-12 1 38 1 43 1-24 1 15 1-31 1 9 1 29 1-46 1 43 1-40 1-30 1 24 1 20 1-39 1 24 1-53 1 30 1-1 1-1 1-24 1-15 1 33 1 49 1-26 1 14 1-8 1-13 1-19 1-4 1-9 1 38 1-36 1 41 1 13 1 10 1-41 1-5 1 29 1-14 1 7 1 9 1 4 1-11 1-61 1 8 1 38 1-2 1-12 1-44 1 26 1 47 1 5 1 18 1-17 1 26 1 0M32.20 1886 L32.50 1898 32.80 1886M38.03 1434 L38.33 1840 38.63 1434" stroke="#ff0000"/>
<path d="M28.33 2363l1-83 1-108 1-115 1-72 1-126 1-133 1-104 1-112 1-13 1-7 1-56 1 2 1-2 1 0 1 17 1 64 1 38 1 65 1 45 1 38 1-37 1-4 1 25 1-12 1 47 1 24 1-20 1 63 1-17 1 4 1 6 1 4 1-6 1 57 1-12 1-15 1-24 1 24 1 22 1-11 1 36 1-8 1-37 1 19 1 8 1-25 1 25 1-2 1 25 1 13 1-25 1 4 1 0 1-13 1 26 1-60 1 37 1-54 1 29 1 14 1 35 1-3 1-54 1-5 1 11 1 24 1-30 1-6 1 37 1-15 1 31 1-12 1-19 1-10 1 24 1-1 1 39 1-22 1-60 1 20 1-2 1 9 1-3 1-27 1-37 1 54 1 7 1 9 1-41 1 9 1 43 1 0 1-39 1 10 1 17 1-41 1-8 1 11 1-3 1 19 1 11 1 2 1-13 1-29 1 41 1-47 1 17 1-12 1 35 1-23 1 27 1 15 1 49 1-65 1 9 1 12 1 10 1-5 1-18 1-6 1 43 1-86 1 36 1-11 1 29 1 12 1-56 1-21 1 68 1-19 1-22 1-7 1 23 1-4 1 32 1-36 1 32 1 44 1-45 1-28 1 33 1-16 1 21 1-32 1 16 1 6 1-13 1 10 1-8 1-1 1 34 1 1 1-25 1-8 1 15 1-27 1-8 1-15 1 17 1-13 1 55 1-38 1 22 1 48 1-21 1-1 1-12 1-1 1-15 1 19 1-18 1-16 1-10 1 43 1-44 1 54 1-2 1-34 1 16 1 1 1-28 1-11 1-5 1-15 1 17 1 12 1 6 1-20 1 8 1 44 1-51 1 20 1-15 1 5 1-23 1 3 1 33 1-2 1-23 1 6 1 3 1-26 1 1 1 28 1 14 1-11 1 18 1-10 1-47 1 16 1-16 1 0 1-5 1 7 1-15 1-11 1 17 1 15 1 11 1 32 1-18 1 13 1-13 1-1 1-5 1 3 1 11 1-27 1 4 1 34 1-19 1 0 1 18 1-25 1-26 1 52 1-16 1 26 1-9 1-34 1 1 1 8 1-40 1-26 1 73 1-43 1 30 1 14 1 1 1-30 1 14 1-2 1 10 1 12 1-3 1-6 1 0 1-20 1 25 1-27 1 5 1-53 1 24 1 99 1 0 1-23 1 3 1-20 1-19 1-4 1 13 1 3 1-23 1 10 1 10 1 32 1-6 1-14 1 13 1-33 1 19 1-2 1-5 1-20 1 5 1 3 1-4 1 9 1 16 1-1 1-16 1-6 1-31 1-16 1 15 1-26 1 5 1 9 1 39 1 17 1-1 1-34 1 25 1-19 1-6 1-12 1 15 1 30 1-25 1 25 1 15 1-14 1-8 1-22 1-13M34.70 1622 L35.00 2092 35.30 1622" stroke="#ff0000"/>
<path d="M0.50 2479 V1318" stroke="#ff0000"/>
<path d="M1.33 2479 V1318" stroke="#ff0000"/>
<path d="M40.00 2284l1-32 1-34 1-37 1-31 1-43 1-27 1-35 1-18 1-14 1-21 1-10 1-13 1-14 1-10 1-6 1-6 1-7 1-1 1-8 1 0 1 4 1-8 1-8 1-7 1 3 1-3 1 0 1-1 1 1 1 3 1-4 1 0 1 11 1-14 1 0 1 2 1-9 1-5 1 10 1-6 1 6 1-28 1-3 1 16 1 0 1-17 1 18 1-5 1-16 1 36 1 6 1-25 1 14 1-34 1 16 1 9 1 9 1 5 1-20 1-2 1 14 1-13 1-8 1 21 1 22 1-30 1-5 1-5 1 10 1 7 1-14 1-18 1-11 1 12 1 37 1 16 1 0 1-25 1 23 1-20 1 19 1 13 1 5 1-20 1-40 1 21 1 51 1-28 1-38 1 27 1-9 1-29 1 53 1-10 1 4 1-47 1 8 1-9 1 4 1 30 1 0 1-37 1 29 1 7 1 0 1 7 1-8 1 16 1-23 1-12 1-1 1-40 1 0 1-2 1 25 1-33 1 28 1-11 1-28 1 33 1-38 1-13 1 62 1-14 1-50 1 46 1 23 1 28 1-14 1-1 1-23 1 11 1-30 1 8 1 16 1 8 1 10 1-34 1 29 1 8 1-1 1-30 1 35 1-27 1 59 1-6 1-21 1-3 1 37 1-12 1-72 1-4 1-14 1 34 1-21 1 29 1 17 1-3 1-20 1 18 1 30 1 4 1 2 1-20 1-17 1-16 1 3 1 37 1-7 1-24 1-6 1 41 1-3 1-32 1-25 1 26 1-8 1 21 1 27 1-21 1-13 1 63 1-16 1-38 1-42 1 74 1-30 1 2 1 39 1-10 1-6 1-14 1 13 1-34 1 75 1-61 1-10 1 73 1-23 1-21 1-23 1-12 1 23 1-52 1 18 1 12 1-1 1 1 1-3 1 11 1-6 1-11 1 9 1-18 1 54 1-44 1-4 1-12 1 15 1-22 1 34 1 24 1-34 1 30 1-25 1-23 1 20 1 6 1-28 1 10 1 11 1-20 1 3 1 34 1-53 1 15 1-34 1-49 1 14 1 71 1 4 1 3 1-21 1 42 1-16 1 4 1-4 1-19 1-2 1 14 1-29 1 22 1 12 1-7 1 25 1-31 1-8 1 1 1-4 1 11 1-45 1 7 1 3 1 5 1-19 1 5 1-1 1-22 1 37 1 3 1 4 1-11 1 22 1-13 1 1 1 28 1-42 1-8 1-8 1 75 1-7 1-20 1-6 1 15 1-12 1 8 1-44 1 36 1-33 1 15 1-20 1 17 1 10 1 13 1-13 1 17 1-3 1-33 1 44 1-14 1-3 1-7 1-13 1 9 1-15 1 10 1-16 1 14 1 1 1-19 1 34 1-7 1-21 1-11 1 10 1 63 1-64 1-26 1 35 1 20 1 16 1-17 1 25 1 45 1-5 1-37 1-58 1 34 1 43 1-58 1-5 1-39 1 48 1 4 1-5 1 6 1-36 1 36 1-20 1 32 1-40 1 42 1-28 1 17 1-65 1 2 1 29 1-8 1 24 1-14 1 24 1 20 1 14 1-25 1-18 1-10 1 34 1-31 1-1 1-21 1 12 1 33 1 14 1-35 1 8 1-22 1 28 1-34 1-13 1 29 1 17 1-19 1 4 1 8 1-20 1 32M219.70 1878 L220.00 2286 220.30 1878M236.37 1870 L236.67 2102 236.97 1870" stroke="#00ffff"/>
<path d="M40.00 2281l1-41 1-36 1-41 1-30 1-36 1-34 1-24 1-15 1-23 1-9 1-14 1-18 1-12 1-17 1-1 1-7 1-5 1-9 1 5 1-5 1-9 1-7 1-2 1 6 1-6 1 3 1-5 1 4 1-3 1-1 1-1 1 3 1-7 1-3 1 7 1-5 1-2 1 20 1-13 1-9 1 10 1-1 1 5 1-19 1 1 1 7 1-7 1 10 1 17 1-23 1-23 1 20 1-1 1 19 1-20 1-32 1 14 1 46 1-26 1-6 1 26 1-27 1 55 1-30 1-49 1 26 1-7 1-13 1 17 1-34 1 2 1 28 1 6 1 14 1 3 1-15 1 9 1 9 1-4 1-46 1 32 1 3 1 47 1-27 1 7 1-37 1 11 1-1 1 15 1-11 1-5 1-15 1-1 1 27 1 6 1-17 1 8 1 3 1-26 1 2 1 20 1 5 1-4 1-4 1-31 1 15 1 0 1-2 1-22 1-13 1 9 1 11 1-24 1 3 1 1 1 5 1 12 1-37 1-4 1 35 1-33 1 19 1 34 1-22 1 11 1-30 1 10 1 23 1 20 1 2 1-30 1-17 1-11 1 5 1-11 1 34 1 35 1 55 1-23 1-39 1-22 1 24 1-14 1-7 1 33 1-29 1 4 1-37 1 9 1 2 1 5 1 37 1-5 1 7 1 8 1-19 1-35 1 4 1 27 1 9 1 5 1 15 1 51 1-63 1-12 1 4 1-9 1-15 1 7 1 16 1 22 1-16 1 4 1-22 1 37 1 18 1 4 1-45 1 15 1-28 1 29 1-26 1 42 1-35 1 38 1-22 1-35 1 11 1-11 1 17 1 17 1-30 1 1 1 6 1-32 1 22 1 32 1-19 1-8 1 21 1-29 1 47 1 11 1-29 1-27 1 3 1 62 1-73 1 13 1 11 1-23 1 18 1 13 1 7 1-41 1-12 1-21 1 17 1-18 1 7 1 40 1 17 1 0 1-22 1 17 1-10 1-18 1 7 1-25 1 27 1-27 1 40 1-26 1-2 1-31 1-46 1 56 1-7 1 15 1 4 1 9 1 4 1 9 1-3 1-7 1-14 1 19 1-16 1-27 1 9 1-4 1 40 1-2 1-26 1 12 1-28 1 12 1 15 1 1 1 2 1 2 1-21 1 3 1-18 1 11 1 3 1-5 1 3 1-22 1 22 1-15 1 17 1-19 1 4 1-4 1 66 1-24 1-6 1-25 1 24 1 28 1-19 1 17 1-26 1-4 1-41 1 12 1 12 1-3 1 22 1 3 1-65 1 46 1 18 1 1 1-1 1 5 1 6 1 9 1 9 1-46 1-8 1-5 1-43 1 51 1-3 1 44 1-31 1-4 1 22 1-6 1 3 1-38 1 25 1 2 1 15 1-27 1-19 1 10 1 60 1-27 1 38 1-17 1-45 1 35 1-43 1 19 1 26 1-2 1-29 1-21 1-3 1 12 1 35 1 13 1-56 1 4 1-5 1 16 1 2 1-20 1-15 1-33 1-1 1 40 1 18 1-6 1-5 1 16 1 12 1-26 1 20 1-12 1-4 1 21 1 4 1 35 1-35 1-9 1-34 1 36 1 7 1-20 1 30 1-1 1 34 1-42 1-6 1 7 1 8 1-15 1-6 1 27 1-28 1-29 1 19" stroke="#00ffff"/>
<path d="M20.00 2328l1-54 1-48 1-65 1-56 1-49 1-43 1-16 1-22 1-19 1-23 1-19 1-16 1-5 1-17 1 6 1-15 1 0 1-20 1-5 1-4 1 4 1 2 1 2 1-4 1-6 1 0 1-3 1-10 1 0 1-13 1 3 1 14 1 34 1-26 1-3 1-7 1-26 1 28 1 8 1-14 1-34 1 12 1 12 1 34 1-17 1 18 1 8 1-1 1 41 1 0 1-1 1-40 1-18 1 16 1 39 1-25 1 1 1 8 1-20 1 34 1-44 1 7 1 11 1 13 1 13 1-25 1-49 1 16 1 50 1 6 1-7 1-21 1 45 1-4 1 16 1-21 1-11 1 12 1 3 1-72 1 16 1 37 1-7 1-14 1 11 1-11 1-2 1-43 1 19 1 10 1 45 1-26 1 56 1-30 1-28 1 38 1 44 1-75 1-52 1 22 1 17 1-1 1-28 1 12 1 36 1-20 1 46 1-40 1-15 1 35 1-14 1-16 1 9 1-16 1 23 1-29 1-13 1 8 1 14 1-3 1 22 1 35 1-14 1 3 1-18 1-25 1 31 1-17 1 21 1-9 1-1 1 42 1-49 1-13 1 9 1-35 1-12 1-5 1 31 1 32 1-28 1 5 1-2 1 60 1-15 1 30 1-58 1 31 1-7 1 0 1-4 1-16 1-17 1 25 1-34 1 50 1-19 1 11 1-34 1-1 1 17 1-1 1 21 1 9 1-56 1 14 1 17 1-29 1 5 1 20 1-9 1-11 1 9 1-21 1 15 1-12 1 68 1-10 1-3 1 36 1-46 1 25 1-6 1-52 1-16 1 49 1-7 1-6 1 11 1 25 1-48 1 30 1-41 1 42 1-18 1-19 1 60 1 5 1-29 1-18 1 41 1-6 1 9 1-10 1-16 1-38 1-15 1 61 1-26 1 34 1-47 1 32 1 21 1 26 1-37 1-8 1-12 1 28 1-33 1 9 1-19 1 17 1-28 1-11 1 5 1-26 1 15 1 50 1-21 1-32 1 26 1-43 1 33 1-40 1 33 1 29 1-1 1-23 1-26 1 24 1-9 1 4 1-9 1 46 1-30 1 22 1 14 1-60 1 15 1-24 1 19 1-3 1 7 1-2 1-23 1-9 1-18 1 33 1 16 1 1 1-19 1-19 1-72 1 18 1 47 1-2 1 56 1-59 1 50 1-55 1 48 1-37 1-5 1 45 1 22 1-52 1 13 1 10 1 26 1-52 1 36 1 20 1-1 1-47 1 35 1 22 1 0 1-36 1 21 1-10 1 6 1-6 1 0 1-11 1 2 1-41 1 59 1 29 1-54 1 35 1-7 1 12 1-16 1 28 1-71 1 42 1 5 1-24 1 11 1 13 1 11 1 3 1-5 1-64 1 36 1 19 1-17 1-41 1-4 1 19 1-23 1 39 1-27 1 25 1-9 1 25 1-1 1-13 1-11 1 19 1 22 1-33 1-36 1-18 1-2 1 23 1 19 1 13 1-27 1 22 1-26 1-33 1 34 1-26 1 34 1 41 1 8 1-43 1-7 1 18 1-44 1 9 1 10 1 0 1-42 1 56 1-58 1 65 1-48 1 0 1 46 1-15 1 7 1-25 1-9 1 26 1 2 1-31 1 23 1 61 1-43 1-5 1-7 1-10 1 16 1 3 1 0 1-10 1 6 1-31 1 43 1 33 1 29 1-39 1-36 1-28 1 43 1 1 1 25 1-16 1-3 1 24 1-59 1 39 1-34 1-37M54.70 1832 L55.00 2363 55.30 1832M84.70 1888 L85.00 2160 85.30 1888M124.70 1872 L125.00 2286 125.30 1872M208.03 1866 L208.33 2169 208.63 1866M228.03 1892 L228.33 2150 228.63 1892M243.03 1849 L243.33 2286 243.63 1849M254.70 1838 L255.00 2160 255.30 1838M368.03 1799 L368.33 2150 368.63 1799M386.37 1790 L386.67 2286 386.97 1790M389.70 1843 L390.00 2169 390.30 1843" stroke="#0000ff"/>
<path d="M15.00 2331l1-269 1-162 1-106 1-13 1-15 1-8 1-23 1-21 1-11 1-13 1-22 1 2 1-5 1 29 1 1 1 19 1 9 1 2 1 33 1-9 1-2 1 12 1 45 1-1 1-11 1 48 1-5 1-32 1 49 1-41 1-20 1 71 1-25 1-25 1 37 1 2 1-10 1-18 1 4 1 30 1 19 1-20 1 18 1-31 1-10 1 2 1 37 1-11 1 17 1-15 1 0 1 33 1 7 1-39 1 18 1-42 1 9 1-17 1-29 1-21 1 60 1 30 1-78 1 45 1 21 1 17 1-62 1 9 1 1 1 5 1 13 1 49 1-38 1-61 1 71 1-9 1 18 1-8 1 22 1 45 1-63 1 35 1-30 1 0 1-64 1-7 1 54 1 9 1-16 1 36 1-24 1-22 1 47 1-26 1-9 1 50 1-38 1-27 1 0 1 2 1 23 1-39 1-11 1 10 1 61 1-1 1-27 1-14 1 31 1-18 1 39 1-53 1 60 1 4 1-21 1-42 1 40 1-7 1 3 1-23 1-5 1-35 1 8 1 73 1-38 1-28 1 32 1-57 1 56 1-21 1-23 1 29 1-38 1 45 1-37 1 27 1 35 1-47 1 14 1-2 1 37 1 3 1 10 1-6 1-51 1 43 1-27 1 8 1 19 1 20 1-57 1 38 1-5 1-19 1-30 1 58 1 41 1-63 1 2 1-21 1 11 1 55 1-28 1-23 1 23 1 15 1-41 1 11 1-16 1-12 1 43 1-22 1 33 1 9 1-38 1-22 1 42 1-36 1 6 1-8 1 13 1-5 1 41 1-2 1-18 1-36 1 19 1-2 1-21 1 20 1 47 1 7 1-3 1-32 1 7 1-12 1-37 1 69 1-3 1 16 1 12 1 4 1-49 1-16 1 24 1 23 1-27 1 27 1-57 1 45 1-26 1 1 1 22 1 5 1-13 1-20 1-25 1 10 1 24 1 18 1-51 1-17 1 61 1-29 1-22 1 63 1-50 1 63 1-5 1-55 1-19 1 23 1-85 1 34 1-11 1-13 1 21 1-21 1 8 1 8 1 45 1 21 1-68 1 4 1-15 1-30 1 20 1 33 1-6 1-11 1 14 1-9 1 20 1-15 1-13 1-18 1 7 1 12 1-16 1 15 1 34 1-38 1-27 1 15 1 31 1 12 1 12 1-62 1-16 1 49 1-20 1-11 1 6 1 6 1 2 1-4 1-16 1 14 1-18 1 24 1 25 1-16 1 8 1 8 1 8 1-13 1 25 1-5 1-71 1 53 1-16 1-23 1 37 1-43 1-23 1 38 1-24 1 32 1-34 1 58 1-36 1 51 1-20 1-21 1-19 1 18 1-13 1 14 1-31 1 2 1 19 1 3 1 9 1 51 1-77 1 39 1-7 1 3 1 5 1 60 1-10 1 5 1 6 1-21 1-13 1-11 1 6 1 8 1-12 1 29 1 35 1-61 1 6 1-20 1 13 1-2 1-22 1 57 1-35 1-19 1 49 1-6 1-36 1 35 1-58 1 45 1-3 1-3 1 22 1-38 1 4 1 9 1-41 1 40 1 9 1 9 1 9 1-22 1-5 1 9 1-1 1-18 1 2 1-16 1 54 1 17 1-36 1-31 1 32 1-14 1-31 1 52 1 21 1 5 1 12 1 23 1-39 1 11 1-12 1-22 1-24 1 23 1 36 1-33 1 8 1-58 1-7 1 6 1 38 1-8 1-22 1 8 1-4 1-8 1 9 1 36 1 32 1-29 1-22 1 11 1 19M321.37 1764 L321.67 2150 321.97 1764M343.03 1824 L343.33 2169 343.63 1824M368.87 1812 L369.17 2286 369.47 1812M393.03 1864 L393.33 2286 393.63 1864" stroke="#ff00ff"/>
<path d="M28.33 2337l1-45 1-43 1-57 1-37 1-47 1-44 1-15 1-24 1-14 1-23 1-20 1-22 1-2 1-10 1-4 1-7 1-6 1-9 1-4 1-11 1 8 1-4 1-6 1-3 1 6 1-10 1 9 1 8 1-12 1 10 1 12 1-12 1 11 1-40 1 0 1-13 1 24 1-38 1 36 1-7 1-18 1 17 1 11 1 1 1-26 1 24 1-14 1 48 1 1 1 29 1-34 1-15 1 11 1-20 1-11 1-28 1 6 1 25 1 15 1-31 1 61 1-24 1 5 1 5 1-61 1 6 1-9 1 24 1 33 1-5 1-3 1-36 1-24 1 5 1-3 1 28 1 19 1-6 1 24 1-22 1-2 1 24 1 11 1 17 1-47 1-6 1 11 1 59 1-43 1-4 1-3 1-54 1 96 1-23 1-33 1-21 1 10 1-14 1-1 1 33 1-15 1-18 1 44 1-19 1-17 1 20 1-9 1-19 1-10 1 26 1 22 1 1 1-23 1 8 1 7 1-14 1-10 1 56 1-28 1 25 1-22 1-29 1-34 1 17 1 19 1 22 1-39 1 12 1 6 1-16 1 67 1-31 1-15 1-37 1 8 1 4 1 9 1-13 1-3 1 10 1 8 1-55 1 25 1 18 1-11 1 55 1-88 1 54 1 14 1 14 1-24 1 28 1-9 1-10 1-13 1-19 1-29 1 32 1-29 1 52 1-27 1 16 1-7 1-28 1 14 1 54 1-30 1 31 1-47 1 21 1 34 1 55 1-71 1-18 1 25 1-16 1 30 1-14 1-27 1-8 1 16 1 13 1 44 1-54 1 9 1 33 1-33 1 47 1 21 1-44 1-37 1 4 1 19 1-14 1-9 1-32 1 29 1 8 1 29 1 56 1-13 1-8 1-55 1-10 1 19 1 25 1-4 1-2 1-1 1-31 1 5 1 38 1-3 1-23 1 31 1-36 1 24 1-11 1 1 1 9 1-9 1 7 1-23 1-39 1-4 1 44 1 19 1-14 1 14 1-39 1 11 1-24 1-20 1 14 1-11 1-15 1 59 1-22 1 25 1-56 1-9 1 14 1-12 1 49 1 11 1 11 1-38 1-1 1-54 1 27 1 14 1-32 1 1 1 43 1-23 1 13 1 10 1-79 1 29 1-33 1-7 1 3 1 42 1-32 1 4 1 11 1-33 1 48 1 12 1-26 1 9 1 50 1-29 1-1 1-4 1 2 1-7 1 29 1 25 1 8 1 0 1-35 1-4 1-14 1 15 1-11 1 29 1 0 1-20 1-57 1 15 1 47 1-19 1 13 1-31 1 53 1-9 1-2 1-2 1-27 1-23 1-57 1 42 1 36 1-2 1 8 1 2 1-29 1-23 1 28 1 11 1 4 1 3 1-31 1 2 1-3 1 33 1 48 1 10 1-74 1-1 1-43 1-7 1 25 1 19 1-31 1 9 1-7 1 0 1 16 1 16 1 32 1-43 1 12 1-21 1 40 1-9 1 28 1-32 1 14 1-30 1 23 1-40 1 25 1 15 1-1 1 12 1 3 1-27 1-18 1 37 1 47 1-36 1 11 1-1 1-55 1 9 1 61 1 4 1-40 1-27 1 25 1 4 1 31 1-79 1 11 1 58 1-30 1 69 1-61 1 3 1 0 1 17 1-43 1 22 1 17 1-70 1 26 1-9 1 31 1 44 1-14 1 1 1 11 1 15 1 44 1-61 1 14M406.37 1789 L406.67 1956 406.97 1789" stroke="#0000ff"/>
<path d="M26.67 2313l1-49 1-74 1-65 1-73 1-34 1-42 1-40 1-26 1-40 1-26 1-14 1-8 1-1 1-19 1-9 1-22 1 15 1-30 1 19 1 2 1-10 1-31 1-27 1 15 1-4 1 0 1 6 1-2 1 1 1 8 1 47 1-1 1 30 1-14 1-32 1 37 1-11 1 48 1-17 1-17 1 18 1-3 1 28 1-13 1 5 1 24 1-43 1 9 1-12 1 42 1-36 1 9 1 19 1 2 1 11 1 7 1 7 1 12 1 18 1-11 1-26 1 13 1-52 1 18 1-18 1-10 1 33 1-9 1 38 1-15 1 10 1 41 1-22 1 19 1-32 1 32 1 1 1 10 1-59 1-39 1 26 1 6 1 6 1-41 1 45 1-6 1 32 1-12 1-34 1-31 1-12 1 35 1 17 1-43 1-7 1 32 1 30 1-17 1 17 1-55 1 59 1-45 1-19 1 24 1-13 1 19 1 30 1-49 1 35 1-15 1 18 1-10 1-2 1 37 1-32 1-6 1-38 1 36 1 6 1 39 1-65 1 19 1 3 1-25 1 24 1 17 1 16 1-17 1 28 1-50 1-15 1 33 1 68 1-71 1-21 1 29 1-39 1 31 1 21 1 7 1 20 1 9 1-37 1 6 1 7 1-27 1 19 1 33 1-17 1-44 1 3 1-10 1 29 1-45 1 29 1 28 1-18 1 3 1-23 1 26 1-34 1-15 1 6 1-23 1-7 1 13 1 36 1 42 1-36 1-66 1 34 1 45 1-12 1 39 1 6 1-40 1 31 1-53 1 36 1-43 1 22 1-8 1 44 1-30 1-34 1 0 1 29 1-31 1 13 1 18 1-48 1 61 1-22 1-15 1 38 1-36 1 28 1-7 1 23 1 8 1 12 1 14 1-22 1-3 1-13 1-26 1 60 1-55 1 38 1-13 1-31 1-17 1 15 1-10 1 2 1-22 1 11 1-24 1 31 1-19 1 31 1 1 1-18 1-14 1-22 1-7 1 16 1-29 1 48 1-11 1-4 1-6 1 28 1-5 1 16 1-21 1-51 1 62 1-50 1-13 1 5 1-1 1-29 1-23 1 60 1-36 1 19 1-14 1 9 1 48 1 5 1-28 1-21 1 16 1-2 1-37 1 44 1 3 1-11 1-1 1 18 1-1 1 5 1-35 1 30 1-53 1 0 1 5 1 25 1-16 1 37 1 16 1-13 1-6 1-37 1 13 1 20 1 16 1-15 1 25 1-58 1-9 1 0 1 15 1 44 1-51 1 68 1 37 1-40 1-21 1 12 1-26 1-1 1-19 1-49 1 31 1 53 1 5 1-59 1 44 1 16 1 22 1-6 1 9 1-42 1 53 1 33 1-45 1-10 1 42 1-48 1 5 1 5 1 0 1-21 1 24 1 16 1-9 1-19 1 27 1-8 1-5 1-22 1 34 1-32 1-33 1 36 1-5 1 47 1-34 1-3 1 45 1-44 1-10 1 23 1-6 1 16 1 42 1-63 1-17 1-7 1 51 1-2 1-19 1 12 1 7 1-2 1 28 1-11 1 4 1 26 1 13 1-33 1-27 1 6 1-51 1 13 1 24 1-10 1 29 1-6 1 14 1-47 1 53 1 11 1-51 1-10 1 1 1 2 1-30 1 34 1-5 1 13 1 20 1-11 1 10 1-44 1 2 1-1 1-7 1 34 1-57 1-3 1 31 1 15 1-18 1 39 1-6 1-42 1 43M128.03 1831 L128.33 2034 128.63 1831M326.37 1782 L326.67 2140 326.97 1782M358.03 1854 L358.33 2082 358.63 1854" stroke="#ff00ff"/>
<path d="M43.33 2321l1-44 1-47 1-52 1-44 1-35 1-52 1-14 1-29 1-19 1-13 1-26 1-17 1-1 1-12 1-10 1-7 1-17 1 7 1 0 1-15 1-1 1 2 1-5 1 0 1-1 1-11 1 6 1 6 1-14 1 6 1 2 1-13 1-2 1 25 1-25 1 36 1 13 1-9 1 19 1-7 1-12 1-9 1-11 1-13 1 30 1 18 1 6 1 0 1-37 1 12 1-51 1 42 1 9 1-41 1 31 1 10 1 3 1-25 1-16 1 54 1-52 1 34 1-8 1 17 1-9 1 17 1 13 1-28 1 23 1-10 1-2 1 22 1-7 1-35 1 20 1-4 1-4 1 29 1-41 1 13 1 33 1-69 1 80 1-31 1 6 1 31 1-72 1 6 1-36 1 15 1-20 1 38 1 11 1-31 1 27 1-18 1-2 1-20 1-2 1 33 1 6 1 44 1-43 1-25 1 19 1 28 1-5 1 9 1-26 1 24 1-18 1-18 1 30 1-7 1-34 1 43 1-36 1-45 1-1 1 70 1-15 1-12 1 13 1-27 1 55 1-41 1 11 1-18 1 17 1 46 1-3 1-13 1-30 1 16 1-46 1 46 1-44 1-8 1-8 1 32 1 22 1-8 1 3 1-17 1-24 1 27 1 47 1-19 1 0 1-8 1 36 1-41 1 25 1-2 1 28 1-38 1-15 1-13 1 19 1 11 1-10 1 13 1 11 1-52 1-1 1 17 1 47 1-2 1 7 1-20 1-18 1-29 1 68 1-26 1 0 1-28 1 34 1-26 1-21 1-22 1 60 1 37 1-41 1 1 1 47 1-34 1 3 1 24 1-6 1 26 1-33 1 38 1-11 1 21 1 14 1 1 1-26 1 5 1-15 1 22 1-15 1 35 1-20 1 22 1-41 1-44 1 105 1-4 1-21 1-9 1 39 1-31 1 41 1-47 1-8 1-48 1 63 1-23 1 3 1-19 1 1 1-2 1-16 1 33 1-28 1 29 1 27 1-22 1-23 1 9 1 45 1-43 1-57 1 32 1 36 1 37 1-52 1 6 1-71 1 49 1-8 1 16 1-27 1 22 1 61 1-25 1-9 1 11 1 20 1-12 1-17 1 6 1 2 1-8 1 23 1-21 1 62 1-40 1 21 1-34 1 53 1 19 1-18 1 81 1-17 1-21 1-13 1 38 1-2 1-2 1 5 1 8 1 63 1-3 1-23 1-17 1 31 1 7 1 43 1-12 1 12 1-14 1-36 1-26 1-41 1-48 1-60 1-57 1-32 1-39 1-2 1-35 1 5 1-37 1 23 1 2 1-23 1 28 1-6 1-1 1 4 1-37 1 37 1-22 1 28 1-36 1 48 1-58 1 6 1-2 1 98 1-24 1 0 1-28 1-32 1 19 1 10 1-2 1 20 1 16 1-35 1-57 1 34 1 2 1 16 1 21 1-54 1-11 1 47 1 13 1 21 1-49 1 23 1-21 1-10 1-1 1 7 1-24 1 13 1 31 1-39 1 11 1-13 1-17 1 36 1-5 1 9 1 2 1 61 1-53 1 11 1 26 1-19 1 9 1-26 1 27 1-18 1 67 1-26 1 18 1-39 1 5 1 12 1 15 1-22 1-3 1-31 1-4 1 34 1 21 1-14 1-12 1-14M303.03 1973 L303.33 2111 303.63 1973" stroke="#0000ff"/>
<path d="M38.33 2319l1-35 1-27 1-33 1-18 1-46 1-30 1-34 1-12 1-53 1-38 1-40 1-5 1 2 1 16 1-15 1-13 1-7 1 3 1-21 1-2 1-20 1-10 1-9 1 15 1-15 1-17 1-15 1 9 1 13 1-10 1 2 1 32 1-20 1 8 1 13 1-21 1-30 1 14 1-10 1 4 1 3 1-24 1 15 1 36 1-14 1 2 1 25 1-1 1 4 1-12 1-11 1-12 1 13 1 21 1 13 1-1 1 13 1-57 1-7 1 73 1-36 1-7 1 5 1-10 1-20 1 12 1 15 1-23 1 3 1-31 1-35 1 8 1 33 1-4 1-22 1 68 1-24 1-7 1 1 1-33 1-7 1 61 1-23 1-9 1 39 1-34 1 39 1 54 1-49 1-32 1-3 1 0 1-37 1 44 1-19 1 21 1 7 1-21 1 51 1-53 1-37 1 5 1 35 1-14 1 15 1 49 1-72 1-13 1 4 1 9 1 46 1-29 1 11 1 37 1-31 1 37 1-16 1-66 1 21 1 36 1-26 1 27 1-13 1-17 1-29 1 43 1 58 1-13 1-17 1 6 1-15 1-38 1-5 1 27 1-17 1 37 1 8 1-36 1 35 1-36 1 18 1-4 1-32 1 24 1 36 1-18 1 5 1 6 1-40 1 23 1-16 1-13 1 22 1-29 1 57 1 1 1-7 1-3 1 20 1 7 1-27 1-12 1 2 1 17 1-5 1 34 1-8 1-25 1-6 1 41 1-30 1 15 1 31 1-18 1-7 1-37 1-3 1-47 1 84 1-71 1 22 1-7 1 79 1-39 1-7 1-45 1-16 1 46 1-38 1 24 1 8 1-17 1-7 1 45 1 23 1-9 1 12 1-48 1 22 1-44 1 24 1 1 1 2 1-42 1-3 1 34 1 20 1 0 1-34 1 39 1-77 1 22 1-25 1-3 1 3 1-8 1-22 1 17 1 10 1-12 1-9 1 10 1 29 1-43 1 26 1 30 1-32 1-18 1-19 1 34 1 28 1-28 1 3 1-9 1 5 1 30 1-28 1 8 1-12 1 7 1-33 1 4 1 22 1-10 1 26 1 24 1-7 1-24 1-14 1-2 1-4 1 54 1-54 1 20 1 32 1-22 1 43 1-45 1-20 1 5 1-25 1-5 1 34 1 24 1-25 1-7 1 10 1-12 1-26 1 45 1-26 1-17 1 28 1 5 1-52 1 34 1-38 1 46 1 28 1-26 1-4 1 2 1-20 1 22 1 27 1-3 1 9 1-3 1 5 1-11 1 11 1 1 1 17 1-2 1-37 1 39 1 3 1-11 1-4 1 40 1 5 1-50 1 6 1-1 1 1 1 11 1-1 1-21 1-18 1 26 1 21 1 24 1-1 1-42 1 2 1 3 1 25 1 24 1-58 1-2 1 51 1-33 1 41 1-58 1 32 1-67 1 52 1-32 1-39 1 22 1-24 1 19 1 3 1 7 1-10 1-23 1 53 1-53 1-5 1 47 1-13 1 19 1 28 1-12 1-7 1-52 1 4 1 33 1-31 1 39 1-1 1 8 1-2 1-1 1-4 1 7 1-11 1 20 1-41 1 25 1-34 1 30 1-42 1-17 1 22 1 37 1 17 1-10 1 37 1-2 1-31 1-24 1-28 1 38 1-4 1-11 1 6 1 12M361.37 1882 L361.67 2034 361.97 1882M379.70 1812 L380.00 2092 380.30 1812" stroke="#ff00ff"/>
<path d="M63.33 2323l1-39 1-34 1-33 1-29 1-43 1-29 1-14 1-16 1-25 1-24 1-20 1-25 1 5 1-6 1-10 1-9 1-2 1-6 1-5 1-7 1 5 1-7 1-7 1-2 1 3 1 11 1-20 1 6 1 19 1-12 1-11 1 24 1-6 1 7 1 10 1-40 1 38 1-19 1-3 1-39 1 37 1-50 1-6 1 46 1-7 1-35 1-1 1 19 1 1 1-25 1 14 1 19 1 15 1-39 1-55 1-16 1 8 1 20 1-8 1 3 1 33 1-6 1 22 1-52 1-15 1 45 1 61 1-55 1 7 1-21 1 16 1 13 1-9 1-24 1 11 1-26 1 30 1-16 1 34 1-12 1 48 1-82 1 32 1-32 1-31 1 39 1 15 1-40 1-11 1 49 1-8 1-7 1 26 1-35 1-31 1 24 1 13 1-25 1 3 1 10 1-3 1-45 1 62 1-40 1 38 1 27 1 10 1-31 1-19 1-29 1 80 1-4 1-11 1-22 1 5 1 10 1-17 1-43 1 29 1 0 1-7 1-12 1 48 1-33 1 29 1-31 1 5 1-12 1 38 1-19 1-8 1 57 1-25 1 14 1 17 1-58 1 1 1 12 1 41 1-22 1-15 1 38 1-16 1-11 1-29 1 36 1-31 1 2 1-33 1 44 1-12 1-5 1-19 1 55 1 2 1 1 1 13 1-28 1 41 1-34 1 5 1-51 1 70 1-6 1 0 1-24 1-6 1 39 1-7 1 9 1 6 1-12 1-13 1 11 1 51 1-54 1 55 1 15 1-40 1 4 1 4 1-8 1 17 1 27 1-27 1-9 1 44 1-28 1 70 1-17 1-5 1-11 1-37 1 48 1-23 1 51 1-58 1-31 1 18 1-37 1 44 1-8 1-8 1-27 1 0 1 23 1-44 1 17 1 7 1 14 1 17 1-37 1 35 1 5 1 23 1 28 1-45 1 8 1-33 1-7 1 14 1-47 1 2 1 19 1 28 1 23 1-11 1 1 1 5 1 22 1-29 1-12 1 23 1 37 1-3 1-17 1 41 1-12 1-13 1 3 1 68 1-13 1-24 1 28 1-20 1 29 1 35 1-16 1 47 1-13 1 9 1 14 1-1 1-10 1 31 1-32 1 36 1-21 1 28 1 12 1 27 1-14 1-31 1-19 1-41 1-60 1-32 1-36 1-30 1-43 1-64 1-21 1 12 1-37 1 9 1-27 1 8 1 29 1-34 1 60 1-3 1-27 1-4 1 49 1-51 1-4 1-17 1 1 1-4 1-15 1 50 1-34 1-2 1 10 1 31 1-18 1 23 1-3 1-5 1-33 1 24 1 4 1-1 1-40 1 8 1-2 1 42 1-22 1 31 1-48 1-1 1-16 1 35 1-30 1 45 1-33 1 16 1 4 1-4 1 13 1-8 1-21 1-13 1 39 1-36 1 37 1 22 1-18 1 7 1-29 1-8 1 22 1-9 1-33 1 56 1 12 1 2 1 9 1-20 1 28 1-28 1 20 1 27 1 23 1-33 1 16 1-29 1 15 1-45 1 6 1 8 1 72 1-36" stroke="#0000ff"/>
<path d="M50.00 2326l1-31 1-52 1-25 1-27 1-39 1-45 1-48 1-38 1-15 1-10 1 6 1-15 1-13 1 3 1 4 1-27 1-11 1-7 1 12 1-38 1-19 1 12 1-17 1 23 1 4 1-19 1 8 1 6 1-9 1 18 1-6 1-45 1-18 1 22 1-63 1 37 1 22 1-18 1 24 1-40 1-49 1 53 1-47 1 32 1 37 1-9 1-20 1 16 1 1 1 17 1-64 1 31 1 53 1 5 1-40 1 43 1 10 1-51 1-14 1 73 1-30 1-48 1 26 1-3 1-23 1 16 1 11 1 34 1-42 1-1 1-1 1-1 1-29 1 19 1-29 1 27 1-54 1 42 1-40 1 25 1 6 1-23 1 68 1 25 1-25 1 3 1 7 1-18 1-35 1-4 1 42 1-16 1 3 1-10 1-38 1 57 1 10 1-5 1 30 1-44 1-15 1 21 1 20 1-1 1-34 1-2 1-34 1-11 1 19 1 46 1-31 1 49 1 4 1-40 1-20 1-24 1 63 1 10 1 5 1-8 1 10 1-36 1 5 1-58 1 38 1 1 1 43 1-24 1-18 1 59 1-34 1 8 1 56 1-14 1-5 1 1 1-10 1-41 1 17 1-19 1 17 1 13 1-38 1-18 1 6 1 4 1 68 1-42 1 8 1 18 1 34 1-24 1-9 1-42 1 16 1-13 1 30 1-32 1 46 1-21 1 21 1-47 1 43 1 6 1-40 1 32 1 15 1-25 1 34 1 7 1 16 1-43 1 8 1-27 1 26 1-22 1 29 1-12 1-21 1 29 1-13 1-1 1-1 1-6 1-3 1-7 1-31 1-19 1 68 1-54 1 62 1-58 1-13 1-15 1 34 1-13 1 34 1 20 1 10 1-38 1-15 1 34 1-23 1-61 1 60 1-11 1-26 1 2 1-8 1-31 1 20 1-6 1 13 1-34 1 22 1 29 1-41 1-26 1 34 1 27 1-1 1-64 1 27 1-9 1 55 1-13 1 2 1 29 1-49 1 8 1-3 1 60 1-51 1 24 1 3 1-8 1 5 1-1 1 20 1-15 1 8 1-40 1 14 1 3 1-30 1 30 1-38 1 5 1 28 1-28 1 36 1-30 1-22 1-2 1 12 1-23 1 37 1-2 1 1 1-17 1 7 1 18 1 6 1-32 1 23 1 14 1-17 1 4 1 38 1-34 1-20 1 11 1 3 1 38 1 7 1-6 1 35 1-81 1 36 1 13 1 31 1 3 1-18 1 23 1-1 1-46 1 15 1 5 1-11 1-1 1 5 1-24 1-27 1 28 1 11 1 17 1 1 1 36 1-19 1-25 1-17 1 46 1 30 1-42 1-32 1 36 1-10 1-12 1-3 1-20 1 24 1-41 1 24 1 17 1 14 1-12 1-30 1-18 1 31 1 37 1-30 1 13 1 24 1-54 1 7 1 1 1-27 1 25 1 3 1-11 1 10 1-12 1-42 1 77 1-56 1-18 1 79 1-6 1 34 1-3 1-35 1 30 1-35 1 32 1-42 1 38 1-7 1-40 1-12 1 12 1-16 1-1 1 56 1-6 1 39 1-23 1-53 1 15 1-18 1 43 1-89 1 24 1-6 1 34 1 36 1-28M66.37 1943 L66.67 2247 66.97 1943" stroke="#ff00ff"/>
<path d="M33.33 2327l1-54 1-53 1-52 1-49 1-50 1-43 1-13 1-18 1-25 1-22 1-14 1-16 1-10 1-2 1-18 1-6 1-5 1-5 1-2 1-2 1-8 1 0 1-7 1-2 1 5 1-1 1 3 1 5 1-15 1 17 1-15 1-2 1 14 1 8 1 2 1-23 1-3 1 0 1 28 1 8 1-1 1 5 1-16 1 6 1-52 1 14 1 25 1 19 1-27 1 19 1-66 1 30 1 32 1 5 1-18 1 18 1 17 1-20 1-16 1 18 1 21 1-11 1-1 1 15 1-1 1-24 1 37 1-33 1 10 1-15 1-22 1 61 1-11 1-16 1 13 1-34 1 15 1 37 1 29 1-4 1-3 1-50 1 39 1-5 1-4 1-13 1 7 1-29 1-10 1-36 1 44 1-10 1-19 1-27 1 36 1 33 1-8 1-23 1-11 1 36 1 35 1-25 1 21 1-83 1 71 1-23 1-20 1 18 1-32 1 18 1-6 1-16 1 36 1 3 1 20 1 0 1-1 1-6 1 24 1-2 1-13 1 15 1-63 1 40 1 7 1-20 1-31 1 28 1 0 1-3 1-37 1-12 1-14 1 29 1-4 1-58 1 70 1 11 1-22 1 9 1 19 1 17 1 21 1-76 1 20 1 12 1-14 1 16 1 14 1-2 1-10 1 31 1 17 1-25 1-18 1-64 1 4 1 81 1-27 1 43 1 5 1 8 1 2 1 4 1-38 1-38 1 7 1 5 1 7 1-16 1 17 1-43 1 47 1 70 1-30 1-31 1-21 1 15 1-7 1-41 1 5 1 32 1 11 1 82 1-33 1 37 1-32 1-43 1-1 1 47 1-36 1-27 1 61 1-32 1-8 1 15 1-6 1-1 1-8 1 37 1 18 1-53 1 34 1-16 1-3 1 37 1 53 1-22 1-34 1 18 1-53 1 18 1 28 1 34 1-6 1 0 1-6 1-32 1-12 1 57 1 32 1-7 1-20 1 16 1-50 1 4 1 11 1-30 1 20 1-7 1 1 1-15 1-3 1-23 1 13 1 0 1-45 1 13 1 66 1 16 1-36 1 39 1-60 1 47 1 5 1-23 1-33 1 25 1 3 1 33 1-6 1-40 1 37 1 41 1 11 1-21 1-1 1-26 1 3 1 17 1 33 1-27 1 20 1-6 1-4 1-6 1-18 1 5 1-2 1 48 1 16 1 3 1-32 1 17 1 15 1 47 1 26 1-7 1 24 1-61 1 56 1-22 1 31 1 4 1 33 1-54 1 15 1 18 1 25 1 12 1-27 1 22 1-78 1-54 1-55 1 6 1-41 1 14 1-91 1-12 1-79 1-37 1 20 1 24 1-15 1 23 1 21 1 17 1-44 1 12 1 20 1-10 1-18 1-20 1 16 1 18 1-19 1-27 1 7 1-3 1-28 1 35 1 45 1-35 1-12 1-41 1 0 1 67 1-11 1 52 1-65 1 60 1-11 1-40 1-16 1-14 1-3 1-3 1-2 1 52 1-37 1 43 1-53 1 50 1-26 1 44 1-21 1-5 1-17 1-55 1 66 1-24 1 25 1 6 1 24 1 0 1-28 1 23 1-74 1 71 1-19 1-34 1 31 1 18 1 2 1 9 1-20 1 37 1 10 1-64 1 39 1-2 1 21 1 41 1-22 1 15 1 8 1 3 1 28 1-19 1-18 1 34 1-25M273.03 1984 L273.33 2073 273.63 1984" stroke="#0000ff"/>
<path d="M28.33 2325l1-55 1-54 1-70 1-53 1-56 1-58 1-44 1-45 1-55 1-34 1-3 1-36 1-12 1-11 1-15 1-15 1-3 1-3 1-2 1 11 1 21 1 3 1 4 1 10 1 21 1-2 1 12 1 0 1-4 1-11 1 6 1 12 1 20 1-1 1 19 1-5 1 6 1 6 1 6 1-4 1 7 1 4 1 9 1 3 1-4 1-4 1-4 1 1 1 19 1 13 1-15 1 5 1-9 1 20 1-7" stroke="#0000ff"/>
<path d="M3.67 2479 V1318" stroke="#0000ff"/>
<path d="M46.67 1434l1 43 1 68 1 35 1 27 1 42 1-35 1 62 1 18 1-37 1 34 1-53 1 78 1 11 1 11 1-51 1 36 1-21 1 28 1-1 1 60 1-5 1-29 1-2 1 55 1-29 1-3 1-11 1-27 1 52 1-42 1 35 1-31 1 66 1 19 1-37 1-16 1 54 1-17 1 53 1-52 1-21 1 44 1-22 1-2 1 31 1-22 1-28 1 17 1 4 1 9 1-24 1 41 1-46 1 60 1 52 1-56 1 1 1-35 1 5 1 6 1-36 1-5 1 23 1 18 1-9 1-7 1 9 1-19 1 4 1-5 1 34 1 18 1 10 1-31 1 21 1-16 1-5 1-16 1-20 1 45 1 23 1-16 1-41 1 4 1 38 1-40 1-12 1-15 1-39 1 37 1 7 1-2 1-18 1 49 1 36 1 41 1-85 1 34 1 22 1-32 1-11 1-7 1 21 1-20 1-17 1-25 1 45 1-53 1 46 1 2 1-62 1 39 1-15 1-72 1 38 1 31 1 15 1 23 1 18 1-26 1 56 1-6 1-5 1-63 1 38 1 45 1-56 1 60 1 6 1 6 1-86 1 2 1 23 1 61 1-37 1-62 1 76 1 13 1-51 1-15 1 6 1 16 1-24 1 53 1-4 1 22 1-32 1 13 1 47 1-54 1-36 1 2 1 13 1-30 1 5 1 14 1 22 1-25 1 46 1 32 1-32 1-3 1 8 1-16 1-34 1 65 1-58 1 51 1 27 1-28 1 27 1 20 1-53 1-20 1-45 1 50 1-31 1-38 1 24 1 14 1 46 1-27 1 19 1-66 1 7 1 17 1 26 1-10 1 42 1-18 1-64 1-1 1 19 1-27 1 31 1-6 1 17 1-56 1 2 1-11 1 25 1-23 1 22 1-7 1 17 1 7 1-14 1-15 1-17 1 14 1 15 1-52 1 14 1 34 1 53 1-94 1 68 1-33 1 38 1-8 1-46 1-14 1-28 1 6 1 79 1-56 1-51 1 57 1-16 1 13 1 33 1 75 1-45 1 14 1-52 1 37 1 9 1-96 1 38 1 21 1-14 1 15 1-98 1 66 1 72 1-26 1 9 1-24 1-1 1 58 1-41 1 17 1 29 1-34 1-69 1 60 1-7 1 1 1 18 1-58 1 26 1-14 1 57 1-9 1-8 1 1 1 15 1-47 1 25 1-34 1 64 1 25 1-41 1-5 1 28 1-3 1 1 1 83 1-56 1-26 1-16 1 0 1-16 1-19 1 28 1-9 1 35 1 49 1 1 1 26 1-46 1 10 1-1 1-63 1 53 1 39 1-18 1-17 1-4 1 0 1 25 1-17 1-10 1 17 1 0 1 6 1-41 1 34 1 2 1-14 1 37 1-35 1 16 1 8 1-28 1 5 1-15 1 25 1-24 1 32 1-14 1 4 1-14 1-5 1 8 1 16 1 12 1-14 1 7 1 21 1 16 1-45 1 18 1 0 1 19 1 1 1-9 1-26 1 2 1 14 1 1 1 1 1-15 1-25 1 5 1-4 1-4 1 10 1-18 1 33 1 4 1 8 1-9 1 8 1 0 1 6 1-29 1 12 1-2 1-16 1 14 1-7 1-18 1-17 1-3 1 28 1 13 1-15 1-9 1 17M55.53 1657 L55.83 2324 56.13 1657M196.37 1858 L196.67 2044 196.97 1858M223.03 1829 L223.33 2034 223.63 1829M336.37 1925 L336.67 2034 336.97 1925M374.70 1894 L375.00 2324 375.30 1894M395.53 1863 L395.83 1947 396.13 1863M362.20 1883 L362.50 1956 362.80 1883" stroke="#000000"/>
<path d="M43.33 1442l1 46 1-2 1 38 1 38 1 90 1 13 1-17 1-7 1 49 1 16 1 14 1-38 1 9 1-22 1-40 1 69 1 55 1-33 1-64 1 75 1 25 1 0 1-23 1 41 1 6 1 18 1 19 1-7 1-24 1 8 1 28 1-21 1 21 1-18 1 57 1-20 1-46 1 29 1-40 1 87 1-67 1-3 1 40 1-6 1-6 1-56 1-39 1 69 1 1 1 74 1-14 1 9 1-39 1 8 1 71 1-43 1-39 1 62 1-78 1 24 1 13 1-41 1 18 1 30 1 4 1-9 1 8 1-3 1 62 1 5 1-76 1 22 1-2 1-88 1 43 1 54 1 24 1-45 1-43 1 53 1-10 1 14 1-50 1-15 1-14 1 81 1-10 1-81 1 50 1-30 1 36 1-12 1 26 1-45 1 6 1-28 1 36 1 7 1 7 1 21 1-45 1 65 1-2 1 11 1 2 1-22 1-45 1 15 1 1 1 63 1-34 1 18 1-81 1 46 1 15 1 12 1-42 1 66 1-53 1 28 1-35 1-3 1 13 1 50 1 1 1-19 1-115 1 71 1 18 1 18 1-14 1-7 1 40 1-31 1-6 1 8 1 8 1-65 1 13 1-57 1 61 1 49 1-71 1 79 1-29 1 17 1-31 1 2 1 75 1 19 1-72 1-30 1-8 1 44 1-6 1 23 1-67 1 19 1 19 1 20 1 40 1-6 1-53 1 12 1-51 1 5 1 24 1 36 1 8 1-41 1 15 1 12 1 0 1-16 1-24 1 7 1 32 1-17 1 10 1-47 1 8 1-31 1 103 1-47 1 23 1-13 1 1 1-11 1-2 1 21 1-25 1 22 1-29 1-2 1 20 1-34 1-10 1-29 1 65 1 4 1-10 1 16 1-71 1 40 1-43 1-13 1 28 1 19 1 32 1-64 1-51 1 26 1 5 1 13 1 17 1-16 1-5 1 18 1-3 1-5 1 4 1-5 1 37 1 0 1 2 1-27 1 10 1 28 1-3 1-46 1-22 1-27 1 10 1 6 1 12 1-2 1 17 1-14 1-11 1 32 1-6 1 16 1 27 1-36 1-6 1-68 1 22 1 23 1 15 1 26 1 12 1-17 1-10 1 7 1 54 1-49 1 40 1-57 1-11 1 27 1-26 1 77 1-5 1-15 1 4 1 25 1 0 1-58 1-2 1 14 1 16 1 8 1 4 1-3 1 22 1-43 1 10 1 105 1-91 1-16 1 6 1 35 1-18 1 37 1 41 1-87 1-40 1 52 1 5 1 7 1-27 1 27 1-64 1 53 1 25 1-21 1 6 1 21 1 24 1-37 1 43 1-57 1 2 1 12 1-9 1-10 1 15 1-17 1 27 1-14 1 18 1 11 1 22 1-5 1-6 1-10 1 0 1-4 1-10 1 2 1 12 1 23 1 6 1 3 1-4 1 10 1-23 1 10 1-7 1-3 1 6 1-13 1-9 1 22 1 7 1 7 1-15 1 0 1 34 1-40 1-10 1 0 1 18 1 9 1 6 1-32 1-11 1 26 1 3 1-41 1 36 1-10 1-5 1-10 1 13 1-1 1-14 1-6 1 10 1 13 1 9 1 1 1-35 1-6 1 17 1 12 1-31 1 18 1-1 1-10 1-9 1 20 1-3" stroke="#000000"/>
<path d="M263.33 1809l1-46 1 70 1 26 1-4 1-29 1-9 1-29 1-3 1 4 1 19 1-15 1-38 1 52 1-52 1 1 1 68 1 2 1 11 1 0 1-70 1 7 1 4 1-18 1 30 1-37 1 19 1 21 1 40 1-43 1 25 1-54 1 34 1 63 1-61 1-8 1 2 1-43 1 3 1 61 1 1 1-22 1 53 1-65 1 76 1-41 1 6 1-27 1 7 1 9 1 46 1-88 1 28 1-5 1-31 1 14 1 12 1-20 1 70 1-39 1-2 1 29 1-26 1-22 1 4 1 44 1-20 1 43 1-17 1 12 1 16 1 32 1-2 1-42 1 2 1-32 1 62 1-24 1 25 1-13 1 0 1 20 1 5 1-2 1 20 1-10 1-42 1 55 1-21 1-9 1-17 1 12 1 12 1-12 1 8 1-10 1 11 1-16 1 0 1-12 1 43 1-17 1-2 1 17 1-17 1 44 1-9 1-15 1-5 1 21 1-27 1 1 1-8 1 5 1 5 1-4 1-10 1 5 1 13 1-9 1 2 1-6 1 9 1 9 1-10 1 3 1 18 1 4 1-15 1-6 1 21 1-27 1 13 1 3 1-20 1-7 1 0 1-18 1 14 1-9 1-2 1 1 1 6 1-27 1 8 1 21 1 2 1-9 1-1 1-9 1-14 1 16 1 26 1-34" stroke="#000000"/>
</g></g>
<rect x="753.9" y="402.0" width="422.0" height="145.2" fill="none" stroke="#7a7a7a" stroke-width="1"/>
<path d="M838.3,402.0v4.3M838.3,547.2v-4.3M922.7,402.0v4.3M922.7,547.2v-4.3M1007.1,402.0v4.3M1007.1,547.2v-4.3M1091.5,402.0v4.3M1091.5,547.2v-4.3M753.9,523.0h4.3M1175.9,523.0h-4.3M753.9,474.6h4.3M1175.9,474.6h-4.3M753.9,426.2h4.3M1175.9,426.2h-4.3" stroke="#7a7a7a" stroke-width="1" fill="none"/>
<text transform="translate(759.8,555.2) rotate(-90)" font-size="16.3" text-anchor="end" font-family="Liberation Sans, sans-serif" fill="#262626" >0</text>
<text transform="translate(844.2,555.2) rotate(-90)" font-size="16.3" text-anchor="end" font-family="Liberation Sans, sans-serif" fill="#262626" >5</text>
<text transform="translate(928.6,555.2) rotate(-90)" font-size="16.3" text-anchor="end" font-family="Liberation Sans, sans-serif" fill="#262626" >10</text>
<text transform="translate(1013.0,555.2) rotate(-90)" font-size="16.3" text-anchor="end" font-family="Liberation Sans, sans-serif" fill="#262626" >15</text>
<text transform="translate(1097.4,555.2) rotate(-90)" font-size="16.3" text-anchor="end" font-family="Liberation Sans, sans-serif" fill="#262626" >20</text>
<text transform="translate(1181.8,555.2) rotate(-90)" font-size="16.3" text-anchor="end" font-family="Liberation Sans, sans-serif" fill="#262626" >25</text>
<text transform="translate(1197.5,523.8) rotate(-90)" font-size="16.3" text-anchor="middle" font-family="Liberation Sans, sans-serif" fill="#262626" >2</text>
<text transform="translate(1197.5,475.4) rotate(-90)" font-size="16.3" text-anchor="middle" font-family="Liberation Sans, sans-serif" fill="#262626" >3</text>
<text transform="translate(1197.5,427.0) rotate(-90)" font-size="16.3" text-anchor="middle" font-family="Liberation Sans, sans-serif" fill="#262626" >4</text>
<rect x="838.3" y="593.5" width="253.2" height="145.4" fill="#cbcbcb"/>
<path d="M838.3,593.5V738.9M1091.5,593.5V738.9" stroke="#5e5e5e" stroke-width="1" fill="none"/>
<path d="M930.8,593.5V738.9" stroke="#999" stroke-width="0.8" stroke-dasharray="0.9,2.3" fill="none"/>
<clipPath id="c_b4"><rect x="753.9" y="593.5" width="422.0" height="145.4"/></clipPath>
<g clip-path="url(#c_b4)"><g transform="translate(753.90 0) scale(1.01280 0.25)" fill="none" stroke-width="1.60" stroke-linejoin="round" vector-effect="non-scaling-stroke" class="ns">
<path d="M43.33 2685l1-485 1 0 1 0 1 0 1 0 1 0 1 0 1 0 1 0 1 0 1 45 1 61 1 58 1 63 1 62 1 12 1 29 1 22 1 31 1 18 1 10 1 32 1-1 1 44 1-10 1 19 1 26 1-7 1 5 1 14 1 14 1-5 1-2 1-7 1 16 1-16 1-2 1-1 1 9 1 1 1 3 1 5 1 2 1-1 1 2 1-17 1 13 1-5 1 5 1-6 1 15 1 4 1 19 1-13 1-31 1 7 1-4 1 8 1 7 1-1 1-3 1 6 1-7 1 3 1 0 1 10 1-8 1 5 1-2 1 12 1 7 1-12 1-3 1-11 1 6 1-6 1-5 1 14 1 11 1-19 1 7 1 14 1-13 1-14 1-1 1-16 1 12 1 2 1 18 1-11 1-6 1-8 1 8 1 7 1 4 1-9 1-9 1 25 1-22 1 20 1-7 1 12 1-14 1 7 1 1 1 4 1 7 1-2 1 0 1-4 1-15 1-15 1 13 1-9 1 14 1 4 1-12 1-8 1 3 1-3 1-1 1 16 1-15 1 0 1-12 1-2 1 7 1 8 1 12 1 7 1 4 1 21 1-6 1 10 1-15 1-7 1-7 1 10 1 3 1 27 1-38 1-8 1-7 1 5 1-2 1-6 1-5 1 35 1 3 1-15 1 13 1-15 1 19 1-4 1 28 1-33 1-3 1-10 1-10 1 18 1 6 1 18 1-17 1 3 1-17 1 6 1 12 1 7 1-15 1 0 1-5 1 1 1 0 1-2 1 14 1 2 1 2 1-14 1 8 1-13 1 8 1 7 1-7 1 2 1-1 1 2 1 4 1 11 1 15 1-12 1 16 1-16 1-16 1 1 1-7 1 0 1-17 1 26 1-18 1 5 1 6 1 6 1-3 1-1 1-11 1 14 1-13 1 32 1 17 1-9 1-19 1 0 1 4 1-5 1 6 1 16 1-17 1-9 1 7 1 10 1 12 1-4 1 13 1-1 1 7 1-11 1-13 1 7 1-7 1 4 1-7 1 4 1 5 1 1 1 6 1 3 1-28 1-10 1 32 1-17 1 23 1-29 1-8 1 13 1 1 1-10 1 30 1-36 1-8 1 14 1-10 1 6 1 10 1-1 1 9 1 8 1-2 1-7 1 6 1-23 1 1 1-1 1 21 1 0 1-23 1 20 1 16 1 18 1-31 1 10 1-11 1 2 1 4 1-5 1 19 1-27 1 9 1-9 1-7 1-2 1-3 1 18 1-11 1 11 1-8 1-7 1-3 1-8 1-13 1 8M68.03 2676 L68.33 3053 68.63 2676M93.03 2741 L93.33 3053 93.63 2741M118.03 2755 L118.33 3053 118.63 2755M143.03 2758 L143.33 3053 143.63 2758M168.03 2722 L168.33 3053 168.63 2722M193.03 2756 L193.33 3053 193.63 2756M218.03 2770 L218.33 3053 218.63 2770M243.03 2758 L243.33 3053 243.63 2758M268.03 2816 L268.33 3053 268.63 2816M289.70 2805 L290.00 3053 290.30 2805M318.03 2811 L318.33 3053 318.63 2811M245.03 2770 L245.33 2510 245.63 2770M43.70 2200 L44.00 2665 44.30 2200" stroke="#ff0000"/>
<path d="M43.33 2669l1-469 1 0 1 0 1 0 1 0 1 0 1 0 1 0 1 0 1 0 1 34 1 53 1 62 1 65 1 45 1 35 1 3 1 27 1 36 1 13 1 34 1 14 1 34 1 27 1-5 1 1 1 24 1-2 1 11 1 2 1 2 1-12 1 9 1-7 1-2 1 19 1 13 1 3 1-14 1-6 1 6 1 0 1 4 1-6 1 17 1 6 1-13 1-1 1 2 1 0 1 1 1 8 1-2 1 3 1-5 1 12 1-8 1 8 1-15 1-15 1-7 1 7 1 26 1-5 1 12 1 0 1 6 1-27 1-5 1-4 1-1 1 22 1-2 1 2 1-7 1 8 1-1 1 3 1 3 1 1 1-9 1-7 1 3 1-2 1-13 1 10 1 9 1 8 1 0 1-5 1 0 1-12 1 2 1-12 1 23 1 8 1-4 1-15 1 17 1 4 1-7 1 19 1-10 1-15 1-12 1 31 1-8 1-11 1 11 1-12 1 16 1-14 1-3 1 7 1 8 1-13 1-12 1 17 1 11 1-16 1-2 1-6 1 3 1-17 1-7 1-1 1 19 1-9 1 13 1-9 1-4 1 1 1 17 1 7 1 0 1-6 1-22 1-1 1 4 1 4 1-2 1 10 1-8 1 18 1 4 1 5 1-37 1 0 1 6 1-12 1 18 1 13 1 15 1-15 1 10 1-8 1-13 1-4 1-3 1 24 1-5 1-3 1 20 1-2 1-8 1 10 1-21 1-1 1 14 1-6 1-2 1-5 1 3 1 6 1-10 1 13 1 21 1-36 1 29 1-6 1-2 1 7 1 13 1-19 1-5 1 17 1-1 1 6 1-20 1-12 1 3 1 1 1-4 1-2 1 16 1 0 1-34 1 18 1-20 1 11 1-8 1-4 1 27 1 3 1 4 1 21 1 3 1-9 1-4 1-6 1-9 1 35 1-10 1-6 1 7 1-1 1 4 1-22 1-2 1-3 1 17 1 7 1-20 1 4 1 11 1-11 1 12 1 1 1-19 1 10 1 9 1 4 1-24 1-2 1 7 1 9 1 11 1-11 1-16 1-2 1 7 1 0 1 7 1-11 1 0 1 17 1-21 1-3 1-2 1 20 1 6 1-2 1-8 1-3 1 2 1 12 1 3 1-8 1-6 1 8 1 4 1-9 1 14 1-16 1-1 1-6 1 13 1-20 1 15 1 8 1 5 1 12 1-9 1-21 1-15 1 13 1 1 1 1 1-3 1-13 1-21 1 51 1-10 1 5 1 0 1-4 1 19 1-44 1 4 1 1" stroke="#ff0000"/>
<path d="M43.33 2691l1-491 1 0 1 0 1 0 1 0 1 0 1 0 1 0 1 0 1 4 1 60 1 44 1 50 1 80 1 41 1 37 1 20 1 4 1 31 1 23 1 27 1 46 1 9 1 7 1 19 1-7 1 14 1 0 1-1 1 18 1 18 1 7 1 8 1-6 1-8 1-4 1 5 1 8 1 8 1 5 1 5 1 3 1-17 1 1 1 19 1 4 1-2 1 3 1-21 1 3 1 2 1 14 1-19 1-18 1 19 1 0 1-16 1 19 1-12 1 4 1 17 1-7 1 8 1-5 1-19 1-3 1 2 1 5 1 3 1-10 1-3 1 27 1 4 1-12 1-10 1 11 1 2 1 1 1-13 1 9 1-5 1-9 1 8 1 16 1-15 1-7 1 3 1 1 1 0 1-16 1 2 1 13 1 0 1 3 1-20 1 4 1-5 1 20 1 10 1-4 1 10 1-6 1-17 1 6 1-9 1 1 1-6 1 10 1 12 1 12 1-2 1 6 1-5 1 14 1 8 1-29 1 15 1-9 1-2 1 8 1 18 1 15 1-28 1 23 1-5 1-17 1-2 1-8 1-15 1 12 1-7 1-1 1 10 1 5 1 13 1-12 1-2 1 1 1 4 1-20 1 22 1-15 1 19 1 4 1-28 1 0 1-15 1 7 1-29 1-2 1 16 1 26 1 0 1-3 1 1 1 5 1 11 1 9 1-2 1-8 1-5 1-11 1 41 1-17 1-13 1-13 1-15 1 15 1 10 1 17 1 1 1-10 1-15 1-4 1 15 1 9 1-1 1-27 1 11 1-22 1 16 1-6 1 10 1 0 1 22 1-7 1 8 1-2 1-3 1 23 1-3 1-21 1-19 1 20 1 4 1-19 1 14 1 14 1-7 1 9 1-4 1-8 1-5 1 23 1 23 1 5 1-22 1 24 1-21 1-9 1-13 1-11 1-1 1 13 1 0 1 2 1 5 1 19 1-14 1 13 1-38 1 26 1-13 1-20 1 4 1 12 1-22 1 25 1 8 1-1 1-14 1 15 1 1 1 13 1-2 1-1 1 5 1 3 1-7 1 3 1 14 1-6 1 6 1-1 1-16 1-1 1-23 1 7 1 8 1-21 1 5 1-15 1 3 1-18 1 2 1 22 1 29 1-3 1 9 1 15 1-29 1-20 1 15 1-2 1 15 1-10 1-16 1 3 1 11 1 9 1-21 1-21 1 26 1 1 1-2 1-15 1-5 1 36 1 3 1-10 1-6 1 18 1-41 1 3 1 16 1 19 1 10 1-19 1-6 1-16" stroke="#ff0000"/>
<path d="M35.00 2200l1 0 1 0 1 26 1 73 1 73 1 76 1 62 1 10 1 11 1 24 1 17 1 28 1 9 1 11 1 27 1-18 1 14 1 26 1 3 1-1 1 23 1 26 1-2 1-5 1 26 1 33 1 3 1 12 1 9 1 13 1 11 1 3 1 8 1-2 1 0 1-11 1-8 1 9 1 1 1-8 1 23 1 2 1 8 1 1 1-9 1 3 1-11 1 17 1 10 1 13 1-12 1-8 1 14 1-6 1-11 1 5 1-13 1 5 1-17 1 16 1-15 1 23 1-29 1 23 1-4 1 3 1 1 1-19 1-17 1-20 1 22 1 13 1-12 1 20 1-7 1-7 1-5 1-3 1 4 1 1 1-3 1-1 1 8 1-4 1-13 1-10 1-6 1 10 1-4 1 1 1-13 1 17 1-1 1 7 1-3 1-6 1 14 1-27 1 0 1 1 1-3 1 2 1 10 1 1 1-31 1 20 1-20 1 11 1 10 1 4 1-9 1 2 1-3 1 4 1-4 1-1 1-10 1 5 1-20 1 21 1-4 1-3 1-12 1-5 1-1 1-6 1 4 1 3 1 11 1-5 1 18 1 0 1-13 1 28 1-27 1 5 1 6 1 6 1 1 1-2 1-9 1 25 1-20 1 12 1 0 1 1 1-11 1 5 1-14 1-21 1 21 1-3 1-4 1 15 1 11 1-13 1 1 1-3 1-11 1 6 1-2 1 21 1 4 1-15 1 16 1 6 1-25 1-8 1 14 1-4 1 13 1 8 1-38 1 17 1 2 1 8 1 7 1-14 1 10 1-12 1 10 1-23 1 14 1-18 1 28 1-17 1 4 1-2 1 11 1-9 1 9 1-18 1 8 1-7 1 11 1 0 1 8 1-11 1-3 1 15 1 12 1-16 1-13 1 6 1 14 1 8 1-3 1-19 1 16 1 4 1-9 1-30 1 21 1-3 1 12 1 6 1 2 1 1 1-10 1 4 1 12 1-12 1-10 1 9 1-29 1 23 1-31 1 8 1 23 1 2 1 3 1-35 1 29 1 0 1 5 1 1 1-16 1-13 1-1 1 34 1 17 1-32 1-1 1-4 1 13 1-18 1 9 1 14 1-8 1-1 1-4 1 0 1 3 1 3 1-13 1 12 1-5 1-22 1 29 1 7 1-4 1-12 1-11 1 8 1 1 1 24 1 1 1 4 1-6 1-6 1-2 1-1 1 12 1-28 1-2 1-13 1 36 1-1 1-13 1 22 1-5 1-13 1 16 1-18 1 14 1-5 1 10 1 2 1-25 1-5 1-24 1 24 1-22 1-2 1-5 1-27 1 7 1 7 1-13 1 39 1-5 1-12 1 25 1-18 1 31 1 11 1-18 1-13 1 1 1 8 1 6 1 16 1-7 1-12 1 15 1 7 1-11 1 19 1-11 1-16 1 14 1 0 1-19 1 14 1 0 1-13 1-3 1 5 1 7 1 7 1-21 1 19 1-11 1 3 1-2 1 1 1 17 1 3 1-9 1-4 1-2 1 6 1-17 1 30 1-14 1-5 1 18 1 21 1-17 1-26 1 3 1 8 1 9 1-9 1-8 1 12 1 3 1 6 1 1 1 7 1-1 1 11 1-15 1 7 1-10 1-1 1-3 1-6 1-2 1 6 1 3 1 7 1-4 1-8 1 4 1-7 1 10 1 0 1 4 1 3 1-11M219.70 2781 L220.00 2558 220.30 2781M224.70 2768 L225.00 2384 225.30 2768M173.03 2775 L173.33 2849 173.63 2775M144.70 2785 L145.00 2873 145.30 2785" stroke="#00ffff"/>
<path d="M35.00 2200l1 0 1 0 1 0 1 59 1 71 1 94 1 46 1 13 1 17 1 21 1 13 1 29 1 20 1 6 1 13 1 3 1 27 1 11 1 23 1-11 1 8 1 28 1 15 1 17 1-3 1-15 1 18 1-2 1 37 1-4 1 27 1-9 1-5 1 8 1-3 1 14 1-6 1 6 1 16 1 8 1-14 1 0 1 4 1 14 1 2 1-6 1 3 1-13 1 16 1 8 1-7 1 9 1-16 1-7 1-4 1 5 1 2 1 2 1 6 1 1 1 15 1-20 1-9 1 8 1-4 1 15 1 16 1-22 1 0 1-23 1-1 1 2 1 33 1-26 1 2 1 2 1-9 1-5 1-3 1 1 1 3 1 10 1 12 1-13 1 3 1-11 1 16 1-6 1-13 1-8 1-2 1 17 1-5 1 0 1-5 1-2 1-2 1-13 1-16 1 10 1-6 1 13 1-15 1-4 1 8 1 28 1-13 1 4 1-22 1 4 1 10 1-3 1-1 1-13 1 1 1 6 1 16 1-7 1-23 1-6 1-9 1 6 1-5 1-1 1 29 1 7 1 8 1 5 1-20 1 5 1-4 1-8 1-16 1-5 1 9 1-4 1 16 1-7 1-14 1 5 1 12 1-2 1-30 1 24 1-1 1 23 1-12 1-6 1-2 1 12 1-21 1 17 1 3 1-19 1 22 1 10 1-19 1 17 1 12 1-4 1 3 1-25 1 23 1 12 1-35 1 10 1 1 1-15 1 10 1-1 1-16 1 5 1-13 1 22 1 11 1-24 1 10 1-3 1 6 1-2 1 14 1-11 1-5 1 2 1-7 1 5 1-6 1 11 1-10 1-14 1 6 1 1 1 15 1 12 1 4 1 2 1-4 1 5 1-11 1 17 1-12 1-34 1 8 1 11 1 17 1-9 1 11 1 17 1-11 1 11 1-19 1-5 1-19 1 11 1 17 1-5 1-1 1 5 1 1 1-13 1-15 1 5 1 13 1-10 1 3 1 0 1 9 1-7 1 1 1-7 1-21 1 24 1-9 1 11 1 5 1-8 1-3 1 22 1 6 1-18 1 15 1-9 1 1 1 20 1-27 1-2 1-15 1 25 1-8 1 2 1-7 1 10 1-4 1-5 1-1 1 20 1-5 1-14 1 1 1-5 1 1 1 7 1-13 1 20 1 18 1-11 1 5 1-16 1-1 1 11 1-24 1 7 1 6 1 3 1-13 1 13 1-13 1 11 1-6 1 2 1 7 1-5 1-9 1 11 1 0 1-9 1 15 1-9 1 0 1-18 1 24 1-24 1-4 1 4 1-9 1 2 1 21 1-11 1-2 1 1 1 7 1-25 1-3 1 13 1 6 1-21 1 8 1-24 1 39 1-13 1-16 1 16 1-5 1 33 1-11 1-3 1 25 1-6 1 17 1-10 1 5 1-12 1 16 1 7 1-4 1 5 1-9 1 16 1-28 1-13 1 8 1-3 1 11 1 0 1-3 1-4 1 37 1 10 1-6 1-14 1-10 1-9 1-3 1 18 1-16 1-25 1 16 1 2 1-9 1 3 1-2 1 3 1 11 1 3 1-10 1-5 1-8 1 10 1 7 1-27 1 18 1-4 1-5 1-3 1 30 1 7 1-14 1 13 1 3 1-5 1-5 1-11 1-3 1 12 1 5 1-13 1 13 1 2 1-6 1 7 1 3" stroke="#00ffff"/>
<path d="M38.33 2200l1 0 1 0 1 0 1 0 1 5 1 55 1 36 1 48 1 54 1 23 1 55 1 24 1 21 1 31 1 17 1 0 1 8 1 23 1 17 1 32 1 7 1 17 1-3 1 36 1 38 1 11 1 11 1 7 1 18 1-23 1 15 1 18 1 0 1 26 1-8 1 12 1-4 1-10 1 19 1-5 1 25 1-1 1 26 1-9 1 10 1 6 1 3 1-19 1 24 1 21 1-5 1-11 1-7 1-3 1-19 1 7 1 16 1 23 1-29 1-6 1 1 1-6 1 14 1-11 1 18 1-6 1-34 1 14 1 2 1-2 1-3 1-35 1 40 1-33 1-23 1 45 1-30 1 16 1-12 1 2 1-8 1-16 1 17 1 9 1-16 1-8 1-19 1 21 1-15 1-1 1 7 1-19 1 14 1-5 1-15 1 10 1-1 1-9 1-17 1-3 1-14 1 12 1-6 1 27 1-3 1-1 1 12 1 4 1-38 1-6 1 9 1 21 1 0 1-12 1-52 1 20 1 25 1-3 1-9 1-7 1 6 1 23 1-6 1-3 1 8 1 14 1 8 1-4 1 0 1 31 1-40 1-9 1-7 1 10 1 1 1 14 1-30 1 6 1 22 1-33 1 12 1-23 1 25 1-1 1 8 1-34 1 18 1 26 1 0 1-18 1 7 1-3 1 7 1 3 1 6 1-17 1-26 1-4 1 18 1 12 1 4 1 26 1-33 1 11 1 1 1-22 1 5 1 2 1 11 1-4 1-22 1-20 1 18 1 14 1 15 1-5 1 1 1-42 1 45 1-11 1 18 1 28 1 4 1-19 1 8 1-2 1-7 1 27 1-23 1-19 1 3 1 12 1-12 1-3 1 6 1 7 1-17 1 22 1 4 1 10 1-16 1-20 1 2 1 2 1 43 1-24 1-3 1-1 1-2 1 0 1-18 1-7 1 14 1 8 1-21 1 13 1 0 1 9 1-22 1 46 1-10 1-1 1 5 1-40 1 22 1 10 1 1 1-11 1 9 1 14 1-4 1-34 1 17 1 28 1-35 1-11 1 22 1 20 1-2 1-3 1-13 1 4 1 31 1-41 1-7 1 0 1 12 1-8 1-19 1-6 1 40 1 10 1-8 1 2 1 36 1-55 1-1 1-15 1 31 1-4 1-39 1 7 1-8 1 36 1-39 1 21 1-11 1 36 1-9 1-25 1-11 1 38 1-1 1 5 1-20 1 29 1 30 1 7 1 20 1-2 1 16 1-2 1-10 1 4 1 19 1-33 1-2 1-58 1-43 1-23 1-18 1-66 1 28 1-2 1-7 1 40 1 11 1 3 1 8 1 3 1-12 1 29 1-18 1 23 1-29 1-13 1 45 1 22 1-9 1-9 1-15 1 17 1-21 1-10 1 27 1 7 1 20 1-45 1 21 1-1 1 22 1-27 1 20 1-5 1-9 1 17 1-30 1-12 1 17 1-2 1-17 1 14 1-14 1 15 1-1 1 5 1 21 1-20 1 3 1 11 1-4 1 13 1-8 1-29 1 8 1 4 1-24 1 19 1-4 1 0 1-30 1 8 1-7 1 34 1-8 1 1 1-9 1 7 1-20 1-1 1 6 1 6 1-6 1 18 1-1 1-13 1-13 1-12 1 23 1 13 1 2 1-17 1 9 1-7 1 13 1-20 1-5 1 28M38.03 2200 L38.33 2519 38.63 2200M38.70 2200 L39.00 2616 39.30 2200M83.03 2882 L83.33 2200 83.63 2882M83.70 2888 L84.00 2801 84.30 2888M208.03 2773 L208.33 2442 208.63 2773M286.37 2791 L286.67 2956 286.97 2791M367.20 2756 L367.50 2568 367.80 2756M386.37 2750 L386.67 2200 386.97 2750M389.70 2724 L390.00 2200 390.30 2724" stroke="#0000ff"/>
<path d="M55.00 2200l1 0 1 0 1 0 1 0 1 0 1 0 1 28 1 42 1 42 1 26 1 46 1 35 1 4 1 22 1-10 1 39 1 2 1 14 1-8 1 26 1 12 1-17 1 22 1 18 1 33 1 25 1 7 1 12 1 5 1 17 1 30 1-18 1 11 1-17 1-15 1 10 1-15 1 5 1-22 1-10 1 9 1 21 1 7 1-18 1-26 1-15 1 3 1 28 1 18 1-47 1 33 1 5 1-10 1 13 1-28 1 6 1 5 1 8 1 2 1 33 1-13 1 37 1 8 1-7 1-38 1 15 1-19 1-1 1 0 1 1 1 11 1 4 1 3 1-31 1-8 1 13 1-7 1 14 1 9 1-7 1 13 1 2 1-11 1-13 1 15 1-14 1 25 1-5 1 29 1-31 1-7 1 2 1 20 1-6 1 12 1-13 1 19 1-15 1 28 1 1 1-50 1 14 1 6 1 20 1-26 1 6 1-23 1 24 1 0 1-2 1-13 1 24 1 1 1-11 1 14 1-8 1 12 1-12 1-7 1 5 1-11 1-13 1 17 1-13 1 31 1-10 1-16 1 34 1 36 1-36 1 10 1 13 1 18 1-42 1 4 1-4 1 33 1-2 1-20 1-10 1 20 1 19 1-11 1 23 1-21 1 17 1 1 1 15 1-4 1 1 1-19 1-1 1 22 1-10 1 12 1-31 1-19 1 14 1 1 1 4 1-25 1-3 1 20 1 12 1-24 1-16 1 7 1 37 1-13 1 5 1-6 1-35 1 12 1-15 1-33 1 44 1-6 1-2 1-15 1 37 1-8 1 40 1-32 1-39 1 5 1 36 1-26 1 10 1 2 1-9 1 8 1-33 1 48 1-18 1 10 1-3 1 6 1 21 1-39 1 11 1-12 1 31 1-2 1 9 1 0 1 13 1-2 1-35 1-3 1 30 1-46 1-14 1 1 1 34 1-1 1-27 1-1 1-7 1 21 1 6 1 4 1-38 1 18 1-11 1 39 1-9 1 13 1 2 1 8 1-2 1-37 1 20 1-15 1-6 1 10 1 35 1 42 1-23 1-31 1 47 1-33 1 7 1 12 1 10 1-8 1-16 1-18 1-10 1 15 1-17 1 23 1-33 1 17 1-25 1-5 1 18 1-26 1 19 1-13 1-8 1 12 1 18 1-14 1 8 1 11 1-6 1-17 1-40 1 25 1 2 1-4 1-14 1-7 1 47 1-42 1 32 1 19 1-45 1-28 1 19 1 27 1-32 1 34 1-20 1-12 1 55 1-19 1 19 1-29 1 4 1-9 1 45 1-15 1 41 1-14 1 12 1-1 1 23 1-48 1-18 1-1 1-29 1 12 1 13 1-5 1 9 1 47 1 0 1-18 1 2 1 15 1 0 1-11 1 0 1 12 1 2 1-10 1-4 1 15 1 9 1-16 1-7 1-17 1-8 1 17 1 11 1 4 1 12 1-39 1 29 1 7 1-1 1 5 1 3 1 17 1 1 1-20 1-24 1 9 1-3 1-10 1-6 1-2 1 20 1-2 1 32 1-3 1-22 1-1 1-4 1-13 1 24 1-5 1-3 1 13 1-4 1 15 1 5 1-16 1 0 1-20M323.03 2622 L323.33 2471 323.63 2622M343.03 2678 L343.33 2403 343.63 2678M368.03 2703 L368.33 2200 368.63 2703M379.70 2696 L380.00 2200 380.30 2696M388.03 2724 L388.33 2917 388.63 2724M393.03 2701 L393.33 2200 393.63 2701" stroke="#ff00ff"/>
<path d="M38.33 2200l1 0 1 0 1 0 1 0 1 0 1 23 1 54 1 42 1 47 1 42 1 33 1 19 1 1 1 42 1 63 1 18 1-3 1 14 1-15 1 41 1 26 1-14 1 8 1 20 1 16 1 11 1 24 1 16 1 27 1-1 1 4 1 16 1-9 1 14 1 3 1 9 1-9 1 2 1 29 1 19 1-14 1 7 1-10 1 36 1 2 1 21 1-16 1-9 1 6 1-17 1 22 1-19 1 3 1 9 1 6 1-11 1-7 1 1 1 5 1 8 1 1 1-28 1 7 1 31 1-18 1 1 1-2 1-2 1-14 1 14 1-8 1-35 1 28 1-4 1-3 1-10 1-6 1-17 1-4 1 25 1-4 1-24 1 13 1-12 1-19 1 15 1 0 1-9 1-27 1 31 1-1 1 15 1-11 1 6 1-23 1 4 1-21 1-11 1 32 1 25 1-35 1 12 1-12 1-15 1 0 1-4 1 22 1 15 1-7 1-16 1 14 1 11 1-18 1-9 1-11 1-5 1 24 1 9 1-3 1 31 1-20 1-16 1-31 1 12 1 1 1 3 1-30 1 0 1-23 1 10 1 4 1-20 1 32 1 15 1-27 1-4 1 50 1-11 1 14 1 4 1 0 1-25 1-8 1 27 1-6 1-25 1 16 1 28 1-5 1-23 1 16 1-9 1-12 1 14 1 9 1 1 1 13 1-40 1-1 1 24 1-8 1 6 1-9 1-17 1-6 1 5 1 3 1 2 1-13 1 11 1 3 1 23 1 21 1 3 1-17 1 12 1-42 1 20 1-7 1-8 1-11 1 30 1-15 1-5 1 46 1 3 1 0 1-20 1-15 1 7 1 22 1-33 1 19 1 39 1-21 1-10 1 3 1 19 1-38 1 8 1 7 1-8 1-19 1-1 1-14 1-8 1 18 1-2 1 5 1 10 1 9 1 10 1-9 1 31 1-23 1-11 1-7 1 4 1 26 1-7 1 16 1-22 1 4 1-29 1-9 1 21 1-19 1 29 1-14 1-30 1 55 1-10 1-11 1 14 1 19 1-25 1 9 1 10 1-33 1-1 1-6 1-11 1 21 1 12 1 9 1 31 1 2 1-29 1-7 1-3 1 20 1 21 1-13 1 22 1-42 1 32 1-2 1-28 1 5 1 9 1 2 1-8 1-7 1 26 1-43 1 23 1-20 1 1 1-7 1 19 1-12 1 9 1-7 1 16 1-17 1 42 1-7 1 7 1 45 1-16 1 21 1-5 1-7 1-10 1 0 1-19 1-24 1-17 1-55 1-53 1-51 1 17 1 0 1 34 1 35 1 6 1 1 1-46 1 20 1 6 1-5 1 10 1 16 1 33 1-24 1 10 1-5 1 16 1-19 1 5 1 32 1 5 1-13 1 8 1-2 1-14 1-11 1-10 1 28 1-14 1-23 1-12 1 23 1-4 1 7 1-8 1 12 1 15 1 1 1-25 1 24 1-35 1 24 1 12 1 9 1 4 1-39 1 9 1-25 1-4 1 22 1-11 1 13 1 30 1-8 1-50 1 14 1 46 1-22 1 2 1-28 1 0 1-28 1 18 1 37 1 0 1-8 1 18 1-35 1 11 1 11 1-29 1 13 1 16 1-21 1 13 1-1 1-19 1 6 1 25 1-25 1 23 1-3 1-9 1-2 1-5 1-14 1-7M84.37 2874 L84.67 2200 84.97 2874" stroke="#0000ff"/>
<path d="M55.00 2200l1 0 1 0 1 0 1 0 1 0 1 23 1 42 1 48 1 49 1 10 1 42 1 11 1 11 1 42 1-5 1 8 1 0 1 23 1 6 1 52 1-5 1 11 1 10 1 11 1 35 1 1 1 33 1-10 1-7 1 1 1 35 1-10 1-13 1 31 1-8 1-6 1-16 1 19 1-12 1 4 1-1 1 8 1 10 1-32 1 13 1-16 1-1 1-9 1 59 1-9 1-41 1 19 1-9 1-19 1-15 1 0 1-18 1 20 1 3 1 27 1-8 1-5 1 12 1 14 1-16 1 27 1-8 1-29 1-1 1 10 1-23 1 22 1 20 1 4 1 5 1-27 1 6 1 4 1-2 1 1 1 19 1-24 1-24 1 26 1 13 1-3 1 6 1-4 1 2 1-13 1-6 1-3 1-6 1-7 1 24 1 1 1-7 1-11 1 14 1-23 1 14 1 7 1 35 1-12 1-28 1 27 1-12 1-18 1-1 1 31 1-17 1-7 1 39 1-28 1 15 1-13 1 67 1-51 1-26 1 21 1 7 1-10 1 6 1 49 1-27 1 35 1-47 1-6 1 18 1-5 1-53 1 23 1 29 1-1 1-7 1 17 1-2 1 2 1-9 1 6 1 15 1 22 1-16 1 2 1-25 1 13 1-5 1-6 1-6 1 31 1-17 1 29 1-36 1 15 1-19 1 41 1 6 1-27 1-15 1 3 1-19 1 31 1 12 1-24 1-10 1 23 1 22 1 7 1-5 1-58 1 37 1 15 1 24 1-4 1 37 1-75 1 21 1-20 1-25 1 36 1-24 1 9 1-17 1-1 1 34 1 20 1-15 1-9 1 9 1 5 1-32 1 3 1 0 1 10 1-7 1-20 1 7 1 5 1-13 1-4 1 24 1 36 1 8 1 23 1-22 1 2 1-39 1 17 1-16 1-15 1 4 1 10 1-11 1 30 1-15 1-20 1 50 1-26 1-10 1-29 1 26 1 0 1 13 1-2 1-5 1-10 1 2 1-1 1 42 1-21 1 31 1-20 1-12 1-2 1-29 1-14 1 18 1-33 1 28 1 18 1 12 1-19 1 43 1-25 1-5 1 17 1 16 1-21 1-21 1-11 1-26 1 20 1 39 1-4 1-4 1-3 1-4 1 21 1-20 1 36 1-21 1-37 1 16 1-7 1-19 1-34 1-28 1-17 1 1 1 7 1-8 1 1 1 43 1 7 1-14 1 4 1 35 1-11 1 17 1-57 1 0 1 12 1-27 1 39 1 8 1-3 1 11 1-29 1 13 1 6 1 29 1 4 1-18 1-4 1 23 1 3 1 14 1 13 1-17 1-13 1-11 1 4 1-19 1 39 1 45 1-33 1-12 1 16 1-10 1-6 1 7 1-14 1-15 1-11 1 24 1 4 1-6 1 38 1-6 1-36 1 19 1 11 1-32 1 25 1 15 1 5 1-16 1 18 1 31 1 7 1-26 1 11 1-30 1 8 1-31 1 8 1-3 1 10 1 53 1-42 1-26 1-9 1 11 1-3 1 28 1 30 1-7 1-6 1 7 1-6 1 7 1-27 1-20 1 15 1-7 1 15 1-17 1 14 1-11 1 1 1 7M369.03 2686 L369.33 2200 369.63 2686M304.70 2709 L305.00 2568 305.30 2709" stroke="#ff00ff"/>
<path d="M38.33 2200l1 0 1 0 1 0 1 0 1 40 1 58 1 29 1 36 1 28 1 42 1 52 1 24 1 0 1 34 1 1 1 32 1 2 1 67 1 26 1-10 1 36 1 3 1 16 1 17 1 10 1-7 1 28 1 5 1 32 1 3 1 13 1 11 1-4 1-20 1 7 1 31 1 0 1 12 1-4 1-5 1 8 1-12 1 14 1-5 1 15 1 4 1 6 1 24 1 14 1-4 1-2 1-8 1 19 1-5 1-19 1 16 1 13 1-16 1-1 1 7 1 3 1-7 1 8 1-2 1-10 1-23 1-1 1-9 1-37 1 25 1-2 1 15 1-17 1 13 1-1 1-22 1-9 1 11 1-5 1 21 1-24 1 14 1 19 1-41 1-3 1-9 1 18 1-26 1 23 1-17 1 12 1 0 1-6 1-28 1 0 1 33 1 0 1 20 1-14 1-4 1-29 1-6 1 25 1 5 1-11 1 5 1 2 1-2 1-26 1 23 1-19 1 24 1 1 1 14 1-1 1 3 1-8 1-6 1-20 1-8 1-25 1-12 1-6 1 10 1 16 1-18 1 32 1 7 1 1 1-10 1 12 1 23 1-31 1-2 1-16 1-7 1-7 1 14 1-3 1 10 1-10 1 28 1 15 1-19 1 10 1-17 1-16 1 27 1 3 1-5 1 10 1-19 1 12 1-7 1 14 1-3 1-21 1 12 1 21 1 2 1-30 1 5 1-17 1-8 1 3 1 39 1-31 1 5 1 18 1-23 1 3 1-6 1 26 1-1 1-4 1-2 1-14 1 29 1 0 1-16 1-9 1 16 1-2 1 21 1-30 1 20 1 19 1-26 1-1 1 3 1-36 1 33 1 1 1 5 1-11 1-1 1-1 1 17 1-19 1 21 1-23 1 15 1-9 1-18 1 1 1-20 1-5 1-2 1 14 1-9 1 19 1-7 1 26 1-10 1 4 1-1 1 2 1 9 1-25 1 34 1-19 1-8 1 7 1 1 1 18 1 15 1 29 1-35 1-38 1 30 1-22 1 12 1 1 1-12 1 14 1-14 1 10 1 12 1-11 1 13 1-10 1 29 1-26 1 19 1 19 1-28 1 30 1-39 1 2 1-12 1-9 1 32 1-36 1 32 1-1 1 11 1 25 1-34 1-29 1 15 1 34 1-31 1-21 1-11 1 30 1 3 1 16 1-31 1 24 1 18 1-7 1-2 1-4 1 22 1-10 1-5 1 17 1 6 1 9 1 7 1 11 1 20 1 33 1-28 1-18 1-11 1-50 1-40 1-11 1-51 1-17 1-32 1-7 1 22 1 14 1 19 1 26 1-53 1 24 1 26 1 27 1 1 1 4 1 3 1-9 1 10 1-32 1 5 1 12 1 13 1-21 1 19 1-4 1 15 1-21 1-18 1 17 1-19 1 11 1-20 1 23 1-11 1-14 1 20 1 36 1-33 1 20 1-8 1-12 1 7 1 12 1-2 1 3 1-3 1-5 1-29 1-13 1 26 1-18 1 12 1 9 1 0 1-16 1-31 1 4 1 27 1 15 1 8 1-7 1-1 1-5 1-3 1 15 1-2 1-17 1 7 1-12 1 0 1-10 1 5 1-1 1 25 1-2 1 40 1-37 1-11 1-6 1-4 1 20 1-25 1 2 1 13 1-17 1-6 1 16 1 10 1-14 1 25" stroke="#0000ff"/>
<path d="M55.00 2200l1 0 1 0 1 0 1 13 1 4 1 65 1 34 1 51 1 23 1 7 1 35 1 33 1 24 1 0 1 12 1 9 1 19 1-3 1 2 1 13 1-9 1 26 1 24 1 22 1 22 1 21 1-2 1 7 1 30 1 13 1 0 1 16 1-14 1 8 1 4 1-18 1 39 1 6 1-13 1-6 1-28 1-9 1-13 1-15 1 13 1 1 1 16 1 6 1 4 1-8 1 12 1-16 1-16 1-17 1-9 1 10 1-13 1 26 1 9 1-12 1 26 1 2 1-28 1 13 1-33 1 18 1-17 1 30 1 33 1-13 1-13 1 32 1-14 1-14 1-7 1 4 1-9 1 6 1 7 1 18 1-30 1 31 1-29 1-3 1 4 1-6 1-24 1-2 1 3 1 32 1 10 1-17 1 6 1 6 1-9 1 12 1 7 1 4 1 2 1-12 1-12 1-2 1 28 1 11 1 24 1-38 1-14 1 19 1 4 1-17 1 12 1-5 1 2 1 0 1 13 1-1 1 13 1-14 1-1 1 11 1-2 1-4 1-5 1-2 1-9 1 27 1-37 1 6 1 52 1-17 1-1 1 26 1 8 1-17 1 3 1-18 1-4 1 14 1-7 1-5 1 33 1 10 1-15 1-12 1-2 1 4 1 20 1 17 1-52 1 39 1-17 1-11 1 4 1 21 1-19 1 1 1-25 1 15 1-3 1 12 1 19 1-21 1 37 1-34 1-25 1-18 1 24 1 28 1 23 1-18 1-47 1-14 1 30 1 20 1-8 1 12 1-10 1 43 1-21 1-15 1-26 1 10 1-2 1 23 1 10 1-9 1 20 1-20 1 18 1-5 1-6 1-31 1 4 1-22 1 22 1 19 1 0 1-26 1-17 1-23 1-2 1 5 1-21 1 36 1-18 1 10 1 1 1 30 1 16 1 11 1 0 1-40 1 1 1 11 1-2 1 1 1 54 1-10 1-6 1-1 1 13 1-20 1 9 1 8 1-28 1 8 1 39 1-42 1 19 1 17 1-30 1 10 1-6 1 18 1-9 1-25 1 29 1-18 1 9 1 16 1-9 1-25 1 22 1-1 1 10 1-25 1 1 1-7 1-13 1 28 1-25 1 24 1-25 1 38 1-23 1 17 1-31 1-7 1 2 1-20 1 28 1 2 1 2 1-14 1-13 1 5 1-42 1 2 1 41 1-23 1 14 1-34 1 9 1-22 1-7 1 11 1-3 1-23 1 9 1-18 1 4 1-4 1 11 1 31 1 5 1 65 1-10 1-12 1 18 1-17 1 5 1-13 1-7 1-12 1 19 1 11 1 14 1 9 1 41 1-27 1 19 1-25 1-8 1 9 1-22 1-25 1 2 1 3 1 32 1-2 1-18 1 8 1-17 1 31 1-27 1 0 1 20 1-21 1 8 1-8 1-3 1 33 1-4 1-2 1 24 1-15 1-12 1 11 1 21 1-17 1-11 1 1 1 24 1 20 1-7 1-17 1-10 1-22 1 11 1-16 1-16 1 15 1-4 1 24 1 26 1-12 1-12 1 11 1-6 1 7 1 38 1-22 1 6 1-10 1-41 1 14 1 18 1 21 1 5 1 6 1-26M221.37 2727 L221.67 2578 221.97 2727" stroke="#ff00ff"/>
<path d="M38.33 2200l1 0 1 0 1 0 1 0 1 0 1 46 1 39 1 27 1 47 1 56 1 39 1 28 1 3 1 26 1-1 1 45 1 4 1 8 1 25 1-5 1 41 1 11 1-10 1 29 1 21 1 48 1 12 1 11 1-2 1 8 1 28 1 4 1-10 1 3 1 22 1-9 1 2 1-2 1-9 1-5 1 13 1-5 1 56 1-4 1-11 1-9 1 7 1 4 1 30 1 3 1 0 1-6 1 6 1 0 1-20 1 2 1-22 1 11 1 6 1 2 1 2 1 8 1-7 1 4 1-9 1 32 1-31 1-11 1-2 1-19 1 23 1-33 1 15 1-3 1 3 1-14 1-1 1 11 1-10 1-1 1 21 1-31 1 2 1-12 1 11 1 2 1-38 1 10 1-1 1-6 1-8 1 6 1 5 1 8 1-11 1-21 1 12 1 3 1 40 1 12 1-29 1 27 1-40 1-5 1 11 1-6 1 14 1 7 1-8 1 10 1 0 1-9 1-15 1-18 1 24 1 13 1-17 1-6 1 5 1-15 1 22 1-19 1 8 1-3 1-12 1-3 1 15 1 18 1-8 1-5 1-22 1 9 1 11 1 27 1-20 1 0 1-1 1 20 1-16 1 6 1-3 1 2 1 8 1-14 1-16 1-9 1 15 1 11 1 20 1 1 1-15 1-11 1 14 1 0 1-1 1-25 1 10 1 12 1-3 1-7 1 6 1-11 1 8 1-14 1 7 1-27 1 28 1-30 1 7 1 26 1-6 1 3 1-22 1 16 1 13 1-11 1 24 1-29 1 21 1-6 1 7 1 8 1-22 1-5 1 21 1-30 1 24 1-3 1 11 1 7 1 9 1-7 1-23 1-13 1 19 1 23 1 12 1-2 1-16 1 33 1 1 1-49 1 14 1-25 1 1 1 4 1 0 1-29 1 5 1 35 1-17 1-25 1 9 1-29 1 26 1-14 1 19 1-20 1 11 1 11 1 10 1 7 1 5 1 24 1-13 1 20 1-23 1-10 1-12 1 13 1-15 1 0 1-1 1-1 1-18 1 22 1 29 1-13 1 38 1-30 1-26 1-22 1 53 1 2 1-28 1-10 1 22 1-24 1 4 1 26 1-6 1-1 1-28 1 13 1 29 1 14 1-15 1 5 1-41 1 26 1-2 1 1 1 15 1 10 1 8 1-5 1-28 1 14 1-24 1-13 1 31 1 25 1-10 1 22 1-37 1 13 1 27 1-1 1 17 1 6 1 6 1 3 1 43 1-22 1-8 1-22 1 0 1-61 1-24 1-88 1-11 1-18 1 14 1 6 1-10 1 30 1-5 1 1 1-1 1 31 1 47 1 2 1-42 1-10 1-6 1 12 1 14 1-7 1-3 1 17 1 2 1 6 1-24 1 51 1-30 1 22 1 0 1-1 1-9 1-19 1 1 1 20 1 14 1-14 1 0 1-15 1 13 1 7 1-11 1 0 1 2 1 8 1-29 1 6 1-17 1 3 1-9 1 28 1-15 1 1 1 2 1-10 1 12 1 12 1-29 1 24 1-7 1 8 1 14 1-26 1 22 1-10 1-25 1 12 1-2 1 33 1-25 1 0 1-9 1 29 1-5 1-6 1 8 1 9 1-25 1 10 1-15 1-4 1-4 1 5 1-10 1 7 1 0 1 10 1-18 1-17 1 20 1 2" stroke="#0000ff"/>
<path d="M55.00 2200l1 0 1 0 1 0 1 0 1 0 1 0 1 17 1 12 1 67 1 40 1 58 1 55 1-31 1 19 1-1 1 6 1 6 1 30 1-34 1 30 1 15 1 17 1 35 1-8 1 21 1 12 1 6 1 25 1 23 1-19 1 14 1 12 1-15 1-11 1-8 1 40 1-8 1 5 1 11 1-37 1-10 1 4 1 17 1-4 1 13 1-14 1 15 1-17 1-15 1 25 1-20 1 28 1-7 1-5 1 9 1 9 1-46 1 15 1 13 1-14 1-15 1-32 1-2 1 25 1-21 1 10 1 11 1 16 1 11 1 9 1-11 1 8 1-21 1-10 1 23 1-19 1 12 1-21 1-6 1 12 1 17 1-5 1-5 1 26 1-24 1-4 1 23 1 8 1-12 1-28 1 13 1 12 1 3 1 12 1 39 1-11 1 1 1-2 1 3 1-4 1-18 1 8 1-48 1-5 1 15 1 0 1 37 1 4 1 14 1 2 1-47 1 32 1 53 1-22 1-21 1-15 1 13 1-12 1 2 1-2 1-6 1 4 1-3 1 37 1-25 1 21 1-14 1 2 1 6 1-6 1 1 1-8 1-7 1 12 1 0 1 3 1-28 1 13 1 27 1-13 1-18 1 17 1 37 1-21 1-4 1-20 1 33 1-20 1 7 1 4 1-18 1-18 1 29 1 19 1-4 1 8 1-25 1 0 1 11 1-13 1-1 1 12 1-4 1-16 1 15 1 17 1-27 1 1 1 8 1 0 1 3 1 7 1 20 1-9 1-7 1-21 1 46 1-27 1-6 1 6 1-40 1 13 1 13 1-22 1 14 1-9 1 15 1 9 1 12 1-19 1-11 1 39 1-41 1 14 1 2 1 7 1 19 1-10 1-26 1-17 1 21 1-24 1 30 1-2 1 8 1-16 1 21 1-19 1-21 1-39 1 25 1 29 1 14 1-13 1 8 1-5 1 34 1-13 1-25 1 20 1 17 1-8 1 7 1-3 1 8 1-12 1 3 1 0 1 7 1-12 1-10 1 8 1-30 1 8 1 20 1 8 1 5 1 19 1 8 1 3 1-47 1-7 1-12 1 0 1 53 1-10 1 7 1-24 1-12 1 16 1-2 1-10 1 39 1-13 1-15 1-13 1-15 1 7 1-5 1 9 1 19 1-7 1-13 1-16 1 15 1 35 1 7 1-16 1-42 1 6 1-6 1-34 1 20 1-18 1 25 1-19 1 28 1-49 1-31 1 53 1 6 1 27 1-29 1 22 1-19 1-5 1-11 1-13 1 28 1 18 1-3 1 26 1-2 1 23 1 0 1-11 1 14 1-36 1 39 1 21 1 3 1-33 1 10 1-17 1-20 1 20 1 18 1-3 1 6 1-7 1 24 1 3 1-19 1 6 1-20 1 3 1 6 1 0 1 6 1-11 1-2 1 6 1 3 1 10 1-18 1 0 1 0 1-23 1 7 1 14 1 3 1 14 1-14 1 3 1-17 1 2 1 0 1 13 1-14 1-28 1 9 1 11 1 4 1 9 1-4 1 5 1 0 1 40 1-21 1 11 1-19 1-4 1 12 1-7 1 13 1 19 1-24 1 17 1-14 1-2 1-4" stroke="#ff00ff"/>
<path d="M33.33 2592l1-392 1 0 1 0 1 0 1 0 1 0 1 0 1 0 1 0 1 0 1 0 1 0 1 0 1 0 1 0 1 0 1 0 1 0 1 0 1 0 1 0 1 0 1 0 1 98 1 161 1 133 1 115 1-7 1-16 1 9 1 29 1 33 1-15 1 31 1-12 1-21 1-37 1 29 1 29 1 5 1 21 1-28 1-8 1-24 1 0 1 41 1-5 1 16 1 5 1-20 1-21 1 34 1-12 1-3 1 5 1-5 1-5 1-7 1 30 1 7 1-11 1 1 1-31 1 24 1 0 1 8 1-6 1 18 1-8 1-10 1-9 1 9 1 13 1 3 1 15 1-26 1-10 1-21 1 26 1 1 1 21 1-21 1 1 1-22 1 33 1-11 1 17 1-36 1-2 1 16 1 0 1 7 1 13 1 9 1-12 1-7 1 9 1 7 1-6 1 7 1 19 1-31 1 14 1-5 1-26 1 6 1-7 1 17 1-9 1 16 1-26 1 33 1-18 1-14 1 21 1-35 1 16 1 2 1-1 1 2 1 9 1 2 1-23 1-3 1-23 1 27 1 40 1 14 1 7 1-17 1-17 1-4 1 21 1-27 1-1 1-21 1-30 1 40 1 42 1-51 1 9 1 16 1-2 1 6 1 16 1-10 1-2 1 20 1-17 1 9 1-22 1 21 1 15 1-27 1-7 1 7 1-21 1 22 1-22 1-1 1 53 1-65 1 20 1 4 1 7 1-21 1 27 1-10 1 5 1 11 1-6 1-19 1 22 1 19 1 13 1-3 1-6 1-3 1 6 1-20 1-16 1-24 1-9 1-25 1 33 1 16 1 9 1 18 1-13 1 6 1 11 1-9 1 2 1-30 1 14 1 25 1-32 1 7 1 7 1-1 1 3 1 8 1-9 1-5 1-12 1 26 1-40 1-28 1 29 1-4 1-31 1 3 1-4 1 22 1-12 1 33 1-43 1 3 1-22 1 47 1-25 1-19 1 21 1 16 1-19 1 16 1 6 1-28 1-2 1 18 1-13 1-43 1 0 1 14 1-2 1 17 1-18 1-10 1 1 1 22 1-16 1 4 1-40 1-4 1-8 1-19 1 14 1 47 1 32 1 35 1 11 1 3 1-29 1-1 1 1 1 6 1 2 1 7 1-23 1-3 1-5 1-2 1 1 1-13 1 12 1-24 1 6 1-1 1-9 1 11 1-19 1 11 1-43 1 19 1-12 1 18 1 10 1-19 1 25 1 42 1-1 1 25 1 5 1 10 1 15 1-29 1-8 1 50 1-45 1-6 1 58 1-2 1-24 1-28 1 82 1-40 1 20 1-21 1-26 1 56 1 4 1-17 1 2 1-2 1-17 1-4 1 1 1-2 1 10 1-17 1-6 1 17 1-10 1 23 1 19 1 21 1 13 1 15 1-11 1 1 1-23 1-26 1 31 1-13 1-8 1 20 1 8 1 3 1 9 1 7 1-27 1 7 1-5 1 19 1-23 1 22 1-11 1-3 1 7 1-41 1 29 1 28 1-4 1 1 1-9 1 2 1-25 1 27 1-7 1-1 1 12 1 5 1 11 1-24 1 1 1-2 1 8 1-25 1 2 1 26 1 12 1-20 1 5 1 4 1 12 1-11 1-7 1 20 1-11 1 7 1-1 1 1 1-16 1 11 1-2 1 20 1-4 1-10 1 9 1 12 1 8 1 8 1-13M62.20 2684 L62.50 3053 62.80 2684M128.87 2777 L129.17 3053 129.47 2777M295.53 2714 L295.83 3053 296.13 2714M362.20 2861 L362.50 3053 362.80 2861M162.20 2818 L162.50 2912 162.80 2818M195.53 2751 L195.83 2883 196.13 2751M228.87 2805 L229.17 2897 229.47 2805M262.20 2716 L262.50 2897 262.80 2716M395.53 2860 L395.83 2941 396.13 2860M374.03 2842 L374.33 2200 374.63 2842M374.70 2870 L375.00 3053 375.30 2870M375.37 2870 L375.67 2200 375.97 2870" stroke="#000000"/>
<path d="M40.00 2200l1 0 1 0 1 0 1 0 1 38 1 45 1 59 1 69 1 39 1 4 1 45 1-2 1-21 1 28 1 6 1 13 1 24 1-17 1 29 1 20 1 6 1-2 1 5 1 21 1 3 1-14 1 13 1 22 1-20 1 0 1 20 1 3 1 0 1 10 1 2 1 15 1-17 1 27 1 13 1 10 1 20 1-20 1-2 1 7 1-6 1 7 1 26 1-22 1 8 1-6 1-35 1 17 1-58 1 17 1-12 1 7 1-2 1 7 1 8 1-23 1 2 1 9 1-12 1 24 1-8 1-19 1-9 1 15 1-3 1-10 1 34 1 7 1 15 1 1 1 18 1-5 1 14 1-26 1 15 1 6 1 8 1-5 1 8 1-10 1-8 1 6 1 8 1 15 1-18 1 28 1-27 1 38 1-14 1 9 1-11 1 16 1-18 1 4 1 5 1 2 1-11 1 4 1-13 1 19 1-3 1 15 1-32 1 7 1-7 1 28 1-35 1 6 1-8 1 24 1-24 1-4 1 28 1-25 1-10 1 39 1-18 1-2 1 30 1-15 1 17 1-8 1 33 1-5 1-25 1-3 1 2 1-7 1 1 1-2 1 6 1 28 1-7 1-4 1-17 1 35 1-2 1-17 1 4 1 15 1 1 1-18 1-14 1 8 1 8 1-2 1 2 1-1 1 6 1 11 1-3 1-5 1-2 1-1 1 6 1 8 1 3 1-15 1 37 1-7 1-5 1-12 1 12 1-1 1-9 1 7 1-22 1-26 1 18 1 23 1-6 1-12 1-15 1-4 1 5 1-14 1-10 1 4 1 14 1 8 1 13 1-16 1-6 1 23 1-16 1-6 1 30 1-6 1-7 1-11 1-17 1 41 1-15 1 28 1-30 1 24 1-24 1 29 1-27 1-9 1 15 1 10 1-9 1-16 1 12 1 26 1-6 1 31 1 3 1-49 1 15 1-27 1-5 1 24 1 2 1-26 1-5 1 2 1 11 1 10 1 1 1 21 1 5 1-4 1-2 1-7 1-54 1 28 1-21 1 14 1 3 1 34 1-36 1 16 1-21 1 37 1-31 1 12 1 17 1 0 1-26 1-10 1 14 1 11 1 41 1-33 1 11 1-8 1-24 1-30 1 21 1 10 1-4 1 35 1-14 1-14 1-3 1 16 1-26 1-12 1 26 1 29 1-5 1-9 1-5 1-11 1-6 1-16 1 23 1 18 1 27 1-35 1 18 1 15 1-51 1 22 1-19 1 36 1-5 1-23 1 10 1-12 1 5 1 31 1-22 1 18 1-14 1-14 1 14 1 2 1-17 1 31 1 20 1-8 1 18 1 7 1-8 1 5 1 0 1 0 1-23 1-5 1 12 1-9 1-7 1 14 1 17 1-7 1 0 1 21 1-29 1-5 1 7 1-7 1 3 1-3 1 13 1 16 1-10 1 20 1-18 1 9 1-3 1-14 1 2 1 9 1-16 1 12 1-3 1 23 1 2 1-5 1-2 1 2 1-20 1 19 1 12 1-7 1 15 1-2 1 11 1-17 1 5 1-18 1 5 1-9 1 9 1 20 1-11 1-9 1-16 1 16 1 5 1 0 1-15 1 19 1 2 1-10 1-3 1 7 1 10 1 4 1-26 1 21 1 4 1-4 1-22 1 7 1 9 1 13 1 7 1 4" stroke="#000000"/>
</g></g>
<rect x="753.9" y="593.5" width="422.0" height="145.4" fill="none" stroke="#7a7a7a" stroke-width="1"/>
<path d="M838.3,593.5v4.3M838.3,738.9v-4.3M922.7,593.5v4.3M922.7,738.9v-4.3M1007.1,593.5v4.3M1007.1,738.9v-4.3M1091.5,593.5v4.3M1091.5,738.9v-4.3M753.9,690.4h4.3M1175.9,690.4h-4.3M753.9,642.0h4.3M1175.9,642.0h-4.3" stroke="#7a7a7a" stroke-width="1" fill="none"/>
<text transform="translate(759.8,746.9) rotate(-90)" font-size="16.3" text-anchor="end" font-family="Liberation Sans, sans-serif" fill="#262626" >0</text>
<text transform="translate(844.2,746.9) rotate(-90)" font-size="16.3" text-anchor="end" font-family="Liberation Sans, sans-serif" fill="#262626" >5</text>
<text transform="translate(928.6,746.9) rotate(-90)" font-size="16.3" text-anchor="end" font-family="Liberation Sans, sans-serif" fill="#262626" >10</text>
<text transform="translate(1013.0,746.9) rotate(-90)" font-size="16.3" text-anchor="end" font-family="Liberation Sans, sans-serif" fill="#262626" >15</text>
<text transform="translate(1097.4,746.9) rotate(-90)" font-size="16.3" text-anchor="end" font-family="Liberation Sans, sans-serif" fill="#262626" >20</text>
<text transform="translate(1181.8,746.9) rotate(-90)" font-size="16.3" text-anchor="end" font-family="Liberation Sans, sans-serif" fill="#262626" >25</text>
<text transform="translate(1197.5,739.7) rotate(-90)" font-size="16.3" text-anchor="middle" font-family="Liberation Sans, sans-serif" fill="#262626" >2</text>
<text transform="translate(1197.5,691.2) rotate(-90)" font-size="16.3" text-anchor="middle" font-family="Liberation Sans, sans-serif" fill="#262626" >4</text>
<text transform="translate(1197.5,642.8) rotate(-90)" font-size="16.3" text-anchor="middle" font-family="Liberation Sans, sans-serif" fill="#262626" >6</text>
<text transform="translate(1197.5,594.3) rotate(-90)" font-size="16.3" text-anchor="middle" font-family="Liberation Sans, sans-serif" fill="#262626" >8</text>
<text xml:space="preserve" transform="translate(684.2,117.1) rotate(-90)" font-size="20" text-anchor="middle" font-family="Liberation Serif, serif" fill="#404040" textLength="64.5" lengthAdjust="spacingAndGlyphs"><tspan font-style="italic">f</tspan><tspan dy="4.6" font-style="italic" font-size="14">s</tspan><tspan dy="-4.6"> (kPa)</tspan></text>
<text xml:space="preserve" transform="translate(684.2,380.5) rotate(-90)" font-size="20" text-anchor="middle" font-family="Liberation Serif, serif" fill="#404040" textLength="67.0" lengthAdjust="spacingAndGlyphs"><tspan font-style="italic">u</tspan><tspan dy="4.6" font-size="14">2</tspan><tspan dy="-4.6"> (kPa)</tspan></text>
<text xml:space="preserve" transform="translate(684.2,643.8) rotate(-90)" font-size="20" text-anchor="middle" font-family="Liberation Serif, serif" fill="#404040" textLength="60.5" lengthAdjust="spacingAndGlyphs"><tspan font-style="italic">q</tspan><tspan dy="4.6" font-style="italic" font-size="14">t</tspan><tspan dy="-4.6"> (kPa)</tspan></text>
<text xml:space="preserve" transform="translate(1218.3,92.2) rotate(-90)" font-size="20" text-anchor="middle" font-family="Liberation Serif, serif" fill="#404040" textLength="99.0" lengthAdjust="spacingAndGlyphs"><tspan>(</tspan><tspan font-style="italic">q</tspan><tspan dy="4.6" font-style="italic" font-size="14">t</tspan><tspan dy="-4.6"> − </tspan><tspan font-style="italic">u</tspan><tspan dy="4.6" font-size="14">2</tspan><tspan dy="-4.6">)/</tspan><tspan font-style="italic">σ</tspan><tspan dy="-6.5" font-size="15">′</tspan><tspan dy="11.7" dx="-5.5" font-style="italic" font-size="14">v</tspan><tspan font-size="14">0</tspan></text>
<text xml:space="preserve" transform="translate(1218.3,283.3) rotate(-90)" font-size="20" text-anchor="middle" font-family="Liberation Serif, serif" fill="#404040" textLength="49.0" lengthAdjust="spacingAndGlyphs"><tspan font-style="italic">f</tspan><tspan dy="4.6" font-style="italic" font-size="14">s</tspan><tspan dy="-4.6">/</tspan><tspan font-style="italic">σ</tspan><tspan dy="-6.5" font-size="15">′</tspan><tspan dy="11.7" dx="-5.5" font-style="italic" font-size="14">v</tspan><tspan font-size="14">0</tspan></text>
<text xml:space="preserve" transform="translate(1218.3,474.6) rotate(-90)" font-size="20" text-anchor="middle" font-family="Liberation Serif, serif" fill="#404040" textLength="66.4" lengthAdjust="spacingAndGlyphs"><tspan>Δ</tspan><tspan font-style="italic">u</tspan><tspan dy="4.6" font-size="14">2</tspan><tspan dy="-4.6">/</tspan><tspan font-style="italic">σ</tspan><tspan dy="-6.5" font-size="15">′</tspan><tspan dy="11.7" dx="-5.5" font-style="italic" font-size="14">v</tspan><tspan font-size="14">0</tspan></text>
<text xml:space="preserve" transform="translate(1218.3,666.5) rotate(-90)" font-size="20" text-anchor="middle" font-family="Liberation Serif, serif" fill="#404040" textLength="20.0" lengthAdjust="spacingAndGlyphs"><tspan font-style="italic">Q</tspan><tspan dy="4.6" font-style="italic" font-size="14">t</tspan></text>
<text xml:space="preserve" transform="translate(714.2,402.4) rotate(-90)" font-size="20" text-anchor="middle" font-family="Liberation Serif, serif" fill="#404040" textLength="21.3" lengthAdjust="spacingAndGlyphs"><tspan>(a)</tspan></text>
<text xml:space="preserve" transform="translate(1248.3,403.1) rotate(-90)" font-size="20" text-anchor="middle" font-family="Liberation Serif, serif" fill="#404040" textLength="21.3" lengthAdjust="spacingAndGlyphs"><tspan>(b)</tspan></text>
<text xml:space="preserve" transform="translate(428.0,774.6) rotate(180)" font-size="20" text-anchor="middle" font-family="Liberation Serif, serif" fill="#404040" textLength="43.5" lengthAdjust="spacingAndGlyphs"><tspan font-style="italic">z</tspan><tspan> (m)</tspan></text>
<text xml:space="preserve" transform="translate(964.9,774.6) rotate(180)" font-size="20" text-anchor="middle" font-family="Liberation Serif, serif" fill="#404040" textLength="43.5" lengthAdjust="spacingAndGlyphs"><tspan font-style="italic">z</tspan><tspan> (m)</tspan></text>
<rect x="17.2" y="278.3" width="161" height="248.5" fill="#fff" stroke="#1a1a1a" stroke-width="2.4"/>
<path d="M35.9,436.6V517.8" stroke="#ff0000" stroke-width="2.1" fill="none"/>
<text transform="translate(42.4,428.7) rotate(-90)" font-size="27" text-anchor="start" font-family="Liberation Serif, serif" fill="#111" textLength="58.9" lengthAdjust="spacing">CPT.</text>
<text transform="translate(42.4,362.9) rotate(-90)" font-size="27" text-anchor="start" font-family="Liberation Serif, serif" fill="#111" textLength="77" lengthAdjust="spacing">Type 1</text>
<path d="M66.6,436.6V517.8" stroke="#000000" stroke-width="2.1" fill="none"/>
<text transform="translate(73.1,428.7) rotate(-90)" font-size="27" text-anchor="start" font-family="Liberation Serif, serif" fill="#111" textLength="58.9" lengthAdjust="spacing">CPT.</text>
<text transform="translate(73.1,362.9) rotate(-90)" font-size="27" text-anchor="start" font-family="Liberation Serif, serif" fill="#111" textLength="77" lengthAdjust="spacing">Type 2</text>
<path d="M97.3,436.6V517.8" stroke="#00ffff" stroke-width="2.1" fill="none"/>
<text transform="translate(103.8,428.7) rotate(-90)" font-size="27" text-anchor="start" font-family="Liberation Serif, serif" fill="#111" textLength="58.9" lengthAdjust="spacing">CPT.</text>
<text transform="translate(103.8,362.9) rotate(-90)" font-size="27" text-anchor="start" font-family="Liberation Serif, serif" fill="#111" textLength="77" lengthAdjust="spacing">Type 3</text>
<path d="M128.0,436.6V517.8" stroke="#0000ff" stroke-width="2.1" fill="none"/>
<text transform="translate(134.5,428.7) rotate(-90)" font-size="27" text-anchor="start" font-family="Liberation Serif, serif" fill="#111" textLength="58.9" lengthAdjust="spacing">CPT.</text>
<text transform="translate(134.5,362.9) rotate(-90)" font-size="27" text-anchor="start" font-family="Liberation Serif, serif" fill="#111" textLength="77" lengthAdjust="spacing">Type 4</text>
<path d="M158.7,436.6V517.8" stroke="#ff00ff" stroke-width="2.1" fill="none"/>
<text transform="translate(165.2,428.7) rotate(-90)" font-size="27" text-anchor="start" font-family="Liberation Serif, serif" fill="#111" textLength="58.9" lengthAdjust="spacing">CPT.</text>
<text transform="translate(165.2,362.9) rotate(-90)" font-size="27" text-anchor="start" font-family="Liberation Serif, serif" fill="#111" textLength="77" lengthAdjust="spacing">Type 5</text>
</svg>
</body></html>
